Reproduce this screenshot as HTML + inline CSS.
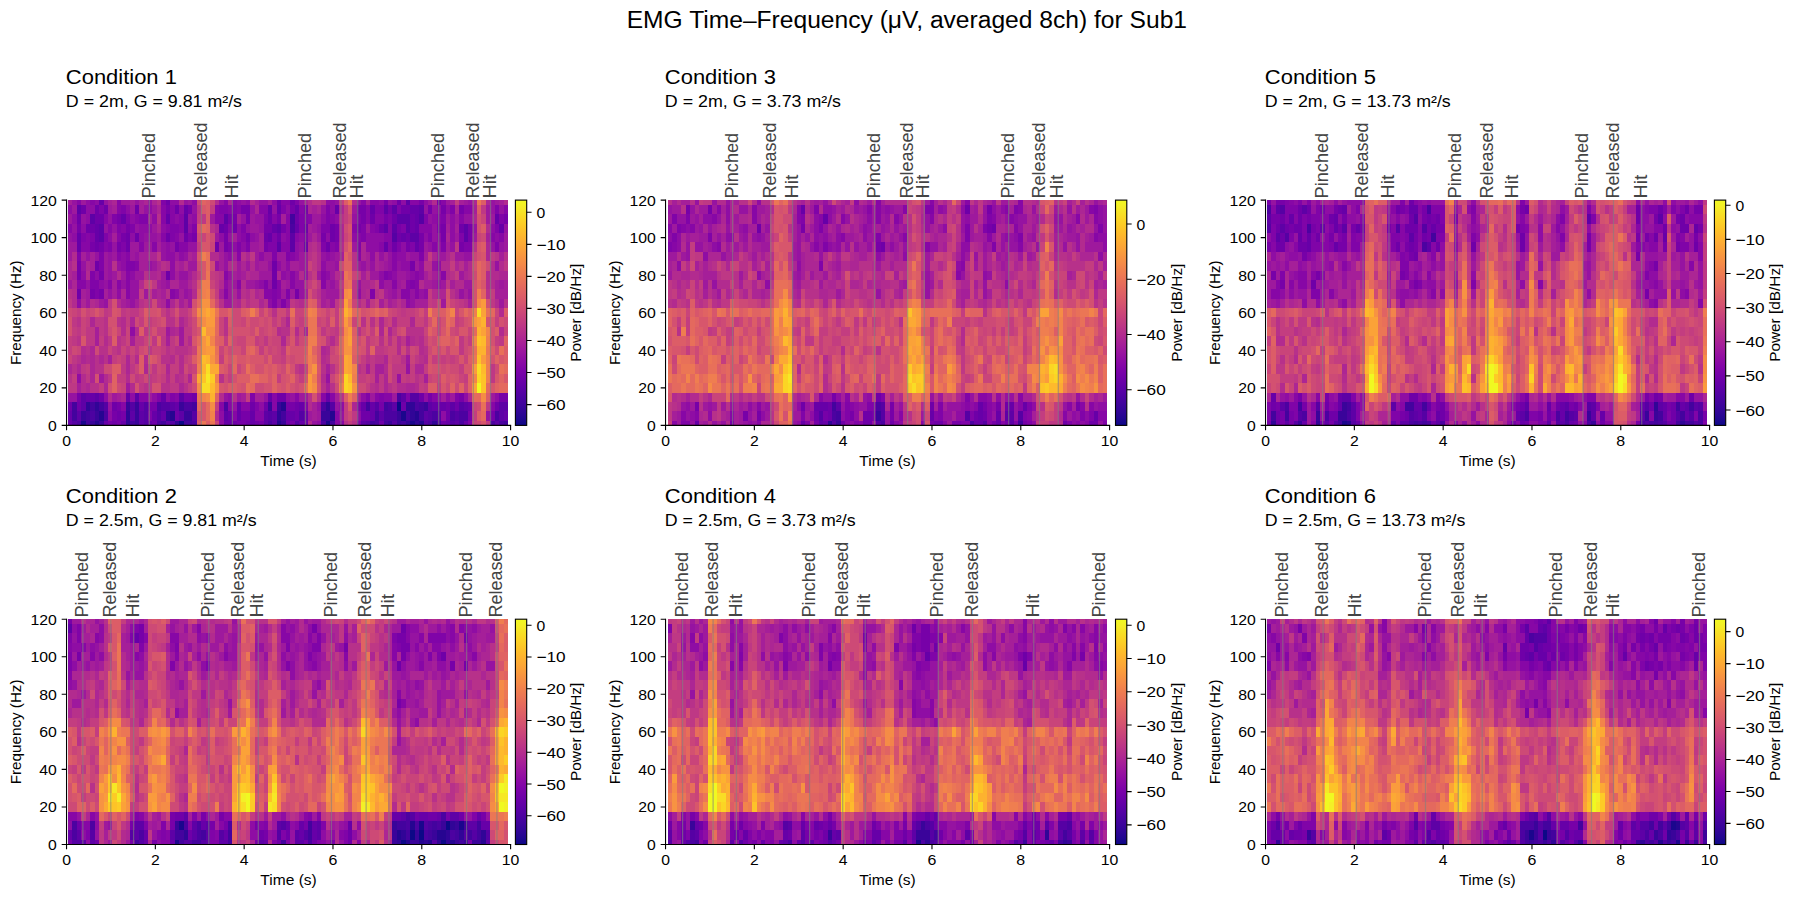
<!DOCTYPE html>
<html><head><meta charset="utf-8"><style>html,body{margin:0;padding:0;background:#fff;width:1793px;height:897px;overflow:hidden}svg{display:block}text{font-family:"Liberation Sans",sans-serif}</style></head><body>
<svg width="1793" height="897" viewBox="0 0 1793 897" font-family="Liberation Sans, sans-serif">
<rect width="1793" height="897" fill="#fff"/>
<defs><linearGradient id="pl" x1="0" y1="0" x2="0" y2="1"><stop offset="0.000" stop-color="#f0f921"/><stop offset="0.031" stop-color="#f4ed27"/><stop offset="0.062" stop-color="#f8df25"/><stop offset="0.094" stop-color="#fcd225"/><stop offset="0.125" stop-color="#fdc527"/><stop offset="0.156" stop-color="#feb82c"/><stop offset="0.188" stop-color="#fdac33"/><stop offset="0.219" stop-color="#fba139"/><stop offset="0.250" stop-color="#f89540"/><stop offset="0.281" stop-color="#f58b47"/><stop offset="0.312" stop-color="#f0804e"/><stop offset="0.344" stop-color="#eb7655"/><stop offset="0.375" stop-color="#e66c5c"/><stop offset="0.406" stop-color="#e06363"/><stop offset="0.438" stop-color="#da5a6a"/><stop offset="0.469" stop-color="#d35171"/><stop offset="0.500" stop-color="#cc4778"/><stop offset="0.531" stop-color="#c43e7f"/><stop offset="0.562" stop-color="#bc3587"/><stop offset="0.594" stop-color="#b32c8e"/><stop offset="0.625" stop-color="#aa2395"/><stop offset="0.656" stop-color="#a01a9c"/><stop offset="0.688" stop-color="#9511a1"/><stop offset="0.719" stop-color="#8a09a5"/><stop offset="0.750" stop-color="#7e03a8"/><stop offset="0.781" stop-color="#7201a8"/><stop offset="0.812" stop-color="#6600a7"/><stop offset="0.844" stop-color="#5901a5"/><stop offset="0.875" stop-color="#4c02a1"/><stop offset="0.906" stop-color="#3f049c"/><stop offset="0.938" stop-color="#310597"/><stop offset="0.969" stop-color="#220690"/><stop offset="1.000" stop-color="#0d0887"/></linearGradient></defs>
<g transform="translate(67.940 200.100) scale(4.44505 4.69375)" shape-rendering="crispEdges">
<path fill="#0d0887" d="M25 47h1v1h-1zM74 43h1v2h-1z"/>
<path fill="#1b068d" d="M3 47h1v1h-1zM58 47h1v1h-1zM77 47h1v1h-1zM75 45h1v2h-1z"/>
<path fill="#260591" d="M6 47h1v1h-1zM47 47h1v1h-1zM79 47h1v1h-1zM7 45h1v2h-1zM23 45h1v2h-1zM59 45h1v2h-1zM78 45h1v2h-1zM48 43h1v2h-1z"/>
<path fill="#310597" d="M13 47h1v1h-1zM24 47h1v1h-1zM76 47h1v1h-1zM78 47h1v1h-1zM82 47h1v1h-1zM13 45h1v2h-1zM22 45h1v2h-1zM47 45h1v2h-1zM77 45h1v2h-1zM4 43h1v2h-1zM6 43h1v2h-1zM58 43h1v2h-1zM76 43h2v2h-2z"/>
<path fill="#3a049a" d="M5 47h1v1h-1zM7 47h1v1h-1zM15 47h1v1h-1zM48 47h1v1h-1zM72 47h1v1h-1zM74 47h1v1h-1zM3 45h1v2h-1zM6 45h1v2h-1zM15 45h1v2h-1zM26 45h2v2h-2zM57 45h2v2h-2zM74 45h1v2h-1zM13 43h1v2h-1zM15 43h1v2h-1zM25 43h1v2h-1zM45 43h1v2h-1zM47 43h1v2h-1zM80 43h1v2h-1z"/>
<path fill="#44039e" d="M4 47h1v1h-1zM14 47h1v1h-1zM21 47h1v1h-1zM26 47h2v1h-2zM59 47h1v1h-1zM68 47h1v1h-1zM71 47h1v1h-1zM75 47h1v1h-1zM98 47h1v1h-1zM1 45h1v2h-1zM4 45h1v2h-1zM48 45h1v2h-1zM69 45h1v2h-1zM76 45h1v2h-1zM79 45h1v2h-1zM1 43h1v2h-1zM5 43h1v2h-1zM7 43h1v2h-1zM28 43h1v2h-1zM67 43h1v2h-1zM71 43h1v2h-1zM79 43h1v2h-1zM50 3h1v2h-1z"/>
<path fill="#4c02a1" d="M2 47h1v1h-1zM20 47h1v1h-1zM28 47h1v1h-1zM45 47h1v1h-1zM57 47h1v1h-1zM69 47h1v1h-1zM81 47h1v1h-1zM83 47h1v1h-1zM88 47h1v1h-1zM95 47h1v1h-1zM97 47h1v1h-1zM5 45h1v2h-1zM8 45h1v2h-1zM71 45h3v2h-3zM82 45h1v2h-1zM86 45h1v2h-1zM88 45h2v2h-2zM96 45h1v2h-1zM20 43h1v2h-1zM26 43h2v2h-2zM35 43h1v2h-1zM57 43h1v2h-1zM72 43h1v2h-1zM78 43h1v2h-1zM74 41h1v2h-1zM50 5h1v2h-1z"/>
<path fill="#5601a4" d="M1 47h1v1h-1zM17 47h1v1h-1zM23 47h1v1h-1zM51 47h1v1h-1zM67 47h1v1h-1zM73 47h1v1h-1zM80 47h1v1h-1zM86 47h1v1h-1zM17 45h1v2h-1zM20 45h1v2h-1zM28 45h1v2h-1zM45 45h1v2h-1zM52 45h1v2h-1zM81 45h1v2h-1zM83 45h1v2h-1zM87 45h1v2h-1zM8 43h1v2h-1zM14 43h1v2h-1zM17 43h1v2h-1zM21 43h2v2h-2zM59 43h1v2h-1zM69 43h1v2h-1zM88 43h1v2h-1zM77 41h2v2h-2zM73 7h1v2h-1zM79 3h1v2h-1z"/>
<path fill="#5e01a6" d="M16 47h1v1h-1zM22 47h1v1h-1zM44 47h1v1h-1zM46 47h1v1h-1zM66 47h1v1h-1zM87 47h1v1h-1zM96 47h1v1h-1zM2 45h1v2h-1zM14 45h1v2h-1zM16 45h1v2h-1zM25 45h1v2h-1zM35 45h1v2h-1zM44 45h1v2h-1zM46 45h1v2h-1zM70 45h1v2h-1zM80 45h1v2h-1zM97 45h1v2h-1zM3 43h1v2h-1zM23 43h1v2h-1zM73 43h1v2h-1zM81 43h1v2h-1zM86 43h1v2h-1zM89 43h1v2h-1zM97 43h2v2h-2zM3 41h1v2h-1zM6 41h1v2h-1zM15 41h1v2h-1zM25 41h1v2h-1zM75 41h1v2h-1zM47 9h1v2h-1zM50 9h1v2h-1zM7 7h1v2h-1zM50 7h1v2h-1zM77 7h2v2h-2zM89 7h1v2h-1zM7 5h1v2h-1zM26 5h1v2h-1zM47 5h1v2h-1zM71 5h1v2h-1zM73 5h1v2h-1zM76 5h1v2h-1zM89 5h1v2h-1zM5 3h1v2h-1zM26 3h1v2h-1zM35 3h1v2h-1zM74 3h3v2h-3zM2 1h1v2h-1zM71 1h1v2h-1zM73 1h1v2h-1zM79 1h1v2h-1zM76 0h1v1h-1z"/>
<path fill="#6700a8" d="M0 47h1v1h-1zM8 47h1v1h-1zM12 47h1v1h-1zM18 47h1v1h-1zM35 47h2v1h-2zM41 47h1v1h-1zM52 47h2v1h-2zM85 47h1v1h-1zM89 47h1v1h-1zM0 45h1v2h-1zM19 45h1v2h-1zM21 45h1v2h-1zM36 45h1v2h-1zM38 45h1v2h-1zM41 45h1v2h-1zM49 45h2v2h-2zM53 45h1v2h-1zM68 45h1v2h-1zM98 45h1v2h-1zM16 43h1v2h-1zM24 43h1v2h-1zM38 43h1v2h-1zM52 43h1v2h-1zM66 43h1v2h-1zM68 43h1v2h-1zM82 43h3v2h-3zM90 43h1v2h-1zM4 41h2v2h-2zM13 41h1v2h-1zM21 41h1v2h-1zM45 41h1v2h-1zM58 41h1v2h-1zM2 9h1v2h-1zM71 9h1v2h-1zM78 9h1v2h-1zM2 7h1v2h-1zM6 7h1v2h-1zM45 7h1v2h-1zM75 7h1v2h-1zM6 5h1v2h-1zM34 5h1v2h-1zM46 5h1v2h-1zM51 5h1v2h-1zM78 5h1v2h-1zM97 5h1v2h-1zM12 3h1v2h-1zM22 3h1v2h-1zM78 3h1v2h-1zM96 3h1v2h-1zM26 1h1v2h-1zM45 1h1v2h-1zM47 1h1v2h-1zM51 1h1v2h-1zM60 1h1v2h-1zM68 1h1v2h-1zM77 1h2v2h-2zM7 0h1v1h-1z"/>
<path fill="#6f00a8" d="M10 47h1v1h-1zM19 47h1v1h-1zM37 47h1v1h-1zM40 47h1v1h-1zM42 47h1v1h-1zM49 47h1v1h-1zM70 47h1v1h-1zM84 47h1v1h-1zM11 45h1v2h-1zM24 45h1v2h-1zM51 45h1v2h-1zM66 45h2v2h-2zM85 45h1v2h-1zM0 43h1v2h-1zM2 43h1v2h-1zM10 43h1v2h-1zM41 43h1v2h-1zM44 43h1v2h-1zM51 43h1v2h-1zM75 43h1v2h-1zM85 43h1v2h-1zM87 43h1v2h-1zM96 43h1v2h-1zM7 41h1v2h-1zM28 41h1v2h-1zM47 41h2v2h-2zM79 41h1v2h-1zM2 19h1v2h-1zM46 17h1v2h-1zM22 15h1v2h-1zM46 15h1v2h-1zM6 13h1v2h-1zM46 13h1v2h-1zM6 9h1v2h-1zM13 9h1v2h-1zM33 9h1v2h-1zM53 9h1v2h-1zM58 9h1v2h-1zM73 9h1v2h-1zM13 7h1v2h-1zM15 7h1v2h-1zM22 7h1v2h-1zM26 7h1v2h-1zM44 7h1v2h-1zM47 7h1v2h-1zM59 7h1v2h-1zM74 7h1v2h-1zM76 7h1v2h-1zM4 5h2v2h-2zM35 5h1v2h-1zM37 5h1v2h-1zM53 5h1v2h-1zM59 5h1v2h-1zM70 5h1v2h-1zM77 5h1v2h-1zM88 5h1v2h-1zM2 3h1v2h-1zM6 3h2v2h-2zM45 3h1v2h-1zM51 3h1v2h-1zM68 3h1v2h-1zM73 3h1v2h-1zM77 3h1v2h-1zM3 1h1v2h-1zM6 1h1v2h-1zM8 1h1v2h-1zM15 1h1v2h-1zM24 1h1v2h-1zM75 1h2v2h-2zM22 0h1v1h-1zM47 0h1v1h-1zM50 0h1v1h-1zM74 0h1v1h-1z"/>
<path fill="#7701a8" d="M9 47h1v1h-1zM11 47h1v1h-1zM38 47h2v1h-2zM43 47h1v1h-1zM50 47h1v1h-1zM10 45h1v2h-1zM12 45h1v2h-1zM39 45h2v2h-2zM90 45h1v2h-1zM95 45h1v2h-1zM11 43h1v2h-1zM18 43h2v2h-2zM49 43h2v2h-2zM70 43h1v2h-1zM2 41h1v2h-1zM26 41h2v2h-2zM81 41h1v2h-1zM88 41h1v2h-1zM97 41h2v2h-2zM5 19h1v2h-1zM7 19h1v2h-1zM51 19h1v2h-1zM2 15h1v2h-1zM7 15h1v2h-1zM2 13h1v2h-1zM77 13h1v2h-1zM5 9h1v2h-1zM7 9h1v2h-1zM11 9h1v2h-1zM24 9h1v2h-1zM35 9h1v2h-1zM44 9h1v2h-1zM76 9h1v2h-1zM79 9h1v2h-1zM88 9h1v2h-1zM12 7h1v2h-1zM28 7h1v2h-1zM35 7h1v2h-1zM40 7h1v2h-1zM57 7h1v2h-1zM60 7h1v2h-1zM79 7h1v2h-1zM84 7h1v2h-1zM90 7h1v2h-1zM2 5h1v2h-1zM13 5h1v2h-1zM44 5h2v2h-2zM48 5h1v2h-1zM60 5h1v2h-1zM65 5h1v2h-1zM74 5h1v2h-1zM84 5h1v2h-1zM90 5h1v2h-1zM11 3h1v2h-1zM36 3h2v2h-2zM40 3h1v2h-1zM47 3h1v2h-1zM66 3h1v2h-1zM71 3h1v2h-1zM98 3h1v2h-1zM22 1h1v2h-1zM27 1h1v2h-1zM39 1h2v2h-2zM50 1h1v2h-1zM53 1h1v2h-1zM65 1h2v2h-2zM72 1h1v2h-1zM81 1h1v2h-1zM84 1h1v2h-1zM88 1h1v2h-1zM71 0h1v1h-1zM79 0h1v1h-1zM83 0h1v1h-1z"/>
<path fill="#8004a8" d="M65 47h1v1h-1zM90 47h1v1h-1zM18 45h1v2h-1zM42 43h1v2h-1zM53 43h1v2h-1zM65 43h1v2h-1zM20 41h1v2h-1zM23 41h1v2h-1zM41 41h1v2h-1zM67 41h1v2h-1zM70 41h1v2h-1zM76 41h1v2h-1zM87 41h1v2h-1zM46 21h1v2h-1zM48 21h1v2h-1zM6 19h1v2h-1zM46 19h1v2h-1zM49 19h1v2h-1zM68 19h1v2h-1zM5 17h2v2h-2zM44 17h1v2h-1zM77 17h1v2h-1zM5 15h1v2h-1zM71 15h1v2h-1zM7 13h1v2h-1zM13 13h2v2h-2zM2 11h1v2h-1zM7 11h1v2h-1zM46 11h1v2h-1zM49 11h1v2h-1zM79 11h1v2h-1zM9 9h1v2h-1zM12 9h1v2h-1zM36 9h1v2h-1zM38 9h1v2h-1zM40 9h1v2h-1zM45 9h2v2h-2zM57 9h1v2h-1zM60 9h1v2h-1zM65 9h1v2h-1zM74 9h1v2h-1zM77 9h1v2h-1zM84 9h1v2h-1zM89 9h2v2h-2zM96 9h1v2h-1zM3 7h1v2h-1zM5 7h1v2h-1zM8 7h1v2h-1zM23 7h1v2h-1zM27 7h1v2h-1zM46 7h1v2h-1zM53 7h1v2h-1zM66 7h1v2h-1zM81 7h1v2h-1zM88 7h1v2h-1zM11 5h1v2h-1zM14 5h1v2h-1zM23 5h2v2h-2zM28 5h1v2h-1zM39 5h1v2h-1zM52 5h1v2h-1zM57 5h2v2h-2zM66 5h1v2h-1zM69 5h1v2h-1zM75 5h1v2h-1zM83 5h1v2h-1zM96 5h1v2h-1zM10 3h1v2h-1zM13 3h1v2h-1zM16 3h2v2h-2zM44 3h1v2h-1zM52 3h2v2h-2zM58 3h1v2h-1zM65 3h1v2h-1zM72 3h1v2h-1zM80 3h1v2h-1zM84 3h1v2h-1zM97 3h1v2h-1zM7 1h1v2h-1zM12 1h1v2h-1zM34 1h2v2h-2zM37 1h1v2h-1zM48 1h1v2h-1zM58 1h1v2h-1zM69 1h2v2h-2zM74 1h1v2h-1zM86 1h1v2h-1zM96 1h1v2h-1zM21 0h1v1h-1zM51 0h1v1h-1z"/>
<path fill="#8707a6" d="M60 47h2v1h-2zM37 45h1v2h-1zM42 45h2v2h-2zM60 45h1v2h-1zM12 43h1v2h-1zM34 43h1v2h-1zM36 43h1v2h-1zM39 43h2v2h-2zM46 43h1v2h-1zM95 43h1v2h-1zM16 41h2v2h-2zM24 41h1v2h-1zM46 41h1v2h-1zM51 41h1v2h-1zM57 41h1v2h-1zM59 41h1v2h-1zM69 41h1v2h-1zM71 41h2v2h-2zM82 41h1v2h-1zM13 19h1v2h-1zM23 19h1v2h-1zM35 19h1v2h-1zM44 19h2v2h-2zM47 19h1v2h-1zM75 19h2v2h-2zM78 19h1v2h-1zM2 17h2v2h-2zM9 17h1v2h-1zM11 17h1v2h-1zM13 17h1v2h-1zM38 17h1v2h-1zM47 17h1v2h-1zM50 17h1v2h-1zM57 17h1v2h-1zM73 17h1v2h-1zM76 17h1v2h-1zM78 17h1v2h-1zM13 15h1v2h-1zM35 15h1v2h-1zM50 15h1v2h-1zM57 15h1v2h-1zM72 15h1v2h-1zM78 15h1v2h-1zM84 15h1v2h-1zM15 13h1v2h-1zM73 13h1v2h-1zM11 11h1v2h-1zM13 11h1v2h-1zM38 11h1v2h-1zM50 11h1v2h-1zM65 11h1v2h-1zM73 11h1v2h-1zM3 9h2v2h-2zM8 9h1v2h-1zM16 9h1v2h-1zM19 9h1v2h-1zM25 9h2v2h-2zM48 9h2v2h-2zM59 9h1v2h-1zM70 9h1v2h-1zM72 9h1v2h-1zM82 9h1v2h-1zM4 7h1v2h-1zM11 7h1v2h-1zM21 7h1v2h-1zM24 7h1v2h-1zM39 7h1v2h-1zM49 7h1v2h-1zM51 7h1v2h-1zM65 7h1v2h-1zM71 7h2v2h-2zM95 7h1v2h-1zM97 7h1v2h-1zM0 5h1v2h-1zM9 5h1v2h-1zM12 5h1v2h-1zM22 5h1v2h-1zM25 5h1v2h-1zM36 5h1v2h-1zM49 5h1v2h-1zM64 5h1v2h-1zM68 5h1v2h-1zM72 5h1v2h-1zM79 5h3v2h-3zM8 3h1v2h-1zM15 3h1v2h-1zM21 3h1v2h-1zM23 3h1v2h-1zM25 3h1v2h-1zM33 3h2v2h-2zM46 3h1v2h-1zM49 3h1v2h-1zM54 3h1v2h-1zM59 3h1v2h-1zM67 3h1v2h-1zM69 3h2v2h-2zM83 3h1v2h-1zM88 3h1v2h-1zM11 1h1v2h-1zM21 1h1v2h-1zM23 1h1v2h-1zM33 1h1v2h-1zM36 1h1v2h-1zM38 1h1v2h-1zM43 1h2v2h-2zM52 1h1v2h-1zM67 1h1v2h-1zM89 1h2v2h-2zM98 1h1v2h-1zM2 0h1v1h-1zM5 0h1v1h-1zM11 0h1v1h-1zM35 0h1v1h-1zM37 0h1v1h-1zM48 0h2v1h-2zM66 0h1v1h-1zM68 0h2v1h-2zM77 0h2v1h-2zM84 0h1v1h-1z"/>
<path fill="#8f0da4" d="M34 47h1v1h-1zM56 47h1v1h-1zM9 45h1v2h-1zM34 45h1v2h-1zM65 45h1v2h-1zM84 45h1v2h-1zM43 43h1v2h-1zM61 43h1v2h-1zM8 41h1v2h-1zM14 41h1v2h-1zM19 41h1v2h-1zM22 41h1v2h-1zM36 41h1v2h-1zM49 41h1v2h-1zM66 41h1v2h-1zM80 41h1v2h-1zM83 41h1v2h-1zM85 41h1v2h-1zM89 41h1v2h-1zM96 41h1v2h-1zM2 37h1v2h-1zM14 27h1v2h-1zM2 21h1v2h-1zM22 21h1v2h-1zM45 21h1v2h-1zM76 21h1v2h-1zM11 19h1v2h-1zM24 19h1v2h-1zM65 19h1v2h-1zM80 19h1v2h-1zM7 17h1v2h-1zM35 17h1v2h-1zM43 17h1v2h-1zM70 17h1v2h-1zM3 15h1v2h-1zM6 15h1v2h-1zM14 15h1v2h-1zM23 15h1v2h-1zM48 15h1v2h-1zM58 15h1v2h-1zM70 15h1v2h-1zM73 15h1v2h-1zM77 15h1v2h-1zM79 15h1v2h-1zM12 13h1v2h-1zM23 13h1v2h-1zM47 13h1v2h-1zM49 13h1v2h-1zM57 13h1v2h-1zM75 13h2v2h-2zM79 13h1v2h-1zM83 13h1v2h-1zM12 11h1v2h-1zM22 11h2v2h-2zM25 11h1v2h-1zM36 11h1v2h-1zM43 11h1v2h-1zM51 11h1v2h-1zM58 11h1v2h-1zM68 11h1v2h-1zM74 11h2v2h-2zM22 9h1v2h-1zM37 9h1v2h-1zM39 9h1v2h-1zM51 9h1v2h-1zM67 9h3v2h-3zM75 9h1v2h-1zM1 7h1v2h-1zM9 7h1v2h-1zM14 7h1v2h-1zM16 7h1v2h-1zM34 7h1v2h-1zM38 7h1v2h-1zM41 7h1v2h-1zM48 7h1v2h-1zM52 7h1v2h-1zM58 7h1v2h-1zM64 7h1v2h-1zM67 7h4v2h-4zM80 7h1v2h-1zM83 7h1v2h-1zM86 7h1v2h-1zM96 7h1v2h-1zM3 5h1v2h-1zM16 5h3v2h-3zM21 5h1v2h-1zM27 5h1v2h-1zM38 5h1v2h-1zM86 5h1v2h-1zM95 5h1v2h-1zM1 3h1v2h-1zM4 3h1v2h-1zM14 3h1v2h-1zM19 3h1v2h-1zM24 3h1v2h-1zM28 3h1v2h-1zM57 3h1v2h-1zM60 3h1v2h-1zM82 3h1v2h-1zM86 3h1v2h-1zM0 1h1v2h-1zM4 1h2v2h-2zM13 1h1v2h-1zM18 1h1v2h-1zM25 1h1v2h-1zM49 1h1v2h-1zM59 1h1v2h-1zM83 1h1v2h-1zM85 1h1v2h-1zM4 0h1v1h-1zM6 0h1v1h-1zM23 0h2v1h-2zM28 0h1v1h-1zM38 0h1v1h-1zM40 0h1v1h-1zM46 0h1v1h-1zM58 0h2v1h-2zM70 0h1v1h-1zM73 0h1v1h-1zM75 0h1v1h-1zM80 0h1v1h-1z"/>
<path fill="#9613a1" d="M55 47h1v1h-1zM61 45h1v2h-1zM94 45h1v2h-1zM9 43h1v2h-1zM37 43h1v2h-1zM56 43h1v2h-1zM60 43h1v2h-1zM0 41h2v2h-2zM35 41h1v2h-1zM44 41h1v2h-1zM50 41h1v2h-1zM58 37h1v2h-1zM74 37h1v2h-1zM76 35h1v2h-1zM8 21h1v2h-1zM14 21h1v2h-1zM47 21h1v2h-1zM49 21h1v2h-1zM77 21h1v2h-1zM9 19h1v2h-1zM14 19h2v2h-2zM26 19h1v2h-1zM38 19h1v2h-1zM52 19h1v2h-1zM73 19h1v2h-1zM77 19h1v2h-1zM79 19h1v2h-1zM88 19h1v2h-1zM90 19h1v2h-1zM4 17h1v2h-1zM8 17h1v2h-1zM12 17h1v2h-1zM14 17h2v2h-2zM22 17h1v2h-1zM42 17h1v2h-1zM45 17h1v2h-1zM51 17h2v2h-2zM59 17h1v2h-1zM65 17h1v2h-1zM83 17h1v2h-1zM9 15h1v2h-1zM25 15h2v2h-2zM36 15h1v2h-1zM49 15h1v2h-1zM51 15h1v2h-1zM53 15h1v2h-1zM76 15h1v2h-1zM3 13h1v2h-1zM9 13h1v2h-1zM11 13h1v2h-1zM18 13h1v2h-1zM33 13h1v2h-1zM35 13h1v2h-1zM45 13h1v2h-1zM60 13h1v2h-1zM66 13h1v2h-1zM68 13h1v2h-1zM72 13h1v2h-1zM74 13h1v2h-1zM82 13h1v2h-1zM96 13h1v2h-1zM4 11h1v2h-1zM6 11h1v2h-1zM9 11h1v2h-1zM15 11h1v2h-1zM21 11h1v2h-1zM26 11h1v2h-1zM35 11h1v2h-1zM57 11h1v2h-1zM59 11h1v2h-1zM70 11h1v2h-1zM72 11h1v2h-1zM77 11h2v2h-2zM89 11h2v2h-2zM10 9h1v2h-1zM21 9h1v2h-1zM23 9h1v2h-1zM27 9h2v2h-2zM52 9h1v2h-1zM81 9h1v2h-1zM83 9h1v2h-1zM86 9h1v2h-1zM95 9h1v2h-1zM97 9h1v2h-1zM0 7h1v2h-1zM17 7h3v2h-3zM25 7h1v2h-1zM36 7h1v2h-1zM42 7h1v2h-1zM82 7h1v2h-1zM1 5h1v2h-1zM8 5h1v2h-1zM10 5h1v2h-1zM15 5h1v2h-1zM40 5h1v2h-1zM43 5h1v2h-1zM56 5h1v2h-1zM82 5h1v2h-1zM91 5h1v2h-1zM98 5h1v2h-1zM3 3h1v2h-1zM9 3h1v2h-1zM27 3h1v2h-1zM39 3h1v2h-1zM42 3h2v2h-2zM64 3h1v2h-1zM81 3h1v2h-1zM89 3h2v2h-2zM17 1h1v2h-1zM28 1h1v2h-1zM41 1h1v2h-1zM46 1h1v2h-1zM57 1h1v2h-1zM80 1h1v2h-1zM82 1h1v2h-1zM95 1h1v2h-1zM97 1h1v2h-1zM1 0h1v1h-1zM8 0h1v1h-1zM15 0h1v1h-1zM18 0h1v1h-1zM26 0h1v1h-1zM34 0h1v1h-1zM39 0h1v1h-1zM43 0h2v1h-2zM52 0h1v1h-1zM60 0h1v1h-1zM65 0h1v1h-1zM72 0h1v1h-1zM90 0h1v1h-1zM95 0h1v1h-1z"/>
<path fill="#9e199d" d="M54 45h1v2h-1zM56 45h1v2h-1zM10 41h1v2h-1zM18 41h1v2h-1zM38 41h1v2h-1zM52 41h2v2h-2zM68 41h1v2h-1zM73 41h1v2h-1zM86 41h1v2h-1zM95 41h1v2h-1zM13 39h1v2h-1zM7 37h1v2h-1zM76 33h1v2h-1zM25 29h1v2h-1zM22 27h1v2h-1zM25 27h1v2h-1zM4 21h1v2h-1zM7 21h1v2h-1zM13 21h1v2h-1zM27 21h1v2h-1zM35 21h2v2h-2zM59 21h1v2h-1zM84 21h1v2h-1zM97 21h1v2h-1zM4 19h1v2h-1zM17 19h1v2h-1zM27 19h1v2h-1zM36 19h1v2h-1zM48 19h1v2h-1zM50 19h1v2h-1zM58 19h3v2h-3zM72 19h1v2h-1zM0 17h1v2h-1zM21 17h1v2h-1zM25 17h2v2h-2zM36 17h2v2h-2zM40 17h2v2h-2zM49 17h1v2h-1zM58 17h1v2h-1zM71 17h2v2h-2zM74 17h1v2h-1zM82 17h1v2h-1zM84 17h1v2h-1zM89 17h2v2h-2zM97 17h1v2h-1zM8 15h1v2h-1zM10 15h1v2h-1zM12 15h1v2h-1zM15 15h2v2h-2zM21 15h1v2h-1zM38 15h1v2h-1zM43 15h3v2h-3zM56 15h1v2h-1zM59 15h1v2h-1zM68 15h2v2h-2zM74 15h2v2h-2zM83 15h1v2h-1zM88 15h1v2h-1zM8 13h1v2h-1zM19 13h1v2h-1zM27 13h2v2h-2zM38 13h1v2h-1zM40 13h1v2h-1zM42 13h1v2h-1zM48 13h1v2h-1zM52 13h2v2h-2zM58 13h2v2h-2zM65 13h1v2h-1zM71 13h1v2h-1zM78 13h1v2h-1zM0 11h1v2h-1zM8 11h1v2h-1zM10 11h1v2h-1zM14 11h1v2h-1zM24 11h1v2h-1zM42 11h1v2h-1zM44 11h2v2h-2zM47 11h2v2h-2zM52 11h2v2h-2zM60 11h1v2h-1zM76 11h1v2h-1zM83 11h2v2h-2zM87 11h2v2h-2zM0 9h2v2h-2zM14 9h2v2h-2zM17 9h2v2h-2zM34 9h1v2h-1zM41 9h2v2h-2zM64 9h1v2h-1zM80 9h1v2h-1zM98 9h1v2h-1zM20 7h1v2h-1zM33 7h1v2h-1zM54 7h1v2h-1zM56 7h1v2h-1zM87 7h1v2h-1zM91 7h1v2h-1zM98 7h1v2h-1zM19 5h1v2h-1zM41 5h2v2h-2zM55 5h1v2h-1zM67 5h1v2h-1zM0 3h1v2h-1zM32 3h1v2h-1zM41 3h1v2h-1zM55 3h2v2h-2zM85 3h1v2h-1zM87 3h1v2h-1zM94 3h2v2h-2zM1 1h1v2h-1zM9 1h1v2h-1zM14 1h1v2h-1zM19 1h1v2h-1zM64 1h1v2h-1zM94 1h1v2h-1zM3 0h1v1h-1zM12 0h2v1h-2zM27 0h1v1h-1zM81 0h1v1h-1zM85 0h1v1h-1zM89 0h1v1h-1zM96 0h1v1h-1z"/>
<path fill="#a51f99" d="M55 45h1v2h-1zM55 43h1v2h-1zM11 41h1v2h-1zM39 41h1v2h-1zM42 41h2v2h-2zM60 41h1v2h-1zM65 41h1v2h-1zM84 41h1v2h-1zM2 39h1v2h-1zM58 39h1v2h-1zM69 37h1v2h-1zM80 37h1v2h-1zM58 35h1v2h-1zM67 35h1v2h-1zM69 35h2v2h-2zM9 33h1v2h-1zM6 29h1v2h-1zM14 29h1v2h-1zM22 29h1v2h-1zM76 29h1v2h-1zM6 27h1v2h-1zM12 21h1v2h-1zM15 21h1v2h-1zM25 21h1v2h-1zM57 21h1v2h-1zM67 21h1v2h-1zM70 21h1v2h-1zM72 21h1v2h-1zM78 21h3v2h-3zM90 21h1v2h-1zM3 19h1v2h-1zM8 19h1v2h-1zM10 19h1v2h-1zM19 19h1v2h-1zM21 19h1v2h-1zM25 19h1v2h-1zM34 19h1v2h-1zM53 19h1v2h-1zM57 19h1v2h-1zM71 19h1v2h-1zM74 19h1v2h-1zM89 19h1v2h-1zM96 19h3v2h-3zM10 17h1v2h-1zM20 17h1v2h-1zM48 17h1v2h-1zM60 17h1v2h-1zM75 17h1v2h-1zM80 17h2v2h-2zM86 17h1v2h-1zM96 17h1v2h-1zM98 17h1v2h-1zM1 15h1v2h-1zM24 15h1v2h-1zM27 15h1v2h-1zM37 15h1v2h-1zM39 15h1v2h-1zM66 15h1v2h-1zM80 15h1v2h-1zM82 15h1v2h-1zM5 13h1v2h-1zM16 13h2v2h-2zM25 13h1v2h-1zM34 13h1v2h-1zM43 13h2v2h-2zM50 13h2v2h-2zM67 13h1v2h-1zM70 13h1v2h-1zM89 13h1v2h-1zM3 11h1v2h-1zM5 11h1v2h-1zM16 11h2v2h-2zM28 11h1v2h-1zM34 11h1v2h-1zM37 11h1v2h-1zM61 11h1v2h-1zM67 11h1v2h-1zM71 11h1v2h-1zM80 11h1v2h-1zM97 11h1v2h-1zM20 9h1v2h-1zM43 9h1v2h-1zM85 9h1v2h-1zM10 7h1v2h-1zM37 7h1v2h-1zM43 7h1v2h-1zM94 7h1v2h-1zM54 5h1v2h-1zM85 5h1v2h-1zM87 5h1v2h-1zM18 3h1v2h-1zM38 3h1v2h-1zM48 3h1v2h-1zM10 1h1v2h-1zM16 1h1v2h-1zM55 1h1v2h-1zM91 1h1v2h-1zM0 0h1v1h-1zM9 0h1v1h-1zM14 0h1v1h-1zM16 0h1v1h-1zM42 0h1v1h-1zM45 0h1v1h-1zM53 0h1v1h-1zM67 0h1v1h-1zM86 0h1v1h-1zM88 0h1v1h-1zM97 0h1v1h-1z"/>
<path fill="#ac2694" d="M64 43h1v2h-1zM12 41h1v2h-1zM90 41h1v2h-1zM4 39h1v2h-1zM8 39h1v2h-1zM25 39h1v2h-1zM71 39h1v2h-1zM76 39h2v2h-2zM5 37h1v2h-1zM27 37h1v2h-1zM71 37h1v2h-1zM0 35h1v2h-1zM2 35h1v2h-1zM5 35h1v2h-1zM13 35h1v2h-1zM17 35h1v2h-1zM22 35h1v2h-1zM78 35h2v2h-2zM3 33h1v2h-1zM5 33h1v2h-1zM7 33h1v2h-1zM13 33h1v2h-1zM71 33h1v2h-1zM5 31h1v2h-1zM57 31h1v2h-1zM48 29h1v2h-1zM23 27h1v2h-1zM53 27h1v2h-1zM70 27h1v2h-1zM72 27h1v2h-1zM5 25h1v2h-1zM14 25h1v2h-1zM25 25h1v2h-1zM49 25h1v2h-1zM70 25h1v2h-1zM77 25h1v2h-1zM3 21h1v2h-1zM6 21h1v2h-1zM21 21h1v2h-1zM23 21h1v2h-1zM38 21h1v2h-1zM43 21h1v2h-1zM58 21h1v2h-1zM73 21h1v2h-1zM75 21h1v2h-1zM12 19h1v2h-1zM20 19h1v2h-1zM37 19h1v2h-1zM42 19h1v2h-1zM66 19h1v2h-1zM83 19h2v2h-2zM87 19h1v2h-1zM1 17h1v2h-1zM23 17h2v2h-2zM27 17h1v2h-1zM66 17h2v2h-2zM0 15h1v2h-1zM18 15h2v2h-2zM41 15h2v2h-2zM47 15h1v2h-1zM89 15h1v2h-1zM97 15h2v2h-2zM0 13h1v2h-1zM4 13h1v2h-1zM20 13h1v2h-1zM24 13h1v2h-1zM39 13h1v2h-1zM69 13h1v2h-1zM87 13h1v2h-1zM18 11h2v2h-2zM27 11h1v2h-1zM40 11h1v2h-1zM66 11h1v2h-1zM69 11h1v2h-1zM82 11h1v2h-1zM85 11h1v2h-1zM94 11h1v2h-1zM56 9h1v2h-1zM66 9h1v2h-1zM94 9h1v2h-1zM55 7h1v2h-1zM61 7h1v2h-1zM85 7h1v2h-1zM20 5h1v2h-1zM33 5h1v2h-1zM61 5h1v2h-1zM91 3h1v2h-1zM20 1h1v2h-1zM42 1h1v2h-1zM54 1h1v2h-1zM56 1h1v2h-1zM61 1h1v2h-1zM87 1h1v2h-1zM10 0h1v1h-1zM17 0h1v1h-1zM19 0h1v1h-1zM36 0h1v1h-1zM91 0h1v1h-1zM94 0h1v1h-1z"/>
<path fill="#b22b8f" d="M54 47h1v1h-1zM33 45h1v2h-1zM54 43h1v2h-1zM9 41h1v2h-1zM34 41h1v2h-1zM3 39h1v2h-1zM14 39h1v2h-1zM69 39h1v2h-1zM74 39h2v2h-2zM78 39h1v2h-1zM3 37h1v2h-1zM8 37h1v2h-1zM13 37h1v2h-1zM22 37h1v2h-1zM24 37h1v2h-1zM57 37h1v2h-1zM25 35h1v2h-1zM71 35h1v2h-1zM4 33h1v2h-1zM15 33h1v2h-1zM17 33h1v2h-1zM23 33h1v2h-1zM25 33h1v2h-1zM57 33h1v2h-1zM80 33h1v2h-1zM3 31h1v2h-1zM58 31h1v2h-1zM74 31h1v2h-1zM79 31h1v2h-1zM8 29h1v2h-1zM27 29h1v2h-1zM59 29h1v2h-1zM74 29h1v2h-1zM77 29h1v2h-1zM79 29h1v2h-1zM12 27h1v2h-1zM15 27h1v2h-1zM24 27h1v2h-1zM47 27h1v2h-1zM51 27h1v2h-1zM97 27h1v2h-1zM12 25h1v2h-1zM73 25h1v2h-1zM97 23h1v2h-1zM1 21h1v2h-1zM5 21h1v2h-1zM11 21h1v2h-1zM20 21h1v2h-1zM26 21h1v2h-1zM37 21h1v2h-1zM52 21h1v2h-1zM65 21h1v2h-1zM96 21h1v2h-1zM1 19h1v2h-1zM28 19h1v2h-1zM40 19h1v2h-1zM43 19h1v2h-1zM67 19h1v2h-1zM82 19h1v2h-1zM16 17h1v2h-1zM34 17h1v2h-1zM39 17h1v2h-1zM53 17h1v2h-1zM68 17h1v2h-1zM79 17h1v2h-1zM87 17h2v2h-2zM94 17h2v2h-2zM4 15h1v2h-1zM11 15h1v2h-1zM20 15h1v2h-1zM28 15h1v2h-1zM40 15h1v2h-1zM52 15h1v2h-1zM60 15h2v2h-2zM81 15h1v2h-1zM85 15h1v2h-1zM90 15h1v2h-1zM94 15h3v2h-3zM22 13h1v2h-1zM26 13h1v2h-1zM36 13h2v2h-2zM41 13h1v2h-1zM56 13h1v2h-1zM84 13h2v2h-2zM90 13h1v2h-1zM95 13h1v2h-1zM97 13h1v2h-1zM1 11h1v2h-1zM32 11h2v2h-2zM56 11h1v2h-1zM54 9h1v2h-1zM61 9h1v2h-1zM94 5h1v2h-1zM25 0h1v1h-1zM33 0h1v1h-1zM41 0h1v1h-1zM54 0h1v1h-1zM64 0h1v1h-1zM82 0h1v1h-1zM98 0h1v1h-1z"/>
<path fill="#b7318a" d="M62 47h1v1h-1zM64 47h1v1h-1zM37 41h1v2h-1zM54 41h1v2h-1zM56 41h1v2h-1zM61 41h1v2h-1zM5 39h2v2h-2zM17 39h1v2h-1zM21 39h2v2h-2zM26 39h1v2h-1zM57 39h1v2h-1zM59 39h1v2h-1zM68 39h1v2h-1zM72 39h1v2h-1zM0 37h1v2h-1zM25 37h1v2h-1zM34 37h1v2h-1zM78 37h1v2h-1zM1 35h1v2h-1zM6 35h2v2h-2zM52 35h1v2h-1zM57 35h1v2h-1zM59 35h1v2h-1zM65 35h1v2h-1zM2 33h1v2h-1zM6 33h1v2h-1zM8 33h1v2h-1zM21 33h2v2h-2zM58 33h1v2h-1zM67 33h1v2h-1zM69 33h2v2h-2zM75 33h1v2h-1zM79 33h1v2h-1zM4 31h1v2h-1zM7 31h2v2h-2zM11 31h1v2h-1zM22 31h1v2h-1zM24 31h3v2h-3zM76 31h1v2h-1zM80 31h1v2h-1zM2 29h1v2h-1zM11 29h1v2h-1zM70 29h1v2h-1zM72 29h1v2h-1zM78 29h1v2h-1zM8 27h1v2h-1zM35 27h1v2h-1zM48 27h2v2h-2zM65 27h1v2h-1zM76 27h4v2h-4zM2 25h1v2h-1zM8 25h1v2h-1zM11 25h1v2h-1zM22 25h2v2h-2zM26 25h1v2h-1zM35 25h1v2h-1zM66 25h1v2h-1zM68 25h1v2h-1zM22 23h1v2h-1zM46 23h1v2h-1zM16 21h1v2h-1zM18 21h1v2h-1zM34 21h1v2h-1zM40 21h1v2h-1zM44 21h1v2h-1zM51 21h1v2h-1zM71 21h1v2h-1zM74 21h1v2h-1zM89 21h1v2h-1zM98 21h1v2h-1zM0 19h1v2h-1zM22 19h1v2h-1zM39 19h1v2h-1zM56 19h1v2h-1zM61 19h1v2h-1zM69 19h1v2h-1zM86 19h1v2h-1zM94 19h1v2h-1zM28 17h1v2h-1zM17 15h1v2h-1zM34 15h1v2h-1zM54 15h1v2h-1zM67 15h1v2h-1zM86 15h1v2h-1zM1 13h1v2h-1zM10 13h1v2h-1zM21 13h1v2h-1zM64 13h1v2h-1zM80 13h2v2h-2zM88 13h1v2h-1zM39 11h1v2h-1zM54 11h1v2h-1zM64 11h1v2h-1zM86 11h1v2h-1zM96 11h1v2h-1zM98 11h1v2h-1zM55 9h1v2h-1zM91 9h1v2h-1zM32 5h1v2h-1zM20 3h1v2h-1zM61 3h1v2h-1zM20 0h1v1h-1zM57 0h1v1h-1z"/>
<path fill="#be3885" d="M64 45h1v2h-1zM94 43h1v2h-1zM0 39h2v2h-2zM16 39h1v2h-1zM18 39h1v2h-1zM23 39h2v2h-2zM70 39h1v2h-1zM73 39h1v2h-1zM80 39h1v2h-1zM4 37h1v2h-1zM9 37h1v2h-1zM15 37h1v2h-1zM18 37h1v2h-1zM70 37h1v2h-1zM73 37h1v2h-1zM76 37h1v2h-1zM79 37h1v2h-1zM95 37h1v2h-1zM3 35h1v2h-1zM12 35h1v2h-1zM14 35h1v2h-1zM19 35h1v2h-1zM51 35h1v2h-1zM66 35h1v2h-1zM68 35h1v2h-1zM73 35h3v2h-3zM95 35h1v2h-1zM1 33h1v2h-1zM68 33h1v2h-1zM78 33h1v2h-1zM10 31h1v2h-1zM13 31h1v2h-1zM15 31h1v2h-1zM18 31h1v2h-1zM23 31h1v2h-1zM27 31h1v2h-1zM48 31h1v2h-1zM67 31h1v2h-1zM69 31h2v2h-2zM88 31h1v2h-1zM1 29h1v2h-1zM4 29h2v2h-2zM9 29h1v2h-1zM12 29h1v2h-1zM15 29h2v2h-2zM19 29h1v2h-1zM21 29h1v2h-1zM23 29h1v2h-1zM26 29h1v2h-1zM44 29h1v2h-1zM51 29h1v2h-1zM58 29h1v2h-1zM67 29h1v2h-1zM75 29h1v2h-1zM88 29h1v2h-1zM97 29h1v2h-1zM2 27h1v2h-1zM4 27h2v2h-2zM7 27h1v2h-1zM17 27h1v2h-1zM26 27h2v2h-2zM57 27h1v2h-1zM60 27h1v2h-1zM73 27h1v2h-1zM1 25h1v2h-1zM6 25h2v2h-2zM48 25h1v2h-1zM80 25h1v2h-1zM8 23h1v2h-1zM12 23h1v2h-1zM14 23h2v2h-2zM25 23h2v2h-2zM49 23h1v2h-1zM75 23h1v2h-1zM0 21h1v2h-1zM9 21h1v2h-1zM17 21h1v2h-1zM24 21h1v2h-1zM41 21h2v2h-2zM50 21h1v2h-1zM56 21h1v2h-1zM60 21h1v2h-1zM66 21h1v2h-1zM68 21h1v2h-1zM82 21h1v2h-1zM88 21h1v2h-1zM95 21h1v2h-1zM18 19h1v2h-1zM41 19h1v2h-1zM64 19h1v2h-1zM70 19h1v2h-1zM19 17h1v2h-1zM33 17h1v2h-1zM56 17h1v2h-1zM61 17h1v2h-1zM64 17h1v2h-1zM69 17h1v2h-1zM85 17h1v2h-1zM33 15h1v2h-1zM65 15h1v2h-1zM55 13h1v2h-1zM98 13h1v2h-1zM20 11h1v2h-1zM41 11h1v2h-1zM55 11h1v2h-1zM95 11h1v2h-1zM87 9h1v2h-1zM30 3h1v2h-1zM29 1h1v2h-1zM93 1h1v2h-1zM55 0h2v1h-2z"/>
<path fill="#c33d80" d="M63 47h1v1h-1zM94 47h1v1h-1zM62 45h1v2h-1zM91 45h1v2h-1zM33 43h1v2h-1zM62 43h1v2h-1zM40 41h1v2h-1zM7 39h1v2h-1zM27 39h1v2h-1zM67 39h1v2h-1zM79 39h1v2h-1zM83 39h1v2h-1zM1 37h1v2h-1zM11 37h2v2h-2zM16 37h1v2h-1zM19 37h1v2h-1zM21 37h1v2h-1zM23 37h1v2h-1zM26 37h1v2h-1zM36 37h1v2h-1zM47 37h1v2h-1zM52 37h1v2h-1zM65 37h2v2h-2zM68 37h1v2h-1zM75 37h1v2h-1zM77 37h1v2h-1zM89 37h1v2h-1zM4 35h1v2h-1zM23 35h2v2h-2zM27 35h1v2h-1zM77 35h1v2h-1zM80 35h1v2h-1zM88 35h1v2h-1zM10 33h1v2h-1zM12 33h1v2h-1zM14 33h1v2h-1zM24 33h1v2h-1zM26 33h1v2h-1zM34 33h1v2h-1zM48 33h1v2h-1zM66 33h1v2h-1zM73 33h2v2h-2zM82 33h1v2h-1zM84 33h1v2h-1zM86 33h1v2h-1zM0 31h1v2h-1zM21 31h1v2h-1zM43 31h1v2h-1zM71 31h1v2h-1zM0 29h1v2h-1zM7 29h1v2h-1zM35 29h1v2h-1zM42 29h1v2h-1zM60 29h1v2h-1zM80 29h1v2h-1zM90 29h1v2h-1zM96 29h1v2h-1zM1 27h1v2h-1zM20 27h2v2h-2zM59 27h1v2h-1zM68 27h1v2h-1zM4 25h1v2h-1zM13 25h1v2h-1zM16 25h1v2h-1zM18 25h1v2h-1zM27 25h1v2h-1zM46 25h1v2h-1zM52 25h1v2h-1zM58 25h1v2h-1zM60 25h1v2h-1zM71 25h1v2h-1zM74 25h3v2h-3zM87 25h1v2h-1zM96 25h1v2h-1zM2 23h1v2h-1zM9 23h1v2h-1zM13 23h1v2h-1zM21 23h1v2h-1zM23 23h1v2h-1zM60 23h1v2h-1zM74 23h1v2h-1zM76 23h2v2h-2zM80 23h1v2h-1zM39 21h1v2h-1zM53 21h1v2h-1zM81 21h1v2h-1zM87 21h1v2h-1zM16 19h1v2h-1zM33 19h1v2h-1zM55 19h1v2h-1zM81 19h1v2h-1zM95 19h1v2h-1zM54 17h1v2h-1zM29 15h1v2h-1zM32 15h1v2h-1zM55 15h1v2h-1zM87 15h1v2h-1zM86 13h1v2h-1zM81 11h1v2h-1zM29 9h1v2h-1zM29 3h1v2h-1zM62 3h1v2h-1zM32 1h1v2h-1zM62 1h1v2h-1zM61 0h1v1h-1zM87 0h1v1h-1z"/>
<path fill="#c9447a" d="M33 47h1v1h-1zM91 47h1v1h-1zM91 43h1v2h-1zM12 39h1v2h-1zM89 39h1v2h-1zM20 37h1v2h-1zM59 37h1v2h-1zM67 37h1v2h-1zM81 37h1v2h-1zM83 37h1v2h-1zM88 37h1v2h-1zM15 35h1v2h-1zM21 35h1v2h-1zM28 35h1v2h-1zM36 35h1v2h-1zM38 35h1v2h-1zM53 35h1v2h-1zM60 35h1v2h-1zM0 33h1v2h-1zM11 33h1v2h-1zM27 33h1v2h-1zM46 33h2v2h-2zM72 33h1v2h-1zM77 33h1v2h-1zM83 33h1v2h-1zM85 33h1v2h-1zM87 33h1v2h-1zM89 33h1v2h-1zM2 31h1v2h-1zM9 31h1v2h-1zM12 31h1v2h-1zM14 31h1v2h-1zM19 31h2v2h-2zM28 31h1v2h-1zM34 31h1v2h-1zM39 31h1v2h-1zM45 31h1v2h-1zM47 31h1v2h-1zM59 31h1v2h-1zM72 31h2v2h-2zM78 31h1v2h-1zM85 31h1v2h-1zM13 29h1v2h-1zM17 29h1v2h-1zM24 29h1v2h-1zM38 29h2v2h-2zM43 29h1v2h-1zM46 29h2v2h-2zM49 29h1v2h-1zM68 29h1v2h-1zM73 29h1v2h-1zM3 27h1v2h-1zM11 27h1v2h-1zM13 27h1v2h-1zM18 27h1v2h-1zM34 27h1v2h-1zM43 27h1v2h-1zM52 27h1v2h-1zM58 27h1v2h-1zM66 27h1v2h-1zM80 27h1v2h-1zM83 27h1v2h-1zM87 27h1v2h-1zM90 27h1v2h-1zM98 27h1v2h-1zM3 25h1v2h-1zM19 25h1v2h-1zM24 25h1v2h-1zM34 25h1v2h-1zM39 25h1v2h-1zM51 25h1v2h-1zM56 25h1v2h-1zM64 25h1v2h-1zM72 25h1v2h-1zM78 25h2v2h-2zM83 25h1v2h-1zM88 25h1v2h-1zM1 23h1v2h-1zM4 23h1v2h-1zM16 23h1v2h-1zM27 23h1v2h-1zM43 23h1v2h-1zM45 23h1v2h-1zM51 23h2v2h-2zM58 23h1v2h-1zM73 23h1v2h-1zM78 23h1v2h-1zM87 23h1v2h-1zM96 23h1v2h-1zM64 21h1v2h-1zM69 21h1v2h-1zM86 21h1v2h-1zM17 17h1v2h-1zM32 17h1v2h-1zM64 15h1v2h-1zM54 13h1v2h-1zM91 11h1v2h-1zM32 9h1v2h-1zM30 7h1v2h-1zM62 7h1v2h-1zM92 7h1v2h-1zM93 3h1v2h-1z"/>
<path fill="#cd4a76" d="M92 47h1v1h-1zM63 45h1v2h-1zM92 43h1v2h-1zM11 39h1v2h-1zM28 39h1v2h-1zM42 39h2v2h-2zM51 39h1v2h-1zM60 39h1v2h-1zM65 39h2v2h-2zM85 39h1v2h-1zM87 39h1v2h-1zM14 37h1v2h-1zM17 37h1v2h-1zM35 37h1v2h-1zM51 37h1v2h-1zM72 37h1v2h-1zM82 37h1v2h-1zM8 35h2v2h-2zM18 35h1v2h-1zM20 35h1v2h-1zM26 35h1v2h-1zM48 35h1v2h-1zM72 35h1v2h-1zM84 35h1v2h-1zM86 35h2v2h-2zM96 35h1v2h-1zM20 33h1v2h-1zM44 33h1v2h-1zM50 33h1v2h-1zM59 33h2v2h-2zM65 33h1v2h-1zM1 31h1v2h-1zM6 31h1v2h-1zM16 31h1v2h-1zM36 31h1v2h-1zM46 31h1v2h-1zM75 31h1v2h-1zM77 31h1v2h-1zM81 31h1v2h-1zM83 31h1v2h-1zM89 31h1v2h-1zM96 31h1v2h-1zM37 29h1v2h-1zM45 29h1v2h-1zM52 29h1v2h-1zM65 29h1v2h-1zM69 29h1v2h-1zM71 29h1v2h-1zM82 29h1v2h-1zM89 29h1v2h-1zM9 27h1v2h-1zM28 27h1v2h-1zM41 27h1v2h-1zM44 27h1v2h-1zM46 27h1v2h-1zM74 27h1v2h-1zM86 27h1v2h-1zM15 25h1v2h-1zM20 25h1v2h-1zM28 25h1v2h-1zM37 25h2v2h-2zM41 25h2v2h-2zM44 25h1v2h-1zM47 25h1v2h-1zM57 25h1v2h-1zM69 25h1v2h-1zM98 25h1v2h-1zM0 23h1v2h-1zM5 23h1v2h-1zM7 23h1v2h-1zM37 23h2v2h-2zM47 23h2v2h-2zM72 23h1v2h-1zM19 21h1v2h-1zM33 21h1v2h-1zM61 21h1v2h-1zM83 21h1v2h-1zM18 17h1v2h-1zM55 17h1v2h-1zM91 15h1v2h-1zM29 13h1v2h-1zM32 13h1v2h-1zM61 13h1v2h-1zM94 13h1v2h-1zM29 7h1v2h-1zM32 7h1v2h-1zM93 7h1v2h-1zM62 5h1v2h-1zM63 3h1v2h-1zM29 0h1v1h-1zM32 0h1v1h-1z"/>
<path fill="#d35171" d="M55 41h1v2h-1zM9 39h1v2h-1zM15 39h1v2h-1zM19 39h2v2h-2zM35 39h1v2h-1zM39 39h1v2h-1zM44 39h2v2h-2zM48 39h1v2h-1zM50 39h1v2h-1zM52 39h1v2h-1zM6 37h1v2h-1zM37 37h1v2h-1zM48 37h1v2h-1zM56 37h1v2h-1zM85 37h1v2h-1zM87 37h1v2h-1zM39 35h1v2h-1zM42 35h2v2h-2zM47 35h1v2h-1zM50 35h1v2h-1zM82 35h2v2h-2zM85 35h1v2h-1zM36 33h1v2h-1zM49 33h1v2h-1zM51 33h2v2h-2zM56 33h1v2h-1zM81 33h1v2h-1zM95 33h1v2h-1zM17 31h1v2h-1zM37 31h2v2h-2zM44 31h1v2h-1zM50 31h3v2h-3zM56 31h1v2h-1zM60 31h1v2h-1zM66 31h1v2h-1zM90 31h1v2h-1zM18 29h1v2h-1zM53 29h1v2h-1zM57 29h1v2h-1zM81 29h1v2h-1zM95 29h1v2h-1zM0 27h1v2h-1zM19 27h1v2h-1zM37 27h4v2h-4zM45 27h1v2h-1zM50 27h1v2h-1zM56 27h1v2h-1zM67 27h1v2h-1zM71 27h1v2h-1zM75 27h1v2h-1zM95 27h1v2h-1zM0 25h1v2h-1zM9 25h2v2h-2zM21 25h1v2h-1zM43 25h1v2h-1zM45 25h1v2h-1zM53 25h1v2h-1zM67 25h1v2h-1zM81 25h1v2h-1zM84 25h1v2h-1zM89 25h1v2h-1zM94 25h1v2h-1zM97 25h1v2h-1zM3 23h1v2h-1zM11 23h1v2h-1zM18 23h2v2h-2zM24 23h1v2h-1zM57 23h1v2h-1zM59 23h1v2h-1zM66 23h1v2h-1zM79 23h1v2h-1zM10 21h1v2h-1zM28 21h1v2h-1zM91 21h1v2h-1zM94 21h1v2h-1zM54 19h1v2h-1zM85 19h1v2h-1zM91 19h1v2h-1zM29 17h1v2h-1zM91 17h1v2h-1zM91 13h1v2h-1zM92 11h1v2h-1zM62 9h1v2h-1zM63 7h1v2h-1zM92 5h1v2h-1zM92 3h1v2h-1z"/>
<path fill="#d7566c" d="M93 47h1v1h-1zM29 45h2v2h-2zM30 43h1v2h-1zM34 39h1v2h-1zM38 39h1v2h-1zM47 39h1v2h-1zM56 39h1v2h-1zM84 39h1v2h-1zM95 39h1v2h-1zM28 37h1v2h-1zM45 37h1v2h-1zM49 37h1v2h-1zM53 37h1v2h-1zM60 37h1v2h-1zM86 37h1v2h-1zM96 37h1v2h-1zM98 37h1v2h-1zM35 35h1v2h-1zM45 35h1v2h-1zM56 35h1v2h-1zM81 35h1v2h-1zM89 35h2v2h-2zM19 33h1v2h-1zM38 33h2v2h-2zM41 33h3v2h-3zM88 33h1v2h-1zM97 33h1v2h-1zM35 31h1v2h-1zM42 31h1v2h-1zM65 31h1v2h-1zM82 31h1v2h-1zM84 31h1v2h-1zM86 31h2v2h-2zM3 29h1v2h-1zM28 29h1v2h-1zM40 29h2v2h-2zM50 29h1v2h-1zM56 29h1v2h-1zM66 29h1v2h-1zM86 29h1v2h-1zM10 27h1v2h-1zM29 27h1v2h-1zM36 27h1v2h-1zM61 27h1v2h-1zM82 27h1v2h-1zM84 27h1v2h-1zM88 27h2v2h-2zM17 25h1v2h-1zM40 25h1v2h-1zM90 25h1v2h-1zM95 25h1v2h-1zM6 23h1v2h-1zM10 23h1v2h-1zM20 23h1v2h-1zM34 23h2v2h-2zM44 23h1v2h-1zM56 23h1v2h-1zM67 23h1v2h-1zM88 23h1v2h-1zM85 21h1v2h-1zM32 19h1v2h-1zM93 17h1v2h-1zM30 15h1v2h-1zM30 13h1v2h-1zM29 11h1v2h-1zM63 11h1v2h-1zM93 11h1v2h-1zM30 9h2v2h-2zM92 9h1v2h-1zM31 7h1v2h-1zM29 5h1v2h-1zM63 5h1v2h-1zM30 1h1v2h-1zM63 1h1v2h-1z"/>
<path fill="#dc5d67" d="M29 47h1v1h-1zM31 47h1v1h-1zM92 45h1v2h-1zM63 43h1v2h-1zM62 41h1v2h-1zM94 41h1v2h-1zM36 39h2v2h-2zM49 39h1v2h-1zM81 39h2v2h-2zM38 37h3v2h-3zM84 37h1v2h-1zM10 35h2v2h-2zM16 35h1v2h-1zM34 35h1v2h-1zM41 35h1v2h-1zM44 35h1v2h-1zM46 35h1v2h-1zM61 35h1v2h-1zM16 33h1v2h-1zM18 33h1v2h-1zM28 33h1v2h-1zM35 33h1v2h-1zM40 33h1v2h-1zM45 33h1v2h-1zM61 33h1v2h-1zM64 33h1v2h-1zM90 33h1v2h-1zM98 33h1v2h-1zM49 31h1v2h-1zM53 31h1v2h-1zM95 31h1v2h-1zM98 31h1v2h-1zM10 29h1v2h-1zM20 29h1v2h-1zM34 29h1v2h-1zM83 29h1v2h-1zM16 27h1v2h-1zM42 27h1v2h-1zM64 27h1v2h-1zM69 27h1v2h-1zM96 27h1v2h-1zM36 25h1v2h-1zM50 25h1v2h-1zM59 25h1v2h-1zM65 25h1v2h-1zM17 23h1v2h-1zM28 23h1v2h-1zM39 23h1v2h-1zM53 23h1v2h-1zM68 23h1v2h-1zM70 23h1v2h-1zM82 23h3v2h-3zM90 23h1v2h-1zM98 23h1v2h-1zM55 21h1v2h-1zM29 19h1v2h-1zM93 15h1v2h-1zM93 13h1v2h-1zM93 9h1v2h-1zM93 5h1v2h-1zM31 3h1v2h-1zM31 1h1v2h-1zM92 1h1v2h-1zM31 0h1v1h-1zM62 0h1v1h-1zM93 0h1v1h-1z"/>
<path fill="#e06363" d="M33 41h1v2h-1zM64 41h1v2h-1zM10 39h1v2h-1zM46 39h1v2h-1zM86 39h1v2h-1zM88 39h1v2h-1zM90 39h1v2h-1zM96 39h1v2h-1zM10 37h1v2h-1zM43 37h2v2h-2zM46 37h1v2h-1zM50 37h1v2h-1zM90 37h1v2h-1zM97 37h1v2h-1zM49 35h1v2h-1zM37 33h1v2h-1zM53 33h1v2h-1zM96 33h1v2h-1zM40 31h1v2h-1zM55 31h1v2h-1zM64 31h1v2h-1zM68 31h1v2h-1zM33 29h1v2h-1zM36 29h1v2h-1zM64 29h1v2h-1zM84 29h2v2h-2zM87 29h1v2h-1zM98 29h1v2h-1zM81 27h1v2h-1zM61 25h1v2h-1zM86 25h1v2h-1zM36 23h1v2h-1zM40 23h1v2h-1zM42 23h1v2h-1zM61 23h1v2h-1zM65 23h1v2h-1zM71 23h1v2h-1zM54 21h1v2h-1zM93 19h1v2h-1zM92 17h1v2h-1zM62 13h2v2h-2zM62 11h1v2h-1zM63 9h1v2h-1zM31 5h1v2h-1zM30 0h1v1h-1z"/>
<path fill="#e4695e" d="M31 45h1v2h-1zM93 45h1v2h-1zM29 43h1v2h-1zM31 43h1v2h-1zM91 41h2v2h-2zM41 39h1v2h-1zM94 39h1v2h-1zM97 39h2v2h-2zM37 35h1v2h-1zM98 35h1v2h-1zM41 31h1v2h-1zM61 31h1v2h-1zM29 29h1v2h-1zM61 29h1v2h-1zM33 27h1v2h-1zM85 27h1v2h-1zM91 27h1v2h-1zM33 25h1v2h-1zM82 25h1v2h-1zM64 23h1v2h-1zM69 23h1v2h-1zM89 23h1v2h-1zM95 23h1v2h-1zM29 21h1v2h-1zM32 21h1v2h-1zM63 15h1v2h-1zM92 15h1v2h-1zM92 13h1v2h-1zM30 5h1v2h-1z"/>
<path fill="#e87059" d="M93 43h1v2h-1zM40 39h1v2h-1zM53 39h1v2h-1zM41 37h2v2h-2zM61 37h1v2h-1zM40 35h1v2h-1zM97 35h1v2h-1zM55 33h1v2h-1zM33 31h1v2h-1zM91 31h1v2h-1zM97 31h1v2h-1zM29 25h1v2h-1zM85 25h1v2h-1zM50 23h1v2h-1zM85 23h1v2h-1zM94 23h1v2h-1zM62 17h1v2h-1zM31 13h1v2h-1zM31 11h1v2h-1z"/>
<path fill="#eb7655" d="M30 47h1v1h-1zM32 47h1v1h-1zM29 41h1v2h-1zM29 33h1v2h-1zM33 33h1v2h-1zM91 33h1v2h-1zM29 31h1v2h-1zM94 31h1v2h-1zM54 27h2v2h-2zM54 25h2v2h-2zM33 23h1v2h-1zM63 17h1v2h-1zM31 15h1v2h-1zM62 15h1v2h-1zM63 0h1v1h-1zM92 0h1v1h-1z"/>
<path fill="#ef7e50" d="M63 41h1v2h-1zM61 39h1v2h-1zM33 37h1v2h-1zM55 37h1v2h-1zM64 37h1v2h-1zM94 37h1v2h-1zM29 35h1v2h-1zM54 35h1v2h-1zM94 35h1v2h-1zM54 33h1v2h-1zM94 33h1v2h-1zM54 29h2v2h-2zM94 29h1v2h-1zM63 25h1v2h-1zM41 23h1v2h-1zM55 23h1v2h-1zM81 23h1v2h-1zM91 23h1v2h-1zM63 21h1v2h-1zM30 19h1v2h-1zM92 19h1v2h-1zM30 17h2v2h-2zM30 11h1v2h-1z"/>
<path fill="#f2844b" d="M32 45h1v2h-1zM30 41h1v2h-1zM91 37h1v2h-1zM64 35h1v2h-1zM54 31h1v2h-1zM32 29h1v2h-1zM91 29h1v2h-1zM94 27h1v2h-1zM54 23h1v2h-1zM86 23h1v2h-1zM31 19h1v2h-1z"/>
<path fill="#f58c46" d="M32 43h1v2h-1zM31 41h1v2h-1zM93 41h1v2h-1zM29 39h1v2h-1zM55 39h1v2h-1zM62 27h1v2h-1zM30 25h1v2h-1zM29 23h1v2h-1zM92 21h1v2h-1zM62 19h1v2h-1z"/>
<path fill="#f79342" d="M33 39h1v2h-1zM64 39h1v2h-1zM55 35h1v2h-1zM32 33h1v2h-1zM30 31h1v2h-1zM62 31h2v2h-2zM30 29h1v2h-1zM62 29h1v2h-1zM31 27h2v2h-2zM91 25h1v2h-1zM30 21h2v2h-2zM63 19h1v2h-1z"/>
<path fill="#fa9b3d" d="M54 39h1v2h-1zM54 37h1v2h-1zM91 35h1v2h-1zM93 33h1v2h-1zM31 31h2v2h-2zM63 27h1v2h-1zM31 25h2v2h-2zM62 25h1v2h-1zM30 23h1v2h-1zM32 23h1v2h-1zM63 23h1v2h-1zM93 21h1v2h-1z"/>
<path fill="#fba238" d="M91 39h1v2h-1zM63 35h1v2h-1zM63 33h1v2h-1zM63 29h1v2h-1zM93 27h1v2h-1zM92 25h1v2h-1zM93 23h1v2h-1zM62 21h1v2h-1z"/>
<path fill="#fca934" d="M29 37h1v2h-1zM32 35h2v2h-2zM62 35h1v2h-1zM62 33h1v2h-1zM31 29h1v2h-1zM31 23h1v2h-1z"/>
<path fill="#fdb22f" d="M32 41h1v2h-1zM30 35h1v2h-1zM31 33h1v2h-1zM92 31h2v2h-2zM92 27h1v2h-1zM93 25h1v2h-1zM62 23h1v2h-1z"/>
<path fill="#feba2c" d="M32 39h1v2h-1zM63 37h1v2h-1zM93 35h1v2h-1zM30 33h1v2h-1zM93 29h1v2h-1zM30 27h1v2h-1z"/>
<path fill="#fdc328" d="M93 39h1v2h-1zM30 37h1v2h-1zM93 37h1v2h-1zM92 33h1v2h-1zM92 29h1v2h-1z"/>
<path fill="#fdcb26" d="M63 39h1v2h-1zM32 37h1v2h-1z"/>
<path fill="#fbd524" d="M62 39h1v2h-1zM62 37h1v2h-1zM92 37h1v2h-1z"/>
<path fill="#f9dd25" d="M30 39h2v2h-2zM31 35h1v2h-1zM92 35h1v2h-1zM92 23h1v2h-1z"/>
<path fill="#f6e826" d="M31 37h1v2h-1z"/>
<path fill="#f0f921" d="M92 39h1v2h-1z"/>
</g>
<line x1="149.31" y1="200.10" x2="149.31" y2="425.40" stroke="#808080" stroke-opacity="0.6" stroke-width="1.25"/>
<text x="0.00" y="0.00" font-size="17.50" textLength="65.57" lengthAdjust="spacingAndGlyphs" fill="#444" transform="translate(154.51 198.40) rotate(-90)">Pinched</text>
<line x1="201.40" y1="200.10" x2="201.40" y2="425.40" stroke="#808080" stroke-opacity="0.6" stroke-width="1.25"/>
<text x="0.00" y="0.00" font-size="17.50" textLength="75.85" lengthAdjust="spacingAndGlyphs" fill="#444" transform="translate(206.60 198.40) rotate(-90)">Released</text>
<line x1="232.40" y1="200.10" x2="232.40" y2="425.40" stroke="#808080" stroke-opacity="0.6" stroke-width="1.25"/>
<text x="0.00" y="0.00" font-size="17.50" textLength="23.75" lengthAdjust="spacingAndGlyphs" fill="#444" transform="translate(237.60 198.40) rotate(-90)">Hit</text>
<line x1="305.49" y1="200.10" x2="305.49" y2="425.40" stroke="#808080" stroke-opacity="0.6" stroke-width="1.25"/>
<text x="0.00" y="0.00" font-size="17.50" textLength="65.57" lengthAdjust="spacingAndGlyphs" fill="#444" transform="translate(310.69 198.40) rotate(-90)">Pinched</text>
<line x1="340.92" y1="200.10" x2="340.92" y2="425.40" stroke="#808080" stroke-opacity="0.6" stroke-width="1.25"/>
<text x="0.00" y="0.00" font-size="17.50" textLength="75.85" lengthAdjust="spacingAndGlyphs" fill="#444" transform="translate(346.12 198.40) rotate(-90)">Released</text>
<line x1="357.71" y1="200.10" x2="357.71" y2="425.40" stroke="#808080" stroke-opacity="0.6" stroke-width="1.25"/>
<text x="0.00" y="0.00" font-size="17.50" textLength="23.75" lengthAdjust="spacingAndGlyphs" fill="#444" transform="translate(362.91 198.40) rotate(-90)">Hit</text>
<line x1="438.71" y1="200.10" x2="438.71" y2="425.40" stroke="#808080" stroke-opacity="0.6" stroke-width="1.25"/>
<text x="0.00" y="0.00" font-size="17.50" textLength="65.57" lengthAdjust="spacingAndGlyphs" fill="#444" transform="translate(443.91 198.40) rotate(-90)">Pinched</text>
<line x1="473.30" y1="200.10" x2="473.30" y2="425.40" stroke="#808080" stroke-opacity="0.6" stroke-width="1.25"/>
<text x="0.00" y="0.00" font-size="17.50" textLength="75.85" lengthAdjust="spacingAndGlyphs" fill="#444" transform="translate(478.50 198.40) rotate(-90)">Released</text>
<line x1="490.53" y1="200.10" x2="490.53" y2="425.40" stroke="#808080" stroke-opacity="0.6" stroke-width="1.25"/>
<text x="0.00" y="0.00" font-size="17.50" textLength="23.75" lengthAdjust="spacingAndGlyphs" fill="#444" transform="translate(495.73 198.40) rotate(-90)">Hit</text>
<path d="M66.54 200.10V425.40H510.60" fill="none" stroke="#000" stroke-width="1.11" stroke-linecap="square"/>
<rect x="515.40" y="200.10" width="11.30" height="225.30" fill="url(#pl)"/>
<rect x="515.40" y="200.10" width="11.30" height="225.30" fill="none" stroke="#000" stroke-width="1.11"/>
<path d="M61.68 425.40h4.86M61.68 387.85h4.86M61.68 350.30h4.86M61.68 312.75h4.86M61.68 275.20h4.86M61.68 237.65h4.86M61.68 200.10h4.86M66.54 425.40v4.86M155.35 425.40v4.86M244.16 425.40v4.86M332.98 425.40v4.86M421.79 425.40v4.86M510.60 425.40v4.86M526.70 404.57h4.86M526.70 372.52h4.86M526.70 340.47h4.86M526.70 308.42h4.86M526.70 276.38h4.86M526.70 244.33h4.86M526.70 212.28h4.86" stroke="#000" stroke-width="1.11"/>
<text x="65.84" y="83.80" font-size="20.42" textLength="111.08" lengthAdjust="spacingAndGlyphs" fill="#000">Condition 1</text>
<text x="65.84" y="106.80" font-size="16.04" textLength="176.20" lengthAdjust="spacingAndGlyphs" fill="#000">D = 2m, G = 9.81 m²/s</text>
<g transform="translate(667.890 200.100) scale(4.43545 4.69375)" shape-rendering="crispEdges">
<path fill="#310597" d="M36 47h1v1h-1z"/>
<path fill="#3a049a" d="M38 47h1v1h-1zM47 45h1v2h-1z"/>
<path fill="#44039e" d="M79 47h1v1h-1zM38 45h1v2h-1zM37 43h1v2h-1z"/>
<path fill="#4c02a1" d="M48 47h1v1h-1zM68 47h1v1h-1zM37 45h1v2h-1zM47 43h1v2h-1z"/>
<path fill="#5601a4" d="M37 47h1v1h-1zM47 47h1v1h-1zM71 47h1v1h-1zM34 45h1v2h-1zM48 45h1v2h-1zM67 45h1v2h-1zM79 45h1v2h-1zM48 43h1v2h-1z"/>
<path fill="#5e01a6" d="M34 47h1v1h-1zM77 47h1v1h-1zM76 45h2v2h-2zM38 43h1v2h-1z"/>
<path fill="#6700a8" d="M6 47h1v1h-1zM30 47h1v1h-1zM35 47h1v1h-1zM69 47h2v1h-2zM74 47h1v1h-1zM59 45h1v2h-1zM70 45h1v2h-1zM74 45h1v2h-1zM96 45h1v2h-1zM33 43h3v2h-3zM70 43h1v2h-1zM77 43h1v2h-1zM80 43h1v2h-1zM35 3h1v2h-1zM30 1h1v2h-1z"/>
<path fill="#6f00a8" d="M39 47h1v1h-1zM44 47h2v1h-2zM50 47h1v1h-1zM60 47h2v1h-2zM89 47h1v1h-1zM95 47h2v1h-2zM33 45h1v2h-1zM36 45h1v2h-1zM44 45h2v2h-2zM69 45h1v2h-1zM71 45h1v2h-1zM30 43h1v2h-1zM36 43h1v2h-1zM59 43h1v2h-1zM76 43h1v2h-1zM47 41h1v2h-1zM48 9h1v2h-1zM20 5h1v2h-1zM73 5h1v2h-1zM67 1h1v2h-1z"/>
<path fill="#7701a8" d="M14 47h1v1h-1zM33 47h1v1h-1zM59 47h1v1h-1zM64 47h2v1h-2zM73 47h1v1h-1zM76 47h1v1h-1zM80 47h1v1h-1zM17 45h1v2h-1zM20 45h1v2h-1zM35 45h1v2h-1zM41 45h1v2h-1zM46 45h1v2h-1zM50 45h1v2h-1zM6 43h1v2h-1zM50 43h1v2h-1zM71 43h1v2h-1zM74 43h1v2h-1zM92 43h1v2h-1zM37 41h1v2h-1zM47 9h1v2h-1zM30 5h1v2h-1zM72 5h1v2h-1zM4 1h1v2h-1zM9 1h1v2h-1zM72 1h1v2h-1z"/>
<path fill="#8004a8" d="M3 47h2v1h-2zM31 47h1v1h-1zM42 47h1v1h-1zM66 47h2v1h-2zM78 47h1v1h-1zM81 47h1v1h-1zM90 47h1v1h-1zM98 47h1v1h-1zM30 45h1v2h-1zM40 45h1v2h-1zM61 45h1v2h-1zM68 45h1v2h-1zM80 45h1v2h-1zM93 45h1v2h-1zM95 45h1v2h-1zM40 43h1v2h-1zM45 43h2v2h-2zM61 43h1v2h-1zM81 43h1v2h-1zM48 41h1v2h-1zM67 41h1v2h-1zM34 13h1v2h-1zM0 9h1v2h-1zM35 9h1v2h-1zM73 9h1v2h-1zM1 7h1v2h-1zM9 7h1v2h-1zM47 7h1v2h-1zM67 7h1v2h-1zM79 7h1v2h-1zM2 5h1v2h-1zM34 5h1v2h-1zM67 5h1v2h-1zM71 5h1v2h-1zM97 5h1v2h-1zM1 3h1v2h-1zM4 3h1v2h-1zM30 3h1v2h-1zM72 3h1v2h-1zM33 1h1v2h-1zM58 1h2v2h-2zM78 1h1v2h-1zM96 1h1v2h-1z"/>
<path fill="#8707a6" d="M1 47h1v1h-1zM20 47h1v1h-1zM40 47h1v1h-1zM43 47h1v1h-1zM51 47h1v1h-1zM57 47h1v1h-1zM62 47h1v1h-1zM72 47h1v1h-1zM75 47h1v1h-1zM92 47h1v1h-1zM94 47h1v1h-1zM3 45h1v2h-1zM6 45h1v2h-1zM14 45h1v2h-1zM52 45h1v2h-1zM60 45h1v2h-1zM72 45h1v2h-1zM81 45h1v2h-1zM89 45h1v2h-1zM97 45h2v2h-2zM20 43h1v2h-1zM41 43h1v2h-1zM67 43h1v2h-1zM69 43h1v2h-1zM72 43h1v2h-1zM79 43h1v2h-1zM90 43h1v2h-1zM93 43h1v2h-1zM95 43h1v2h-1zM34 41h1v2h-1zM40 41h1v2h-1zM70 41h2v2h-2zM79 41h1v2h-1zM65 15h1v2h-1zM66 13h1v2h-1zM1 9h1v2h-1zM11 9h1v2h-1zM33 9h1v2h-1zM58 9h1v2h-1zM79 9h1v2h-1zM39 7h1v2h-1zM53 7h1v2h-1zM72 7h1v2h-1zM96 7h1v2h-1zM0 5h1v2h-1zM3 5h1v2h-1zM5 5h1v2h-1zM78 5h1v2h-1zM10 3h1v2h-1zM19 3h1v2h-1zM29 3h1v2h-1zM34 3h1v2h-1zM39 3h1v2h-1zM47 3h1v2h-1zM51 3h1v2h-1zM59 3h1v2h-1zM73 3h1v2h-1zM77 3h1v2h-1zM92 3h1v2h-1zM96 3h1v2h-1zM11 1h1v2h-1zM19 1h1v2h-1zM29 1h1v2h-1zM45 1h1v2h-1zM47 1h1v2h-1zM53 1h1v2h-1zM76 1h1v2h-1zM79 1h1v2h-1zM95 1h1v2h-1zM47 0h1v1h-1zM59 0h1v1h-1zM67 0h1v1h-1zM79 0h1v1h-1z"/>
<path fill="#8f0da4" d="M18 47h1v1h-1zM29 47h1v1h-1zM41 47h1v1h-1zM52 47h1v1h-1zM82 47h1v1h-1zM91 47h1v1h-1zM93 47h1v1h-1zM5 45h1v2h-1zM9 45h1v2h-1zM21 45h1v2h-1zM32 45h1v2h-1zM39 45h1v2h-1zM42 45h1v2h-1zM65 45h2v2h-2zM91 45h1v2h-1zM94 45h1v2h-1zM4 43h1v2h-1zM18 43h1v2h-1zM29 43h1v2h-1zM42 43h1v2h-1zM66 43h1v2h-1zM68 43h1v2h-1zM73 43h1v2h-1zM82 43h1v2h-1zM97 43h2v2h-2zM38 41h1v2h-1zM45 41h1v2h-1zM72 41h1v2h-1zM74 41h1v2h-1zM22 17h1v2h-1zM76 17h1v2h-1zM20 15h1v2h-1zM71 15h1v2h-1zM2 13h1v2h-1zM29 13h1v2h-1zM65 13h1v2h-1zM8 11h1v2h-1zM47 11h1v2h-1zM53 11h1v2h-1zM66 11h1v2h-1zM97 11h1v2h-1zM2 9h1v2h-1zM10 9h1v2h-1zM36 9h1v2h-1zM38 9h1v2h-1zM50 9h1v2h-1zM66 9h2v2h-2zM98 9h1v2h-1zM0 7h1v2h-1zM2 7h1v2h-1zM13 7h2v2h-2zM20 7h1v2h-1zM33 7h1v2h-1zM35 7h1v2h-1zM38 7h1v2h-1zM44 7h1v2h-1zM76 7h1v2h-1zM78 7h1v2h-1zM97 7h2v2h-2zM4 5h1v2h-1zM17 5h1v2h-1zM33 5h1v2h-1zM44 5h1v2h-1zM62 5h1v2h-1zM8 3h2v2h-2zM13 3h1v2h-1zM33 3h1v2h-1zM36 3h1v2h-1zM45 3h1v2h-1zM67 3h1v2h-1zM78 3h1v2h-1zM97 3h1v2h-1zM13 1h1v2h-1zM35 1h2v2h-2zM49 1h1v2h-1zM61 1h1v2h-1zM66 1h1v2h-1zM73 1h1v2h-1zM75 1h1v2h-1zM97 1h1v2h-1zM20 0h1v1h-1zM42 0h1v1h-1z"/>
<path fill="#9613a1" d="M5 47h1v1h-1zM10 47h1v1h-1zM12 47h1v1h-1zM17 47h1v1h-1zM19 47h1v1h-1zM28 47h1v1h-1zM46 47h1v1h-1zM49 47h1v1h-1zM97 47h1v1h-1zM4 45h1v2h-1zM18 45h1v2h-1zM49 45h1v2h-1zM62 45h2v2h-2zM73 45h1v2h-1zM78 45h1v2h-1zM92 45h1v2h-1zM3 43h1v2h-1zM9 43h1v2h-1zM14 43h1v2h-1zM22 43h1v2h-1zM31 43h1v2h-1zM39 43h1v2h-1zM43 43h2v2h-2zM52 43h1v2h-1zM63 43h3v2h-3zM78 43h1v2h-1zM89 43h1v2h-1zM96 43h1v2h-1zM35 41h2v2h-2zM44 41h1v2h-1zM59 41h1v2h-1zM68 41h1v2h-1zM76 41h2v2h-2zM92 41h1v2h-1zM47 19h1v2h-1zM58 19h1v2h-1zM71 19h1v2h-1zM10 17h1v2h-1zM58 17h1v2h-1zM71 17h1v2h-1zM29 15h1v2h-1zM58 15h1v2h-1zM66 15h1v2h-1zM72 15h1v2h-1zM4 11h1v2h-1zM12 11h1v2h-1zM29 11h1v2h-1zM34 11h1v2h-1zM69 11h1v2h-1zM4 9h1v2h-1zM6 9h2v2h-2zM29 9h1v2h-1zM32 9h1v2h-1zM34 9h1v2h-1zM37 9h1v2h-1zM40 9h1v2h-1zM42 9h1v2h-1zM45 9h1v2h-1zM53 9h1v2h-1zM59 9h2v2h-2zM71 9h1v2h-1zM75 9h1v2h-1zM77 9h2v2h-2zM83 9h1v2h-1zM89 9h1v2h-1zM92 9h1v2h-1zM11 7h1v2h-1zM17 7h1v2h-1zM19 7h1v2h-1zM21 7h1v2h-1zM29 7h1v2h-1zM31 7h1v2h-1zM34 7h1v2h-1zM52 7h1v2h-1zM75 7h1v2h-1zM77 7h1v2h-1zM82 7h1v2h-1zM92 7h1v2h-1zM7 5h1v2h-1zM9 5h1v2h-1zM13 5h1v2h-1zM16 5h1v2h-1zM22 5h1v2h-1zM29 5h1v2h-1zM35 5h1v2h-1zM38 5h1v2h-1zM45 5h1v2h-1zM48 5h1v2h-1zM51 5h1v2h-1zM58 5h1v2h-1zM66 5h1v2h-1zM79 5h1v2h-1zM90 5h1v2h-1zM96 5h1v2h-1zM98 5h1v2h-1zM2 3h2v2h-2zM6 3h1v2h-1zM11 3h1v2h-1zM40 3h1v2h-1zM49 3h1v2h-1zM52 3h1v2h-1zM58 3h1v2h-1zM66 3h1v2h-1zM71 3h1v2h-1zM76 3h1v2h-1zM79 3h2v2h-2zM87 3h2v2h-2zM98 3h1v2h-1zM0 1h1v2h-1zM5 1h1v2h-1zM16 1h2v2h-2zM37 1h1v2h-1zM42 1h1v2h-1zM44 1h1v2h-1zM48 1h1v2h-1zM50 1h1v2h-1zM62 1h1v2h-1zM71 1h1v2h-1zM82 1h1v2h-1zM90 1h1v2h-1zM98 1h1v2h-1zM6 0h1v1h-1zM10 0h1v1h-1zM13 0h1v1h-1zM35 0h1v1h-1zM73 0h1v1h-1zM96 0h1v1h-1z"/>
<path fill="#9e199d" d="M2 47h1v1h-1zM8 47h1v1h-1zM16 47h1v1h-1zM63 47h1v1h-1zM2 45h1v2h-1zM16 45h1v2h-1zM22 45h1v2h-1zM28 45h2v2h-2zM31 45h1v2h-1zM51 45h1v2h-1zM57 45h1v2h-1zM90 45h1v2h-1zM5 43h1v2h-1zM8 43h1v2h-1zM10 43h1v2h-1zM12 43h1v2h-1zM16 43h1v2h-1zM19 43h1v2h-1zM21 43h1v2h-1zM32 43h1v2h-1zM61 41h1v2h-1zM66 41h1v2h-1zM98 41h1v2h-1zM11 19h1v2h-1zM38 19h1v2h-1zM8 17h1v2h-1zM29 17h1v2h-1zM34 17h1v2h-1zM53 17h1v2h-1zM59 17h1v2h-1zM0 15h1v2h-1zM16 15h1v2h-1zM28 15h1v2h-1zM32 15h1v2h-1zM35 15h1v2h-1zM38 13h1v2h-1zM47 13h1v2h-1zM58 13h1v2h-1zM69 13h1v2h-1zM71 13h1v2h-1zM75 13h1v2h-1zM0 11h2v2h-2zM3 11h1v2h-1zM19 11h1v2h-1zM28 11h1v2h-1zM48 11h1v2h-1zM58 11h1v2h-1zM67 11h1v2h-1zM71 11h1v2h-1zM74 11h1v2h-1zM76 11h1v2h-1zM79 11h1v2h-1zM81 11h1v2h-1zM9 9h1v2h-1zM13 9h1v2h-1zM15 9h1v2h-1zM17 9h1v2h-1zM21 9h2v2h-2zM28 9h1v2h-1zM49 9h1v2h-1zM51 9h1v2h-1zM72 9h1v2h-1zM94 9h4v2h-4zM4 7h1v2h-1zM7 7h2v2h-2zM16 7h1v2h-1zM36 7h1v2h-1zM40 7h2v2h-2zM45 7h2v2h-2zM48 7h1v2h-1zM50 7h1v2h-1zM66 7h1v2h-1zM68 7h1v2h-1zM71 7h1v2h-1zM73 7h1v2h-1zM81 7h1v2h-1zM90 7h2v2h-2zM95 7h1v2h-1zM1 5h1v2h-1zM6 5h1v2h-1zM32 5h1v2h-1zM43 5h1v2h-1zM49 5h1v2h-1zM53 5h1v2h-1zM61 5h1v2h-1zM68 5h1v2h-1zM82 5h1v2h-1zM87 5h2v2h-2zM91 5h1v2h-1zM0 3h1v2h-1zM5 3h1v2h-1zM15 3h1v2h-1zM20 3h1v2h-1zM37 3h1v2h-1zM44 3h1v2h-1zM46 3h1v2h-1zM48 3h1v2h-1zM68 3h2v2h-2zM74 3h1v2h-1zM83 3h1v2h-1zM91 3h1v2h-1zM94 3h1v2h-1zM1 1h2v2h-2zM7 1h2v2h-2zM10 1h1v2h-1zM20 1h2v2h-2zM32 1h1v2h-1zM39 1h1v2h-1zM43 1h1v2h-1zM46 1h1v2h-1zM51 1h2v2h-2zM69 1h1v2h-1zM74 1h1v2h-1zM87 1h1v2h-1zM92 1h1v2h-1zM94 1h1v2h-1zM33 0h1v1h-1zM45 0h1v1h-1zM58 0h1v1h-1zM66 0h1v1h-1zM75 0h2v1h-2z"/>
<path fill="#a51f99" d="M7 47h1v1h-1zM11 47h1v1h-1zM15 47h1v1h-1zM32 47h1v1h-1zM1 45h1v2h-1zM13 45h1v2h-1zM15 45h1v2h-1zM19 45h1v2h-1zM64 45h1v2h-1zM82 45h1v2h-1zM17 43h1v2h-1zM28 43h1v2h-1zM51 43h1v2h-1zM60 43h1v2h-1zM62 43h1v2h-1zM91 43h1v2h-1zM4 41h1v2h-1zM29 41h1v2h-1zM39 41h1v2h-1zM50 41h1v2h-1zM80 41h2v2h-2zM96 41h1v2h-1zM66 21h1v2h-1zM8 19h1v2h-1zM21 19h1v2h-1zM29 19h1v2h-1zM52 19h1v2h-1zM66 19h2v2h-2zM72 19h1v2h-1zM16 17h1v2h-1zM28 17h1v2h-1zM52 17h1v2h-1zM69 17h1v2h-1zM96 17h1v2h-1zM98 17h1v2h-1zM8 15h3v2h-3zM21 15h1v2h-1zM30 15h1v2h-1zM38 15h1v2h-1zM51 15h1v2h-1zM59 15h1v2h-1zM76 15h1v2h-1zM90 15h1v2h-1zM97 15h1v2h-1zM0 13h1v2h-1zM6 13h1v2h-1zM8 13h1v2h-1zM19 13h1v2h-1zM22 13h1v2h-1zM30 13h1v2h-1zM37 13h1v2h-1zM50 13h1v2h-1zM76 13h1v2h-1zM98 13h1v2h-1zM13 11h2v2h-2zM21 11h1v2h-1zM30 11h1v2h-1zM38 11h1v2h-1zM43 11h2v2h-2zM51 11h1v2h-1zM65 11h1v2h-1zM75 11h1v2h-1zM82 11h1v2h-1zM8 9h1v2h-1zM19 9h2v2h-2zM43 9h2v2h-2zM62 9h1v2h-1zM76 9h1v2h-1zM80 9h1v2h-1zM87 9h1v2h-1zM5 7h2v2h-2zM10 7h1v2h-1zM12 7h1v2h-1zM22 7h1v2h-1zM28 7h1v2h-1zM30 7h1v2h-1zM37 7h1v2h-1zM42 7h1v2h-1zM51 7h1v2h-1zM60 7h1v2h-1zM69 7h2v2h-2zM87 7h1v2h-1zM89 7h1v2h-1zM94 7h1v2h-1zM10 5h1v2h-1zM15 5h1v2h-1zM18 5h2v2h-2zM21 5h1v2h-1zM28 5h1v2h-1zM37 5h1v2h-1zM41 5h1v2h-1zM46 5h2v2h-2zM52 5h1v2h-1zM59 5h1v2h-1zM70 5h1v2h-1zM76 5h1v2h-1zM93 5h1v2h-1zM7 3h1v2h-1zM22 3h1v2h-1zM28 3h1v2h-1zM43 3h1v2h-1zM75 3h1v2h-1zM82 3h1v2h-1zM90 3h1v2h-1zM12 1h1v2h-1zM22 1h1v2h-1zM38 1h1v2h-1zM60 1h1v2h-1zM68 1h1v2h-1zM77 1h1v2h-1zM1 0h1v1h-1zM3 0h2v1h-2zM15 0h1v1h-1zM30 0h1v1h-1zM32 0h1v1h-1zM34 0h1v1h-1zM40 0h1v1h-1zM48 0h1v1h-1zM60 0h1v1h-1zM72 0h1v1h-1zM90 0h1v1h-1zM93 0h1v1h-1zM97 0h1v1h-1z"/>
<path fill="#ac2694" d="M21 47h2v1h-2zM7 45h1v2h-1zM12 45h1v2h-1zM75 45h1v2h-1zM15 43h1v2h-1zM49 43h1v2h-1zM9 41h1v2h-1zM30 41h1v2h-1zM33 41h1v2h-1zM42 41h1v2h-1zM65 41h1v2h-1zM97 41h1v2h-1zM35 21h1v2h-1zM71 21h1v2h-1zM10 19h1v2h-1zM13 19h1v2h-1zM17 19h1v2h-1zM19 19h2v2h-2zM22 19h1v2h-1zM28 19h1v2h-1zM34 19h2v2h-2zM39 19h1v2h-1zM51 19h1v2h-1zM65 19h1v2h-1zM69 19h1v2h-1zM76 19h1v2h-1zM79 19h1v2h-1zM96 19h1v2h-1zM2 17h1v2h-1zM19 17h1v2h-1zM36 17h2v2h-2zM41 17h2v2h-2zM45 17h1v2h-1zM47 17h1v2h-1zM66 17h2v2h-2zM82 17h1v2h-1zM97 17h1v2h-1zM3 15h2v2h-2zM7 15h1v2h-1zM22 15h1v2h-1zM33 15h2v2h-2zM37 15h1v2h-1zM48 15h1v2h-1zM75 15h1v2h-1zM91 15h1v2h-1zM1 13h1v2h-1zM13 13h1v2h-1zM28 13h1v2h-1zM31 13h3v2h-3zM36 13h1v2h-1zM41 13h2v2h-2zM72 13h1v2h-1zM74 13h1v2h-1zM78 13h1v2h-1zM96 13h1v2h-1zM9 11h3v2h-3zM15 11h1v2h-1zM18 11h1v2h-1zM31 11h2v2h-2zM42 11h1v2h-1zM50 11h1v2h-1zM52 11h1v2h-1zM59 11h1v2h-1zM72 11h1v2h-1zM87 11h1v2h-1zM93 11h3v2h-3zM98 11h1v2h-1zM14 9h1v2h-1zM16 9h1v2h-1zM31 9h1v2h-1zM39 9h1v2h-1zM46 9h1v2h-1zM52 9h1v2h-1zM61 9h1v2h-1zM65 9h1v2h-1zM70 9h1v2h-1zM74 9h1v2h-1zM81 9h1v2h-1zM91 9h1v2h-1zM3 7h1v2h-1zM32 7h1v2h-1zM43 7h1v2h-1zM49 7h1v2h-1zM59 7h1v2h-1zM61 7h2v2h-2zM80 7h1v2h-1zM88 7h1v2h-1zM8 5h1v2h-1zM11 5h1v2h-1zM14 5h1v2h-1zM31 5h1v2h-1zM36 5h1v2h-1zM39 5h1v2h-1zM42 5h1v2h-1zM50 5h1v2h-1zM60 5h1v2h-1zM74 5h2v2h-2zM77 5h1v2h-1zM80 5h2v2h-2zM83 5h1v2h-1zM89 5h1v2h-1zM92 5h1v2h-1zM12 3h1v2h-1zM14 3h1v2h-1zM16 3h2v2h-2zM21 3h1v2h-1zM32 3h1v2h-1zM42 3h1v2h-1zM57 3h1v2h-1zM60 3h1v2h-1zM62 3h1v2h-1zM81 3h1v2h-1zM95 3h1v2h-1zM6 1h1v2h-1zM14 1h1v2h-1zM18 1h1v2h-1zM28 1h1v2h-1zM31 1h1v2h-1zM41 1h1v2h-1zM80 1h1v2h-1zM88 1h1v2h-1zM93 1h1v2h-1zM14 0h1v1h-1zM29 0h1v1h-1zM36 0h1v1h-1zM39 0h1v1h-1zM44 0h1v1h-1zM62 0h1v1h-1zM69 0h1v1h-1zM71 0h1v1h-1zM78 0h1v1h-1zM83 0h1v1h-1zM95 0h1v1h-1zM98 0h1v1h-1z"/>
<path fill="#b22b8f" d="M9 47h1v1h-1zM13 47h1v1h-1zM23 47h1v1h-1zM8 45h1v2h-1zM88 45h1v2h-1zM2 43h1v2h-1zM57 43h1v2h-1zM75 43h1v2h-1zM1 41h1v2h-1zM3 41h1v2h-1zM5 41h2v2h-2zM14 41h1v2h-1zM16 41h1v2h-1zM28 41h1v2h-1zM31 41h1v2h-1zM52 41h1v2h-1zM69 41h1v2h-1zM75 41h1v2h-1zM82 41h1v2h-1zM93 41h1v2h-1zM95 41h1v2h-1zM35 39h1v2h-1zM35 37h1v2h-1zM29 35h1v2h-1zM35 33h1v2h-1zM39 31h1v2h-1zM66 29h1v2h-1zM66 27h1v2h-1zM1 21h1v2h-1zM11 21h1v2h-1zM29 21h1v2h-1zM38 21h1v2h-1zM48 21h1v2h-1zM65 21h1v2h-1zM70 21h1v2h-1zM2 19h1v2h-1zM36 19h2v2h-2zM48 19h1v2h-1zM59 19h1v2h-1zM87 19h1v2h-1zM4 17h1v2h-1zM6 17h1v2h-1zM11 17h3v2h-3zM30 17h2v2h-2zM35 17h1v2h-1zM39 17h1v2h-1zM43 17h1v2h-1zM46 17h1v2h-1zM48 17h2v2h-2zM61 17h1v2h-1zM75 17h1v2h-1zM79 17h1v2h-1zM1 15h2v2h-2zM5 15h2v2h-2zM17 15h1v2h-1zM23 15h1v2h-1zM43 15h1v2h-1zM47 15h1v2h-1zM57 15h1v2h-1zM67 15h1v2h-1zM74 15h1v2h-1zM77 15h1v2h-1zM4 13h1v2h-1zM7 13h1v2h-1zM9 13h1v2h-1zM20 13h1v2h-1zM39 13h2v2h-2zM46 13h1v2h-1zM48 13h2v2h-2zM51 13h3v2h-3zM61 13h1v2h-1zM79 13h1v2h-1zM81 13h1v2h-1zM2 11h1v2h-1zM20 11h1v2h-1zM22 11h1v2h-1zM33 11h1v2h-1zM35 11h1v2h-1zM37 11h1v2h-1zM41 11h1v2h-1zM45 11h1v2h-1zM49 11h1v2h-1zM78 11h1v2h-1zM90 11h1v2h-1zM3 9h1v2h-1zM12 9h1v2h-1zM18 9h1v2h-1zM30 9h1v2h-1zM57 9h1v2h-1zM69 9h1v2h-1zM88 9h1v2h-1zM93 9h1v2h-1zM18 7h1v2h-1zM74 7h1v2h-1zM93 7h1v2h-1zM12 5h1v2h-1zM40 5h1v2h-1zM57 5h1v2h-1zM94 5h2v2h-2zM18 3h1v2h-1zM38 3h1v2h-1zM50 3h1v2h-1zM70 3h1v2h-1zM84 3h1v2h-1zM89 3h1v2h-1zM93 3h1v2h-1zM15 1h1v2h-1zM23 1h1v2h-1zM34 1h1v2h-1zM40 1h1v2h-1zM57 1h1v2h-1zM65 1h1v2h-1zM81 1h1v2h-1zM83 1h1v2h-1zM2 0h1v1h-1zM11 0h2v1h-2zM19 0h1v1h-1zM43 0h1v1h-1zM49 0h5v1h-5zM77 0h1v1h-1zM82 0h1v1h-1zM91 0h1v1h-1z"/>
<path fill="#b7318a" d="M88 47h1v1h-1zM10 45h1v2h-1zM23 45h1v2h-1zM43 45h1v2h-1zM53 45h2v2h-2zM83 45h1v2h-1zM1 43h1v2h-1zM7 43h1v2h-1zM13 43h1v2h-1zM84 43h1v2h-1zM94 43h1v2h-1zM2 41h1v2h-1zM8 41h1v2h-1zM18 41h1v2h-1zM20 41h2v2h-2zM41 41h1v2h-1zM60 41h1v2h-1zM73 41h1v2h-1zM78 41h1v2h-1zM90 41h1v2h-1zM39 39h1v2h-1zM39 35h1v2h-1zM47 31h1v2h-1zM2 27h1v2h-1zM52 25h1v2h-1zM71 23h1v2h-1zM0 21h1v2h-1zM4 21h1v2h-1zM7 21h1v2h-1zM10 21h1v2h-1zM21 21h1v2h-1zM28 21h1v2h-1zM45 21h1v2h-1zM50 21h1v2h-1zM72 21h1v2h-1zM74 21h1v2h-1zM76 21h1v2h-1zM81 21h1v2h-1zM96 21h1v2h-1zM98 21h1v2h-1zM3 19h1v2h-1zM6 19h1v2h-1zM9 19h1v2h-1zM14 19h1v2h-1zM16 19h1v2h-1zM31 19h3v2h-3zM43 19h2v2h-2zM75 19h1v2h-1zM77 19h1v2h-1zM1 17h1v2h-1zM3 17h1v2h-1zM9 17h1v2h-1zM15 17h1v2h-1zM21 17h1v2h-1zM32 17h1v2h-1zM38 17h1v2h-1zM50 17h2v2h-2zM65 17h1v2h-1zM70 17h1v2h-1zM73 17h2v2h-2zM81 17h1v2h-1zM87 17h1v2h-1zM90 17h2v2h-2zM94 17h1v2h-1zM11 15h1v2h-1zM15 15h1v2h-1zM31 15h1v2h-1zM36 15h1v2h-1zM39 15h1v2h-1zM41 15h1v2h-1zM46 15h1v2h-1zM53 15h1v2h-1zM78 15h1v2h-1zM82 15h1v2h-1zM94 15h1v2h-1zM96 15h1v2h-1zM10 13h1v2h-1zM16 13h2v2h-2zM35 13h1v2h-1zM43 13h3v2h-3zM67 13h1v2h-1zM70 13h1v2h-1zM73 13h1v2h-1zM82 13h2v2h-2zM87 13h1v2h-1zM90 13h4v2h-4zM17 11h1v2h-1zM23 11h1v2h-1zM46 11h1v2h-1zM64 11h1v2h-1zM70 11h1v2h-1zM77 11h1v2h-1zM88 11h2v2h-2zM92 11h1v2h-1zM96 11h1v2h-1zM41 9h1v2h-1zM68 9h1v2h-1zM82 9h1v2h-1zM90 9h1v2h-1zM15 7h1v2h-1zM57 7h2v2h-2zM63 7h1v2h-1zM65 7h1v2h-1zM83 7h1v2h-1zM27 5h1v2h-1zM54 5h1v2h-1zM65 5h1v2h-1zM69 5h1v2h-1zM31 3h1v2h-1zM41 3h1v2h-1zM53 3h2v2h-2zM61 3h1v2h-1zM64 3h1v2h-1zM3 1h1v2h-1zM89 1h1v2h-1zM91 1h1v2h-1zM0 0h1v1h-1zM5 0h1v1h-1zM16 0h2v1h-2zM21 0h2v1h-2zM28 0h1v1h-1zM31 0h1v1h-1zM38 0h1v1h-1zM46 0h1v1h-1zM61 0h1v1h-1zM80 0h2v1h-2zM87 0h1v1h-1zM94 0h1v1h-1z"/>
<path fill="#be3885" d="M53 47h1v1h-1zM86 47h2v1h-2zM0 45h1v2h-1zM11 45h1v2h-1zM0 43h1v2h-1zM11 43h1v2h-1zM23 43h1v2h-1zM53 43h1v2h-1zM88 43h1v2h-1zM15 41h1v2h-1zM17 41h1v2h-1zM49 41h1v2h-1zM51 41h1v2h-1zM63 41h1v2h-1zM89 41h1v2h-1zM91 41h1v2h-1zM36 39h1v2h-1zM47 39h1v2h-1zM80 39h1v2h-1zM39 37h1v2h-1zM47 37h1v2h-1zM35 35h1v2h-1zM66 35h1v2h-1zM66 33h1v2h-1zM66 31h1v2h-1zM31 29h2v2h-2zM9 27h1v2h-1zM29 27h1v2h-1zM38 25h1v2h-1zM42 25h1v2h-1zM44 25h1v2h-1zM59 25h1v2h-1zM80 23h1v2h-1zM3 21h1v2h-1zM6 21h1v2h-1zM8 21h1v2h-1zM12 21h2v2h-2zM32 21h1v2h-1zM39 21h1v2h-1zM41 21h1v2h-1zM44 21h1v2h-1zM46 21h2v2h-2zM67 21h1v2h-1zM69 21h1v2h-1zM75 21h1v2h-1zM78 21h1v2h-1zM80 21h1v2h-1zM0 19h1v2h-1zM7 19h1v2h-1zM41 19h2v2h-2zM45 19h2v2h-2zM49 19h1v2h-1zM57 19h1v2h-1zM78 19h1v2h-1zM82 19h1v2h-1zM90 19h1v2h-1zM93 19h1v2h-1zM97 19h2v2h-2zM0 17h1v2h-1zM17 17h2v2h-2zM20 17h1v2h-1zM23 17h1v2h-1zM33 17h1v2h-1zM72 17h1v2h-1zM77 17h1v2h-1zM12 15h3v2h-3zM42 15h1v2h-1zM44 15h1v2h-1zM69 15h2v2h-2zM81 15h1v2h-1zM95 15h1v2h-1zM12 13h1v2h-1zM23 13h1v2h-1zM59 13h2v2h-2zM62 13h1v2h-1zM77 13h1v2h-1zM89 13h1v2h-1zM97 13h1v2h-1zM6 11h2v2h-2zM27 11h1v2h-1zM39 11h2v2h-2zM54 9h1v2h-1zM23 7h1v2h-1zM54 7h1v2h-1zM84 7h1v2h-1zM27 1h1v2h-1zM56 1h1v2h-1zM63 1h1v2h-1zM70 1h1v2h-1zM8 0h2v1h-2zM57 0h1v1h-1zM63 0h1v1h-1zM68 0h1v1h-1zM70 0h1v1h-1zM74 0h1v1h-1zM88 0h1v1h-1z"/>
<path fill="#c33d80" d="M54 47h1v1h-1zM83 47h1v1h-1zM84 45h1v2h-1zM87 45h1v2h-1zM87 43h1v2h-1zM7 41h1v2h-1zM19 41h1v2h-1zM46 41h1v2h-1zM62 41h1v2h-1zM66 39h1v2h-1zM29 37h1v2h-1zM67 37h1v2h-1zM36 35h1v2h-1zM59 35h1v2h-1zM71 35h1v2h-1zM12 33h1v2h-1zM33 33h1v2h-1zM36 33h1v2h-1zM39 33h1v2h-1zM4 31h1v2h-1zM34 31h1v2h-1zM44 31h1v2h-1zM59 31h1v2h-1zM65 31h1v2h-1zM80 31h1v2h-1zM13 29h1v2h-1zM34 29h1v2h-1zM37 29h2v2h-2zM65 29h1v2h-1zM80 29h1v2h-1zM4 27h1v2h-1zM10 27h1v2h-1zM13 27h2v2h-2zM20 27h1v2h-1zM28 27h1v2h-1zM34 27h2v2h-2zM39 27h2v2h-2zM42 27h1v2h-1zM73 27h1v2h-1zM75 27h1v2h-1zM77 27h1v2h-1zM2 25h1v2h-1zM4 25h1v2h-1zM15 25h1v2h-1zM31 25h1v2h-1zM46 25h1v2h-1zM67 25h1v2h-1zM70 25h1v2h-1zM77 25h1v2h-1zM66 23h1v2h-1zM2 21h1v2h-1zM20 21h1v2h-1zM22 21h1v2h-1zM31 21h1v2h-1zM34 21h1v2h-1zM36 21h1v2h-1zM40 21h1v2h-1zM43 21h1v2h-1zM49 21h1v2h-1zM52 21h1v2h-1zM58 21h2v2h-2zM68 21h1v2h-1zM97 21h1v2h-1zM1 19h1v2h-1zM12 19h1v2h-1zM18 19h1v2h-1zM50 19h1v2h-1zM53 19h1v2h-1zM70 19h1v2h-1zM73 19h2v2h-2zM80 19h2v2h-2zM83 19h1v2h-1zM88 19h1v2h-1zM94 19h1v2h-1zM7 17h1v2h-1zM44 17h1v2h-1zM57 17h1v2h-1zM60 17h1v2h-1zM80 17h1v2h-1zM89 17h1v2h-1zM19 15h1v2h-1zM45 15h1v2h-1zM52 15h1v2h-1zM60 15h1v2h-1zM64 15h1v2h-1zM68 15h1v2h-1zM73 15h1v2h-1zM79 15h2v2h-2zM83 15h1v2h-1zM87 15h1v2h-1zM98 15h1v2h-1zM3 13h1v2h-1zM18 13h1v2h-1zM21 13h1v2h-1zM27 13h1v2h-1zM57 13h1v2h-1zM88 13h1v2h-1zM94 13h2v2h-2zM5 11h1v2h-1zM16 11h1v2h-1zM36 11h1v2h-1zM57 11h1v2h-1zM62 11h1v2h-1zM73 11h1v2h-1zM80 11h1v2h-1zM83 11h1v2h-1zM91 11h1v2h-1zM5 9h1v2h-1zM55 9h1v2h-1zM63 9h1v2h-1zM27 7h1v2h-1zM86 7h1v2h-1zM56 5h1v2h-1zM23 3h1v2h-1zM56 3h1v2h-1zM63 3h1v2h-1zM65 3h1v2h-1zM86 3h1v2h-1zM55 1h1v2h-1zM64 1h1v2h-1zM7 0h1v1h-1zM41 0h1v1h-1z"/>
<path fill="#c9447a" d="M0 47h1v1h-1zM55 47h1v1h-1zM84 47h2v1h-2zM83 43h1v2h-1zM10 41h3v2h-3zM64 41h1v2h-1zM94 41h1v2h-1zM20 39h1v2h-1zM44 39h1v2h-1zM36 37h1v2h-1zM43 37h1v2h-1zM66 37h1v2h-1zM68 37h1v2h-1zM71 37h2v2h-2zM33 35h1v2h-1zM1 33h1v2h-1zM16 33h1v2h-1zM23 33h1v2h-1zM30 33h1v2h-1zM43 33h1v2h-1zM59 33h1v2h-1zM72 33h1v2h-1zM76 33h1v2h-1zM80 33h1v2h-1zM20 31h1v2h-1zM36 31h2v2h-2zM41 31h1v2h-1zM45 31h1v2h-1zM71 31h1v2h-1zM14 29h1v2h-1zM29 29h1v2h-1zM48 29h1v2h-1zM52 29h1v2h-1zM59 29h1v2h-1zM70 29h1v2h-1zM97 29h1v2h-1zM31 27h1v2h-1zM37 27h1v2h-1zM52 27h1v2h-1zM59 27h1v2h-1zM71 27h1v2h-1zM78 27h1v2h-1zM80 27h1v2h-1zM11 25h1v2h-1zM16 25h1v2h-1zM29 25h1v2h-1zM35 25h1v2h-1zM37 25h1v2h-1zM47 25h1v2h-1zM64 25h3v2h-3zM69 25h1v2h-1zM80 25h2v2h-2zM97 25h1v2h-1zM4 23h1v2h-1zM35 23h1v2h-1zM97 23h1v2h-1zM18 21h2v2h-2zM51 21h1v2h-1zM57 21h1v2h-1zM73 21h1v2h-1zM79 21h1v2h-1zM82 21h1v2h-1zM5 19h1v2h-1zM15 19h1v2h-1zM23 19h1v2h-1zM30 19h1v2h-1zM40 19h1v2h-1zM61 19h1v2h-1zM68 19h1v2h-1zM92 19h1v2h-1zM5 17h1v2h-1zM14 17h1v2h-1zM40 17h1v2h-1zM68 17h1v2h-1zM83 17h1v2h-1zM88 17h1v2h-1zM92 17h1v2h-1zM95 17h1v2h-1zM49 15h2v2h-2zM61 15h1v2h-1zM88 15h2v2h-2zM11 13h1v2h-1zM14 13h2v2h-2zM68 13h1v2h-1zM80 13h1v2h-1zM60 11h2v2h-2zM63 11h1v2h-1zM68 11h1v2h-1zM86 11h1v2h-1zM23 9h1v2h-1zM56 9h1v2h-1zM64 9h1v2h-1zM84 9h1v2h-1zM24 7h1v2h-1zM56 7h1v2h-1zM64 7h1v2h-1zM23 5h1v2h-1zM55 5h1v2h-1zM63 5h1v2h-1zM85 3h1v2h-1zM54 1h1v2h-1zM84 1h1v2h-1zM54 0h1v1h-1zM65 0h1v1h-1zM89 0h1v1h-1zM92 0h1v1h-1z"/>
<path fill="#cd4a76" d="M24 47h1v1h-1zM55 45h1v2h-1zM58 45h1v2h-1zM86 45h1v2h-1zM24 43h1v2h-1zM22 41h1v2h-1zM43 41h1v2h-1zM33 39h1v2h-1zM38 39h1v2h-1zM42 39h1v2h-1zM33 37h1v2h-1zM40 37h1v2h-1zM80 37h1v2h-1zM1 35h1v2h-1zM47 35h3v2h-3zM6 33h1v2h-1zM47 33h1v2h-1zM49 33h1v2h-1zM51 33h1v2h-1zM67 33h1v2h-1zM71 33h1v2h-1zM6 31h1v2h-1zM29 31h1v2h-1zM35 31h1v2h-1zM38 31h1v2h-1zM50 31h2v2h-2zM74 31h2v2h-2zM81 31h1v2h-1zM98 31h1v2h-1zM11 29h1v2h-1zM16 29h1v2h-1zM20 29h2v2h-2zM35 29h2v2h-2zM39 29h2v2h-2zM42 29h1v2h-1zM44 29h1v2h-1zM50 29h1v2h-1zM71 29h1v2h-1zM73 29h1v2h-1zM75 29h1v2h-1zM96 29h1v2h-1zM12 27h1v2h-1zM17 27h1v2h-1zM36 27h1v2h-1zM38 27h1v2h-1zM44 27h1v2h-1zM46 27h1v2h-1zM49 27h2v2h-2zM65 27h1v2h-1zM70 27h1v2h-1zM72 27h1v2h-1zM97 27h1v2h-1zM12 25h1v2h-1zM18 25h1v2h-1zM20 25h1v2h-1zM22 25h1v2h-1zM30 25h1v2h-1zM39 25h1v2h-1zM49 25h1v2h-1zM51 25h1v2h-1zM68 25h1v2h-1zM71 25h3v2h-3zM76 25h1v2h-1zM34 23h1v2h-1zM38 23h1v2h-1zM45 23h1v2h-1zM49 23h1v2h-1zM72 23h1v2h-1zM9 21h1v2h-1zM16 21h2v2h-2zM33 21h1v2h-1zM42 21h1v2h-1zM53 21h1v2h-1zM64 21h1v2h-1zM77 21h1v2h-1zM83 21h1v2h-1zM90 21h2v2h-2zM4 19h1v2h-1zM60 19h1v2h-1zM89 19h1v2h-1zM64 17h1v2h-1zM78 17h1v2h-1zM93 17h1v2h-1zM18 15h1v2h-1zM92 15h2v2h-2zM5 13h1v2h-1zM64 13h1v2h-1zM54 11h1v2h-1zM64 5h1v2h-1zM86 5h1v2h-1zM26 3h2v2h-2zM86 1h1v2h-1zM18 0h1v1h-1zM27 0h1v1h-1zM37 0h1v1h-1z"/>
<path fill="#d35171" d="M56 47h1v1h-1zM26 45h1v2h-1zM56 45h1v2h-1zM85 45h1v2h-1zM55 43h1v2h-1zM23 41h1v2h-1zM83 41h1v2h-1zM88 41h1v2h-1zM16 39h1v2h-1zM29 39h1v2h-1zM43 39h1v2h-1zM49 39h3v2h-3zM65 39h1v2h-1zM14 37h1v2h-1zM49 37h1v2h-1zM79 37h1v2h-1zM31 35h1v2h-1zM42 35h1v2h-1zM44 35h1v2h-1zM67 35h1v2h-1zM70 35h1v2h-1zM72 35h1v2h-1zM80 35h1v2h-1zM17 33h1v2h-1zM21 33h1v2h-1zM38 33h1v2h-1zM41 33h2v2h-2zM44 33h1v2h-1zM48 33h1v2h-1zM68 33h1v2h-1zM3 31h1v2h-1zM13 31h1v2h-1zM21 31h2v2h-2zM33 31h1v2h-1zM40 31h1v2h-1zM43 31h1v2h-1zM46 31h1v2h-1zM48 31h2v2h-2zM61 31h1v2h-1zM67 31h1v2h-1zM69 31h1v2h-1zM76 31h1v2h-1zM0 29h1v2h-1zM18 29h1v2h-1zM28 29h1v2h-1zM41 29h1v2h-1zM78 29h1v2h-1zM81 29h1v2h-1zM91 29h1v2h-1zM21 27h1v2h-1zM41 27h1v2h-1zM45 27h1v2h-1zM51 27h1v2h-1zM57 27h2v2h-2zM63 27h1v2h-1zM67 27h1v2h-1zM74 27h1v2h-1zM76 27h1v2h-1zM98 27h1v2h-1zM1 25h1v2h-1zM10 25h1v2h-1zM28 25h1v2h-1zM36 25h1v2h-1zM43 25h1v2h-1zM60 25h1v2h-1zM74 25h2v2h-2zM78 25h1v2h-1zM40 23h1v2h-1zM44 23h1v2h-1zM47 23h2v2h-2zM50 23h1v2h-1zM77 23h1v2h-1zM79 23h1v2h-1zM15 21h1v2h-1zM30 21h1v2h-1zM61 21h1v2h-1zM89 21h1v2h-1zM93 21h1v2h-1zM95 21h1v2h-1zM54 19h1v2h-1zM62 19h1v2h-1zM91 19h1v2h-1zM95 19h1v2h-1zM62 17h2v2h-2zM27 15h1v2h-1zM40 15h1v2h-1zM62 15h1v2h-1zM86 15h1v2h-1zM25 13h1v2h-1zM55 11h1v2h-1zM55 7h1v2h-1zM25 5h1v2h-1zM84 5h1v2h-1zM55 3h1v2h-1zM25 1h1v2h-1zM23 0h1v1h-1zM55 0h1v1h-1z"/>
<path fill="#d7566c" d="M58 47h1v1h-1zM24 45h1v2h-1zM86 43h1v2h-1zM0 41h1v2h-1zM32 41h1v2h-1zM31 39h2v2h-2zM37 39h1v2h-1zM40 39h1v2h-1zM46 39h1v2h-1zM59 39h1v2h-1zM73 39h1v2h-1zM12 37h1v2h-1zM16 37h1v2h-1zM20 37h1v2h-1zM37 37h1v2h-1zM51 37h2v2h-2zM59 37h1v2h-1zM14 35h3v2h-3zM32 35h1v2h-1zM41 35h1v2h-1zM43 35h1v2h-1zM51 35h2v2h-2zM68 35h1v2h-1zM79 35h1v2h-1zM14 33h1v2h-1zM20 33h1v2h-1zM28 33h2v2h-2zM31 33h2v2h-2zM37 33h1v2h-1zM52 33h1v2h-1zM65 33h1v2h-1zM77 33h1v2h-1zM81 33h1v2h-1zM97 33h1v2h-1zM1 31h2v2h-2zM5 31h1v2h-1zM10 31h1v2h-1zM16 31h1v2h-1zM31 31h1v2h-1zM52 31h1v2h-1zM62 31h1v2h-1zM70 31h1v2h-1zM72 31h2v2h-2zM91 31h1v2h-1zM96 31h1v2h-1zM4 29h1v2h-1zM7 29h1v2h-1zM33 29h1v2h-1zM43 29h1v2h-1zM45 29h1v2h-1zM68 29h1v2h-1zM77 29h1v2h-1zM98 29h1v2h-1zM0 27h1v2h-1zM8 27h1v2h-1zM18 27h2v2h-2zM22 27h1v2h-1zM32 27h1v2h-1zM47 27h1v2h-1zM62 27h1v2h-1zM68 27h1v2h-1zM81 27h1v2h-1zM83 27h1v2h-1zM91 27h1v2h-1zM7 25h2v2h-2zM13 25h1v2h-1zM17 25h1v2h-1zM34 25h1v2h-1zM41 25h1v2h-1zM45 25h1v2h-1zM48 25h1v2h-1zM50 25h1v2h-1zM79 25h1v2h-1zM94 25h1v2h-1zM96 25h1v2h-1zM2 23h1v2h-1zM6 23h1v2h-1zM10 23h1v2h-1zM13 23h1v2h-1zM31 23h1v2h-1zM36 23h1v2h-1zM41 23h2v2h-2zM75 23h2v2h-2zM82 23h1v2h-1zM23 21h1v2h-1zM37 21h1v2h-1zM60 21h1v2h-1zM62 21h1v2h-1zM87 21h1v2h-1zM56 19h1v2h-1zM63 19h1v2h-1zM84 19h1v2h-1zM56 17h1v2h-1zM54 15h1v2h-1zM63 15h1v2h-1zM84 15h1v2h-1zM54 13h1v2h-1zM56 13h1v2h-1zM63 13h1v2h-1zM85 13h1v2h-1zM24 11h1v2h-1zM26 11h1v2h-1zM25 9h3v2h-3zM86 9h1v2h-1zM26 7h1v2h-1zM85 7h1v2h-1zM24 5h1v2h-1zM26 5h1v2h-1zM24 3h2v2h-2zM24 1h1v2h-1zM26 1h1v2h-1zM56 0h1v1h-1zM84 0h1v1h-1z"/>
<path fill="#dc5d67" d="M56 43h1v2h-1zM58 43h1v2h-1zM85 43h1v2h-1zM53 41h2v2h-2zM0 39h1v2h-1zM14 39h1v2h-1zM41 39h1v2h-1zM45 39h1v2h-1zM48 39h1v2h-1zM52 39h1v2h-1zM67 39h1v2h-1zM71 39h1v2h-1zM76 39h1v2h-1zM78 39h1v2h-1zM83 39h1v2h-1zM23 37h1v2h-1zM30 37h1v2h-1zM32 37h1v2h-1zM34 37h1v2h-1zM38 37h1v2h-1zM44 37h2v2h-2zM69 37h1v2h-1zM73 37h2v2h-2zM91 37h1v2h-1zM97 37h1v2h-1zM7 35h2v2h-2zM11 35h1v2h-1zM30 35h1v2h-1zM37 35h1v2h-1zM76 35h2v2h-2zM97 35h1v2h-1zM8 33h1v2h-1zM13 33h1v2h-1zM34 33h1v2h-1zM40 33h1v2h-1zM45 33h2v2h-2zM50 33h1v2h-1zM74 33h1v2h-1zM78 33h1v2h-1zM83 33h1v2h-1zM90 33h1v2h-1zM98 33h1v2h-1zM0 31h1v2h-1zM7 31h1v2h-1zM11 31h2v2h-2zM14 31h1v2h-1zM18 31h1v2h-1zM68 31h1v2h-1zM78 31h2v2h-2zM83 31h1v2h-1zM94 31h2v2h-2zM1 29h3v2h-3zM9 29h2v2h-2zM15 29h1v2h-1zM17 29h1v2h-1zM22 29h1v2h-1zM30 29h1v2h-1zM46 29h2v2h-2zM58 29h1v2h-1zM64 29h1v2h-1zM67 29h1v2h-1zM69 29h1v2h-1zM72 29h1v2h-1zM74 29h1v2h-1zM76 29h1v2h-1zM83 29h1v2h-1zM1 27h1v2h-1zM6 27h2v2h-2zM11 27h1v2h-1zM16 27h1v2h-1zM43 27h1v2h-1zM64 27h1v2h-1zM79 27h1v2h-1zM87 27h1v2h-1zM90 27h1v2h-1zM96 27h1v2h-1zM3 25h1v2h-1zM14 25h1v2h-1zM19 25h1v2h-1zM21 25h1v2h-1zM32 25h1v2h-1zM40 25h1v2h-1zM62 25h1v2h-1zM82 25h1v2h-1zM91 25h1v2h-1zM95 25h1v2h-1zM98 25h1v2h-1zM1 23h1v2h-1zM3 23h1v2h-1zM7 23h1v2h-1zM16 23h1v2h-1zM28 23h1v2h-1zM46 23h1v2h-1zM52 23h2v2h-2zM65 23h1v2h-1zM73 23h1v2h-1zM5 21h1v2h-1zM14 21h1v2h-1zM92 21h1v2h-1zM94 21h1v2h-1zM64 19h1v2h-1zM86 19h1v2h-1zM56 15h1v2h-1zM25 11h1v2h-1zM84 11h1v2h-1zM24 9h1v2h-1zM85 0h1v1h-1z"/>
<path fill="#e06363" d="M25 47h2v1h-2zM26 43h1v2h-1zM54 43h1v2h-1zM26 41h1v2h-1zM57 41h1v2h-1zM84 41h1v2h-1zM86 41h1v2h-1zM8 39h1v2h-1zM12 39h1v2h-1zM23 39h1v2h-1zM30 39h1v2h-1zM34 39h1v2h-1zM68 39h1v2h-1zM72 39h1v2h-1zM75 39h1v2h-1zM79 39h1v2h-1zM91 39h1v2h-1zM19 37h1v2h-1zM28 37h1v2h-1zM41 37h1v2h-1zM50 37h1v2h-1zM76 37h1v2h-1zM81 37h1v2h-1zM6 35h1v2h-1zM12 35h1v2h-1zM18 35h1v2h-1zM28 35h1v2h-1zM34 35h1v2h-1zM38 35h1v2h-1zM40 35h1v2h-1zM45 35h2v2h-2zM50 35h1v2h-1zM53 35h1v2h-1zM61 35h2v2h-2zM65 35h1v2h-1zM69 35h1v2h-1zM90 35h2v2h-2zM95 35h1v2h-1zM0 33h1v2h-1zM7 33h1v2h-1zM15 33h1v2h-1zM19 33h1v2h-1zM61 33h1v2h-1zM69 33h1v2h-1zM89 33h1v2h-1zM8 31h1v2h-1zM15 31h1v2h-1zM19 31h1v2h-1zM23 31h1v2h-1zM30 31h1v2h-1zM42 31h1v2h-1zM77 31h1v2h-1zM89 31h2v2h-2zM97 31h1v2h-1zM6 29h1v2h-1zM12 29h1v2h-1zM51 29h1v2h-1zM60 29h1v2h-1zM62 29h1v2h-1zM79 29h1v2h-1zM82 29h1v2h-1zM89 29h2v2h-2zM15 27h1v2h-1zM30 27h1v2h-1zM48 27h1v2h-1zM60 27h1v2h-1zM69 27h1v2h-1zM82 27h1v2h-1zM93 27h1v2h-1zM0 25h1v2h-1zM6 25h1v2h-1zM9 25h1v2h-1zM58 25h1v2h-1zM90 25h1v2h-1zM92 25h1v2h-1zM0 23h1v2h-1zM5 23h1v2h-1zM8 23h1v2h-1zM17 23h1v2h-1zM19 23h2v2h-2zM29 23h1v2h-1zM33 23h1v2h-1zM37 23h1v2h-1zM39 23h1v2h-1zM51 23h1v2h-1zM64 23h1v2h-1zM68 23h3v2h-3zM74 23h1v2h-1zM78 23h1v2h-1zM81 23h1v2h-1zM88 21h1v2h-1zM27 19h1v2h-1zM86 17h1v2h-1zM24 15h2v2h-2zM55 15h1v2h-1zM84 13h1v2h-1zM56 11h1v2h-1zM85 11h1v2h-1zM25 7h1v2h-1zM85 5h1v2h-1zM25 0h1v1h-1zM86 0h1v1h-1z"/>
<path fill="#e4695e" d="M27 43h1v2h-1zM13 41h1v2h-1zM1 39h2v2h-2zM4 39h2v2h-2zM28 39h1v2h-1zM53 39h1v2h-1zM62 39h1v2h-1zM69 39h2v2h-2zM74 39h1v2h-1zM77 39h1v2h-1zM81 39h1v2h-1zM90 39h1v2h-1zM97 39h1v2h-1zM1 37h1v2h-1zM3 37h1v2h-1zM5 37h1v2h-1zM7 37h1v2h-1zM11 37h1v2h-1zM13 37h1v2h-1zM15 37h1v2h-1zM17 37h1v2h-1zM21 37h1v2h-1zM31 37h1v2h-1zM42 37h1v2h-1zM48 37h1v2h-1zM53 37h1v2h-1zM61 37h1v2h-1zM65 37h1v2h-1zM2 35h1v2h-1zM13 35h1v2h-1zM20 35h3v2h-3zM73 35h1v2h-1zM75 35h1v2h-1zM5 33h1v2h-1zM11 33h1v2h-1zM58 33h1v2h-1zM60 33h1v2h-1zM73 33h1v2h-1zM75 33h1v2h-1zM79 33h1v2h-1zM82 33h1v2h-1zM93 33h1v2h-1zM9 31h1v2h-1zM17 31h1v2h-1zM32 31h1v2h-1zM64 31h1v2h-1zM8 29h1v2h-1zM19 29h1v2h-1zM49 29h1v2h-1zM53 29h1v2h-1zM63 29h1v2h-1zM94 29h1v2h-1zM5 27h1v2h-1zM23 27h1v2h-1zM33 27h1v2h-1zM53 27h1v2h-1zM89 27h1v2h-1zM5 25h1v2h-1zM23 25h1v2h-1zM57 25h1v2h-1zM61 25h1v2h-1zM89 25h1v2h-1zM9 23h1v2h-1zM21 23h2v2h-2zM30 23h1v2h-1zM32 23h1v2h-1zM58 23h1v2h-1zM67 23h1v2h-1zM83 23h1v2h-1zM89 23h1v2h-1zM91 23h1v2h-1zM98 23h1v2h-1zM63 21h1v2h-1zM55 19h1v2h-1zM27 17h1v2h-1zM54 17h1v2h-1zM84 17h1v2h-1zM26 15h1v2h-1zM24 13h1v2h-1zM26 13h1v2h-1zM86 13h1v2h-1zM85 1h1v2h-1zM64 0h1v1h-1z"/>
<path fill="#e87059" d="M25 43h1v2h-1zM24 41h1v2h-1zM58 41h1v2h-1zM87 41h1v2h-1zM7 39h1v2h-1zM15 39h1v2h-1zM21 39h1v2h-1zM98 39h1v2h-1zM2 37h1v2h-1zM8 37h1v2h-1zM22 37h1v2h-1zM46 37h1v2h-1zM77 37h2v2h-2zM90 37h1v2h-1zM98 37h1v2h-1zM0 35h1v2h-1zM9 35h2v2h-2zM17 35h1v2h-1zM74 35h1v2h-1zM78 35h1v2h-1zM94 35h1v2h-1zM98 35h1v2h-1zM3 33h2v2h-2zM10 33h1v2h-1zM53 33h1v2h-1zM91 33h1v2h-1zM94 33h2v2h-2zM28 31h1v2h-1zM53 31h1v2h-1zM60 31h1v2h-1zM63 31h1v2h-1zM82 31h1v2h-1zM93 31h1v2h-1zM5 29h1v2h-1zM23 29h1v2h-1zM61 29h1v2h-1zM92 29h1v2h-1zM95 29h1v2h-1zM61 27h1v2h-1zM92 27h1v2h-1zM94 27h2v2h-2zM33 25h1v2h-1zM53 25h1v2h-1zM93 25h1v2h-1zM12 23h1v2h-1zM15 23h1v2h-1zM18 23h1v2h-1zM23 23h1v2h-1zM43 23h1v2h-1zM59 23h5v2h-5zM92 23h1v2h-1zM24 21h1v2h-1zM84 21h1v2h-1zM86 21h1v2h-1zM24 19h2v2h-2zM24 17h3v2h-3zM26 0h1v1h-1z"/>
<path fill="#eb7655" d="M27 47h1v1h-1zM25 45h1v2h-1zM25 41h1v2h-1zM3 39h1v2h-1zM6 39h1v2h-1zM10 39h2v2h-2zM13 39h1v2h-1zM22 39h1v2h-1zM61 39h1v2h-1zM92 39h1v2h-1zM0 37h1v2h-1zM58 37h1v2h-1zM62 37h1v2h-1zM64 37h1v2h-1zM70 37h1v2h-1zM95 37h1v2h-1zM3 35h3v2h-3zM19 35h1v2h-1zM60 35h1v2h-1zM89 35h1v2h-1zM2 33h1v2h-1zM9 33h1v2h-1zM18 33h1v2h-1zM22 33h1v2h-1zM62 33h1v2h-1zM64 33h1v2h-1zM70 33h1v2h-1zM96 33h1v2h-1zM24 31h1v2h-1zM58 31h1v2h-1zM85 31h1v2h-1zM92 31h1v2h-1zM87 29h1v2h-1zM93 29h1v2h-1zM86 27h1v2h-1zM85 25h1v2h-1zM87 25h1v2h-1zM11 23h1v2h-1zM14 23h1v2h-1zM57 23h1v2h-1zM87 23h1v2h-1zM90 23h1v2h-1zM93 23h2v2h-2zM96 23h1v2h-1zM54 21h1v2h-1zM85 21h1v2h-1zM85 19h1v2h-1zM55 17h1v2h-1zM85 17h1v2h-1zM55 13h1v2h-1zM24 0h1v1h-1z"/>
<path fill="#ef7e50" d="M55 41h2v2h-2zM85 41h1v2h-1zM17 39h2v2h-2zM82 39h1v2h-1zM89 39h1v2h-1zM95 39h1v2h-1zM6 37h1v2h-1zM9 37h2v2h-2zM75 37h1v2h-1zM93 37h1v2h-1zM58 35h1v2h-1zM92 35h1v2h-1zM96 35h1v2h-1zM63 33h1v2h-1zM92 33h1v2h-1zM24 29h1v2h-1zM57 29h1v2h-1zM86 29h1v2h-1zM3 27h1v2h-1zM84 27h2v2h-2zM25 25h1v2h-1zM63 25h1v2h-1zM83 25h2v2h-2zM86 25h1v2h-1zM86 23h1v2h-1zM56 21h1v2h-1zM85 15h1v2h-1z"/>
<path fill="#f2844b" d="M27 45h1v2h-1zM19 39h1v2h-1zM58 39h1v2h-1zM60 39h1v2h-1zM64 39h1v2h-1zM94 39h1v2h-1zM4 37h1v2h-1zM60 37h1v2h-1zM63 37h1v2h-1zM83 37h1v2h-1zM96 37h1v2h-1zM23 35h1v2h-1zM64 35h1v2h-1zM81 35h3v2h-3zM93 35h1v2h-1zM24 33h1v2h-1zM84 33h1v2h-1zM25 31h1v2h-1zM57 31h1v2h-1zM84 29h1v2h-1zM25 27h1v2h-1zM56 27h1v2h-1zM88 27h1v2h-1zM88 25h1v2h-1zM95 23h1v2h-1zM27 21h1v2h-1zM55 21h1v2h-1zM85 9h1v2h-1z"/>
<path fill="#f58c46" d="M9 39h1v2h-1zM63 39h1v2h-1zM93 39h1v2h-1zM82 37h1v2h-1zM89 37h1v2h-1zM92 37h1v2h-1zM94 37h1v2h-1zM25 35h1v2h-1zM26 31h1v2h-1zM87 31h2v2h-2zM25 29h1v2h-1zM26 27h1v2h-1zM27 23h1v2h-1zM88 23h1v2h-1zM25 21h1v2h-1zM26 19h1v2h-1z"/>
<path fill="#f79342" d="M96 39h1v2h-1zM18 37h1v2h-1zM88 35h1v2h-1zM56 33h1v2h-1zM88 33h1v2h-1zM84 31h1v2h-1zM86 31h1v2h-1zM85 29h1v2h-1zM24 27h1v2h-1zM54 27h1v2h-1zM25 23h1v2h-1z"/>
<path fill="#fa9b3d" d="M24 37h1v2h-1zM85 37h1v2h-1zM63 35h1v2h-1zM54 33h1v2h-1zM85 33h1v2h-1zM55 31h1v2h-1zM27 27h1v2h-1zM55 27h1v2h-1zM24 25h1v2h-1zM56 25h1v2h-1zM24 23h1v2h-1zM56 23h1v2h-1zM26 21h1v2h-1z"/>
<path fill="#fba238" d="M27 41h1v2h-1zM25 37h1v2h-1zM57 33h1v2h-1zM56 31h1v2h-1zM54 29h2v2h-2zM88 29h1v2h-1zM27 25h1v2h-1zM55 23h1v2h-1zM84 23h2v2h-2z"/>
<path fill="#fca934" d="M24 39h2v2h-2zM88 39h1v2h-1zM84 37h1v2h-1zM24 35h1v2h-1zM55 35h1v2h-1zM85 35h1v2h-1zM25 33h2v2h-2zM55 33h1v2h-1zM54 31h1v2h-1zM27 29h1v2h-1zM56 29h1v2h-1zM26 25h1v2h-1zM54 25h2v2h-2z"/>
<path fill="#fdb22f" d="M88 37h1v2h-1zM56 35h1v2h-1zM84 35h1v2h-1zM87 33h1v2h-1zM27 31h1v2h-1zM26 23h1v2h-1z"/>
<path fill="#feba2c" d="M86 39h2v2h-2zM57 35h1v2h-1zM86 33h1v2h-1zM26 29h1v2h-1z"/>
<path fill="#fdc328" d="M56 39h1v2h-1zM84 39h1v2h-1zM55 37h1v2h-1zM26 35h1v2h-1zM27 33h1v2h-1zM54 23h1v2h-1z"/>
<path fill="#fdcb26" d="M54 39h1v2h-1zM57 39h1v2h-1zM85 39h1v2h-1zM56 37h2v2h-2zM86 37h1v2h-1zM54 35h1v2h-1z"/>
<path fill="#fbd524" d="M26 39h1v2h-1zM26 37h1v2h-1zM87 37h1v2h-1zM27 35h1v2h-1zM86 35h1v2h-1z"/>
<path fill="#f9dd25" d="M27 39h1v2h-1zM55 39h1v2h-1zM54 37h1v2h-1zM87 35h1v2h-1z"/>
<path fill="#f6e826" d="M27 37h1v2h-1z"/>
</g>
<line x1="732.59" y1="200.10" x2="732.59" y2="425.40" stroke="#808080" stroke-opacity="0.6" stroke-width="1.25"/>
<text x="0.00" y="0.00" font-size="17.50" textLength="65.57" lengthAdjust="spacingAndGlyphs" fill="#444" transform="translate(737.79 198.40) rotate(-90)">Pinched</text>
<line x1="770.83" y1="200.10" x2="770.83" y2="425.40" stroke="#808080" stroke-opacity="0.6" stroke-width="1.25"/>
<text x="0.00" y="0.00" font-size="17.50" textLength="75.85" lengthAdjust="spacingAndGlyphs" fill="#444" transform="translate(776.03 198.40) rotate(-90)">Released</text>
<line x1="792.59" y1="200.10" x2="792.59" y2="425.40" stroke="#808080" stroke-opacity="0.6" stroke-width="1.25"/>
<text x="0.00" y="0.00" font-size="17.50" textLength="23.75" lengthAdjust="spacingAndGlyphs" fill="#444" transform="translate(797.79 198.40) rotate(-90)">Hit</text>
<line x1="874.51" y1="200.10" x2="874.51" y2="425.40" stroke="#808080" stroke-opacity="0.6" stroke-width="1.25"/>
<text x="0.00" y="0.00" font-size="17.50" textLength="65.57" lengthAdjust="spacingAndGlyphs" fill="#444" transform="translate(879.71 198.40) rotate(-90)">Pinched</text>
<line x1="907.64" y1="200.10" x2="907.64" y2="425.40" stroke="#808080" stroke-opacity="0.6" stroke-width="1.25"/>
<text x="0.00" y="0.00" font-size="17.50" textLength="75.85" lengthAdjust="spacingAndGlyphs" fill="#444" transform="translate(912.84 198.40) rotate(-90)">Released</text>
<line x1="924.25" y1="200.10" x2="924.25" y2="425.40" stroke="#808080" stroke-opacity="0.6" stroke-width="1.25"/>
<text x="0.00" y="0.00" font-size="17.50" textLength="23.75" lengthAdjust="spacingAndGlyphs" fill="#444" transform="translate(929.45 198.40) rotate(-90)">Hit</text>
<line x1="1008.67" y1="200.10" x2="1008.67" y2="425.40" stroke="#808080" stroke-opacity="0.6" stroke-width="1.25"/>
<text x="0.00" y="0.00" font-size="17.50" textLength="65.57" lengthAdjust="spacingAndGlyphs" fill="#444" transform="translate(1013.87 198.40) rotate(-90)">Pinched</text>
<line x1="1039.48" y1="200.10" x2="1039.48" y2="425.40" stroke="#808080" stroke-opacity="0.6" stroke-width="1.25"/>
<text x="0.00" y="0.00" font-size="17.50" textLength="75.85" lengthAdjust="spacingAndGlyphs" fill="#444" transform="translate(1044.68 198.40) rotate(-90)">Released</text>
<line x1="1058.27" y1="200.10" x2="1058.27" y2="425.40" stroke="#808080" stroke-opacity="0.6" stroke-width="1.25"/>
<text x="0.00" y="0.00" font-size="17.50" textLength="23.75" lengthAdjust="spacingAndGlyphs" fill="#444" transform="translate(1063.47 198.40) rotate(-90)">Hit</text>
<path d="M665.54 200.10V425.40H1109.60" fill="none" stroke="#000" stroke-width="1.11" stroke-linecap="square"/>
<rect x="1115.50" y="200.10" width="11.30" height="225.30" fill="url(#pl)"/>
<rect x="1115.50" y="200.10" width="11.30" height="225.30" fill="none" stroke="#000" stroke-width="1.11"/>
<path d="M660.68 425.40h4.86M660.68 387.85h4.86M660.68 350.30h4.86M660.68 312.75h4.86M660.68 275.20h4.86M660.68 237.65h4.86M660.68 200.10h4.86M665.54 425.40v4.86M754.35 425.40v4.86M843.16 425.40v4.86M931.98 425.40v4.86M1020.79 425.40v4.86M1109.60 425.40v4.86M1126.80 389.76h4.86M1126.80 334.51h4.86M1126.80 279.25h4.86M1126.80 224.00h4.86" stroke="#000" stroke-width="1.11"/>
<text x="664.84" y="83.80" font-size="20.42" textLength="111.08" lengthAdjust="spacingAndGlyphs" fill="#000">Condition 3</text>
<text x="664.84" y="106.80" font-size="16.04" textLength="176.20" lengthAdjust="spacingAndGlyphs" fill="#000">D = 2m, G = 3.73 m²/s</text>
<g transform="translate(1266.890 200.100) scale(4.44556 4.69375)" shape-rendering="crispEdges">
<path fill="#1b068d" d="M17 47h1v1h-1z"/>
<path fill="#260591" d="M18 47h1v1h-1z"/>
<path fill="#310597" d="M1 47h1v1h-1zM11 47h1v1h-1zM93 47h1v1h-1zM87 43h1v2h-1z"/>
<path fill="#3a049a" d="M7 47h1v1h-1zM73 47h1v1h-1zM11 45h1v2h-1zM16 45h2v2h-2zM72 45h1v2h-1zM85 45h1v2h-1zM87 45h1v2h-1zM17 43h1v2h-1z"/>
<path fill="#44039e" d="M16 47h1v1h-1zM33 47h1v1h-1zM35 47h1v1h-1zM87 47h1v1h-1zM92 47h1v1h-1zM94 47h2v1h-2zM1 45h1v2h-1zM4 45h1v2h-1zM67 45h1v2h-1zM88 45h1v2h-1zM93 45h1v2h-1zM7 43h1v2h-1zM18 43h1v2h-1zM31 43h2v2h-2zM35 43h1v2h-1zM92 43h1v2h-1zM95 43h1v2h-1zM37 7h1v2h-1z"/>
<path fill="#4c02a1" d="M32 47h1v1h-1zM34 47h1v1h-1zM36 47h1v1h-1zM39 47h1v1h-1zM67 47h1v1h-1zM72 47h1v1h-1zM84 47h1v1h-1zM86 47h1v1h-1zM88 47h1v1h-1zM97 47h1v1h-1zM8 45h1v2h-1zM13 45h1v2h-1zM18 45h1v2h-1zM58 45h1v2h-1zM65 45h1v2h-1zM97 45h1v2h-1zM4 43h1v2h-1zM35 9h1v2h-1zM9 5h1v2h-1zM0 1h1v2h-1zM36 1h1v2h-1z"/>
<path fill="#5601a4" d="M6 47h1v1h-1zM15 47h1v1h-1zM19 47h1v1h-1zM65 47h1v1h-1zM85 47h1v1h-1zM89 47h1v1h-1zM96 47h1v1h-1zM7 45h1v2h-1zM32 45h1v2h-1zM35 45h1v2h-1zM68 45h1v2h-1zM92 45h1v2h-1zM95 45h1v2h-1zM11 43h1v2h-1zM72 43h1v2h-1zM85 43h1v2h-1zM97 43h1v2h-1zM4 7h1v2h-1zM0 5h1v2h-1zM29 5h1v2h-1zM35 5h1v2h-1zM33 3h1v2h-1zM3 1h1v2h-1z"/>
<path fill="#5e01a6" d="M4 47h1v1h-1zM13 47h1v1h-1zM30 47h2v1h-2zM38 47h1v1h-1zM63 47h1v1h-1zM66 47h1v1h-1zM19 45h1v2h-1zM33 45h1v2h-1zM57 45h1v2h-1zM69 45h1v2h-1zM73 45h1v2h-1zM84 45h1v2h-1zM3 43h1v2h-1zM19 43h1v2h-1zM28 43h1v2h-1zM58 43h1v2h-1zM67 43h1v2h-1zM73 43h1v2h-1zM88 43h1v2h-1zM94 43h1v2h-1zM96 43h1v2h-1zM17 41h2v2h-2zM36 9h1v2h-1zM2 7h1v2h-1zM32 7h1v2h-1zM3 5h1v2h-1zM17 5h1v2h-1zM0 3h1v2h-1zM72 3h1v2h-1zM88 3h1v2h-1zM2 1h1v2h-1zM8 1h1v2h-1z"/>
<path fill="#6700a8" d="M8 47h1v1h-1zM20 47h1v1h-1zM28 47h1v1h-1zM57 47h1v1h-1zM68 47h1v1h-1zM34 45h1v2h-1zM38 45h1v2h-1zM56 45h1v2h-1zM66 45h1v2h-1zM75 45h1v2h-1zM89 45h1v2h-1zM94 45h1v2h-1zM16 43h1v2h-1zM33 43h2v2h-2zM36 43h1v2h-1zM63 43h1v2h-1zM66 43h1v2h-1zM84 43h1v2h-1zM89 43h1v2h-1zM93 43h1v2h-1zM1 41h1v2h-1zM16 41h1v2h-1zM9 9h1v2h-1zM15 9h1v2h-1zM7 7h1v2h-1zM9 7h1v2h-1zM89 7h1v2h-1zM12 5h1v2h-1zM15 5h1v2h-1zM20 5h1v2h-1zM37 5h1v2h-1zM96 5h1v2h-1zM5 3h1v2h-1zM15 3h1v2h-1zM17 1h1v2h-1zM32 1h2v2h-2z"/>
<path fill="#6f00a8" d="M2 47h1v1h-1zM37 47h1v1h-1zM58 47h1v1h-1zM69 47h1v1h-1zM75 47h1v1h-1zM90 47h2v1h-2zM2 45h1v2h-1zM14 45h2v2h-2zM31 45h1v2h-1zM39 45h1v2h-1zM63 45h1v2h-1zM91 45h1v2h-1zM1 43h1v2h-1zM13 43h1v2h-1zM39 43h1v2h-1zM57 43h1v2h-1zM65 43h1v2h-1zM69 43h1v2h-1zM86 43h1v2h-1zM91 43h1v2h-1zM32 41h2v2h-2zM87 41h1v2h-1zM95 41h1v2h-1zM10 17h1v2h-1zM33 11h1v2h-1zM2 9h2v2h-2zM7 9h2v2h-2zM29 9h1v2h-1zM32 9h1v2h-1zM38 9h1v2h-1zM46 9h1v2h-1zM57 9h1v2h-1zM96 9h1v2h-1zM3 7h1v2h-1zM11 7h1v2h-1zM35 7h1v2h-1zM57 7h1v2h-1zM87 7h1v2h-1zM2 5h1v2h-1zM4 5h1v2h-1zM6 5h2v2h-2zM31 5h3v2h-3zM89 5h1v2h-1zM93 5h2v2h-2zM3 3h1v2h-1zM7 3h1v2h-1zM14 3h1v2h-1zM32 3h1v2h-1zM36 3h1v2h-1zM38 3h1v2h-1zM83 3h1v2h-1zM93 3h1v2h-1zM7 1h1v2h-1zM9 1h1v2h-1zM16 1h1v2h-1zM29 1h1v2h-1zM58 1h1v2h-1zM83 1h1v2h-1zM88 1h1v2h-1zM94 1h1v2h-1zM32 0h1v1h-1z"/>
<path fill="#7701a8" d="M0 47h1v1h-1zM3 47h1v1h-1zM5 47h1v1h-1zM12 47h1v1h-1zM14 47h1v1h-1zM55 47h1v1h-1zM83 47h1v1h-1zM3 45h1v2h-1zM5 45h1v2h-1zM30 45h1v2h-1zM61 45h1v2h-1zM98 45h1v2h-1zM2 43h1v2h-1zM8 43h1v2h-1zM38 43h1v2h-1zM56 43h1v2h-1zM68 43h1v2h-1zM90 43h1v2h-1zM7 41h1v2h-1zM13 41h1v2h-1zM58 41h1v2h-1zM85 41h1v2h-1zM88 41h1v2h-1zM85 19h1v2h-1zM3 17h1v2h-1zM33 17h1v2h-1zM1 15h1v2h-1zM11 15h1v2h-1zM30 15h1v2h-1zM87 13h1v2h-1zM8 11h1v2h-1zM32 11h1v2h-1zM83 11h1v2h-1zM0 9h1v2h-1zM16 9h2v2h-2zM31 9h1v2h-1zM33 9h1v2h-1zM72 9h1v2h-1zM89 9h1v2h-1zM92 9h1v2h-1zM14 7h1v2h-1zM17 7h1v2h-1zM33 7h1v2h-1zM36 7h1v2h-1zM72 7h1v2h-1zM83 7h1v2h-1zM85 7h1v2h-1zM96 7h1v2h-1zM5 5h1v2h-1zM10 5h1v2h-1zM16 5h1v2h-1zM19 5h1v2h-1zM21 5h1v2h-1zM27 5h1v2h-1zM36 5h1v2h-1zM38 5h2v2h-2zM56 5h1v2h-1zM97 5h1v2h-1zM1 3h2v2h-2zM9 3h1v2h-1zM17 3h1v2h-1zM35 3h1v2h-1zM37 3h1v2h-1zM87 3h1v2h-1zM92 3h1v2h-1zM12 1h1v2h-1zM15 1h1v2h-1zM30 1h1v2h-1zM35 1h1v2h-1zM57 1h1v2h-1zM96 1h2v2h-2zM0 0h1v1h-1zM2 0h2v1h-2z"/>
<path fill="#8004a8" d="M29 47h1v1h-1zM61 47h2v1h-2zM98 47h1v1h-1zM0 45h1v2h-1zM6 45h1v2h-1zM20 45h1v2h-1zM28 45h2v2h-2zM36 45h1v2h-1zM40 45h1v2h-1zM59 45h2v2h-2zM64 45h1v2h-1zM90 45h1v2h-1zM96 45h1v2h-1zM0 43h1v2h-1zM5 43h2v2h-2zM15 43h1v2h-1zM20 43h1v2h-1zM74 43h1v2h-1zM19 41h1v2h-1zM35 41h1v2h-1zM38 41h1v2h-1zM72 41h2v2h-2zM10 19h2v2h-2zM34 17h1v2h-1zM46 17h1v2h-1zM3 15h1v2h-1zM31 15h1v2h-1zM85 15h1v2h-1zM30 13h2v2h-2zM30 11h1v2h-1zM10 9h2v2h-2zM14 9h1v2h-1zM19 9h2v2h-2zM28 9h1v2h-1zM93 9h2v2h-2zM1 7h1v2h-1zM5 7h1v2h-1zM8 7h1v2h-1zM10 7h1v2h-1zM16 7h1v2h-1zM19 7h1v2h-1zM28 7h2v2h-2zM31 7h1v2h-1zM38 7h2v2h-2zM46 7h1v2h-1zM66 7h1v2h-1zM92 7h1v2h-1zM1 5h1v2h-1zM8 5h1v2h-1zM11 5h1v2h-1zM14 5h1v2h-1zM57 5h1v2h-1zM4 3h1v2h-1zM8 3h1v2h-1zM10 3h2v2h-2zM39 3h1v2h-1zM42 3h1v2h-1zM66 3h1v2h-1zM73 3h1v2h-1zM4 1h3v2h-3zM11 1h1v2h-1zM20 1h1v2h-1zM31 1h1v2h-1zM37 1h3v2h-3zM46 1h1v2h-1zM72 1h1v2h-1zM86 1h2v2h-2zM89 1h1v2h-1zM91 1h1v2h-1zM93 1h1v2h-1zM4 0h1v1h-1zM7 0h1v1h-1zM9 0h1v1h-1zM30 0h1v1h-1zM57 0h1v1h-1z"/>
<path fill="#8707a6" d="M10 47h1v1h-1zM56 47h1v1h-1zM71 47h1v1h-1zM76 47h2v1h-2zM86 45h1v2h-1zM10 43h1v2h-1zM14 43h1v2h-1zM30 43h1v2h-1zM37 43h1v2h-1zM55 43h1v2h-1zM70 43h1v2h-1zM6 41h1v2h-1zM11 41h1v2h-1zM34 41h1v2h-1zM57 41h1v2h-1zM65 41h3v2h-3zM86 41h1v2h-1zM92 41h2v2h-2zM87 21h1v2h-1zM97 21h1v2h-1zM1 19h2v2h-2zM14 19h1v2h-1zM37 19h1v2h-1zM94 19h1v2h-1zM2 17h1v2h-1zM5 17h1v2h-1zM7 17h2v2h-2zM32 17h1v2h-1zM61 17h1v2h-1zM87 17h1v2h-1zM7 15h2v2h-2zM10 15h1v2h-1zM12 15h1v2h-1zM33 15h1v2h-1zM36 15h1v2h-1zM17 13h1v2h-1zM86 13h1v2h-1zM95 13h1v2h-1zM9 11h1v2h-1zM31 11h1v2h-1zM37 11h1v2h-1zM97 11h1v2h-1zM1 9h1v2h-1zM6 9h1v2h-1zM12 9h2v2h-2zM37 9h1v2h-1zM83 9h2v2h-2zM86 9h2v2h-2zM97 9h1v2h-1zM13 7h1v2h-1zM20 7h2v2h-2zM30 7h1v2h-1zM34 7h1v2h-1zM86 7h1v2h-1zM93 7h1v2h-1zM28 5h1v2h-1zM30 5h1v2h-1zM34 5h1v2h-1zM58 5h1v2h-1zM65 5h1v2h-1zM83 5h1v2h-1zM87 5h2v2h-2zM6 3h1v2h-1zM12 3h2v2h-2zM21 3h1v2h-1zM29 3h1v2h-1zM46 3h1v2h-1zM57 3h1v2h-1zM95 3h3v2h-3zM1 1h1v2h-1zM28 1h1v2h-1zM34 1h1v2h-1zM85 1h1v2h-1zM5 0h1v1h-1zM33 0h1v1h-1z"/>
<path fill="#8f0da4" d="M21 47h1v1h-1zM42 47h1v1h-1zM47 47h1v1h-1zM54 47h1v1h-1zM59 47h2v1h-2zM74 47h1v1h-1zM10 45h1v2h-1zM37 45h1v2h-1zM21 43h1v2h-1zM29 43h1v2h-1zM40 43h1v2h-1zM61 43h1v2h-1zM64 43h1v2h-1zM4 41h1v2h-1zM14 41h1v2h-1zM21 41h1v2h-1zM30 41h2v2h-2zM36 41h1v2h-1zM39 41h1v2h-1zM68 41h1v2h-1zM71 41h1v2h-1zM8 21h1v2h-1zM11 21h1v2h-1zM17 21h1v2h-1zM30 21h1v2h-1zM86 21h1v2h-1zM3 19h1v2h-1zM5 19h1v2h-1zM30 19h2v2h-2zM33 19h1v2h-1zM39 19h1v2h-1zM72 19h1v2h-1zM93 19h1v2h-1zM36 17h2v2h-2zM57 17h1v2h-1zM86 17h1v2h-1zM6 15h1v2h-1zM46 15h1v2h-1zM86 15h2v2h-2zM4 13h1v2h-1zM7 13h1v2h-1zM14 13h1v2h-1zM34 13h1v2h-1zM37 13h1v2h-1zM85 13h1v2h-1zM1 11h1v2h-1zM5 11h2v2h-2zM10 11h1v2h-1zM4 9h1v2h-1zM30 9h1v2h-1zM34 9h1v2h-1zM39 9h1v2h-1zM42 9h1v2h-1zM66 9h1v2h-1zM85 9h1v2h-1zM0 7h1v2h-1zM47 7h1v2h-1zM61 7h1v2h-1zM97 7h1v2h-1zM13 5h1v2h-1zM46 5h1v2h-1zM61 5h1v2h-1zM72 5h1v2h-1zM84 5h1v2h-1zM91 5h1v2h-1zM16 3h1v2h-1zM18 3h2v2h-2zM27 3h1v2h-1zM31 3h1v2h-1zM34 3h1v2h-1zM65 3h1v2h-1zM84 3h2v2h-2zM89 3h1v2h-1zM94 3h1v2h-1zM13 1h2v2h-2zM19 1h1v2h-1zM45 1h1v2h-1zM56 1h1v2h-1zM66 1h1v2h-1zM84 1h1v2h-1zM92 1h1v2h-1zM95 1h1v2h-1zM6 0h1v1h-1zM11 0h1v1h-1zM15 0h1v1h-1zM18 0h4v1h-4zM34 0h1v1h-1zM36 0h1v1h-1zM46 0h1v1h-1zM83 0h1v1h-1zM89 0h1v1h-1zM91 0h1v1h-1zM97 0h1v1h-1z"/>
<path fill="#9613a1" d="M40 47h1v1h-1zM44 47h1v1h-1zM64 47h1v1h-1zM70 47h1v1h-1zM12 45h1v2h-1zM46 45h1v2h-1zM54 45h1v2h-1zM62 45h1v2h-1zM71 45h1v2h-1zM76 45h2v2h-2zM98 43h1v2h-1zM3 41h1v2h-1zM8 41h1v2h-1zM15 41h1v2h-1zM56 41h1v2h-1zM63 41h1v2h-1zM96 41h2v2h-2zM2 21h1v2h-1zM7 19h2v2h-2zM29 19h1v2h-1zM32 19h1v2h-1zM36 19h1v2h-1zM87 19h3v2h-3zM91 19h1v2h-1zM12 17h1v2h-1zM17 17h1v2h-1zM35 17h1v2h-1zM42 17h1v2h-1zM84 17h2v2h-2zM88 17h1v2h-1zM93 17h1v2h-1zM97 17h1v2h-1zM5 15h1v2h-1zM17 15h1v2h-1zM32 15h1v2h-1zM34 15h1v2h-1zM56 15h1v2h-1zM72 15h1v2h-1zM97 15h1v2h-1zM0 13h1v2h-1zM2 13h1v2h-1zM8 13h1v2h-1zM10 13h1v2h-1zM13 13h1v2h-1zM18 13h1v2h-1zM33 13h1v2h-1zM39 13h1v2h-1zM56 13h1v2h-1zM61 13h1v2h-1zM72 13h1v2h-1zM93 13h1v2h-1zM97 13h1v2h-1zM4 11h1v2h-1zM7 11h1v2h-1zM13 11h1v2h-1zM16 11h2v2h-2zM20 11h1v2h-1zM29 11h1v2h-1zM36 11h1v2h-1zM39 11h1v2h-1zM46 11h1v2h-1zM85 11h3v2h-3zM93 11h1v2h-1zM5 9h1v2h-1zM58 9h1v2h-1zM95 9h1v2h-1zM6 7h1v2h-1zM12 7h1v2h-1zM15 7h1v2h-1zM27 7h1v2h-1zM42 7h1v2h-1zM56 7h1v2h-1zM58 7h1v2h-1zM65 7h1v2h-1zM95 7h1v2h-1zM47 5h1v2h-1zM66 5h1v2h-1zM85 5h2v2h-2zM92 5h1v2h-1zM20 3h1v2h-1zM28 3h1v2h-1zM30 3h1v2h-1zM56 3h1v2h-1zM10 1h1v2h-1zM27 1h1v2h-1zM42 1h1v2h-1zM1 0h1v1h-1zM8 0h1v1h-1zM17 0h1v1h-1zM35 0h1v1h-1zM37 0h3v1h-3zM85 0h1v1h-1zM94 0h1v1h-1z"/>
<path fill="#9e199d" d="M9 47h1v1h-1zM9 45h1v2h-1zM55 45h1v2h-1zM74 45h1v2h-1zM9 43h1v2h-1zM47 43h1v2h-1zM54 43h1v2h-1zM59 43h2v2h-2zM62 43h1v2h-1zM71 43h1v2h-1zM77 43h1v2h-1zM83 43h1v2h-1zM5 41h1v2h-1zM61 41h1v2h-1zM69 41h1v2h-1zM84 41h1v2h-1zM90 41h2v2h-2zM94 41h1v2h-1zM1 21h1v2h-1zM16 21h1v2h-1zM0 19h1v2h-1zM6 19h1v2h-1zM12 19h1v2h-1zM15 19h1v2h-1zM19 19h1v2h-1zM34 19h1v2h-1zM46 19h1v2h-1zM97 19h1v2h-1zM0 17h2v2h-2zM6 17h1v2h-1zM9 17h1v2h-1zM11 17h1v2h-1zM13 17h1v2h-1zM29 17h2v2h-2zM39 17h1v2h-1zM71 17h1v2h-1zM83 17h1v2h-1zM91 17h2v2h-2zM94 17h1v2h-1zM96 17h1v2h-1zM2 15h1v2h-1zM14 15h1v2h-1zM27 15h1v2h-1zM37 15h1v2h-1zM42 15h1v2h-1zM84 15h1v2h-1zM93 15h2v2h-2zM1 13h1v2h-1zM3 13h1v2h-1zM11 13h2v2h-2zM16 13h1v2h-1zM32 13h1v2h-1zM36 13h1v2h-1zM38 13h1v2h-1zM46 13h1v2h-1zM57 13h1v2h-1zM71 13h1v2h-1zM2 11h1v2h-1zM11 11h1v2h-1zM15 11h1v2h-1zM19 11h1v2h-1zM57 11h1v2h-1zM64 11h2v2h-2zM72 11h1v2h-1zM88 11h2v2h-2zM91 11h1v2h-1zM18 9h1v2h-1zM21 9h1v2h-1zM27 9h1v2h-1zM56 9h1v2h-1zM61 9h1v2h-1zM65 9h1v2h-1zM73 9h1v2h-1zM82 9h1v2h-1zM73 7h1v2h-1zM84 7h1v2h-1zM88 7h1v2h-1zM91 7h1v2h-1zM18 5h1v2h-1zM42 5h1v2h-1zM45 5h1v2h-1zM64 5h1v2h-1zM47 3h1v2h-1zM58 3h1v2h-1zM61 3h1v2h-1zM86 3h1v2h-1zM91 3h1v2h-1zM67 1h1v2h-1zM73 1h1v2h-1zM10 0h1v1h-1zM28 0h2v1h-2zM58 0h1v1h-1zM72 0h1v1h-1zM92 0h2v1h-2zM96 0h1v1h-1z"/>
<path fill="#a51f99" d="M26 47h1v1h-1zM46 47h1v1h-1zM21 45h1v2h-1zM41 45h1v2h-1zM52 45h1v2h-1zM83 45h1v2h-1zM12 43h1v2h-1zM75 43h1v2h-1zM82 43h1v2h-1zM20 41h1v2h-1zM28 41h1v2h-1zM70 41h1v2h-1zM89 41h1v2h-1zM0 21h1v2h-1zM3 21h1v2h-1zM12 21h1v2h-1zM19 21h1v2h-1zM85 21h1v2h-1zM4 19h1v2h-1zM42 19h1v2h-1zM56 19h1v2h-1zM64 19h1v2h-1zM83 19h2v2h-2zM86 19h1v2h-1zM14 17h2v2h-2zM19 17h1v2h-1zM27 17h1v2h-1zM9 15h1v2h-1zM15 15h2v2h-2zM18 15h4v2h-4zM71 15h1v2h-1zM83 15h1v2h-1zM5 13h2v2h-2zM9 13h1v2h-1zM19 13h1v2h-1zM35 13h1v2h-1zM88 13h1v2h-1zM91 13h2v2h-2zM3 11h1v2h-1zM12 11h1v2h-1zM14 11h1v2h-1zM21 11h1v2h-1zM27 11h2v2h-2zM34 11h1v2h-1zM42 11h1v2h-1zM92 11h1v2h-1zM95 11h2v2h-2zM47 9h1v2h-1zM64 9h1v2h-1zM71 9h1v2h-1zM88 9h1v2h-1zM18 7h1v2h-1zM45 7h1v2h-1zM64 7h1v2h-1zM94 7h1v2h-1zM67 3h1v2h-1zM18 1h1v2h-1zM47 1h1v2h-1zM81 1h2v2h-2zM90 1h1v2h-1zM12 0h1v1h-1zM14 0h1v1h-1zM16 0h1v1h-1zM31 0h1v1h-1zM66 0h1v1h-1zM87 0h1v1h-1z"/>
<path fill="#ac2694" d="M43 47h1v1h-1zM53 47h1v1h-1zM82 47h1v1h-1zM25 45h2v2h-2zM49 45h1v2h-1zM41 43h1v2h-1zM52 43h1v2h-1zM76 43h1v2h-1zM0 41h1v2h-1zM2 41h1v2h-1zM10 41h1v2h-1zM55 41h1v2h-1zM59 41h1v2h-1zM98 41h1v2h-1zM6 39h1v2h-1zM37 39h1v2h-1zM8 37h1v2h-1zM17 35h1v2h-1zM37 35h1v2h-1zM91 29h1v2h-1zM17 27h1v2h-1zM5 21h1v2h-1zM27 21h1v2h-1zM29 21h1v2h-1zM31 21h2v2h-2zM34 21h1v2h-1zM36 21h2v2h-2zM71 21h1v2h-1zM84 21h1v2h-1zM91 21h2v2h-2zM9 19h1v2h-1zM13 19h1v2h-1zM16 19h3v2h-3zM35 19h1v2h-1zM71 19h1v2h-1zM4 17h1v2h-1zM16 17h1v2h-1zM18 17h1v2h-1zM21 17h1v2h-1zM31 17h1v2h-1zM38 17h1v2h-1zM56 17h1v2h-1zM89 17h1v2h-1zM0 15h1v2h-1zM4 15h1v2h-1zM13 15h1v2h-1zM35 15h1v2h-1zM39 15h1v2h-1zM88 15h1v2h-1zM91 15h1v2h-1zM95 15h2v2h-2zM21 13h1v2h-1zM27 13h1v2h-1zM73 13h1v2h-1zM82 13h3v2h-3zM94 13h1v2h-1zM0 11h1v2h-1zM35 11h1v2h-1zM58 11h1v2h-1zM61 11h1v2h-1zM71 11h1v2h-1zM73 11h1v2h-1zM91 9h1v2h-1zM67 7h1v2h-1zM48 5h1v2h-1zM82 5h1v2h-1zM95 5h1v2h-1zM45 3h1v2h-1zM64 3h1v2h-1zM21 1h1v2h-1zM43 1h1v2h-1zM48 1h1v2h-1zM61 1h1v2h-1zM65 1h1v2h-1zM13 0h1v1h-1zM42 0h1v1h-1zM45 0h1v1h-1zM65 0h1v1h-1zM84 0h1v1h-1zM86 0h1v1h-1zM88 0h1v1h-1zM95 0h1v1h-1z"/>
<path fill="#b22b8f" d="M27 47h1v1h-1zM41 47h1v1h-1zM48 47h2v1h-2zM42 45h2v2h-2zM53 45h1v2h-1zM70 45h1v2h-1zM42 43h1v2h-1zM44 43h1v2h-1zM46 43h1v2h-1zM29 41h1v2h-1zM60 41h1v2h-1zM62 41h1v2h-1zM64 41h1v2h-1zM83 41h1v2h-1zM3 39h1v2h-1zM17 37h1v2h-1zM33 37h1v2h-1zM85 37h1v2h-1zM87 37h1v2h-1zM6 33h1v2h-1zM83 33h1v2h-1zM87 33h1v2h-1zM2 29h2v2h-2zM31 29h1v2h-1zM35 29h1v2h-1zM11 25h1v2h-1zM86 25h2v2h-2zM6 21h1v2h-1zM9 21h2v2h-2zM14 21h1v2h-1zM18 21h1v2h-1zM57 21h1v2h-1zM93 21h2v2h-2zM27 19h1v2h-1zM61 19h1v2h-1zM73 19h1v2h-1zM95 19h1v2h-1zM72 17h2v2h-2zM29 15h1v2h-1zM57 15h2v2h-2zM64 15h1v2h-1zM89 15h1v2h-1zM92 15h1v2h-1zM42 13h1v2h-1zM64 13h1v2h-1zM96 13h1v2h-1zM18 11h1v2h-1zM38 11h1v2h-1zM47 11h1v2h-1zM82 11h1v2h-1zM84 11h1v2h-1zM43 9h1v2h-1zM63 7h1v2h-1zM49 5h1v2h-1zM53 5h1v2h-1zM67 5h1v2h-1zM73 5h1v2h-1zM44 3h1v2h-1zM60 3h1v2h-1zM62 3h1v2h-1zM74 3h1v2h-1zM62 1h1v2h-1zM64 1h1v2h-1zM27 0h1v1h-1zM61 0h1v1h-1zM73 0h1v1h-1z"/>
<path fill="#b7318a" d="M45 47h1v1h-1zM81 47h1v1h-1zM22 45h1v2h-1zM27 45h1v2h-1zM45 45h1v2h-1zM48 43h1v2h-1zM9 41h1v2h-1zM37 41h1v2h-1zM75 41h1v2h-1zM17 39h1v2h-1zM31 37h1v2h-1zM46 37h1v2h-1zM87 35h1v2h-1zM97 35h1v2h-1zM3 33h1v2h-1zM37 33h1v2h-1zM6 31h1v2h-1zM8 29h1v2h-1zM17 29h1v2h-1zM87 29h1v2h-1zM2 27h1v2h-1zM6 27h1v2h-1zM60 27h1v2h-1zM64 27h1v2h-1zM85 27h1v2h-1zM2 25h1v2h-1zM10 25h1v2h-1zM13 23h1v2h-1zM4 21h1v2h-1zM7 21h1v2h-1zM13 21h1v2h-1zM15 21h1v2h-1zM33 21h1v2h-1zM35 21h1v2h-1zM38 21h1v2h-1zM46 21h1v2h-1zM56 21h1v2h-1zM72 21h1v2h-1zM82 21h1v2h-1zM88 21h1v2h-1zM96 21h1v2h-1zM21 19h1v2h-1zM28 19h1v2h-1zM38 19h1v2h-1zM96 19h1v2h-1zM47 17h1v2h-1zM53 17h1v2h-1zM66 17h1v2h-1zM82 17h1v2h-1zM95 17h1v2h-1zM38 15h1v2h-1zM73 15h1v2h-1zM15 13h1v2h-1zM28 13h1v2h-1zM47 13h1v2h-1zM89 13h1v2h-1zM26 11h1v2h-1zM56 11h1v2h-1zM80 11h1v2h-1zM94 11h1v2h-1zM45 9h1v2h-1zM52 9h1v2h-1zM62 9h2v2h-2zM43 7h1v2h-1zM53 7h1v2h-1zM62 7h1v2h-1zM74 7h1v2h-1zM81 7h1v2h-1zM44 5h1v2h-1zM59 5h2v2h-2zM98 5h1v2h-1zM49 3h1v2h-1zM63 3h1v2h-1zM82 3h1v2h-1zM70 1h2v2h-2zM76 1h1v2h-1zM47 0h1v1h-1zM56 0h1v1h-1zM64 0h1v1h-1z"/>
<path fill="#be3885" d="M23 47h1v1h-1zM25 47h1v1h-1zM52 47h1v1h-1zM44 45h1v2h-1zM47 45h1v2h-1zM82 45h1v2h-1zM26 43h1v2h-1zM43 43h1v2h-1zM53 43h1v2h-1zM46 41h1v2h-1zM54 41h1v2h-1zM74 41h1v2h-1zM77 41h1v2h-1zM34 39h1v2h-1zM93 39h1v2h-1zM6 37h1v2h-1zM20 37h1v2h-1zM2 35h2v2h-2zM11 35h1v2h-1zM19 35h1v2h-1zM86 35h1v2h-1zM93 35h1v2h-1zM19 33h1v2h-1zM85 33h1v2h-1zM97 33h1v2h-1zM31 31h1v2h-1zM37 31h1v2h-1zM46 31h1v2h-1zM72 31h1v2h-1zM87 31h1v2h-1zM5 29h1v2h-1zM39 29h1v2h-1zM46 29h1v2h-1zM85 29h1v2h-1zM7 27h1v2h-1zM15 27h1v2h-1zM18 27h1v2h-1zM71 27h1v2h-1zM86 27h1v2h-1zM91 27h1v2h-1zM5 25h1v2h-1zM7 25h2v2h-2zM15 25h1v2h-1zM17 25h1v2h-1zM19 25h1v2h-1zM37 25h1v2h-1zM39 25h1v2h-1zM85 25h1v2h-1zM96 23h1v2h-1zM39 21h1v2h-1zM42 21h1v2h-1zM58 21h1v2h-1zM83 21h1v2h-1zM20 19h1v2h-1zM58 19h1v2h-1zM92 19h1v2h-1zM20 17h1v2h-1zM62 17h1v2h-1zM64 17h2v2h-2zM98 17h1v2h-1zM24 15h1v2h-1zM60 15h2v2h-2zM98 15h1v2h-1zM20 13h1v2h-1zM29 13h1v2h-1zM98 13h1v2h-1zM24 11h1v2h-1zM45 11h1v2h-1zM48 11h1v2h-1zM26 9h1v2h-1zM53 9h1v2h-1zM67 9h1v2h-1zM48 7h1v2h-1zM71 7h1v2h-1zM82 7h1v2h-1zM26 5h1v2h-1zM69 5h1v2h-1zM90 5h1v2h-1zM24 3h1v2h-1zM43 3h1v2h-1zM71 3h1v2h-1zM98 3h1v2h-1zM24 1h1v2h-1zM26 1h1v2h-1zM53 1h1v2h-1zM62 0h1v1h-1zM71 0h1v1h-1zM98 0h1v1h-1z"/>
<path fill="#c33d80" d="M22 47h1v1h-1zM51 47h1v1h-1zM24 45h1v2h-1zM48 45h1v2h-1zM81 45h1v2h-1zM45 43h1v2h-1zM49 43h1v2h-1zM40 41h1v2h-1zM76 41h1v2h-1zM33 39h1v2h-1zM83 39h1v2h-1zM85 39h1v2h-1zM87 39h1v2h-1zM3 37h3v2h-3zM27 37h1v2h-1zM32 37h1v2h-1zM83 37h1v2h-1zM7 35h1v2h-1zM10 35h1v2h-1zM27 35h1v2h-1zM39 35h1v2h-1zM71 35h1v2h-1zM83 35h1v2h-1zM5 33h1v2h-1zM8 33h1v2h-1zM15 33h3v2h-3zM20 33h1v2h-1zM31 33h2v2h-2zM12 31h1v2h-1zM16 31h1v2h-1zM19 31h1v2h-1zM32 31h1v2h-1zM36 31h1v2h-1zM85 31h1v2h-1zM0 29h1v2h-1zM7 29h1v2h-1zM15 29h1v2h-1zM18 29h1v2h-1zM34 29h1v2h-1zM37 29h1v2h-1zM56 29h1v2h-1zM96 29h1v2h-1zM3 27h3v2h-3zM8 27h2v2h-2zM11 27h1v2h-1zM19 27h1v2h-1zM30 27h1v2h-1zM39 27h1v2h-1zM87 27h1v2h-1zM93 27h1v2h-1zM95 27h1v2h-1zM3 25h1v2h-1zM12 25h3v2h-3zM16 25h1v2h-1zM29 25h1v2h-1zM17 23h1v2h-1zM31 23h1v2h-1zM36 23h2v2h-2zM20 21h2v2h-2zM61 21h1v2h-1zM73 21h1v2h-1zM89 21h1v2h-1zM95 21h1v2h-1zM57 19h1v2h-1zM82 19h1v2h-1zM98 19h1v2h-1zM28 17h1v2h-1zM58 17h1v2h-1zM90 17h1v2h-1zM45 15h1v2h-1zM65 15h1v2h-1zM82 15h1v2h-1zM41 13h1v2h-1zM45 13h1v2h-1zM53 13h1v2h-1zM58 13h1v2h-1zM65 13h1v2h-1zM67 11h1v2h-1zM74 11h1v2h-1zM98 11h1v2h-1zM98 9h1v2h-1zM26 7h1v2h-1zM40 7h1v2h-1zM52 7h1v2h-1zM55 7h1v2h-1zM60 7h1v2h-1zM75 7h1v2h-1zM24 5h1v2h-1zM51 5h1v2h-1zM71 5h1v2h-1zM74 5h1v2h-1zM80 5h1v2h-1zM48 3h1v2h-1zM59 3h1v2h-1zM68 3h1v2h-1zM77 3h1v2h-1zM81 3h1v2h-1zM25 1h1v2h-1zM51 1h1v2h-1zM69 1h1v2h-1zM77 1h1v2h-1zM80 1h1v2h-1zM82 0h1v1h-1z"/>
<path fill="#c9447a" d="M24 47h1v1h-1zM23 45h1v2h-1zM23 43h1v2h-1zM27 43h1v2h-1zM81 43h1v2h-1zM12 41h1v2h-1zM47 41h1v2h-1zM49 41h1v2h-1zM52 41h1v2h-1zM0 39h1v2h-1zM5 39h1v2h-1zM11 39h2v2h-2zM18 39h2v2h-2zM27 39h1v2h-1zM30 39h1v2h-1zM35 39h1v2h-1zM86 39h1v2h-1zM94 39h1v2h-1zM11 37h1v2h-1zM16 37h1v2h-1zM19 37h1v2h-1zM21 37h1v2h-1zM34 37h1v2h-1zM37 37h1v2h-1zM56 37h1v2h-1zM97 37h1v2h-1zM0 35h1v2h-1zM5 35h1v2h-1zM12 35h1v2h-1zM33 35h2v2h-2zM94 35h1v2h-1zM2 33h1v2h-1zM11 33h1v2h-1zM14 33h1v2h-1zM36 33h1v2h-1zM56 33h1v2h-1zM86 33h1v2h-1zM93 33h1v2h-1zM3 31h3v2h-3zM7 31h1v2h-1zM20 31h1v2h-1zM27 31h1v2h-1zM33 31h1v2h-1zM39 31h1v2h-1zM64 31h1v2h-1zM71 31h1v2h-1zM83 31h1v2h-1zM88 31h1v2h-1zM97 31h1v2h-1zM10 29h1v2h-1zM14 29h1v2h-1zM19 29h1v2h-1zM27 29h1v2h-1zM30 29h1v2h-1zM66 29h1v2h-1zM86 29h1v2h-1zM90 29h1v2h-1zM95 29h1v2h-1zM97 29h1v2h-1zM14 27h1v2h-1zM16 27h1v2h-1zM20 27h1v2h-1zM31 27h1v2h-1zM34 27h1v2h-1zM48 27h1v2h-1zM56 27h1v2h-1zM72 27h1v2h-1zM84 27h1v2h-1zM92 27h1v2h-1zM94 27h1v2h-1zM96 27h1v2h-1zM1 25h1v2h-1zM30 25h2v2h-2zM35 25h1v2h-1zM46 25h1v2h-1zM56 25h1v2h-1zM66 25h1v2h-1zM71 25h2v2h-2zM76 25h1v2h-1zM84 25h1v2h-1zM90 25h1v2h-1zM92 25h2v2h-2zM97 25h1v2h-1zM8 23h3v2h-3zM39 23h1v2h-1zM64 23h1v2h-1zM85 23h1v2h-1zM87 23h1v2h-1zM91 23h1v2h-1zM95 23h1v2h-1zM97 23h1v2h-1zM48 21h1v2h-1zM64 21h1v2h-1zM48 19h1v2h-1zM54 19h1v2h-1zM65 19h1v2h-1zM43 17h1v2h-1zM45 17h1v2h-1zM28 15h1v2h-1zM41 15h1v2h-1zM48 15h1v2h-1zM74 15h1v2h-1zM90 15h1v2h-1zM55 13h1v2h-1zM62 13h1v2h-1zM76 13h1v2h-1zM90 13h1v2h-1zM52 11h1v2h-1zM60 11h1v2h-1zM63 11h1v2h-1zM66 11h1v2h-1zM75 11h1v2h-1zM90 11h1v2h-1zM55 9h1v2h-1zM59 9h1v2h-1zM81 9h1v2h-1zM90 9h1v2h-1zM22 7h1v2h-1zM25 7h1v2h-1zM44 7h1v2h-1zM98 7h1v2h-1zM22 5h1v2h-1zM25 5h1v2h-1zM43 5h1v2h-1zM62 5h2v2h-2zM68 5h1v2h-1zM70 5h1v2h-1zM75 5h1v2h-1zM81 5h1v2h-1zM25 3h1v2h-1zM41 3h1v2h-1zM53 3h2v2h-2zM78 3h1v2h-1zM54 1h1v2h-1zM60 1h1v2h-1zM63 1h1v2h-1zM75 1h1v2h-1zM67 0h1v1h-1zM81 0h1v1h-1z"/>
<path fill="#cd4a76" d="M25 43h1v2h-1zM51 43h1v2h-1zM41 41h1v2h-1zM82 41h1v2h-1zM2 39h1v2h-1zM10 39h1v2h-1zM16 39h1v2h-1zM32 39h1v2h-1zM38 39h1v2h-1zM56 39h1v2h-1zM61 39h1v2h-1zM7 37h1v2h-1zM10 37h1v2h-1zM12 37h1v2h-1zM14 37h2v2h-2zM18 37h1v2h-1zM35 37h1v2h-1zM61 37h1v2h-1zM64 37h1v2h-1zM8 35h1v2h-1zM20 35h1v2h-1zM35 35h1v2h-1zM46 35h1v2h-1zM56 35h1v2h-1zM61 35h1v2h-1zM4 33h1v2h-1zM10 33h1v2h-1zM12 33h1v2h-1zM18 33h1v2h-1zM27 33h1v2h-1zM33 33h2v2h-2zM38 33h1v2h-1zM88 33h1v2h-1zM96 33h1v2h-1zM2 31h1v2h-1zM8 31h2v2h-2zM17 31h1v2h-1zM30 31h1v2h-1zM38 31h1v2h-1zM56 31h1v2h-1zM65 31h1v2h-1zM90 31h1v2h-1zM93 31h1v2h-1zM9 29h1v2h-1zM11 29h1v2h-1zM71 29h1v2h-1zM93 29h2v2h-2zM10 27h1v2h-1zM12 27h1v2h-1zM27 27h1v2h-1zM33 27h1v2h-1zM36 27h1v2h-1zM45 27h2v2h-2zM82 27h1v2h-1zM97 27h1v2h-1zM4 25h1v2h-1zM20 25h2v2h-2zM34 25h1v2h-1zM36 25h1v2h-1zM48 25h1v2h-1zM60 25h1v2h-1zM82 25h1v2h-1zM94 25h1v2h-1zM96 25h1v2h-1zM2 23h2v2h-2zM11 23h1v2h-1zM14 23h1v2h-1zM19 23h1v2h-1zM46 23h1v2h-1zM86 23h1v2h-1zM66 21h1v2h-1zM24 19h1v2h-1zM53 19h1v2h-1zM25 17h2v2h-2zM41 17h1v2h-1zM60 17h1v2h-1zM40 15h1v2h-1zM47 15h1v2h-1zM53 15h1v2h-1zM55 15h1v2h-1zM78 15h1v2h-1zM24 13h1v2h-1zM40 13h1v2h-1zM43 13h1v2h-1zM48 13h1v2h-1zM52 13h1v2h-1zM54 13h1v2h-1zM74 13h1v2h-1zM55 11h1v2h-1zM62 11h1v2h-1zM68 11h1v2h-1zM24 9h1v2h-1zM41 9h1v2h-1zM48 9h1v2h-1zM54 9h1v2h-1zM60 9h1v2h-1zM68 9h1v2h-1zM74 9h1v2h-1zM80 9h1v2h-1zM49 7h1v2h-1zM54 7h1v2h-1zM59 7h1v2h-1zM52 5h1v2h-1zM54 5h1v2h-1zM76 5h1v2h-1zM52 3h1v2h-1zM70 3h1v2h-1zM80 3h1v2h-1zM49 1h1v2h-1zM68 1h1v2h-1zM98 1h1v2h-1zM43 0h2v1h-2zM63 0h1v1h-1z"/>
<path fill="#d35171" d="M80 47h1v1h-1zM51 45h1v2h-1zM78 43h1v2h-1zM48 41h1v2h-1zM1 39h1v2h-1zM8 39h1v2h-1zM15 39h1v2h-1zM39 39h1v2h-1zM0 37h3v2h-3zM28 37h1v2h-1zM38 37h1v2h-1zM86 37h1v2h-1zM88 37h1v2h-1zM93 37h1v2h-1zM6 35h1v2h-1zM9 35h1v2h-1zM14 35h2v2h-2zM18 35h1v2h-1zM32 35h1v2h-1zM36 35h1v2h-1zM47 35h1v2h-1zM72 35h1v2h-1zM88 35h1v2h-1zM95 35h1v2h-1zM0 33h1v2h-1zM21 33h1v2h-1zM35 33h1v2h-1zM61 33h1v2h-1zM94 33h1v2h-1zM0 31h1v2h-1zM10 31h1v2h-1zM15 31h1v2h-1zM18 31h1v2h-1zM29 31h1v2h-1zM35 31h1v2h-1zM61 31h1v2h-1zM73 31h1v2h-1zM84 31h1v2h-1zM86 31h1v2h-1zM89 31h1v2h-1zM4 29h1v2h-1zM16 29h1v2h-1zM20 29h2v2h-2zM33 29h1v2h-1zM36 29h1v2h-1zM38 29h1v2h-1zM48 29h1v2h-1zM55 29h1v2h-1zM60 29h1v2h-1zM72 29h1v2h-1zM29 27h1v2h-1zM32 27h1v2h-1zM35 27h1v2h-1zM37 27h1v2h-1zM55 27h1v2h-1zM73 27h1v2h-1zM90 27h1v2h-1zM6 25h1v2h-1zM18 25h1v2h-1zM33 25h1v2h-1zM38 25h1v2h-1zM45 25h1v2h-1zM61 25h1v2h-1zM64 25h1v2h-1zM73 25h1v2h-1zM91 25h1v2h-1zM95 25h1v2h-1zM4 23h1v2h-1zM7 23h1v2h-1zM30 23h1v2h-1zM32 23h1v2h-1zM35 23h1v2h-1zM92 23h2v2h-2zM45 21h1v2h-1zM54 21h2v2h-2zM98 21h1v2h-1zM26 19h1v2h-1zM55 19h1v2h-1zM62 19h1v2h-1zM66 19h1v2h-1zM48 17h1v2h-1zM54 17h2v2h-2zM70 17h1v2h-1zM75 17h1v2h-1zM77 17h1v2h-1zM52 15h1v2h-1zM54 15h1v2h-1zM26 13h1v2h-1zM51 13h1v2h-1zM63 13h1v2h-1zM66 13h1v2h-1zM75 13h1v2h-1zM41 11h1v2h-1zM43 11h1v2h-1zM53 11h1v2h-1zM76 11h1v2h-1zM25 9h1v2h-1zM40 9h1v2h-1zM49 9h1v2h-1zM70 9h1v2h-1zM75 9h1v2h-1zM79 9h1v2h-1zM51 7h1v2h-1zM68 7h1v2h-1zM70 7h1v2h-1zM79 5h1v2h-1zM51 3h1v2h-1zM75 3h1v2h-1zM22 1h1v2h-1zM44 1h1v2h-1zM50 1h1v2h-1zM59 1h1v2h-1zM74 1h1v2h-1zM79 1h1v2h-1zM48 0h1v1h-1zM60 0h1v1h-1zM75 0h1v1h-1zM80 0h1v1h-1zM90 0h1v1h-1z"/>
<path fill="#d7566c" d="M50 47h1v1h-1zM78 47h2v1h-2zM78 45h1v2h-1zM24 43h1v2h-1zM50 43h1v2h-1zM22 41h1v2h-1zM42 41h3v2h-3zM53 41h1v2h-1zM4 39h1v2h-1zM20 39h2v2h-2zM31 39h1v2h-1zM36 39h1v2h-1zM88 39h1v2h-1zM9 37h1v2h-1zM36 37h1v2h-1zM39 37h1v2h-1zM72 37h1v2h-1zM92 37h1v2h-1zM4 35h1v2h-1zM16 35h1v2h-1zM29 35h1v2h-1zM55 35h1v2h-1zM57 35h1v2h-1zM65 35h1v2h-1zM85 35h1v2h-1zM7 33h1v2h-1zM39 33h1v2h-1zM57 33h1v2h-1zM71 33h2v2h-2zM82 33h1v2h-1zM84 33h1v2h-1zM21 31h1v2h-1zM34 31h1v2h-1zM43 31h1v2h-1zM58 31h1v2h-1zM66 31h1v2h-1zM75 31h1v2h-1zM91 31h2v2h-2zM95 31h2v2h-2zM6 29h1v2h-1zM12 29h2v2h-2zM26 29h1v2h-1zM82 29h2v2h-2zM92 29h1v2h-1zM1 27h1v2h-1zM54 27h1v2h-1zM58 27h1v2h-1zM63 27h1v2h-1zM66 27h1v2h-1zM0 25h1v2h-1zM9 25h1v2h-1zM58 25h1v2h-1zM83 25h1v2h-1zM5 23h1v2h-1zM15 23h1v2h-1zM20 23h1v2h-1zM29 23h1v2h-1zM34 23h1v2h-1zM56 23h1v2h-1zM71 23h1v2h-1zM82 23h3v2h-3zM94 23h1v2h-1zM28 21h1v2h-1zM65 21h1v2h-1zM47 19h1v2h-1zM52 19h1v2h-1zM63 19h1v2h-1zM80 19h1v2h-1zM24 17h1v2h-1zM40 17h1v2h-1zM52 17h1v2h-1zM74 17h1v2h-1zM80 17h2v2h-2zM26 15h1v2h-1zM43 15h1v2h-1zM62 15h1v2h-1zM66 15h1v2h-1zM77 15h1v2h-1zM81 15h1v2h-1zM25 11h1v2h-1zM40 11h1v2h-1zM50 11h1v2h-1zM54 11h1v2h-1zM79 11h1v2h-1zM81 11h1v2h-1zM44 9h1v2h-1zM23 7h2v2h-2zM69 7h1v2h-1zM90 7h1v2h-1zM77 5h1v2h-1zM22 3h2v2h-2zM26 3h1v2h-1zM40 3h1v2h-1zM50 3h1v2h-1zM76 3h1v2h-1zM40 1h1v2h-1zM49 0h1v1h-1zM53 0h1v1h-1zM69 0h1v1h-1zM74 0h1v1h-1zM76 0h1v1h-1z"/>
<path fill="#dc5d67" d="M50 45h1v2h-1zM79 45h2v2h-2zM25 41h2v2h-2zM45 41h1v2h-1zM7 39h1v2h-1zM9 39h1v2h-1zM29 39h1v2h-1zM46 39h1v2h-1zM55 39h1v2h-1zM57 39h1v2h-1zM72 39h1v2h-1zM97 39h1v2h-1zM29 37h2v2h-2zM57 37h1v2h-1zM71 37h1v2h-1zM84 37h1v2h-1zM90 37h1v2h-1zM95 37h1v2h-1zM1 35h1v2h-1zM31 35h1v2h-1zM38 35h1v2h-1zM43 35h1v2h-1zM84 35h1v2h-1zM91 35h2v2h-2zM96 35h1v2h-1zM1 33h1v2h-1zM30 33h1v2h-1zM43 33h1v2h-1zM46 33h1v2h-1zM64 33h1v2h-1zM66 33h1v2h-1zM1 31h1v2h-1zM14 31h1v2h-1zM47 31h1v2h-1zM54 31h1v2h-1zM57 31h1v2h-1zM82 31h1v2h-1zM94 31h1v2h-1zM28 29h2v2h-2zM32 29h1v2h-1zM45 29h1v2h-1zM57 29h1v2h-1zM61 29h1v2h-1zM64 29h1v2h-1zM73 29h1v2h-1zM76 29h1v2h-1zM84 29h1v2h-1zM13 27h1v2h-1zM47 27h1v2h-1zM61 27h1v2h-1zM65 27h1v2h-1zM75 27h1v2h-1zM88 27h1v2h-1zM32 25h1v2h-1zM55 25h1v2h-1zM75 25h1v2h-1zM88 25h1v2h-1zM0 23h1v2h-1zM6 23h1v2h-1zM12 23h1v2h-1zM16 23h1v2h-1zM18 23h1v2h-1zM33 23h1v2h-1zM38 23h1v2h-1zM45 23h1v2h-1zM58 23h1v2h-1zM72 23h1v2h-1zM47 21h1v2h-1zM60 21h1v2h-1zM62 21h1v2h-1zM90 21h1v2h-1zM41 19h1v2h-1zM43 19h1v2h-1zM45 19h1v2h-1zM67 19h1v2h-1zM76 19h1v2h-1zM81 19h1v2h-1zM90 19h1v2h-1zM63 17h1v2h-1zM76 17h1v2h-1zM79 17h1v2h-1zM25 15h1v2h-1zM67 15h1v2h-1zM76 15h1v2h-1zM80 15h1v2h-1zM60 13h1v2h-1zM67 13h1v2h-1zM77 13h1v2h-1zM44 11h1v2h-1zM49 11h1v2h-1zM70 11h1v2h-1zM22 9h1v2h-1zM50 9h2v2h-2zM76 9h1v2h-1zM78 9h1v2h-1zM50 7h1v2h-1zM76 7h3v2h-3zM80 7h1v2h-1zM41 5h1v2h-1zM55 5h1v2h-1zM78 5h1v2h-1zM55 3h1v2h-1zM69 3h1v2h-1zM79 3h1v2h-1zM90 3h1v2h-1zM23 1h1v2h-1zM52 1h1v2h-1zM55 1h1v2h-1zM78 1h1v2h-1zM22 0h1v1h-1zM25 0h2v1h-2zM59 0h1v1h-1zM68 0h1v1h-1zM70 0h1v1h-1zM77 0h1v1h-1z"/>
<path fill="#e06363" d="M22 43h1v2h-1zM79 43h2v2h-2zM51 41h1v2h-1zM78 41h1v2h-1zM14 39h1v2h-1zM28 39h1v2h-1zM64 39h1v2h-1zM66 39h1v2h-1zM96 39h1v2h-1zM65 37h1v2h-1zM73 37h1v2h-1zM94 37h1v2h-1zM96 37h1v2h-1zM13 35h1v2h-1zM30 35h1v2h-1zM58 35h1v2h-1zM90 35h1v2h-1zM28 33h1v2h-1zM47 33h1v2h-1zM90 33h2v2h-2zM13 31h1v2h-1zM55 31h1v2h-1zM62 31h1v2h-1zM74 31h1v2h-1zM1 29h1v2h-1zM43 29h1v2h-1zM58 29h1v2h-1zM88 29h2v2h-2zM0 27h1v2h-1zM21 27h1v2h-1zM38 27h1v2h-1zM43 27h1v2h-1zM76 27h1v2h-1zM81 27h1v2h-1zM27 25h1v2h-1zM42 25h1v2h-1zM47 25h1v2h-1zM57 25h1v2h-1zM59 25h1v2h-1zM62 25h1v2h-1zM65 25h1v2h-1zM74 25h1v2h-1zM81 25h1v2h-1zM26 23h1v2h-1zM48 23h1v2h-1zM55 23h1v2h-1zM60 23h1v2h-1zM66 23h1v2h-1zM73 23h1v2h-1zM89 23h2v2h-2zM43 21h1v2h-1zM76 21h1v2h-1zM40 19h1v2h-1zM60 19h1v2h-1zM68 19h1v2h-1zM74 19h2v2h-2zM77 19h1v2h-1zM79 19h1v2h-1zM49 17h1v2h-1zM67 17h1v2h-1zM69 17h1v2h-1zM78 17h1v2h-1zM22 15h1v2h-1zM49 15h1v2h-1zM63 15h1v2h-1zM70 15h1v2h-1zM79 15h1v2h-1zM25 13h1v2h-1zM78 13h1v2h-1zM80 13h2v2h-2zM22 11h1v2h-1zM51 11h1v2h-1zM77 11h1v2h-1zM69 9h1v2h-1zM23 5h1v2h-1zM40 5h1v2h-1zM41 1h1v2h-1zM23 0h1v1h-1zM78 0h1v1h-1z"/>
<path fill="#e4695e" d="M27 41h1v2h-1zM81 41h1v2h-1zM26 39h1v2h-1zM71 39h1v2h-1zM92 39h1v2h-1zM43 37h1v2h-1zM55 37h1v2h-1zM82 37h1v2h-1zM91 37h1v2h-1zM28 35h1v2h-1zM66 35h1v2h-1zM89 35h1v2h-1zM9 33h1v2h-1zM29 33h1v2h-1zM42 33h1v2h-1zM55 33h1v2h-1zM58 33h1v2h-1zM65 33h1v2h-1zM89 33h1v2h-1zM92 33h1v2h-1zM11 31h1v2h-1zM28 31h1v2h-1zM42 31h1v2h-1zM53 31h1v2h-1zM60 31h1v2h-1zM54 29h1v2h-1zM28 27h1v2h-1zM62 27h1v2h-1zM53 25h1v2h-1zM69 25h1v2h-1zM89 25h1v2h-1zM1 23h1v2h-1zM42 23h1v2h-1zM57 23h1v2h-1zM61 23h1v2h-1zM76 23h1v2h-1zM26 21h1v2h-1zM51 21h1v2h-1zM53 21h1v2h-1zM63 21h1v2h-1zM23 17h1v2h-1zM68 17h1v2h-1zM51 15h1v2h-1zM68 15h1v2h-1zM75 15h1v2h-1zM49 13h1v2h-1zM59 13h1v2h-1zM70 13h1v2h-1zM69 11h1v2h-1zM78 11h1v2h-1zM23 9h1v2h-1zM77 9h1v2h-1zM50 5h1v2h-1zM50 0h2v1h-2zM54 0h2v1h-2z"/>
<path fill="#e87059" d="M24 41h1v2h-1zM50 41h1v2h-1zM13 39h1v2h-1zM47 39h1v2h-1zM58 39h1v2h-1zM60 39h1v2h-1zM73 39h1v2h-1zM82 39h1v2h-1zM84 39h1v2h-1zM89 39h3v2h-3zM95 39h1v2h-1zM13 37h1v2h-1zM26 37h1v2h-1zM47 37h1v2h-1zM66 37h1v2h-1zM89 37h1v2h-1zM21 35h1v2h-1zM25 35h1v2h-1zM64 35h1v2h-1zM13 33h1v2h-1zM25 33h1v2h-1zM53 33h2v2h-2zM73 33h1v2h-1zM75 33h1v2h-1zM95 33h1v2h-1zM25 31h2v2h-2zM44 31h1v2h-1zM48 31h1v2h-1zM63 31h1v2h-1zM67 31h1v2h-1zM77 31h1v2h-1zM42 29h1v2h-1zM47 29h1v2h-1zM63 29h1v2h-1zM70 29h1v2h-1zM42 27h1v2h-1zM53 27h1v2h-1zM83 27h1v2h-1zM89 27h1v2h-1zM98 27h1v2h-1zM26 25h1v2h-1zM28 25h1v2h-1zM44 25h1v2h-1zM54 25h1v2h-1zM98 25h1v2h-1zM21 23h1v2h-1zM27 23h1v2h-1zM47 23h1v2h-1zM63 23h1v2h-1zM65 23h1v2h-1zM81 23h1v2h-1zM88 23h1v2h-1zM24 21h1v2h-1zM40 21h1v2h-1zM52 21h1v2h-1zM70 21h1v2h-1zM75 21h1v2h-1zM25 19h1v2h-1zM49 19h1v2h-1zM51 19h1v2h-1zM70 19h1v2h-1zM23 15h1v2h-1zM44 15h1v2h-1zM59 15h1v2h-1zM22 13h2v2h-2zM44 13h1v2h-1zM68 13h2v2h-2zM23 11h1v2h-1zM59 11h1v2h-1zM41 7h1v2h-1zM24 0h1v1h-1zM40 0h1v1h-1zM52 0h1v1h-1zM79 0h1v1h-1z"/>
<path fill="#eb7655" d="M42 39h2v2h-2zM65 39h1v2h-1zM58 37h1v2h-1zM60 37h1v2h-1zM69 37h1v2h-1zM73 35h1v2h-1zM82 35h1v2h-1zM26 33h1v2h-1zM48 33h1v2h-1zM63 33h1v2h-1zM74 33h1v2h-1zM45 31h1v2h-1zM81 31h1v2h-1zM25 29h1v2h-1zM59 29h1v2h-1zM62 29h1v2h-1zM65 29h1v2h-1zM69 29h1v2h-1zM75 29h1v2h-1zM81 29h1v2h-1zM98 29h1v2h-1zM25 27h2v2h-2zM57 27h1v2h-1zM25 25h1v2h-1zM43 25h1v2h-1zM70 25h1v2h-1zM25 23h1v2h-1zM43 23h1v2h-1zM62 23h1v2h-1zM75 23h1v2h-1zM25 21h1v2h-1zM68 21h1v2h-1zM79 21h3v2h-3zM78 19h1v2h-1zM22 17h1v2h-1zM69 15h1v2h-1zM50 13h1v2h-1zM79 13h1v2h-1zM79 7h1v2h-1z"/>
<path fill="#ef7e50" d="M23 41h1v2h-1zM80 41h1v2h-1zM53 39h1v2h-1zM75 39h1v2h-1zM26 35h1v2h-1zM48 35h1v2h-1zM53 35h1v2h-1zM60 35h1v2h-1zM75 35h1v2h-1zM41 33h1v2h-1zM62 33h1v2h-1zM49 31h1v2h-1zM76 31h1v2h-1zM98 31h1v2h-1zM44 29h1v2h-1zM77 29h1v2h-1zM52 27h1v2h-1zM59 27h1v2h-1zM69 27h2v2h-2zM74 27h1v2h-1zM49 25h1v2h-1zM63 25h1v2h-1zM53 23h1v2h-1zM69 23h1v2h-1zM98 23h1v2h-1zM49 21h1v2h-1zM59 21h1v2h-1zM22 19h1v2h-1zM59 19h1v2h-1zM50 17h1v2h-1zM50 15h1v2h-1z"/>
<path fill="#f2844b" d="M63 39h1v2h-1zM53 37h1v2h-1zM63 37h1v2h-1zM74 37h1v2h-1zM54 35h1v2h-1zM62 35h1v2h-1zM74 35h1v2h-1zM77 35h1v2h-1zM60 33h1v2h-1zM68 33h1v2h-1zM40 31h1v2h-1zM68 31h1v2h-1zM70 31h1v2h-1zM49 29h1v2h-1zM53 29h1v2h-1zM44 27h1v2h-1zM49 27h1v2h-1zM77 27h1v2h-1zM80 27h1v2h-1zM22 25h1v2h-1zM51 25h1v2h-1zM80 25h1v2h-1zM28 23h1v2h-1zM49 23h1v2h-1zM54 23h1v2h-1zM59 23h1v2h-1zM70 23h1v2h-1zM77 23h1v2h-1zM41 21h1v2h-1zM44 21h1v2h-1zM69 21h1v2h-1zM69 19h1v2h-1zM51 17h1v2h-1zM41 0h1v1h-1z"/>
<path fill="#f58c46" d="M79 41h1v2h-1zM25 37h1v2h-1zM42 37h1v2h-1zM62 37h1v2h-1zM67 37h1v2h-1zM75 37h1v2h-1zM77 37h1v2h-1zM81 37h1v2h-1zM40 35h1v2h-1zM69 35h1v2h-1zM98 35h1v2h-1zM76 33h2v2h-2zM98 33h1v2h-1zM41 31h1v2h-1zM59 31h1v2h-1zM67 29h1v2h-1zM74 29h1v2h-1zM40 27h1v2h-1zM67 27h1v2h-1zM41 25h1v2h-1zM67 25h1v2h-1zM74 23h1v2h-1zM74 21h1v2h-1zM59 17h1v2h-1z"/>
<path fill="#f79342" d="M74 39h1v2h-1zM76 39h1v2h-1zM40 37h1v2h-1zM48 37h1v2h-1zM98 37h1v2h-1zM42 35h1v2h-1zM63 35h1v2h-1zM70 35h1v2h-1zM76 35h1v2h-1zM40 33h1v2h-1zM59 33h1v2h-1zM69 33h1v2h-1zM81 33h1v2h-1zM22 29h2v2h-2zM80 29h1v2h-1zM22 27h1v2h-1zM41 27h1v2h-1zM51 27h1v2h-1zM77 25h1v2h-1zM24 23h1v2h-1zM41 23h1v2h-1zM44 23h1v2h-1zM51 23h2v2h-2zM67 23h1v2h-1zM67 21h1v2h-1zM77 21h1v2h-1zM23 19h1v2h-1zM44 19h1v2h-1zM44 17h1v2h-1z"/>
<path fill="#fa9b3d" d="M25 39h1v2h-1zM40 39h1v2h-1zM54 39h1v2h-1zM81 39h1v2h-1zM98 39h1v2h-1zM41 37h1v2h-1zM45 37h1v2h-1zM76 37h1v2h-1zM52 33h1v2h-1zM67 33h1v2h-1zM70 33h1v2h-1zM22 31h1v2h-1zM69 31h1v2h-1zM80 31h1v2h-1zM52 29h1v2h-1zM68 29h1v2h-1zM68 27h1v2h-1zM52 25h1v2h-1zM68 23h1v2h-1zM23 21h1v2h-1zM78 21h1v2h-1zM50 19h1v2h-1z"/>
<path fill="#fba238" d="M48 39h1v2h-1zM69 39h1v2h-1zM77 39h1v2h-1zM22 37h1v2h-1zM54 37h1v2h-1zM44 35h1v2h-1zM81 35h1v2h-1zM44 33h1v2h-1zM51 31h2v2h-2zM78 31h1v2h-1zM40 29h1v2h-1zM23 27h2v2h-2zM50 27h1v2h-1zM23 25h2v2h-2zM40 25h1v2h-1zM50 25h1v2h-1zM40 23h1v2h-1zM80 23h1v2h-1z"/>
<path fill="#fca934" d="M41 39h1v2h-1zM62 39h1v2h-1zM70 39h1v2h-1zM68 37h1v2h-1zM22 33h1v2h-1zM45 33h1v2h-1zM24 29h1v2h-1zM41 29h1v2h-1zM51 29h1v2h-1zM79 29h1v2h-1zM79 27h1v2h-1zM68 25h1v2h-1zM79 25h1v2h-1zM50 23h1v2h-1zM22 21h1v2h-1z"/>
<path fill="#fdb22f" d="M22 39h1v2h-1zM59 39h1v2h-1zM70 37h1v2h-1zM41 35h1v2h-1zM67 35h1v2h-1zM80 35h1v2h-1zM24 33h1v2h-1zM49 33h1v2h-1zM78 33h1v2h-1zM80 33h1v2h-1zM23 31h1v2h-1zM50 31h1v2h-1zM50 29h1v2h-1zM78 25h1v2h-1zM23 23h1v2h-1zM50 21h1v2h-1z"/>
<path fill="#feba2c" d="M45 39h1v2h-1zM49 39h1v2h-1zM67 39h2v2h-2zM44 37h1v2h-1zM52 37h1v2h-1zM22 35h1v2h-1zM52 35h1v2h-1zM68 35h1v2h-1zM51 33h1v2h-1zM24 31h1v2h-1zM78 29h1v2h-1zM22 23h1v2h-1zM79 23h1v2h-1z"/>
<path fill="#fdc328" d="M44 39h1v2h-1zM52 39h1v2h-1zM24 35h1v2h-1zM59 35h1v2h-1zM78 35h1v2h-1zM78 23h1v2h-1z"/>
<path fill="#fdcb26" d="M24 37h1v2h-1zM49 37h1v2h-1zM51 37h1v2h-1zM78 37h1v2h-1zM23 33h1v2h-1zM79 33h1v2h-1zM78 27h1v2h-1z"/>
<path fill="#fbd524" d="M59 37h1v2h-1zM50 33h1v2h-1z"/>
<path fill="#f9dd25" d="M24 39h1v2h-1zM78 39h1v2h-1zM80 39h1v2h-1zM23 35h1v2h-1zM45 35h1v2h-1zM49 35h1v2h-1zM79 31h1v2h-1z"/>
<path fill="#f6e826" d="M80 37h1v2h-1zM51 35h1v2h-1zM79 35h1v2h-1z"/>
<path fill="#f0f921" d="M23 39h1v2h-1zM50 39h2v2h-2zM79 39h1v2h-1zM23 37h1v2h-1zM50 37h1v2h-1zM79 37h1v2h-1zM50 35h1v2h-1z"/>
</g>
<line x1="1322.60" y1="200.10" x2="1322.60" y2="425.40" stroke="#808080" stroke-opacity="0.6" stroke-width="1.25"/>
<text x="0.00" y="0.00" font-size="17.50" textLength="65.57" lengthAdjust="spacingAndGlyphs" fill="#444" transform="translate(1327.80 198.40) rotate(-90)">Pinched</text>
<line x1="1363.10" y1="200.10" x2="1363.10" y2="425.40" stroke="#808080" stroke-opacity="0.6" stroke-width="1.25"/>
<text x="0.00" y="0.00" font-size="17.50" textLength="75.85" lengthAdjust="spacingAndGlyphs" fill="#444" transform="translate(1368.30 198.40) rotate(-90)">Released</text>
<line x1="1388.99" y1="200.10" x2="1388.99" y2="425.40" stroke="#808080" stroke-opacity="0.6" stroke-width="1.25"/>
<text x="0.00" y="0.00" font-size="17.50" textLength="23.75" lengthAdjust="spacingAndGlyphs" fill="#444" transform="translate(1394.19 198.40) rotate(-90)">Hit</text>
<line x1="1455.51" y1="200.10" x2="1455.51" y2="425.40" stroke="#808080" stroke-opacity="0.6" stroke-width="1.25"/>
<text x="0.00" y="0.00" font-size="17.50" textLength="65.57" lengthAdjust="spacingAndGlyphs" fill="#444" transform="translate(1460.71 198.40) rotate(-90)">Pinched</text>
<line x1="1487.61" y1="200.10" x2="1487.61" y2="425.40" stroke="#808080" stroke-opacity="0.6" stroke-width="1.25"/>
<text x="0.00" y="0.00" font-size="17.50" textLength="75.85" lengthAdjust="spacingAndGlyphs" fill="#444" transform="translate(1492.81 198.40) rotate(-90)">Released</text>
<line x1="1512.70" y1="200.10" x2="1512.70" y2="425.40" stroke="#808080" stroke-opacity="0.6" stroke-width="1.25"/>
<text x="0.00" y="0.00" font-size="17.50" textLength="23.75" lengthAdjust="spacingAndGlyphs" fill="#444" transform="translate(1517.90 198.40) rotate(-90)">Hit</text>
<line x1="1583.00" y1="200.10" x2="1583.00" y2="425.40" stroke="#808080" stroke-opacity="0.6" stroke-width="1.25"/>
<text x="0.00" y="0.00" font-size="17.50" textLength="65.57" lengthAdjust="spacingAndGlyphs" fill="#444" transform="translate(1588.20 198.40) rotate(-90)">Pinched</text>
<line x1="1613.51" y1="200.10" x2="1613.51" y2="425.40" stroke="#808080" stroke-opacity="0.6" stroke-width="1.25"/>
<text x="0.00" y="0.00" font-size="17.50" textLength="75.85" lengthAdjust="spacingAndGlyphs" fill="#444" transform="translate(1618.71 198.40) rotate(-90)">Released</text>
<line x1="1641.70" y1="200.10" x2="1641.70" y2="425.40" stroke="#808080" stroke-opacity="0.6" stroke-width="1.25"/>
<text x="0.00" y="0.00" font-size="17.50" textLength="23.75" lengthAdjust="spacingAndGlyphs" fill="#444" transform="translate(1646.90 198.40) rotate(-90)">Hit</text>
<path d="M1265.54 200.10V425.40H1709.60" fill="none" stroke="#000" stroke-width="1.11" stroke-linecap="square"/>
<rect x="1714.40" y="200.10" width="11.30" height="225.30" fill="url(#pl)"/>
<rect x="1714.40" y="200.10" width="11.30" height="225.30" fill="none" stroke="#000" stroke-width="1.11"/>
<path d="M1260.68 425.40h4.86M1260.68 387.85h4.86M1260.68 350.30h4.86M1260.68 312.75h4.86M1260.68 275.20h4.86M1260.68 237.65h4.86M1260.68 200.10h4.86M1265.54 425.40v4.86M1354.35 425.40v4.86M1443.16 425.40v4.86M1531.98 425.40v4.86M1620.79 425.40v4.86M1709.60 425.40v4.86M1725.70 410.04h4.86M1725.70 375.90h4.86M1725.70 341.77h4.86M1725.70 307.63h4.86M1725.70 273.49h4.86M1725.70 239.36h4.86M1725.70 205.22h4.86" stroke="#000" stroke-width="1.11"/>
<text x="1264.84" y="83.80" font-size="20.42" textLength="111.08" lengthAdjust="spacingAndGlyphs" fill="#000">Condition 5</text>
<text x="1264.84" y="106.80" font-size="16.04" textLength="185.93" lengthAdjust="spacingAndGlyphs" fill="#000">D = 2m, G = 13.73 m²/s</text>
<g transform="translate(67.940 619.200) scale(4.44505 4.69375)" shape-rendering="crispEdges">
<path fill="#0d0887" d="M75 47h1v1h-1zM84 47h1v1h-1zM77 45h1v2h-1zM79 45h1v2h-1zM85 43h1v2h-1z"/>
<path fill="#1b068d" d="M24 47h1v1h-1zM25 43h1v2h-1zM79 43h1v2h-1zM88 43h1v2h-1z"/>
<path fill="#260591" d="M76 47h1v1h-1zM79 47h1v1h-1zM81 47h1v1h-1zM86 47h1v1h-1zM93 47h1v1h-1zM74 45h1v2h-1zM83 45h2v2h-2zM77 43h1v2h-1z"/>
<path fill="#310597" d="M74 47h1v1h-1zM80 47h1v1h-1zM83 47h1v1h-1zM85 47h1v1h-1zM26 45h1v2h-1zM75 45h1v2h-1zM85 45h1v2h-1zM88 45h1v2h-1zM93 45h1v2h-1zM86 43h1v2h-1z"/>
<path fill="#3a049a" d="M73 47h1v1h-1zM77 47h2v1h-2zM87 47h1v1h-1zM89 47h1v1h-1zM91 47h2v1h-2zM73 45h1v2h-1zM78 45h1v2h-1zM82 45h1v2h-1zM24 43h1v2h-1zM73 43h1v2h-1zM84 43h1v2h-1zM87 43h1v2h-1z"/>
<path fill="#44039e" d="M15 47h1v1h-1zM25 47h1v1h-1zM28 47h2v1h-2zM36 47h1v1h-1zM48 47h1v1h-1zM88 47h1v1h-1zM24 45h2v2h-2zM30 45h1v2h-1zM36 45h1v2h-1zM54 45h1v2h-1zM76 45h1v2h-1zM81 45h1v2h-1zM87 45h1v2h-1zM90 45h1v2h-1zM92 45h1v2h-1zM54 43h1v2h-1zM74 43h2v2h-2zM82 43h1v2h-1zM89 43h1v2h-1zM92 43h1v2h-1z"/>
<path fill="#4c02a1" d="M54 47h1v1h-1zM1 45h1v2h-1zM16 45h1v2h-1zM29 45h1v2h-1zM80 45h1v2h-1zM86 45h1v2h-1zM1 43h1v2h-1zM5 43h1v2h-1zM26 43h1v2h-1zM29 43h1v2h-1zM36 43h1v2h-1zM76 43h1v2h-1zM78 43h1v2h-1zM81 43h1v2h-1zM83 43h1v2h-1zM76 41h1v2h-1zM84 41h1v2h-1z"/>
<path fill="#5601a4" d="M1 47h2v1h-2zM16 47h1v1h-1zM26 47h2v1h-2zM30 47h1v1h-1zM82 47h1v1h-1zM5 45h1v2h-1zM14 45h1v2h-1zM34 45h1v2h-1zM47 45h1v2h-1zM53 45h1v2h-1zM89 45h1v2h-1zM91 45h1v2h-1zM94 45h1v2h-1zM48 43h1v2h-1zM80 43h1v2h-1zM77 41h1v2h-1z"/>
<path fill="#5e01a6" d="M3 47h1v1h-1zM5 47h1v1h-1zM31 47h1v1h-1zM34 47h2v1h-2zM43 47h1v1h-1zM51 47h2v1h-2zM94 47h1v1h-1zM2 45h1v2h-1zM15 45h1v2h-1zM23 45h1v2h-1zM28 45h1v2h-1zM31 45h1v2h-1zM51 45h1v2h-1zM56 45h1v2h-1zM15 43h2v2h-2zM28 43h1v2h-1zM31 43h1v2h-1zM47 43h1v2h-1zM56 43h1v2h-1zM90 43h2v2h-2zM26 41h1v2h-1zM75 41h1v2h-1zM86 41h2v2h-2zM0 1h1v2h-1z"/>
<path fill="#6700a8" d="M17 47h1v1h-1zM23 47h1v1h-1zM44 47h1v1h-1zM0 45h1v2h-1zM17 45h1v2h-1zM35 45h1v2h-1zM52 45h1v2h-1zM55 45h1v2h-1zM30 43h1v2h-1zM49 43h1v2h-1zM52 43h1v2h-1zM55 43h1v2h-1zM63 43h1v2h-1zM93 43h2v2h-2zM73 41h2v2h-2zM79 41h2v2h-2zM83 41h1v2h-1zM92 41h1v2h-1zM15 3h1v2h-1z"/>
<path fill="#6f00a8" d="M6 47h1v1h-1zM47 47h1v1h-1zM53 47h1v1h-1zM55 47h1v1h-1zM63 47h1v1h-1zM27 45h1v2h-1zM43 45h1v2h-1zM49 45h1v2h-1zM63 45h1v2h-1zM2 43h1v2h-1zM24 41h2v2h-2zM78 41h1v2h-1zM81 41h2v2h-2zM88 41h1v2h-1zM74 9h1v2h-1zM84 7h1v2h-1zM75 1h1v2h-1z"/>
<path fill="#7701a8" d="M0 47h1v1h-1zM14 47h1v1h-1zM19 47h1v1h-1zM42 47h1v1h-1zM59 47h1v1h-1zM90 47h1v1h-1zM44 45h1v2h-1zM14 43h1v2h-1zM23 43h1v2h-1zM32 43h1v2h-1zM35 43h1v2h-1zM42 43h1v2h-1zM53 43h1v2h-1zM23 41h1v2h-1zM30 41h1v2h-1zM34 41h1v2h-1zM85 41h1v2h-1zM93 41h1v2h-1zM74 17h1v2h-1zM86 9h1v2h-1zM89 9h1v2h-1zM2 7h1v2h-1zM75 7h1v2h-1zM62 5h1v2h-1zM75 5h2v2h-2zM16 3h1v2h-1zM74 3h2v2h-2zM89 3h1v2h-1zM16 1h1v2h-1zM55 1h1v2h-1zM0 0h1v1h-1z"/>
<path fill="#8004a8" d="M32 47h2v1h-2zM46 47h1v1h-1zM49 47h1v1h-1zM56 47h1v1h-1zM62 47h1v1h-1zM4 45h1v2h-1zM21 45h1v2h-1zM32 45h1v2h-1zM48 45h1v2h-1zM62 45h1v2h-1zM17 43h1v2h-1zM21 43h1v2h-1zM44 43h1v2h-1zM57 43h1v2h-1zM15 41h1v2h-1zM28 41h1v2h-1zM54 41h1v2h-1zM56 41h1v2h-1zM91 41h1v2h-1zM0 9h1v2h-1zM23 9h1v2h-1zM31 9h1v2h-1zM49 9h1v2h-1zM0 7h1v2h-1zM54 7h1v2h-1zM81 7h1v2h-1zM83 7h1v2h-1zM16 5h1v2h-1zM24 5h1v2h-1zM49 5h1v2h-1zM55 5h2v2h-2zM74 5h1v2h-1zM0 3h1v2h-1zM2 3h1v2h-1zM14 3h1v2h-1zM56 3h1v2h-1zM73 3h1v2h-1zM81 3h4v2h-4zM2 1h1v2h-1zM15 1h1v2h-1z"/>
<path fill="#8707a6" d="M21 47h2v1h-2zM57 47h1v1h-1zM65 47h1v1h-1zM20 45h1v2h-1zM22 45h1v2h-1zM33 45h1v2h-1zM61 45h1v2h-1zM3 43h2v2h-2zM27 43h1v2h-1zM34 43h1v2h-1zM43 43h1v2h-1zM51 43h1v2h-1zM0 41h2v2h-2zM5 41h1v2h-1zM16 41h1v2h-1zM35 41h2v2h-2zM53 41h1v2h-1zM75 17h1v2h-1zM74 15h1v2h-1zM0 11h1v2h-1zM55 9h1v2h-1zM79 9h1v2h-1zM5 7h1v2h-1zM15 7h1v2h-1zM24 7h1v2h-1zM35 7h1v2h-1zM62 7h1v2h-1zM73 7h1v2h-1zM91 7h1v2h-1zM0 5h1v2h-1zM3 5h1v2h-1zM73 5h1v2h-1zM78 5h1v2h-1zM82 5h2v2h-2zM6 3h1v2h-1zM17 3h1v2h-1zM23 3h2v2h-2zM48 3h2v2h-2zM54 3h1v2h-1zM76 3h1v2h-1zM79 3h1v2h-1zM86 3h1v2h-1zM29 1h1v2h-1zM48 1h1v2h-1zM76 1h1v2h-1zM86 1h1v2h-1zM88 1h1v2h-1z"/>
<path fill="#8f0da4" d="M4 47h1v1h-1zM20 47h1v1h-1zM3 45h1v2h-1zM41 45h2v2h-2zM46 45h1v2h-1zM57 45h1v2h-1zM59 45h1v2h-1zM64 45h1v2h-1zM0 43h1v2h-1zM6 43h1v2h-1zM41 43h1v2h-1zM50 43h1v2h-1zM62 43h1v2h-1zM65 43h1v2h-1zM31 41h1v2h-1zM48 41h1v2h-1zM78 21h1v2h-1zM24 19h1v2h-1zM74 19h1v2h-1zM0 13h1v2h-1zM56 13h1v2h-1zM78 13h1v2h-1zM50 11h1v2h-1zM1 9h1v2h-1zM30 9h1v2h-1zM50 9h1v2h-1zM54 9h1v2h-1zM62 9h1v2h-1zM75 9h1v2h-1zM83 9h2v2h-2zM7 7h1v2h-1zM16 7h1v2h-1zM29 7h1v2h-1zM48 7h1v2h-1zM55 7h1v2h-1zM76 7h1v2h-1zM79 7h1v2h-1zM1 5h2v2h-2zM5 5h1v2h-1zM23 5h1v2h-1zM35 5h1v2h-1zM54 5h1v2h-1zM80 5h1v2h-1zM86 5h1v2h-1zM90 5h1v2h-1zM7 3h1v2h-1zM29 3h1v2h-1zM31 3h1v2h-1zM62 3h1v2h-1zM85 3h1v2h-1zM1 1h1v2h-1zM7 1h1v2h-1zM14 1h1v2h-1zM50 1h1v2h-1zM54 1h1v2h-1zM77 1h2v2h-2zM83 1h1v2h-1zM85 1h1v2h-1zM89 1h1v2h-1zM91 1h1v2h-1z"/>
<path fill="#9613a1" d="M50 47h1v1h-1zM58 47h1v1h-1zM61 47h1v1h-1zM6 45h1v2h-1zM19 45h1v2h-1zM45 45h1v2h-1zM50 45h1v2h-1zM9 43h1v2h-1zM61 43h1v2h-1zM2 41h1v2h-1zM6 41h1v2h-1zM89 41h2v2h-2zM94 41h1v2h-1zM74 25h1v2h-1zM74 21h1v2h-1zM83 19h1v2h-1zM36 17h1v2h-1zM78 17h1v2h-1zM83 17h1v2h-1zM55 15h1v2h-1zM76 15h1v2h-1zM83 15h1v2h-1zM89 15h1v2h-1zM1 13h1v2h-1zM25 13h1v2h-1zM76 13h1v2h-1zM79 13h1v2h-1zM13 11h1v2h-1zM15 11h2v2h-2zM75 11h1v2h-1zM84 11h1v2h-1zM4 9h1v2h-1zM16 9h1v2h-1zM26 9h1v2h-1zM48 9h1v2h-1zM53 9h1v2h-1zM56 9h1v2h-1zM73 9h1v2h-1zM78 9h1v2h-1zM94 9h2v2h-2zM31 7h1v2h-1zM36 7h2v2h-2zM44 7h1v2h-1zM50 7h1v2h-1zM53 7h1v2h-1zM56 7h1v2h-1zM78 7h1v2h-1zM90 7h1v2h-1zM6 5h1v2h-1zM27 5h1v2h-1zM37 5h1v2h-1zM42 5h2v2h-2zM51 5h1v2h-1zM53 5h1v2h-1zM61 5h1v2h-1zM77 5h1v2h-1zM84 5h1v2h-1zM89 5h1v2h-1zM1 3h1v2h-1zM30 3h1v2h-1zM37 3h1v2h-1zM50 3h1v2h-1zM55 3h1v2h-1zM57 3h1v2h-1zM77 3h2v2h-2zM87 3h1v2h-1zM90 3h1v2h-1zM23 1h1v2h-1zM26 1h1v2h-1zM49 1h1v2h-1zM56 1h1v2h-1zM62 1h1v2h-1zM90 1h1v2h-1zM95 1h1v2h-1zM6 0h1v1h-1zM37 0h1v1h-1zM49 0h1v1h-1zM53 0h1v1h-1zM80 0h1v1h-1zM85 0h1v1h-1z"/>
<path fill="#9e199d" d="M9 47h1v1h-1zM13 47h1v1h-1zM8 43h1v2h-1zM19 43h1v2h-1zM46 43h1v2h-1zM59 43h1v2h-1zM14 41h1v2h-1zM17 41h1v2h-1zM20 41h1v2h-1zM29 41h1v2h-1zM33 41h1v2h-1zM44 41h1v2h-1zM46 41h2v2h-2zM52 41h1v2h-1zM55 41h1v2h-1zM74 23h1v2h-1zM77 21h1v2h-1zM36 19h1v2h-1zM48 19h1v2h-1zM73 19h1v2h-1zM79 19h2v2h-2zM1 17h2v2h-2zM50 17h1v2h-1zM76 17h2v2h-2zM3 15h1v2h-1zM30 15h1v2h-1zM50 15h1v2h-1zM77 15h1v2h-1zM79 15h1v2h-1zM84 15h3v2h-3zM55 13h1v2h-1zM74 13h1v2h-1zM77 13h1v2h-1zM84 13h1v2h-1zM94 13h1v2h-1zM30 11h1v2h-1zM73 11h2v2h-2zM76 11h1v2h-1zM80 11h1v2h-1zM82 11h1v2h-1zM85 11h1v2h-1zM3 9h1v2h-1zM6 9h1v2h-1zM14 9h2v2h-2zM24 9h1v2h-1zM37 9h1v2h-1zM64 9h1v2h-1zM71 9h1v2h-1zM76 9h2v2h-2zM80 9h2v2h-2zM85 9h1v2h-1zM91 9h1v2h-1zM1 7h1v2h-1zM6 7h1v2h-1zM14 7h1v2h-1zM23 7h1v2h-1zM34 7h1v2h-1zM42 7h1v2h-1zM49 7h1v2h-1zM51 7h1v2h-1zM57 7h1v2h-1zM77 7h1v2h-1zM80 7h1v2h-1zM82 7h1v2h-1zM85 7h2v2h-2zM88 7h2v2h-2zM4 5h1v2h-1zM14 5h1v2h-1zM17 5h1v2h-1zM26 5h1v2h-1zM29 5h1v2h-1zM32 5h2v2h-2zM36 5h1v2h-1zM48 5h1v2h-1zM50 5h1v2h-1zM52 5h1v2h-1zM60 5h1v2h-1zM79 5h1v2h-1zM85 5h1v2h-1zM87 5h1v2h-1zM91 5h1v2h-1zM13 3h1v2h-1zM33 3h2v2h-2zM36 3h1v2h-1zM42 3h1v2h-1zM52 3h1v2h-1zM91 3h1v2h-1zM94 3h2v2h-2zM3 1h1v2h-1zM28 1h1v2h-1zM33 1h3v2h-3zM37 1h1v2h-1zM44 1h1v2h-1zM51 1h1v2h-1zM73 1h2v2h-2zM81 1h2v2h-2zM84 1h1v2h-1zM92 1h1v2h-1zM1 0h2v1h-2zM16 0h1v1h-1zM23 0h2v1h-2zM51 0h1v1h-1zM55 0h2v1h-2zM74 0h2v1h-2z"/>
<path fill="#a51f99" d="M8 45h1v2h-1zM58 45h1v2h-1zM65 45h1v2h-1zM18 43h1v2h-1zM20 43h1v2h-1zM33 43h1v2h-1zM60 43h1v2h-1zM19 41h1v2h-1zM27 41h1v2h-1zM62 41h2v2h-2zM84 25h1v2h-1zM29 21h1v2h-1zM82 21h1v2h-1zM25 19h2v2h-2zM50 19h1v2h-1zM75 19h1v2h-1zM77 19h2v2h-2zM89 19h1v2h-1zM17 17h1v2h-1zM26 17h1v2h-1zM48 17h1v2h-1zM56 17h1v2h-1zM61 17h1v2h-1zM79 17h1v2h-1zM84 17h1v2h-1zM87 17h1v2h-1zM73 15h1v2h-1zM75 15h1v2h-1zM78 15h1v2h-1zM13 13h1v2h-1zM24 13h1v2h-1zM48 13h1v2h-1zM57 13h1v2h-1zM73 13h1v2h-1zM75 13h1v2h-1zM86 13h1v2h-1zM14 11h1v2h-1zM24 11h1v2h-1zM31 11h1v2h-1zM51 11h1v2h-1zM56 11h1v2h-1zM83 11h1v2h-1zM87 11h1v2h-1zM2 9h1v2h-1zM5 9h1v2h-1zM7 9h1v2h-1zM17 9h1v2h-1zM27 9h1v2h-1zM35 9h2v2h-2zM44 9h1v2h-1zM51 9h1v2h-1zM57 9h2v2h-2zM82 9h1v2h-1zM88 9h1v2h-1zM3 7h2v2h-2zM13 7h1v2h-1zM26 7h1v2h-1zM28 7h1v2h-1zM87 7h1v2h-1zM92 7h1v2h-1zM7 5h1v2h-1zM12 5h2v2h-2zM22 5h1v2h-1zM81 5h1v2h-1zM93 5h1v2h-1zM3 3h2v2h-2zM12 3h1v2h-1zM25 3h2v2h-2zM51 3h1v2h-1zM53 3h1v2h-1zM59 3h1v2h-1zM64 3h1v2h-1zM92 3h2v2h-2zM5 1h2v2h-2zM13 1h1v2h-1zM17 1h1v2h-1zM22 1h1v2h-1zM24 1h1v2h-1zM43 1h1v2h-1zM53 1h1v2h-1zM64 1h1v2h-1zM79 1h1v2h-1zM93 1h2v2h-2zM7 0h1v1h-1zM48 0h1v1h-1zM50 0h1v1h-1zM54 0h1v1h-1zM77 0h2v1h-2zM86 0h1v1h-1z"/>
<path fill="#ac2694" d="M8 47h1v1h-1zM18 47h1v1h-1zM41 47h1v1h-1zM67 47h1v1h-1zM72 47h1v1h-1zM13 45h1v2h-1zM60 45h1v2h-1zM71 45h1v2h-1zM22 43h1v2h-1zM4 41h1v2h-1zM32 41h1v2h-1zM49 41h1v2h-1zM26 37h1v2h-1zM26 27h1v2h-1zM73 27h3v2h-3zM75 25h1v2h-1zM16 21h1v2h-1zM75 21h1v2h-1zM85 21h1v2h-1zM92 21h1v2h-1zM0 19h1v2h-1zM31 19h1v2h-1zM55 19h1v2h-1zM84 19h1v2h-1zM86 19h1v2h-1zM6 17h1v2h-1zM13 17h1v2h-1zM24 17h1v2h-1zM73 17h1v2h-1zM94 17h1v2h-1zM2 15h1v2h-1zM6 15h1v2h-1zM15 15h2v2h-2zM23 15h2v2h-2zM35 15h1v2h-1zM51 15h1v2h-1zM62 15h1v2h-1zM92 15h1v2h-1zM7 13h1v2h-1zM23 13h1v2h-1zM26 13h1v2h-1zM50 13h1v2h-1zM63 13h1v2h-1zM71 13h1v2h-1zM82 13h2v2h-2zM89 13h2v2h-2zM1 11h2v2h-2zM6 11h1v2h-1zM22 11h1v2h-1zM25 11h2v2h-2zM33 11h1v2h-1zM36 11h1v2h-1zM44 11h1v2h-1zM52 11h1v2h-1zM54 11h1v2h-1zM57 11h2v2h-2zM60 11h1v2h-1zM77 11h3v2h-3zM81 11h1v2h-1zM86 11h1v2h-1zM88 11h2v2h-2zM93 11h1v2h-1zM13 9h1v2h-1zM29 9h1v2h-1zM33 9h1v2h-1zM43 9h1v2h-1zM52 9h1v2h-1zM87 9h1v2h-1zM90 9h1v2h-1zM92 9h1v2h-1zM17 7h1v2h-1zM25 7h1v2h-1zM30 7h1v2h-1zM33 7h1v2h-1zM43 7h1v2h-1zM52 7h1v2h-1zM68 7h1v2h-1zM72 7h1v2h-1zM74 7h1v2h-1zM93 7h2v2h-2zM15 5h1v2h-1zM28 5h1v2h-1zM31 5h1v2h-1zM44 5h1v2h-1zM47 5h1v2h-1zM57 5h1v2h-1zM71 5h2v2h-2zM94 5h1v2h-1zM5 3h1v2h-1zM35 3h1v2h-1zM38 3h1v2h-1zM43 3h2v2h-2zM60 3h1v2h-1zM63 3h1v2h-1zM72 3h1v2h-1zM80 3h1v2h-1zM25 1h1v2h-1zM30 1h1v2h-1zM38 1h1v2h-1zM42 1h1v2h-1zM47 1h1v2h-1zM57 1h4v2h-4zM71 1h2v2h-2zM4 0h2v1h-2zM13 0h3v1h-3zM17 0h1v1h-1zM25 0h2v1h-2zM29 0h1v1h-1zM76 0h1v1h-1zM79 0h1v1h-1zM81 0h1v1h-1zM83 0h1v1h-1zM91 0h1v1h-1z"/>
<path fill="#b22b8f" d="M12 47h1v1h-1zM45 47h1v1h-1zM60 47h1v1h-1zM64 47h1v1h-1zM12 45h1v2h-1zM13 43h1v2h-1zM38 43h1v2h-1zM45 43h1v2h-1zM71 43h1v2h-1zM42 41h1v2h-1zM51 41h1v2h-1zM73 39h1v2h-1zM15 35h1v2h-1zM85 33h1v2h-1zM74 31h1v2h-1zM86 31h1v2h-1zM74 29h1v2h-1zM77 29h1v2h-1zM76 27h1v2h-1zM83 27h1v2h-1zM88 27h1v2h-1zM82 25h1v2h-1zM88 25h1v2h-1zM3 21h1v2h-1zM23 21h1v2h-1zM55 21h3v2h-3zM73 21h1v2h-1zM88 21h1v2h-1zM4 19h1v2h-1zM6 19h1v2h-1zM16 19h1v2h-1zM22 19h1v2h-1zM30 19h1v2h-1zM43 19h1v2h-1zM52 19h1v2h-1zM54 19h1v2h-1zM56 19h1v2h-1zM82 19h1v2h-1zM87 19h1v2h-1zM90 19h1v2h-1zM92 19h1v2h-1zM0 17h1v2h-1zM8 17h1v2h-1zM16 17h1v2h-1zM25 17h1v2h-1zM30 17h1v2h-1zM42 17h2v2h-2zM51 17h1v2h-1zM82 17h1v2h-1zM93 17h1v2h-1zM0 15h2v2h-2zM4 15h1v2h-1zM13 15h1v2h-1zM17 15h1v2h-1zM25 15h2v2h-2zM42 15h1v2h-1zM49 15h1v2h-1zM57 15h1v2h-1zM71 15h1v2h-1zM80 15h1v2h-1zM82 15h1v2h-1zM87 15h1v2h-1zM91 15h1v2h-1zM94 15h1v2h-1zM2 13h2v2h-2zM6 13h1v2h-1zM16 13h2v2h-2zM30 13h1v2h-1zM36 13h1v2h-1zM49 13h1v2h-1zM60 13h1v2h-1zM62 13h1v2h-1zM80 13h1v2h-1zM87 13h1v2h-1zM3 11h2v2h-2zM23 11h1v2h-1zM29 11h1v2h-1zM37 11h1v2h-1zM43 11h1v2h-1zM48 11h1v2h-1zM55 11h1v2h-1zM62 11h2v2h-2zM12 9h1v2h-1zM22 9h1v2h-1zM25 9h1v2h-1zM32 9h1v2h-1zM34 9h1v2h-1zM42 9h1v2h-1zM47 9h1v2h-1zM61 9h1v2h-1zM63 9h1v2h-1zM8 7h1v2h-1zM12 7h1v2h-1zM22 7h1v2h-1zM47 7h1v2h-1zM59 7h1v2h-1zM61 7h1v2h-1zM70 7h2v2h-2zM30 5h1v2h-1zM34 5h1v2h-1zM45 5h1v2h-1zM92 5h1v2h-1zM27 3h2v2h-2zM32 3h1v2h-1zM47 3h1v2h-1zM58 3h1v2h-1zM88 3h1v2h-1zM4 1h1v2h-1zM8 1h1v2h-1zM12 1h1v2h-1zM31 1h1v2h-1zM45 1h1v2h-1zM52 1h1v2h-1zM80 1h1v2h-1zM87 1h1v2h-1zM30 0h1v1h-1zM32 0h1v1h-1zM52 0h1v1h-1zM57 0h1v1h-1zM62 0h1v1h-1zM82 0h1v1h-1zM84 0h1v1h-1zM88 0h2v1h-2zM94 0h1v1h-1z"/>
<path fill="#b7318a" d="M38 47h1v1h-1zM71 47h1v1h-1zM58 43h1v2h-1zM64 43h1v2h-1zM72 43h1v2h-1zM21 41h1v2h-1zM43 41h1v2h-1zM50 41h1v2h-1zM26 39h1v2h-1zM15 37h1v2h-1zM25 37h1v2h-1zM82 37h1v2h-1zM85 37h2v2h-2zM5 35h1v2h-1zM79 35h1v2h-1zM86 35h1v2h-1zM15 33h1v2h-1zM26 33h1v2h-1zM34 31h1v2h-1zM78 31h1v2h-1zM82 31h1v2h-1zM51 29h1v2h-1zM76 29h1v2h-1zM85 29h1v2h-1zM81 27h1v2h-1zM2 25h1v2h-1zM76 25h1v2h-1zM4 21h1v2h-1zM25 21h1v2h-1zM50 21h1v2h-1zM62 21h1v2h-1zM79 21h2v2h-2zM87 21h1v2h-1zM1 19h3v2h-3zM5 19h1v2h-1zM13 19h1v2h-1zM15 19h1v2h-1zM17 19h1v2h-1zM29 19h1v2h-1zM49 19h1v2h-1zM57 19h1v2h-1zM76 19h1v2h-1zM85 19h1v2h-1zM94 19h1v2h-1zM3 17h3v2h-3zM15 17h1v2h-1zM29 17h1v2h-1zM31 17h1v2h-1zM35 17h1v2h-1zM49 17h1v2h-1zM80 17h2v2h-2zM86 17h1v2h-1zM7 15h1v2h-1zM31 15h2v2h-2zM36 15h1v2h-1zM52 15h1v2h-1zM54 15h1v2h-1zM56 15h1v2h-1zM70 15h1v2h-1zM81 15h1v2h-1zM88 15h1v2h-1zM90 15h1v2h-1zM14 13h2v2h-2zM22 13h1v2h-1zM31 13h2v2h-2zM34 13h2v2h-2zM42 13h1v2h-1zM51 13h1v2h-1zM61 13h1v2h-1zM85 13h1v2h-1zM91 13h3v2h-3zM95 13h1v2h-1zM5 11h1v2h-1zM12 11h1v2h-1zM17 11h1v2h-1zM35 11h1v2h-1zM49 11h1v2h-1zM53 11h1v2h-1zM59 11h1v2h-1zM70 11h1v2h-1zM90 11h3v2h-3zM94 11h2v2h-2zM59 9h2v2h-2zM72 9h1v2h-1zM93 9h1v2h-1zM32 7h1v2h-1zM63 7h2v2h-2zM95 7h1v2h-1zM8 5h1v2h-1zM25 5h1v2h-1zM58 5h1v2h-1zM63 5h3v2h-3zM70 5h1v2h-1zM88 5h1v2h-1zM95 5h1v2h-1zM8 3h1v2h-1zM70 3h1v2h-1zM27 1h1v2h-1zM32 1h1v2h-1zM36 1h1v2h-1zM69 1h1v2h-1zM3 0h1v1h-1zM8 0h1v1h-1zM31 0h1v1h-1zM33 0h2v1h-2zM42 0h3v1h-3zM73 0h1v1h-1zM87 0h1v1h-1zM90 0h1v1h-1zM95 0h1v1h-1z"/>
<path fill="#be3885" d="M7 47h1v1h-1zM39 47h1v1h-1zM7 45h1v2h-1zM9 45h2v2h-2zM18 45h1v2h-1zM40 45h1v2h-1zM72 45h1v2h-1zM12 43h1v2h-1zM69 43h1v2h-1zM18 41h1v2h-1zM57 41h1v2h-1zM59 41h1v2h-1zM65 41h1v2h-1zM25 39h1v2h-1zM75 39h1v2h-1zM85 39h1v2h-1zM76 35h1v2h-1zM87 35h1v2h-1zM25 33h1v2h-1zM36 33h1v2h-1zM42 33h1v2h-1zM82 33h1v2h-1zM3 31h1v2h-1zM6 31h1v2h-1zM77 31h1v2h-1zM5 29h1v2h-1zM26 29h1v2h-1zM31 29h1v2h-1zM75 29h1v2h-1zM78 29h1v2h-1zM94 29h1v2h-1zM78 27h2v2h-2zM86 27h1v2h-1zM16 25h1v2h-1zM30 25h1v2h-1zM54 25h1v2h-1zM80 25h1v2h-1zM83 25h1v2h-1zM93 25h1v2h-1zM2 23h1v2h-1zM2 21h1v2h-1zM14 21h2v2h-2zM31 21h1v2h-1zM34 21h1v2h-1zM48 21h2v2h-2zM76 21h1v2h-1zM81 21h1v2h-1zM83 21h2v2h-2zM86 21h1v2h-1zM89 21h1v2h-1zM91 21h1v2h-1zM94 21h1v2h-1zM8 19h1v2h-1zM12 19h1v2h-1zM35 19h1v2h-1zM42 19h1v2h-1zM53 19h1v2h-1zM64 19h1v2h-1zM70 19h1v2h-1zM93 19h1v2h-1zM12 17h1v2h-1zM22 17h2v2h-2zM34 17h1v2h-1zM52 17h2v2h-2zM55 17h1v2h-1zM58 17h2v2h-2zM62 17h1v2h-1zM64 17h1v2h-1zM89 17h1v2h-1zM92 17h1v2h-1zM12 15h1v2h-1zM22 15h1v2h-1zM28 15h2v2h-2zM60 15h2v2h-2zM72 15h1v2h-1zM95 15h1v2h-1zM4 13h1v2h-1zM33 13h1v2h-1zM37 13h1v2h-1zM43 13h1v2h-1zM52 13h1v2h-1zM59 13h1v2h-1zM81 13h1v2h-1zM8 11h1v2h-1zM32 11h1v2h-1zM47 11h1v2h-1zM64 11h1v2h-1zM72 11h1v2h-1zM8 9h1v2h-1zM28 9h1v2h-1zM38 9h1v2h-1zM9 7h1v2h-1zM38 7h1v2h-1zM41 7h1v2h-1zM58 7h1v2h-1zM60 7h1v2h-1zM21 5h1v2h-1zM38 5h1v2h-1zM59 5h1v2h-1zM68 5h2v2h-2zM9 3h1v2h-1zM22 3h1v2h-1zM45 3h1v2h-1zM61 3h1v2h-1zM71 3h1v2h-1zM61 1h1v2h-1zM63 1h1v2h-1zM35 0h1v1h-1zM38 0h1v1h-1zM58 0h1v1h-1zM72 0h1v1h-1zM92 0h2v1h-2z"/>
<path fill="#c33d80" d="M11 47h1v1h-1zM66 47h1v1h-1zM69 47h1v1h-1zM95 47h1v1h-1zM38 45h1v2h-1zM67 45h1v2h-1zM7 43h1v2h-1zM40 43h1v2h-1zM67 43h1v2h-1zM3 41h1v2h-1zM41 41h1v2h-1zM45 41h1v2h-1zM61 41h1v2h-1zM64 41h1v2h-1zM71 41h2v2h-2zM14 39h2v2h-2zM34 39h1v2h-1zM44 39h1v2h-1zM77 39h2v2h-2zM82 39h1v2h-1zM86 39h1v2h-1zM3 37h1v2h-1zM16 37h1v2h-1zM73 37h1v2h-1zM84 37h1v2h-1zM25 35h2v2h-2zM78 35h1v2h-1zM80 35h1v2h-1zM83 35h1v2h-1zM24 33h1v2h-1zM32 33h1v2h-1zM34 33h1v2h-1zM73 33h1v2h-1zM83 33h1v2h-1zM91 33h1v2h-1zM93 33h1v2h-1zM1 31h1v2h-1zM15 31h1v2h-1zM17 31h1v2h-1zM26 31h1v2h-1zM36 31h1v2h-1zM57 31h1v2h-1zM81 31h1v2h-1zM93 31h1v2h-1zM23 29h1v2h-1zM25 29h1v2h-1zM56 29h1v2h-1zM79 29h1v2h-1zM81 29h1v2h-1zM88 29h1v2h-1zM92 29h1v2h-1zM5 27h2v2h-2zM15 27h1v2h-1zM25 27h1v2h-1zM29 27h1v2h-1zM31 27h1v2h-1zM42 27h1v2h-1zM77 27h1v2h-1zM80 27h1v2h-1zM84 27h2v2h-2zM26 25h1v2h-1zM31 25h1v2h-1zM33 25h1v2h-1zM42 25h1v2h-1zM44 25h1v2h-1zM51 25h1v2h-1zM73 25h1v2h-1zM78 25h2v2h-2zM87 25h1v2h-1zM89 25h1v2h-1zM94 25h1v2h-1zM6 23h1v2h-1zM77 23h1v2h-1zM83 23h1v2h-1zM85 23h2v2h-2zM0 21h2v2h-2zM5 21h2v2h-2zM26 21h1v2h-1zM30 21h1v2h-1zM43 21h2v2h-2zM51 21h1v2h-1zM63 21h1v2h-1zM28 19h1v2h-1zM34 19h1v2h-1zM62 19h1v2h-1zM81 19h1v2h-1zM91 19h1v2h-1zM7 17h1v2h-1zM14 17h1v2h-1zM32 17h1v2h-1zM37 17h1v2h-1zM44 17h1v2h-1zM71 17h1v2h-1zM85 17h1v2h-1zM88 17h1v2h-1zM91 17h1v2h-1zM8 15h1v2h-1zM14 15h1v2h-1zM37 15h1v2h-1zM43 15h2v2h-2zM48 15h1v2h-1zM59 15h1v2h-1zM63 15h1v2h-1zM93 15h1v2h-1zM96 15h1v2h-1zM5 13h1v2h-1zM8 13h1v2h-1zM27 13h1v2h-1zM29 13h1v2h-1zM53 13h2v2h-2zM64 13h1v2h-1zM88 13h1v2h-1zM7 11h1v2h-1zM34 11h1v2h-1zM42 11h1v2h-1zM61 11h1v2h-1zM9 9h1v2h-1zM68 9h1v2h-1zM70 9h1v2h-1zM45 7h1v2h-1zM65 7h1v2h-1zM20 5h1v2h-1zM96 5h1v2h-1zM19 3h1v2h-1zM69 3h1v2h-1zM46 1h1v2h-1zM70 1h1v2h-1zM12 0h1v1h-1zM36 0h1v1h-1zM47 0h1v1h-1zM63 0h2v1h-2zM70 0h1v1h-1z"/>
<path fill="#c9447a" d="M40 47h1v1h-1zM39 45h1v2h-1zM10 43h1v2h-1zM68 43h1v2h-1zM70 43h1v2h-1zM9 41h1v2h-1zM22 41h1v2h-1zM58 41h1v2h-1zM60 41h1v2h-1zM36 39h1v2h-1zM56 39h1v2h-1zM79 39h1v2h-1zM83 39h1v2h-1zM93 39h1v2h-1zM6 37h1v2h-1zM24 37h1v2h-1zM34 37h1v2h-1zM36 37h1v2h-1zM77 37h2v2h-2zM80 37h1v2h-1zM83 37h1v2h-1zM87 37h2v2h-2zM35 35h2v2h-2zM44 35h1v2h-1zM75 35h1v2h-1zM88 35h1v2h-1zM94 35h1v2h-1zM2 33h1v2h-1zM5 33h1v2h-1zM16 33h1v2h-1zM35 33h1v2h-1zM44 33h1v2h-1zM50 33h1v2h-1zM74 33h1v2h-1zM76 33h3v2h-3zM80 33h1v2h-1zM86 33h1v2h-1zM0 31h1v2h-1zM5 31h1v2h-1zM24 31h2v2h-2zM31 31h2v2h-2zM43 31h1v2h-1zM73 31h1v2h-1zM75 31h1v2h-1zM79 31h1v2h-1zM84 31h1v2h-1zM35 29h1v2h-1zM62 29h1v2h-1zM82 29h2v2h-2zM86 29h2v2h-2zM93 29h1v2h-1zM1 27h1v2h-1zM4 27h1v2h-1zM24 27h1v2h-1zM30 27h1v2h-1zM49 27h1v2h-1zM54 27h1v2h-1zM62 27h1v2h-1zM89 27h1v2h-1zM93 27h1v2h-1zM3 25h1v2h-1zM15 25h1v2h-1zM23 25h1v2h-1zM34 25h1v2h-1zM56 25h1v2h-1zM77 25h1v2h-1zM81 25h1v2h-1zM90 25h1v2h-1zM92 25h1v2h-1zM55 23h1v2h-1zM84 23h1v2h-1zM88 23h1v2h-1zM93 23h1v2h-1zM17 21h1v2h-1zM24 21h1v2h-1zM36 21h2v2h-2zM53 21h2v2h-2zM90 21h1v2h-1zM14 19h1v2h-1zM23 19h1v2h-1zM32 19h1v2h-1zM51 19h1v2h-1zM61 19h1v2h-1zM63 19h1v2h-1zM71 19h1v2h-1zM88 19h1v2h-1zM95 19h1v2h-1zM19 17h1v2h-1zM28 17h1v2h-1zM33 17h1v2h-1zM57 17h1v2h-1zM63 17h1v2h-1zM70 17h1v2h-1zM72 17h1v2h-1zM90 17h1v2h-1zM95 17h1v2h-1zM21 15h1v2h-1zM34 15h1v2h-1zM53 15h1v2h-1zM64 15h1v2h-1zM21 13h1v2h-1zM44 13h1v2h-1zM65 13h1v2h-1zM69 13h1v2h-1zM72 13h1v2h-1zM96 13h1v2h-1zM18 11h1v2h-1zM20 11h2v2h-2zM28 11h1v2h-1zM38 11h1v2h-1zM69 11h1v2h-1zM71 11h1v2h-1zM96 11h1v2h-1zM19 9h1v2h-1zM46 9h1v2h-1zM27 7h1v2h-1zM69 7h1v2h-1zM19 5h1v2h-1zM20 3h2v2h-2zM65 3h1v2h-1zM68 3h1v2h-1zM96 3h1v2h-1zM27 0h1v1h-1zM59 0h1v1h-1zM61 0h1v1h-1zM69 0h1v1h-1z"/>
<path fill="#cd4a76" d="M10 47h1v1h-1zM68 47h1v1h-1zM96 47h1v1h-1zM11 45h1v2h-1zM66 45h1v2h-1zM68 45h2v2h-2zM95 45h1v2h-1zM39 43h1v2h-1zM13 41h1v2h-1zM0 39h2v2h-2zM4 39h1v2h-1zM6 39h1v2h-1zM23 39h2v2h-2zM30 39h2v2h-2zM35 39h1v2h-1zM42 39h1v2h-1zM49 39h1v2h-1zM52 39h1v2h-1zM80 39h1v2h-1zM84 39h1v2h-1zM91 39h1v2h-1zM4 37h2v2h-2zM17 37h1v2h-1zM29 37h1v2h-1zM32 37h1v2h-1zM35 37h1v2h-1zM53 37h1v2h-1zM74 37h2v2h-2zM81 37h1v2h-1zM92 37h1v2h-1zM2 35h2v2h-2zM24 35h1v2h-1zM33 35h1v2h-1zM42 35h1v2h-1zM73 35h2v2h-2zM77 35h1v2h-1zM84 35h2v2h-2zM6 33h1v2h-1zM17 33h1v2h-1zM48 33h1v2h-1zM56 33h1v2h-1zM81 33h1v2h-1zM92 33h1v2h-1zM14 31h1v2h-1zM30 31h1v2h-1zM42 31h1v2h-1zM76 31h1v2h-1zM80 31h1v2h-1zM83 31h1v2h-1zM94 31h1v2h-1zM2 29h3v2h-3zM6 29h1v2h-1zM16 29h1v2h-1zM36 29h1v2h-1zM53 29h1v2h-1zM73 29h1v2h-1zM80 29h1v2h-1zM91 29h1v2h-1zM2 27h1v2h-1zM14 27h1v2h-1zM23 27h1v2h-1zM33 27h2v2h-2zM57 27h1v2h-1zM82 27h1v2h-1zM87 27h1v2h-1zM91 27h1v2h-1zM5 25h1v2h-1zM14 25h1v2h-1zM24 25h2v2h-2zM35 25h1v2h-1zM43 25h1v2h-1zM62 25h1v2h-1zM85 25h2v2h-2zM14 23h2v2h-2zM26 23h1v2h-1zM31 23h1v2h-1zM48 23h1v2h-1zM56 23h1v2h-1zM75 23h1v2h-1zM79 23h1v2h-1zM82 23h1v2h-1zM87 23h1v2h-1zM22 21h1v2h-1zM32 21h1v2h-1zM64 21h1v2h-1zM72 21h1v2h-1zM58 19h1v2h-1zM65 19h1v2h-1zM72 19h1v2h-1zM20 17h1v2h-1zM54 17h1v2h-1zM96 17h1v2h-1zM5 15h1v2h-1zM10 15h1v2h-1zM18 15h2v2h-2zM27 15h1v2h-1zM33 15h1v2h-1zM58 15h1v2h-1zM12 13h1v2h-1zM20 13h1v2h-1zM45 13h1v2h-1zM47 13h1v2h-1zM70 13h1v2h-1zM46 11h1v2h-1zM68 11h1v2h-1zM20 9h1v2h-1zM41 9h1v2h-1zM45 9h1v2h-1zM65 9h1v2h-1zM69 9h1v2h-1zM96 9h1v2h-1zM18 7h1v2h-1zM18 5h1v2h-1zM46 5h1v2h-1zM18 3h1v2h-1zM9 1h1v2h-1zM18 1h2v2h-2zM66 1h3v2h-3zM22 0h1v1h-1zM28 0h1v1h-1zM60 0h1v1h-1zM65 0h1v1h-1zM71 0h1v1h-1z"/>
<path fill="#d35171" d="M70 45h1v2h-1zM98 45h1v2h-1zM66 43h1v2h-1zM16 39h2v2h-2zM29 39h1v2h-1zM32 39h1v2h-1zM48 39h1v2h-1zM50 39h1v2h-1zM53 39h1v2h-1zM57 39h1v2h-1zM81 39h1v2h-1zM87 39h2v2h-2zM92 39h1v2h-1zM94 39h1v2h-1zM0 37h1v2h-1zM31 37h1v2h-1zM33 37h1v2h-1zM44 37h1v2h-1zM49 37h3v2h-3zM63 37h1v2h-1zM76 37h1v2h-1zM91 37h1v2h-1zM0 35h1v2h-1zM6 35h1v2h-1zM14 35h1v2h-1zM34 35h1v2h-1zM50 35h1v2h-1zM81 35h1v2h-1zM89 35h1v2h-1zM92 35h1v2h-1zM1 33h1v2h-1zM3 33h2v2h-2zM57 33h1v2h-1zM63 33h1v2h-1zM75 33h1v2h-1zM79 33h1v2h-1zM87 33h2v2h-2zM94 33h1v2h-1zM16 31h1v2h-1zM23 31h1v2h-1zM33 31h1v2h-1zM35 31h1v2h-1zM44 31h1v2h-1zM48 31h2v2h-2zM55 31h2v2h-2zM62 31h1v2h-1zM30 29h1v2h-1zM33 29h2v2h-2zM42 29h1v2h-1zM44 29h1v2h-1zM54 29h1v2h-1zM63 29h1v2h-1zM89 29h1v2h-1zM0 27h1v2h-1zM16 27h1v2h-1zM35 27h1v2h-1zM47 27h1v2h-1zM51 27h1v2h-1zM55 27h2v2h-2zM90 27h1v2h-1zM92 27h1v2h-1zM94 27h1v2h-1zM0 25h1v2h-1zM4 25h1v2h-1zM17 25h1v2h-1zM27 25h1v2h-1zM29 25h1v2h-1zM52 25h2v2h-2zM23 23h1v2h-1zM29 23h1v2h-1zM35 23h1v2h-1zM52 23h1v2h-1zM73 23h1v2h-1zM76 23h1v2h-1zM80 23h1v2h-1zM94 23h1v2h-1zM13 21h1v2h-1zM28 21h1v2h-1zM33 21h1v2h-1zM42 21h1v2h-1zM47 21h1v2h-1zM52 21h1v2h-1zM61 21h1v2h-1zM93 21h1v2h-1zM95 21h1v2h-1zM7 19h1v2h-1zM18 19h1v2h-1zM11 17h1v2h-1zM27 17h1v2h-1zM47 17h1v2h-1zM60 17h1v2h-1zM69 17h1v2h-1zM20 15h1v2h-1zM38 15h1v2h-1zM65 15h1v2h-1zM69 15h1v2h-1zM28 13h1v2h-1zM41 13h1v2h-1zM19 11h1v2h-1zM65 11h1v2h-1zM10 9h1v2h-1zM21 9h1v2h-1zM46 7h1v2h-1zM66 7h1v2h-1zM96 7h1v2h-1zM41 5h1v2h-1zM67 5h1v2h-1zM40 3h1v2h-1zM46 3h1v2h-1zM20 1h2v2h-2zM96 1h1v2h-1zM18 0h1v1h-1zM20 0h1v1h-1zM40 0h2v1h-2z"/>
<path fill="#d7566c" d="M37 47h1v1h-1zM97 47h2v1h-2zM11 43h1v2h-1zM95 43h2v2h-2zM98 43h1v2h-1zM8 41h1v2h-1zM11 41h1v2h-1zM39 41h1v2h-1zM69 41h1v2h-1zM63 39h1v2h-1zM74 39h1v2h-1zM90 39h1v2h-1zM1 37h1v2h-1zM30 37h1v2h-1zM42 37h1v2h-1zM52 37h1v2h-1zM55 37h1v2h-1zM79 37h1v2h-1zM93 37h2v2h-2zM16 35h2v2h-2zM23 35h1v2h-1zM29 35h1v2h-1zM32 35h1v2h-1zM43 35h1v2h-1zM52 35h1v2h-1zM55 35h2v2h-2zM63 35h1v2h-1zM82 35h1v2h-1zM91 35h1v2h-1zM14 33h1v2h-1zM23 33h1v2h-1zM29 33h2v2h-2zM33 33h1v2h-1zM52 33h1v2h-1zM55 33h1v2h-1zM84 33h1v2h-1zM2 31h1v2h-1zM4 31h1v2h-1zM29 31h1v2h-1zM52 31h1v2h-1zM54 31h1v2h-1zM85 31h1v2h-1zM88 31h2v2h-2zM91 31h1v2h-1zM1 29h1v2h-1zM14 29h2v2h-2zM24 29h1v2h-1zM29 29h1v2h-1zM32 29h1v2h-1zM52 29h1v2h-1zM55 29h1v2h-1zM57 29h1v2h-1zM72 29h1v2h-1zM28 27h1v2h-1zM36 27h1v2h-1zM43 27h2v2h-2zM52 27h2v2h-2zM72 27h1v2h-1zM6 25h1v2h-1zM36 25h1v2h-1zM49 25h2v2h-2zM91 25h1v2h-1zM1 23h1v2h-1zM3 23h2v2h-2zM30 23h1v2h-1zM33 23h2v2h-2zM43 23h1v2h-1zM49 23h1v2h-1zM51 23h1v2h-1zM62 23h1v2h-1zM78 23h1v2h-1zM91 23h1v2h-1zM7 21h1v2h-1zM12 21h1v2h-1zM18 21h1v2h-1zM27 21h1v2h-1zM59 21h1v2h-1zM21 19h1v2h-1zM27 19h1v2h-1zM37 19h1v2h-1zM44 19h1v2h-1zM47 19h1v2h-1zM59 19h2v2h-2zM69 19h1v2h-1zM96 19h1v2h-1zM9 17h1v2h-1zM18 17h1v2h-1zM21 17h1v2h-1zM45 17h1v2h-1zM65 17h1v2h-1zM11 15h1v2h-1zM41 15h1v2h-1zM19 13h1v2h-1zM40 13h1v2h-1zM58 13h1v2h-1zM10 11h1v2h-1zM27 11h1v2h-1zM41 11h1v2h-1zM45 11h1v2h-1zM18 9h1v2h-1zM97 9h1v2h-1zM19 7h2v2h-2zM10 5h1v2h-1zM39 5h2v2h-2zM10 3h1v2h-1zM67 3h1v2h-1zM19 0h1v1h-1zM45 0h2v1h-2z"/>
<path fill="#dc5d67" d="M70 47h1v1h-1zM37 43h1v2h-1zM5 39h1v2h-1zM51 39h1v2h-1zM89 39h1v2h-1zM2 37h1v2h-1zM14 37h1v2h-1zM43 37h1v2h-1zM56 37h1v2h-1zM89 37h2v2h-2zM30 35h1v2h-1zM51 35h1v2h-1zM57 35h1v2h-1zM62 35h1v2h-1zM0 33h1v2h-1zM13 33h1v2h-1zM49 33h1v2h-1zM51 33h1v2h-1zM72 33h1v2h-1zM89 33h2v2h-2zM47 31h1v2h-1zM51 31h1v2h-1zM53 31h1v2h-1zM92 31h1v2h-1zM0 29h1v2h-1zM28 29h1v2h-1zM45 29h1v2h-1zM48 29h1v2h-1zM50 29h1v2h-1zM84 29h1v2h-1zM3 27h1v2h-1zM17 27h1v2h-1zM32 27h1v2h-1zM48 27h1v2h-1zM50 27h1v2h-1zM69 27h1v2h-1zM1 25h1v2h-1zM13 25h1v2h-1zM28 25h1v2h-1zM32 25h1v2h-1zM48 25h1v2h-1zM55 25h1v2h-1zM57 25h1v2h-1zM64 25h1v2h-1zM72 25h1v2h-1zM95 25h1v2h-1zM0 23h1v2h-1zM5 23h1v2h-1zM16 23h2v2h-2zM36 23h1v2h-1zM44 23h1v2h-1zM50 23h1v2h-1zM54 23h1v2h-1zM57 23h1v2h-1zM81 23h1v2h-1zM8 21h1v2h-1zM35 21h1v2h-1zM45 21h1v2h-1zM65 21h1v2h-1zM70 21h2v2h-2zM9 19h1v2h-1zM33 19h1v2h-1zM38 19h1v2h-1zM41 17h1v2h-1zM9 15h1v2h-1zM45 15h3v2h-3zM68 15h1v2h-1zM9 13h1v2h-1zM18 13h1v2h-1zM46 13h1v2h-1zM39 11h1v2h-1zM39 9h2v2h-2zM66 9h2v2h-2zM10 7h1v2h-1zM21 7h1v2h-1zM39 7h1v2h-1zM9 5h1v2h-1zM98 5h1v2h-1zM41 3h1v2h-1zM98 3h1v2h-1zM10 1h2v2h-2zM39 1h2v2h-2zM10 0h2v1h-2zM21 0h1v1h-1zM96 0h1v1h-1z"/>
<path fill="#e06363" d="M96 45h2v2h-2zM10 41h1v2h-1zM12 41h1v2h-1zM40 41h1v2h-1zM2 39h2v2h-2zM43 39h1v2h-1zM23 37h1v2h-1zM54 37h1v2h-1zM22 35h1v2h-1zM27 35h1v2h-1zM49 35h1v2h-1zM53 35h2v2h-2zM90 35h1v2h-1zM93 35h1v2h-1zM31 33h1v2h-1zM43 33h1v2h-1zM53 33h1v2h-1zM50 31h1v2h-1zM63 31h1v2h-1zM87 31h1v2h-1zM90 31h1v2h-1zM95 31h1v2h-1zM17 29h1v2h-1zM43 29h1v2h-1zM47 29h1v2h-1zM58 29h1v2h-1zM90 29h1v2h-1zM8 27h1v2h-1zM22 27h1v2h-1zM61 27h1v2h-1zM63 27h1v2h-1zM8 25h1v2h-1zM18 25h1v2h-1zM47 25h1v2h-1zM61 25h1v2h-1zM24 23h2v2h-2zM42 23h1v2h-1zM53 23h1v2h-1zM64 23h1v2h-1zM92 23h1v2h-1zM20 21h1v2h-1zM11 19h1v2h-1zM45 19h1v2h-1zM10 17h1v2h-1zM46 17h1v2h-1zM68 17h1v2h-1zM66 15h1v2h-1zM10 13h1v2h-1zM38 13h1v2h-1zM9 11h1v2h-1zM66 11h2v2h-2zM98 11h1v2h-1zM97 7h2v2h-2zM66 5h1v2h-1zM39 3h1v2h-1zM66 3h1v2h-1zM41 1h1v2h-1zM65 1h1v2h-1zM9 0h1v1h-1zM66 0h1v1h-1zM68 0h1v1h-1z"/>
<path fill="#e4695e" d="M37 45h1v2h-1zM97 43h1v2h-1zM7 41h1v2h-1zM38 41h1v2h-1zM67 41h1v2h-1zM28 39h1v2h-1zM54 39h2v2h-2zM76 39h1v2h-1zM48 37h1v2h-1zM1 35h1v2h-1zM4 35h1v2h-1zM31 35h1v2h-1zM27 31h2v2h-2zM61 31h1v2h-1zM22 29h1v2h-1zM49 29h1v2h-1zM11 27h1v2h-1zM41 27h1v2h-1zM95 27h1v2h-1zM41 25h1v2h-1zM45 25h1v2h-1zM63 25h1v2h-1zM65 25h1v2h-1zM28 23h1v2h-1zM58 23h1v2h-1zM90 23h1v2h-1zM21 21h1v2h-1zM58 21h1v2h-1zM60 21h1v2h-1zM96 21h1v2h-1zM19 19h2v2h-2zM39 19h1v2h-1zM41 19h1v2h-1zM40 15h1v2h-1zM39 13h1v2h-1zM67 13h1v2h-1zM97 11h1v2h-1zM97 5h1v2h-1zM11 3h1v2h-1zM97 1h1v2h-1zM98 0h1v1h-1z"/>
<path fill="#e87059" d="M37 41h1v2h-1zM66 41h1v2h-1zM68 41h1v2h-1zM62 39h1v2h-1zM57 37h1v2h-1zM62 37h1v2h-1zM18 35h1v2h-1zM48 35h1v2h-1zM22 33h1v2h-1zM54 33h1v2h-1zM62 33h1v2h-1zM71 33h1v2h-1zM95 33h1v2h-1zM8 31h1v2h-1zM13 31h1v2h-1zM22 31h1v2h-1zM27 29h1v2h-1zM41 29h1v2h-1zM64 29h2v2h-2zM95 29h1v2h-1zM13 27h1v2h-1zM27 27h1v2h-1zM37 27h1v2h-1zM45 27h1v2h-1zM58 27h1v2h-1zM22 25h1v2h-1zM37 25h1v2h-1zM46 25h1v2h-1zM59 25h1v2h-1zM32 23h1v2h-1zM41 23h1v2h-1zM47 23h1v2h-1zM59 23h1v2h-1zM61 23h1v2h-1zM72 23h1v2h-1zM89 23h1v2h-1zM95 23h1v2h-1zM39 21h1v2h-1zM68 21h1v2h-1zM10 19h1v2h-1zM46 19h1v2h-1zM68 19h1v2h-1zM38 17h1v2h-1zM67 17h1v2h-1zM98 17h1v2h-1zM11 13h1v2h-1zM11 11h1v2h-1zM40 11h1v2h-1zM98 9h1v2h-1zM97 3h1v2h-1zM98 1h1v2h-1zM39 0h1v1h-1z"/>
<path fill="#eb7655" d="M95 41h3v2h-3zM27 39h1v2h-1zM72 39h1v2h-1zM72 37h1v2h-1zM27 33h2v2h-2zM47 33h1v2h-1zM64 33h2v2h-2zM7 31h1v2h-1zM19 31h2v2h-2zM58 31h1v2h-1zM64 31h1v2h-1zM70 31h1v2h-1zM72 31h1v2h-1zM96 31h1v2h-1zM8 29h1v2h-1zM18 29h1v2h-1zM38 27h1v2h-1zM60 27h1v2h-1zM65 27h1v2h-1zM68 27h1v2h-1zM70 27h2v2h-2zM7 25h1v2h-1zM69 25h3v2h-3zM8 23h1v2h-1zM12 23h2v2h-2zM63 23h1v2h-1zM70 23h1v2h-1zM38 21h1v2h-1zM67 19h1v2h-1zM66 17h1v2h-1zM39 15h1v2h-1zM98 15h1v2h-1zM66 13h1v2h-1zM68 13h1v2h-1zM11 9h1v2h-1zM11 7h1v2h-1zM40 7h1v2h-1zM67 7h1v2h-1zM11 5h1v2h-1zM67 0h1v1h-1z"/>
<path fill="#ef7e50" d="M70 41h1v2h-1zM98 41h1v2h-1zM33 39h1v2h-1zM21 37h1v2h-1zM27 37h2v2h-2zM47 35h1v2h-1zM20 33h1v2h-1zM12 31h1v2h-1zM18 31h1v2h-1zM21 31h1v2h-1zM7 29h1v2h-1zM9 29h1v2h-1zM13 29h1v2h-1zM59 29h2v2h-2zM68 29h1v2h-1zM70 29h1v2h-1zM9 27h1v2h-1zM12 27h1v2h-1zM19 27h2v2h-2zM46 27h1v2h-1zM64 27h1v2h-1zM9 25h1v2h-1zM19 25h1v2h-1zM58 25h1v2h-1zM60 25h1v2h-1zM68 25h1v2h-1zM11 23h1v2h-1zM60 23h1v2h-1zM65 23h1v2h-1zM9 21h1v2h-1zM41 21h1v2h-1zM40 19h1v2h-1zM39 17h1v2h-1zM67 15h1v2h-1zM98 13h1v2h-1zM97 0h1v1h-1z"/>
<path fill="#f2844b" d="M20 39h1v2h-1zM47 39h1v2h-1zM58 39h1v2h-1zM64 39h1v2h-1zM20 37h1v2h-1zM47 37h1v2h-1zM64 37h2v2h-2zM95 37h1v2h-1zM13 35h1v2h-1zM65 35h1v2h-1zM7 33h1v2h-1zM12 33h1v2h-1zM21 33h1v2h-1zM61 33h1v2h-1zM59 31h1v2h-1zM65 31h1v2h-1zM68 31h2v2h-2zM71 31h1v2h-1zM10 29h1v2h-1zM37 29h1v2h-1zM71 29h1v2h-1zM7 27h1v2h-1zM21 27h1v2h-1zM59 27h1v2h-1zM10 25h1v2h-1zM20 25h1v2h-1zM7 23h1v2h-1zM27 23h1v2h-1zM45 23h1v2h-1zM69 23h1v2h-1zM19 21h1v2h-1zM46 21h1v2h-1zM69 21h1v2h-1zM66 19h1v2h-1zM97 17h1v2h-1zM97 15h1v2h-1z"/>
<path fill="#f58c46" d="M21 39h2v2h-2zM59 39h1v2h-1zM95 39h1v2h-1zM13 37h1v2h-1zM59 37h1v2h-1zM20 35h2v2h-2zM28 35h1v2h-1zM58 35h1v2h-1zM64 35h1v2h-1zM70 35h3v2h-3zM95 35h1v2h-1zM10 33h1v2h-1zM18 33h1v2h-1zM45 33h1v2h-1zM58 33h1v2h-1zM41 31h1v2h-1zM60 31h1v2h-1zM11 29h2v2h-2zM19 29h1v2h-1zM46 29h1v2h-1zM61 29h1v2h-1zM69 29h1v2h-1zM18 27h1v2h-1zM21 25h1v2h-1zM39 25h1v2h-1zM18 23h1v2h-1zM20 23h1v2h-1zM22 23h1v2h-1zM38 23h1v2h-1zM68 23h1v2h-1zM71 23h1v2h-1zM10 21h2v2h-2zM98 19h1v2h-1zM97 13h1v2h-1z"/>
<path fill="#f79342" d="M7 39h1v2h-1zM13 39h1v2h-1zM18 39h1v2h-1zM60 39h2v2h-2zM65 39h1v2h-1zM7 37h1v2h-1zM22 37h1v2h-1zM58 37h1v2h-1zM8 35h1v2h-1zM12 35h1v2h-1zM19 35h1v2h-1zM59 35h2v2h-2zM41 33h1v2h-1zM60 33h1v2h-1zM70 33h1v2h-1zM96 33h1v2h-1zM20 29h1v2h-1zM38 29h1v2h-1zM40 29h1v2h-1zM10 27h1v2h-1zM11 25h2v2h-2zM67 25h1v2h-1zM9 23h1v2h-1zM19 23h1v2h-1zM46 23h1v2h-1zM97 19h1v2h-1zM40 17h1v2h-1z"/>
<path fill="#fa9b3d" d="M69 39h1v2h-1zM8 37h1v2h-1zM18 37h2v2h-2zM61 37h1v2h-1zM71 37h1v2h-1zM37 35h1v2h-1zM45 35h1v2h-1zM61 35h1v2h-1zM8 33h1v2h-1zM19 33h1v2h-1zM37 33h2v2h-2zM69 33h1v2h-1zM9 31h2v2h-2zM37 31h1v2h-1zM39 31h1v2h-1zM45 31h1v2h-1zM66 31h1v2h-1zM67 27h1v2h-1zM96 27h1v2h-1zM38 25h1v2h-1zM96 25h1v2h-1zM21 23h1v2h-1zM37 23h1v2h-1zM40 23h1v2h-1zM67 21h1v2h-1z"/>
<path fill="#fba238" d="M12 39h1v2h-1zM19 39h1v2h-1zM96 39h1v2h-1zM37 37h1v2h-1zM60 37h1v2h-1zM69 37h1v2h-1zM7 35h1v2h-1zM69 35h1v2h-1zM59 33h1v2h-1zM46 31h1v2h-1zM39 29h1v2h-1zM67 29h1v2h-1zM96 29h1v2h-1zM39 27h2v2h-2zM66 27h1v2h-1zM40 25h1v2h-1zM66 25h1v2h-1zM67 23h1v2h-1z"/>
<path fill="#fca934" d="M8 39h1v2h-1zM70 39h2v2h-2zM12 37h1v2h-1zM41 35h1v2h-1zM68 33h1v2h-1zM67 31h1v2h-1zM98 31h1v2h-1zM21 29h1v2h-1zM40 21h1v2h-1zM97 21h1v2h-1z"/>
<path fill="#fdb22f" d="M37 39h1v2h-1zM68 37h1v2h-1zM70 37h1v2h-1zM39 33h1v2h-1zM11 31h1v2h-1zM97 31h1v2h-1zM98 27h1v2h-1zM98 25h1v2h-1zM10 23h1v2h-1zM39 23h1v2h-1zM96 23h1v2h-1zM98 21h1v2h-1z"/>
<path fill="#feba2c" d="M68 39h1v2h-1zM96 35h1v2h-1zM11 33h1v2h-1zM40 33h1v2h-1zM38 31h1v2h-1zM40 31h1v2h-1zM97 29h1v2h-1zM97 27h1v2h-1zM66 21h1v2h-1z"/>
<path fill="#fdc328" d="M10 39h1v2h-1zM45 37h1v2h-1zM96 37h1v2h-1zM9 35h1v2h-1zM11 35h1v2h-1zM38 35h1v2h-1zM40 35h1v2h-1zM68 35h1v2h-1zM9 33h1v2h-1zM46 33h1v2h-1zM66 33h2v2h-2zM66 29h1v2h-1zM97 25h1v2h-1z"/>
<path fill="#fdcb26" d="M9 39h1v2h-1zM11 39h1v2h-1zM38 39h1v2h-1zM41 39h1v2h-1zM10 37h1v2h-1zM38 37h1v2h-1zM41 37h1v2h-1zM67 37h1v2h-1zM39 35h1v2h-1zM66 35h2v2h-2zM97 33h1v2h-1zM98 29h1v2h-1zM98 23h1v2h-1z"/>
<path fill="#fbd524" d="M66 23h1v2h-1zM97 23h1v2h-1z"/>
<path fill="#f9dd25" d="M39 39h1v2h-1zM46 39h1v2h-1zM66 37h1v2h-1zM46 35h1v2h-1z"/>
<path fill="#f6e826" d="M45 39h1v2h-1zM67 39h1v2h-1zM9 37h1v2h-1zM46 37h1v2h-1zM97 37h2v2h-2zM10 35h1v2h-1zM98 33h1v2h-1z"/>
<path fill="#f3f027" d="M66 39h1v2h-1zM98 39h1v2h-1zM11 37h1v2h-1zM39 37h1v2h-1zM98 35h1v2h-1z"/>
<path fill="#f0f921" d="M40 39h1v2h-1zM97 39h1v2h-1zM40 37h1v2h-1zM97 35h1v2h-1z"/>
</g>
<line x1="82.84" y1="619.20" x2="82.84" y2="844.50" stroke="#808080" stroke-opacity="0.6" stroke-width="1.25"/>
<text x="0.00" y="0.00" font-size="17.50" textLength="65.57" lengthAdjust="spacingAndGlyphs" fill="#444" transform="translate(88.04 617.50) rotate(-90)">Pinched</text>
<line x1="110.81" y1="619.20" x2="110.81" y2="844.50" stroke="#808080" stroke-opacity="0.6" stroke-width="1.25"/>
<text x="0.00" y="0.00" font-size="17.50" textLength="75.85" lengthAdjust="spacingAndGlyphs" fill="#444" transform="translate(116.01 617.50) rotate(-90)">Released</text>
<line x1="133.59" y1="619.20" x2="133.59" y2="844.50" stroke="#808080" stroke-opacity="0.6" stroke-width="1.25"/>
<text x="0.00" y="0.00" font-size="17.50" textLength="23.75" lengthAdjust="spacingAndGlyphs" fill="#444" transform="translate(138.79 617.50) rotate(-90)">Hit</text>
<line x1="208.82" y1="619.20" x2="208.82" y2="844.50" stroke="#808080" stroke-opacity="0.6" stroke-width="1.25"/>
<text x="0.00" y="0.00" font-size="17.50" textLength="65.57" lengthAdjust="spacingAndGlyphs" fill="#444" transform="translate(214.02 617.50) rotate(-90)">Pinched</text>
<line x1="238.84" y1="619.20" x2="238.84" y2="844.50" stroke="#808080" stroke-opacity="0.6" stroke-width="1.25"/>
<text x="0.00" y="0.00" font-size="17.50" textLength="75.85" lengthAdjust="spacingAndGlyphs" fill="#444" transform="translate(244.04 617.50) rotate(-90)">Released</text>
<line x1="258.29" y1="619.20" x2="258.29" y2="844.50" stroke="#808080" stroke-opacity="0.6" stroke-width="1.25"/>
<text x="0.00" y="0.00" font-size="17.50" textLength="23.75" lengthAdjust="spacingAndGlyphs" fill="#444" transform="translate(263.49 617.50) rotate(-90)">Hit</text>
<line x1="331.42" y1="619.20" x2="331.42" y2="844.50" stroke="#808080" stroke-opacity="0.6" stroke-width="1.25"/>
<text x="0.00" y="0.00" font-size="17.50" textLength="65.57" lengthAdjust="spacingAndGlyphs" fill="#444" transform="translate(336.62 617.50) rotate(-90)">Pinched</text>
<line x1="366.10" y1="619.20" x2="366.10" y2="844.50" stroke="#808080" stroke-opacity="0.6" stroke-width="1.25"/>
<text x="0.00" y="0.00" font-size="17.50" textLength="75.85" lengthAdjust="spacingAndGlyphs" fill="#444" transform="translate(371.30 617.50) rotate(-90)">Released</text>
<line x1="388.93" y1="619.20" x2="388.93" y2="844.50" stroke="#808080" stroke-opacity="0.6" stroke-width="1.25"/>
<text x="0.00" y="0.00" font-size="17.50" textLength="23.75" lengthAdjust="spacingAndGlyphs" fill="#444" transform="translate(394.13 617.50) rotate(-90)">Hit</text>
<line x1="466.59" y1="619.20" x2="466.59" y2="844.50" stroke="#808080" stroke-opacity="0.6" stroke-width="1.25"/>
<text x="0.00" y="0.00" font-size="17.50" textLength="65.57" lengthAdjust="spacingAndGlyphs" fill="#444" transform="translate(471.79 617.50) rotate(-90)">Pinched</text>
<line x1="496.92" y1="619.20" x2="496.92" y2="844.50" stroke="#808080" stroke-opacity="0.6" stroke-width="1.25"/>
<text x="0.00" y="0.00" font-size="17.50" textLength="75.85" lengthAdjust="spacingAndGlyphs" fill="#444" transform="translate(502.12 617.50) rotate(-90)">Released</text>
<path d="M66.54 619.20V844.50H510.60" fill="none" stroke="#000" stroke-width="1.11" stroke-linecap="square"/>
<rect x="515.40" y="619.20" width="11.30" height="225.30" fill="url(#pl)"/>
<rect x="515.40" y="619.20" width="11.30" height="225.30" fill="none" stroke="#000" stroke-width="1.11"/>
<path d="M61.68 844.50h4.86M61.68 806.95h4.86M61.68 769.40h4.86M61.68 731.85h4.86M61.68 694.30h4.86M61.68 656.75h4.86M61.68 619.20h4.86M66.54 844.50v4.86M155.35 844.50v4.86M244.16 844.50v4.86M332.98 844.50v4.86M421.79 844.50v4.86M510.60 844.50v4.86M526.70 815.76h4.86M526.70 784.01h4.86M526.70 752.25h4.86M526.70 720.50h4.86M526.70 688.74h4.86M526.70 656.99h4.86M526.70 625.23h4.86" stroke="#000" stroke-width="1.11"/>
<text x="65.84" y="502.90" font-size="20.42" textLength="111.08" lengthAdjust="spacingAndGlyphs" fill="#000">Condition 2</text>
<text x="65.84" y="525.90" font-size="16.04" textLength="190.80" lengthAdjust="spacingAndGlyphs" fill="#000">D = 2.5m, G = 9.81 m²/s</text>
<g transform="translate(667.890 619.200) scale(4.43545 4.69375)" shape-rendering="crispEdges">
<path fill="#1b068d" d="M56 47h1v1h-1z"/>
<path fill="#310597" d="M58 47h1v1h-1zM89 47h1v1h-1zM85 45h1v2h-1z"/>
<path fill="#3a049a" d="M80 47h1v1h-1zM90 47h1v1h-1zM36 45h1v2h-1zM56 45h3v2h-3zM5 43h1v2h-1zM57 43h1v2h-1z"/>
<path fill="#44039e" d="M6 47h1v1h-1zM88 47h1v1h-1zM60 45h1v2h-1zM89 45h1v2h-1z"/>
<path fill="#4c02a1" d="M5 47h1v1h-1zM27 47h1v1h-1zM57 47h1v1h-1zM59 47h1v1h-1zM58 43h1v2h-1zM90 43h1v2h-1z"/>
<path fill="#5601a4" d="M0 47h1v1h-1zM4 47h1v1h-1zM16 47h1v1h-1zM30 47h1v1h-1zM36 47h1v1h-1zM53 47h1v1h-1zM60 47h1v1h-1zM78 47h1v1h-1zM93 47h1v1h-1zM5 45h1v2h-1zM59 45h1v2h-1zM80 45h1v2h-1zM90 45h1v2h-1zM95 45h1v2h-1zM26 43h1v2h-1zM56 43h1v2h-1zM59 43h1v2h-1zM88 43h2v2h-2z"/>
<path fill="#5e01a6" d="M14 47h1v1h-1zM26 47h1v1h-1zM32 47h1v1h-1zM46 47h1v1h-1zM95 47h1v1h-1zM0 45h1v2h-1zM6 45h1v2h-1zM30 45h1v2h-1zM38 45h1v2h-1zM55 45h1v2h-1zM67 45h1v2h-1zM82 45h1v2h-1zM88 45h1v2h-1zM93 45h1v2h-1zM27 43h1v2h-1zM85 43h1v2h-1z"/>
<path fill="#6700a8" d="M3 47h1v1h-1zM21 47h1v1h-1zM25 47h1v1h-1zM29 47h1v1h-1zM37 47h1v1h-1zM55 47h1v1h-1zM79 47h1v1h-1zM82 47h1v1h-1zM86 47h1v1h-1zM17 45h1v2h-1zM26 45h1v2h-1zM37 45h1v2h-1zM46 45h2v2h-2zM6 43h1v2h-1zM30 43h1v2h-1zM33 43h1v2h-1zM36 43h1v2h-1zM55 43h1v2h-1zM80 43h1v2h-1zM58 41h1v2h-1zM60 41h1v2h-1zM90 41h1v2h-1zM80 9h1v2h-1zM58 7h1v2h-1z"/>
<path fill="#6f00a8" d="M8 47h1v1h-1zM17 47h1v1h-1zM35 47h1v1h-1zM47 47h1v1h-1zM85 47h1v1h-1zM3 45h1v2h-1zM15 45h1v2h-1zM27 45h1v2h-1zM35 45h1v2h-1zM53 45h1v2h-1zM61 45h1v2h-1zM83 45h1v2h-1zM0 43h1v2h-1zM7 43h1v2h-1zM16 43h1v2h-1zM34 43h1v2h-1zM46 43h1v2h-1zM60 43h1v2h-1zM82 43h2v2h-2zM80 7h1v2h-1zM60 5h1v2h-1zM55 1h1v2h-1z"/>
<path fill="#7701a8" d="M19 47h1v1h-1zM31 47h1v1h-1zM34 47h1v1h-1zM38 47h1v1h-1zM44 47h1v1h-1zM51 47h2v1h-2zM66 47h1v1h-1zM68 47h1v1h-1zM84 47h1v1h-1zM91 47h1v1h-1zM14 45h1v2h-1zM31 45h1v2h-1zM33 45h1v2h-1zM79 45h1v2h-1zM91 45h1v2h-1zM3 43h1v2h-1zM14 43h1v2h-1zM35 43h1v2h-1zM37 43h1v2h-1zM53 43h1v2h-1zM93 43h1v2h-1zM5 41h1v2h-1zM36 41h1v2h-1zM56 41h2v2h-2zM59 41h1v2h-1zM82 41h1v2h-1zM88 41h2v2h-2zM36 9h1v2h-1zM93 7h1v2h-1zM55 5h1v2h-1zM57 5h2v2h-2zM44 3h1v2h-1zM57 3h2v2h-2zM57 1h2v2h-2z"/>
<path fill="#8004a8" d="M18 47h1v1h-1zM23 47h1v1h-1zM33 47h1v1h-1zM45 47h1v1h-1zM49 47h1v1h-1zM61 47h1v1h-1zM74 47h1v1h-1zM77 47h1v1h-1zM83 47h1v1h-1zM87 47h1v1h-1zM4 45h1v2h-1zM7 45h1v2h-1zM18 45h1v2h-1zM20 45h1v2h-1zM34 45h1v2h-1zM51 45h2v2h-2zM54 45h1v2h-1zM68 45h1v2h-1zM78 45h1v2h-1zM96 45h1v2h-1zM21 43h1v2h-1zM31 43h1v2h-1zM47 43h1v2h-1zM51 43h1v2h-1zM67 43h1v2h-1zM81 43h1v2h-1zM86 43h1v2h-1zM95 43h1v2h-1zM55 41h1v2h-1zM26 9h1v2h-1zM56 9h1v2h-1zM16 7h1v2h-1zM34 7h1v2h-1zM37 7h1v2h-1zM55 7h1v2h-1zM59 7h2v2h-2zM79 7h1v2h-1zM81 7h1v2h-1zM91 7h1v2h-1zM34 5h1v2h-1zM44 5h1v2h-1zM51 5h1v2h-1zM56 5h1v2h-1zM96 5h1v2h-1zM25 3h1v2h-1zM55 3h2v2h-2zM59 3h2v2h-2zM0 1h1v2h-1zM89 1h1v2h-1z"/>
<path fill="#8707a6" d="M7 47h1v1h-1zM22 47h1v1h-1zM54 47h1v1h-1zM63 47h3v1h-3zM81 47h1v1h-1zM92 47h1v1h-1zM96 47h1v1h-1zM2 45h1v2h-1zM16 45h1v2h-1zM22 45h2v2h-2zM32 45h1v2h-1zM44 45h2v2h-2zM48 45h2v2h-2zM62 45h1v2h-1zM64 45h1v2h-1zM81 45h1v2h-1zM84 45h1v2h-1zM94 45h1v2h-1zM2 43h1v2h-1zM8 43h1v2h-1zM17 43h1v2h-1zM32 43h1v2h-1zM61 43h2v2h-2zM79 43h1v2h-1zM91 43h1v2h-1zM3 41h1v2h-1zM6 41h1v2h-1zM30 41h1v2h-1zM53 41h1v2h-1zM73 41h1v2h-1zM78 41h1v2h-1zM80 41h1v2h-1zM85 41h1v2h-1zM55 19h1v2h-1zM59 19h1v2h-1zM55 17h1v2h-1zM59 17h1v2h-1zM52 13h1v2h-1zM56 11h1v2h-1zM14 9h1v2h-1zM16 9h1v2h-1zM57 9h2v2h-2zM90 9h1v2h-1zM97 9h1v2h-1zM26 7h1v2h-1zM36 7h1v2h-1zM38 7h1v2h-1zM73 7h1v2h-1zM96 7h1v2h-1zM16 5h1v2h-1zM91 5h1v2h-1zM93 5h1v2h-1zM5 3h1v2h-1zM36 3h1v2h-1zM61 3h1v2h-1zM80 3h1v2h-1zM96 3h1v2h-1zM37 1h1v2h-1zM60 1h1v2h-1zM66 1h1v2h-1zM80 1h1v2h-1zM91 1h1v2h-1zM93 1h1v2h-1zM96 1h1v2h-1zM80 0h1v1h-1z"/>
<path fill="#8f0da4" d="M15 47h1v1h-1zM20 47h1v1h-1zM28 47h1v1h-1zM43 47h1v1h-1zM76 47h1v1h-1zM8 45h1v2h-1zM19 45h1v2h-1zM21 45h1v2h-1zM66 45h1v2h-1zM75 45h1v2h-1zM86 45h1v2h-1zM92 45h1v2h-1zM15 43h1v2h-1zM18 43h1v2h-1zM25 43h1v2h-1zM28 43h2v2h-2zM49 43h1v2h-1zM65 43h2v2h-2zM73 43h2v2h-2zM97 43h1v2h-1zM0 41h1v2h-1zM14 41h1v2h-1zM16 41h1v2h-1zM26 41h1v2h-1zM35 41h1v2h-1zM83 41h1v2h-1zM92 41h1v2h-1zM60 21h1v2h-1zM56 19h3v2h-3zM37 17h1v2h-1zM56 17h1v2h-1zM34 15h1v2h-1zM55 15h1v2h-1zM58 15h1v2h-1zM57 13h1v2h-1zM44 11h1v2h-1zM55 11h1v2h-1zM57 11h1v2h-1zM7 9h1v2h-1zM37 9h2v2h-2zM46 9h1v2h-1zM71 9h1v2h-1zM86 9h1v2h-1zM96 9h1v2h-1zM98 9h1v2h-1zM8 7h1v2h-1zM21 7h1v2h-1zM27 7h1v2h-1zM31 7h1v2h-1zM57 7h1v2h-1zM64 7h1v2h-1zM71 7h1v2h-1zM86 7h1v2h-1zM97 7h1v2h-1zM5 5h2v2h-2zM14 5h1v2h-1zM26 5h1v2h-1zM36 5h1v2h-1zM38 5h1v2h-1zM46 5h1v2h-1zM54 5h1v2h-1zM72 5h2v2h-2zM78 5h1v2h-1zM80 5h1v2h-1zM87 5h1v2h-1zM89 5h1v2h-1zM98 5h1v2h-1zM7 3h1v2h-1zM14 3h1v2h-1zM26 3h1v2h-1zM75 3h1v2h-1zM79 3h1v2h-1zM90 3h1v2h-1zM95 3h1v2h-1zM26 1h1v2h-1zM28 1h1v2h-1zM31 1h1v2h-1zM44 1h1v2h-1zM56 1h1v2h-1zM59 1h1v2h-1zM77 1h1v2h-1zM86 1h1v2h-1zM98 1h1v2h-1zM14 0h1v1h-1zM60 0h1v1h-1zM86 0h1v1h-1z"/>
<path fill="#9613a1" d="M1 47h1v1h-1zM24 47h1v1h-1zM50 47h1v1h-1zM62 47h1v1h-1zM67 47h1v1h-1zM75 47h1v1h-1zM94 47h1v1h-1zM97 47h1v1h-1zM1 45h1v2h-1zM28 45h1v2h-1zM63 45h1v2h-1zM74 45h1v2h-1zM87 45h1v2h-1zM97 45h1v2h-1zM4 43h1v2h-1zM19 43h1v2h-1zM24 43h1v2h-1zM45 43h1v2h-1zM63 43h2v2h-2zM76 43h3v2h-3zM92 43h1v2h-1zM4 41h1v2h-1zM17 41h1v2h-1zM27 41h1v2h-1zM33 41h1v2h-1zM37 41h1v2h-1zM46 41h1v2h-1zM81 41h1v2h-1zM91 41h1v2h-1zM14 17h1v2h-1zM5 15h1v2h-1zM56 15h1v2h-1zM80 15h1v2h-1zM34 13h1v2h-1zM55 13h2v2h-2zM58 13h1v2h-1zM58 11h3v2h-3zM79 11h1v2h-1zM97 11h1v2h-1zM24 9h1v2h-1zM44 9h2v2h-2zM55 9h1v2h-1zM59 9h2v2h-2zM79 9h1v2h-1zM85 9h1v2h-1zM87 9h1v2h-1zM89 9h1v2h-1zM23 7h1v2h-1zM25 7h1v2h-1zM29 7h1v2h-1zM45 7h1v2h-1zM54 7h1v2h-1zM63 7h1v2h-1zM65 7h1v2h-1zM78 7h1v2h-1zM89 7h2v2h-2zM98 7h1v2h-1zM3 5h1v2h-1zM8 5h1v2h-1zM28 5h1v2h-1zM30 5h1v2h-1zM35 5h1v2h-1zM59 5h1v2h-1zM66 5h1v2h-1zM79 5h1v2h-1zM29 3h1v2h-1zM52 3h1v2h-1zM67 3h1v2h-1zM73 3h1v2h-1zM84 3h3v2h-3zM91 3h1v2h-1zM93 3h1v2h-1zM97 3h2v2h-2zM5 1h1v2h-1zM14 1h1v2h-1zM16 1h1v2h-1zM36 1h1v2h-1zM45 1h2v2h-2zM52 1h1v2h-1zM54 1h1v2h-1zM67 1h1v2h-1zM73 1h1v2h-1zM85 1h1v2h-1zM87 1h1v2h-1zM90 1h1v2h-1zM16 0h1v1h-1zM56 0h1v1h-1z"/>
<path fill="#9e199d" d="M2 47h1v1h-1zM42 47h1v1h-1zM48 47h1v1h-1zM73 47h1v1h-1zM98 47h1v1h-1zM29 45h1v2h-1zM41 45h1v2h-1zM73 45h1v2h-1zM76 45h2v2h-2zM1 43h1v2h-1zM38 43h1v2h-1zM41 43h1v2h-1zM43 43h2v2h-2zM48 43h1v2h-1zM50 43h1v2h-1zM52 43h1v2h-1zM75 43h1v2h-1zM87 43h1v2h-1zM96 43h1v2h-1zM98 43h1v2h-1zM68 41h1v2h-1zM93 41h1v2h-1zM96 41h1v2h-1zM57 21h1v2h-1zM59 21h1v2h-1zM14 19h1v2h-1zM44 17h1v2h-1zM52 17h1v2h-1zM57 17h2v2h-2zM90 17h1v2h-1zM59 15h2v2h-2zM35 13h1v2h-1zM60 13h1v2h-1zM26 11h1v2h-1zM37 11h1v2h-1zM63 11h1v2h-1zM89 11h2v2h-2zM0 9h1v2h-1zM5 9h1v2h-1zM8 9h1v2h-1zM27 9h2v2h-2zM34 9h1v2h-1zM53 9h2v2h-2zM66 9h1v2h-1zM78 9h1v2h-1zM81 9h1v2h-1zM7 7h1v2h-1zM24 7h1v2h-1zM44 7h1v2h-1zM46 7h1v2h-1zM51 7h1v2h-1zM56 7h1v2h-1zM76 7h2v2h-2zM82 7h1v2h-1zM87 7h1v2h-1zM92 7h1v2h-1zM95 7h1v2h-1zM27 5h1v2h-1zM37 5h1v2h-1zM52 5h2v2h-2zM82 5h1v2h-1zM90 5h1v2h-1zM94 5h1v2h-1zM3 3h1v2h-1zM8 3h1v2h-1zM15 3h2v2h-2zM32 3h1v2h-1zM38 3h1v2h-1zM63 3h2v2h-2zM71 3h1v2h-1zM81 3h1v2h-1zM83 3h1v2h-1zM88 3h2v2h-2zM94 3h1v2h-1zM6 1h1v2h-1zM8 1h1v2h-1zM15 1h1v2h-1zM23 1h1v2h-1zM25 1h1v2h-1zM29 1h1v2h-1zM65 1h1v2h-1zM82 1h1v2h-1zM94 1h1v2h-1zM97 1h1v2h-1zM5 0h1v1h-1zM7 0h1v1h-1zM34 0h1v1h-1zM55 0h1v1h-1zM72 0h1v1h-1zM84 0h1v1h-1zM88 0h2v1h-2z"/>
<path fill="#a51f99" d="M69 47h1v1h-1zM71 47h1v1h-1zM24 45h2v2h-2zM43 45h1v2h-1zM50 45h1v2h-1zM65 45h1v2h-1zM71 45h1v2h-1zM22 43h1v2h-1zM71 43h1v2h-1zM84 43h1v2h-1zM1 41h1v2h-1zM18 41h2v2h-2zM22 41h1v2h-1zM32 41h1v2h-1zM86 41h1v2h-1zM95 41h1v2h-1zM57 25h2v2h-2zM55 21h2v2h-2zM81 21h1v2h-1zM16 19h1v2h-1zM34 19h1v2h-1zM45 19h1v2h-1zM52 19h1v2h-1zM34 17h1v2h-1zM81 17h1v2h-1zM89 17h1v2h-1zM93 17h1v2h-1zM97 17h1v2h-1zM33 15h1v2h-1zM36 15h1v2h-1zM54 15h1v2h-1zM57 15h1v2h-1zM79 15h1v2h-1zM90 15h1v2h-1zM92 15h1v2h-1zM14 13h1v2h-1zM36 13h1v2h-1zM44 13h1v2h-1zM59 13h1v2h-1zM80 13h1v2h-1zM5 11h1v2h-1zM14 11h1v2h-1zM16 11h1v2h-1zM24 11h1v2h-1zM34 11h1v2h-1zM36 11h1v2h-1zM52 11h1v2h-1zM22 9h1v2h-1zM29 9h2v2h-2zM35 9h1v2h-1zM61 9h1v2h-1zM65 9h1v2h-1zM72 9h1v2h-1zM74 9h1v2h-1zM76 9h1v2h-1zM82 9h2v2h-2zM91 9h3v2h-3zM95 9h1v2h-1zM3 7h1v2h-1zM6 7h1v2h-1zM14 7h1v2h-1zM17 7h1v2h-1zM35 7h1v2h-1zM53 7h1v2h-1zM62 7h1v2h-1zM66 7h2v2h-2zM72 7h1v2h-1zM75 7h1v2h-1zM84 7h1v2h-1zM88 7h1v2h-1zM7 5h1v2h-1zM17 5h1v2h-1zM21 5h1v2h-1zM31 5h1v2h-1zM33 5h1v2h-1zM63 5h1v2h-1zM71 5h1v2h-1zM74 5h1v2h-1zM76 5h2v2h-2zM81 5h1v2h-1zM86 5h1v2h-1zM92 5h1v2h-1zM0 3h1v2h-1zM21 3h1v2h-1zM24 3h1v2h-1zM27 3h1v2h-1zM31 3h1v2h-1zM34 3h2v2h-2zM45 3h1v2h-1zM54 3h1v2h-1zM65 3h2v2h-2zM72 3h1v2h-1zM77 3h2v2h-2zM82 3h1v2h-1zM22 1h1v2h-1zM24 1h1v2h-1zM27 1h1v2h-1zM30 1h1v2h-1zM32 1h1v2h-1zM35 1h1v2h-1zM38 1h1v2h-1zM47 1h1v2h-1zM53 1h1v2h-1zM61 1h1v2h-1zM63 1h1v2h-1zM76 1h1v2h-1zM79 1h1v2h-1zM95 1h1v2h-1zM25 0h1v1h-1zM31 0h1v1h-1zM35 0h3v1h-3zM44 0h1v1h-1zM53 0h1v1h-1zM57 0h1v1h-1zM92 0h1v1h-1zM98 0h1v1h-1z"/>
<path fill="#ac2694" d="M13 47h1v1h-1zM72 47h1v1h-1zM98 45h1v2h-1zM20 43h1v2h-1zM23 43h1v2h-1zM40 43h1v2h-1zM54 43h1v2h-1zM8 41h1v2h-1zM15 41h1v2h-1zM21 41h1v2h-1zM25 41h1v2h-1zM28 41h1v2h-1zM31 41h1v2h-1zM38 41h1v2h-1zM61 41h1v2h-1zM63 41h1v2h-1zM65 41h3v2h-3zM94 41h1v2h-1zM97 41h1v2h-1zM57 33h1v2h-1zM80 31h1v2h-1zM36 21h1v2h-1zM58 21h1v2h-1zM80 21h1v2h-1zM90 21h1v2h-1zM36 19h2v2h-2zM79 19h1v2h-1zM81 19h1v2h-1zM90 19h1v2h-1zM26 17h1v2h-1zM28 17h1v2h-1zM36 17h1v2h-1zM60 17h1v2h-1zM80 17h1v2h-1zM91 17h1v2h-1zM7 15h1v2h-1zM15 15h1v2h-1zM28 15h1v2h-1zM37 15h1v2h-1zM52 15h1v2h-1zM75 15h1v2h-1zM91 15h1v2h-1zM94 15h1v2h-1zM5 13h1v2h-1zM16 13h1v2h-1zM33 13h1v2h-1zM38 13h1v2h-1zM45 13h1v2h-1zM61 13h1v2h-1zM63 13h1v2h-1zM75 13h1v2h-1zM81 13h1v2h-1zM89 13h2v2h-2zM93 13h1v2h-1zM4 11h1v2h-1zM15 11h1v2h-1zM28 11h2v2h-2zM33 11h1v2h-1zM35 11h1v2h-1zM38 11h1v2h-1zM51 11h1v2h-1zM61 11h1v2h-1zM64 11h2v2h-2zM72 11h2v2h-2zM80 11h1v2h-1zM87 11h1v2h-1zM3 9h2v2h-2zM15 9h1v2h-1zM51 9h2v2h-2zM63 9h1v2h-1zM77 9h1v2h-1zM88 9h1v2h-1zM1 7h1v2h-1zM15 7h1v2h-1zM28 7h1v2h-1zM33 7h1v2h-1zM61 7h1v2h-1zM74 7h1v2h-1zM85 7h1v2h-1zM94 7h1v2h-1zM15 5h1v2h-1zM23 5h1v2h-1zM45 5h1v2h-1zM61 5h1v2h-1zM67 5h1v2h-1zM83 5h1v2h-1zM97 5h1v2h-1zM17 3h1v2h-1zM23 3h1v2h-1zM28 3h1v2h-1zM30 3h1v2h-1zM33 3h1v2h-1zM37 3h1v2h-1zM51 3h1v2h-1zM76 3h1v2h-1zM87 3h1v2h-1zM92 3h1v2h-1zM3 1h1v2h-1zM7 1h1v2h-1zM20 1h2v2h-2zM34 1h1v2h-1zM51 1h1v2h-1zM62 1h1v2h-1zM78 1h1v2h-1zM83 1h1v2h-1zM88 1h1v2h-1zM92 1h1v2h-1zM8 0h1v1h-1zM26 0h1v1h-1zM28 0h1v1h-1zM38 0h1v1h-1zM54 0h1v1h-1zM58 0h1v1h-1zM66 0h1v1h-1zM73 0h1v1h-1zM76 0h1v1h-1zM78 0h2v1h-2zM81 0h1v1h-1zM94 0h1v1h-1zM96 0h1v1h-1z"/>
<path fill="#b22b8f" d="M40 47h2v1h-2zM13 45h1v2h-1zM72 45h1v2h-1zM68 43h1v2h-1zM72 43h1v2h-1zM94 43h1v2h-1zM23 41h1v2h-1zM34 41h1v2h-1zM45 41h1v2h-1zM47 41h2v2h-2zM62 41h1v2h-1zM74 41h3v2h-3zM79 41h1v2h-1zM84 41h1v2h-1zM87 41h1v2h-1zM56 39h1v2h-1zM58 39h2v2h-2zM59 35h1v2h-1zM59 29h1v2h-1zM57 27h1v2h-1zM44 19h1v2h-1zM80 19h1v2h-1zM85 19h1v2h-1zM97 19h1v2h-1zM4 17h1v2h-1zM24 17h1v2h-1zM31 17h2v2h-2zM45 17h1v2h-1zM51 17h1v2h-1zM54 17h1v2h-1zM63 17h1v2h-1zM72 17h1v2h-1zM84 17h2v2h-2zM14 15h1v2h-1zM32 15h1v2h-1zM38 15h1v2h-1zM64 15h1v2h-1zM83 15h1v2h-1zM89 15h1v2h-1zM93 15h1v2h-1zM25 13h1v2h-1zM32 13h1v2h-1zM37 13h1v2h-1zM73 13h1v2h-1zM95 13h1v2h-1zM2 11h2v2h-2zM7 11h2v2h-2zM31 11h2v2h-2zM43 11h1v2h-1zM46 11h1v2h-1zM54 11h1v2h-1zM67 11h1v2h-1zM81 11h2v2h-2zM85 11h2v2h-2zM94 11h3v2h-3zM98 11h1v2h-1zM1 9h1v2h-1zM23 9h1v2h-1zM64 9h1v2h-1zM67 9h1v2h-1zM94 9h1v2h-1zM5 7h1v2h-1zM30 7h1v2h-1zM32 7h1v2h-1zM70 7h1v2h-1zM22 5h1v2h-1zM24 5h2v2h-2zM29 5h1v2h-1zM62 5h1v2h-1zM65 5h1v2h-1zM75 5h1v2h-1zM84 5h2v2h-2zM88 5h1v2h-1zM4 3h1v2h-1zM22 3h1v2h-1zM74 3h1v2h-1zM4 1h1v2h-1zM33 1h1v2h-1zM48 1h1v2h-1zM64 1h1v2h-1zM84 1h1v2h-1zM24 0h1v1h-1zM27 0h1v1h-1zM46 0h1v1h-1zM52 0h1v1h-1zM59 0h1v1h-1zM65 0h1v1h-1zM82 0h1v1h-1zM85 0h1v1h-1zM90 0h2v1h-2zM95 0h1v1h-1zM97 0h1v1h-1z"/>
<path fill="#b7318a" d="M9 45h1v2h-1zM40 45h1v2h-1zM42 45h1v2h-1zM70 45h1v2h-1zM13 43h1v2h-1zM42 43h1v2h-1zM20 41h1v2h-1zM29 41h1v2h-1zM49 41h1v2h-1zM51 41h1v2h-1zM54 41h1v2h-1zM64 41h1v2h-1zM77 41h1v2h-1zM59 37h1v2h-1zM56 33h1v2h-1zM55 29h1v2h-1zM58 27h1v2h-1zM60 27h1v2h-1zM14 21h2v2h-2zM34 21h1v2h-1zM51 21h1v2h-1zM54 21h1v2h-1zM89 21h1v2h-1zM15 19h1v2h-1zM32 19h2v2h-2zM35 19h1v2h-1zM38 19h1v2h-1zM60 19h2v2h-2zM67 19h1v2h-1zM84 19h1v2h-1zM92 19h1v2h-1zM98 19h1v2h-1zM5 17h1v2h-1zM7 17h1v2h-1zM15 17h2v2h-2zM21 17h1v2h-1zM29 17h1v2h-1zM48 17h1v2h-1zM53 17h1v2h-1zM78 17h1v2h-1zM3 15h1v2h-1zM16 15h1v2h-1zM31 15h1v2h-1zM35 15h1v2h-1zM44 15h2v2h-2zM51 15h1v2h-1zM53 15h1v2h-1zM65 15h1v2h-1zM71 15h2v2h-2zM78 15h1v2h-1zM87 15h1v2h-1zM97 15h1v2h-1zM15 13h1v2h-1zM22 13h1v2h-1zM26 13h1v2h-1zM29 13h1v2h-1zM47 13h1v2h-1zM54 13h1v2h-1zM66 13h1v2h-1zM79 13h1v2h-1zM83 13h1v2h-1zM85 13h1v2h-1zM88 13h1v2h-1zM92 13h1v2h-1zM96 13h1v2h-1zM98 13h1v2h-1zM0 11h1v2h-1zM21 11h1v2h-1zM23 11h1v2h-1zM27 11h1v2h-1zM30 11h1v2h-1zM66 11h1v2h-1zM74 11h1v2h-1zM83 11h2v2h-2zM92 11h2v2h-2zM17 9h1v2h-1zM20 9h2v2h-2zM25 9h1v2h-1zM31 9h1v2h-1zM33 9h1v2h-1zM48 9h1v2h-1zM75 9h1v2h-1zM2 7h1v2h-1zM4 7h1v2h-1zM20 7h1v2h-1zM22 7h1v2h-1zM50 7h1v2h-1zM52 7h1v2h-1zM83 7h1v2h-1zM0 5h2v2h-2zM4 5h1v2h-1zM13 5h1v2h-1zM20 5h1v2h-1zM47 5h2v2h-2zM64 5h1v2h-1zM95 5h1v2h-1zM20 3h1v2h-1zM46 3h1v2h-1zM53 3h1v2h-1zM2 1h1v2h-1zM17 1h1v2h-1zM72 1h1v2h-1zM74 1h2v2h-2zM81 1h1v2h-1zM3 0h1v1h-1zM6 0h1v1h-1zM22 0h1v1h-1zM29 0h2v1h-2zM45 0h1v1h-1zM63 0h1v1h-1zM67 0h1v1h-1zM74 0h1v1h-1zM83 0h1v1h-1zM87 0h1v1h-1zM93 0h1v1h-1z"/>
<path fill="#be3885" d="M11 43h1v2h-1zM69 43h1v2h-1zM7 41h1v2h-1zM42 41h3v2h-3zM50 41h1v2h-1zM52 41h1v2h-1zM98 41h1v2h-1zM57 39h1v2h-1zM56 37h1v2h-1zM58 37h1v2h-1zM58 35h1v2h-1zM60 35h1v2h-1zM80 33h1v2h-1zM14 31h1v2h-1zM58 31h2v2h-2zM57 29h1v2h-1zM14 27h1v2h-1zM34 27h1v2h-1zM55 27h1v2h-1zM15 25h1v2h-1zM55 25h1v2h-1zM60 25h1v2h-1zM90 25h1v2h-1zM5 21h1v2h-1zM16 21h1v2h-1zM33 21h1v2h-1zM37 21h1v2h-1zM44 21h1v2h-1zM92 21h2v2h-2zM3 19h1v2h-1zM5 19h2v2h-2zM21 19h1v2h-1zM28 19h1v2h-1zM30 19h1v2h-1zM51 19h1v2h-1zM63 19h1v2h-1zM72 19h1v2h-1zM78 19h1v2h-1zM87 19h1v2h-1zM3 17h1v2h-1zM27 17h1v2h-1zM46 17h1v2h-1zM65 17h3v2h-3zM74 17h1v2h-1zM79 17h1v2h-1zM82 17h2v2h-2zM94 17h1v2h-1zM8 15h1v2h-1zM22 15h1v2h-1zM24 15h1v2h-1zM26 15h2v2h-2zM29 15h1v2h-1zM46 15h1v2h-1zM67 15h1v2h-1zM82 15h1v2h-1zM84 15h1v2h-1zM88 15h1v2h-1zM95 15h2v2h-2zM98 15h1v2h-1zM0 13h1v2h-1zM3 13h2v2h-2zM8 13h1v2h-1zM24 13h1v2h-1zM27 13h1v2h-1zM30 13h1v2h-1zM48 13h1v2h-1zM51 13h1v2h-1zM62 13h1v2h-1zM64 13h1v2h-1zM67 13h1v2h-1zM87 13h1v2h-1zM91 13h1v2h-1zM94 13h1v2h-1zM97 13h1v2h-1zM12 11h1v2h-1zM17 11h1v2h-1zM25 11h1v2h-1zM45 11h1v2h-1zM53 11h1v2h-1zM62 11h1v2h-1zM77 11h2v2h-2zM91 11h1v2h-1zM6 9h1v2h-1zM47 9h1v2h-1zM73 9h1v2h-1zM84 9h1v2h-1zM0 7h1v2h-1zM12 7h1v2h-1zM41 7h1v2h-1zM68 7h1v2h-1zM18 5h1v2h-1zM1 3h2v2h-2zM43 3h1v2h-1zM48 3h1v2h-1zM70 3h1v2h-1zM18 1h1v2h-1zM71 1h1v2h-1zM0 0h1v1h-1zM4 0h1v1h-1zM15 0h1v1h-1zM21 0h1v1h-1zM61 0h1v1h-1zM71 0h1v1h-1zM77 0h1v1h-1z"/>
<path fill="#c33d80" d="M39 47h1v1h-1zM39 45h1v2h-1zM39 43h1v2h-1zM2 41h1v2h-1zM24 41h1v2h-1zM55 39h1v2h-1zM80 39h1v2h-1zM55 37h1v2h-1zM56 35h1v2h-1zM80 35h1v2h-1zM58 33h2v2h-2zM55 31h1v2h-1zM15 29h1v2h-1zM36 29h1v2h-1zM56 29h1v2h-1zM58 29h1v2h-1zM60 29h1v2h-1zM80 29h1v2h-1zM45 27h1v2h-1zM56 27h1v2h-1zM59 27h1v2h-1zM6 25h1v2h-1zM14 25h1v2h-1zM98 25h1v2h-1zM57 23h1v2h-1zM80 23h1v2h-1zM4 21h1v2h-1zM7 21h1v2h-1zM26 21h1v2h-1zM45 21h1v2h-1zM52 21h1v2h-1zM78 21h1v2h-1zM97 21h2v2h-2zM1 19h1v2h-1zM25 19h2v2h-2zM54 19h1v2h-1zM73 19h1v2h-1zM88 19h2v2h-2zM91 19h1v2h-1zM94 19h1v2h-1zM1 17h2v2h-2zM6 17h1v2h-1zM17 17h1v2h-1zM30 17h1v2h-1zM33 17h1v2h-1zM35 17h1v2h-1zM38 17h1v2h-1zM43 17h1v2h-1zM71 17h1v2h-1zM73 17h1v2h-1zM86 17h2v2h-2zM92 17h1v2h-1zM0 15h3v2h-3zM4 15h1v2h-1zM30 15h1v2h-1zM47 15h1v2h-1zM63 15h1v2h-1zM66 15h1v2h-1zM73 15h2v2h-2zM77 15h1v2h-1zM81 15h1v2h-1zM86 15h1v2h-1zM2 13h1v2h-1zM6 13h2v2h-2zM28 13h1v2h-1zM53 13h1v2h-1zM71 13h2v2h-2zM74 13h1v2h-1zM78 13h1v2h-1zM82 13h1v2h-1zM84 13h1v2h-1zM86 13h1v2h-1zM1 11h1v2h-1zM6 11h1v2h-1zM22 11h1v2h-1zM70 11h2v2h-2zM88 11h1v2h-1zM2 9h1v2h-1zM32 9h1v2h-1zM41 9h2v2h-2zM62 9h1v2h-1zM70 9h1v2h-1zM19 7h1v2h-1zM39 7h1v2h-1zM11 5h1v2h-1zM32 5h1v2h-1zM68 5h1v2h-1zM70 5h1v2h-1zM6 3h1v2h-1zM18 3h1v2h-1zM47 3h1v2h-1zM1 1h1v2h-1zM12 1h2v2h-2zM43 1h1v2h-1zM1 0h1v1h-1zM17 0h1v1h-1zM48 0h1v1h-1zM51 0h1v1h-1zM64 0h1v1h-1zM75 0h1v1h-1z"/>
<path fill="#c9447a" d="M9 47h1v1h-1zM12 47h1v1h-1zM70 47h1v1h-1zM11 45h2v2h-2zM69 45h1v2h-1zM70 43h1v2h-1zM71 41h1v2h-1zM6 37h1v2h-1zM6 35h1v2h-1zM36 35h1v2h-1zM6 33h1v2h-1zM56 31h1v2h-1zM5 29h2v2h-2zM16 29h1v2h-1zM53 29h1v2h-1zM98 29h1v2h-1zM15 27h1v2h-1zM36 27h1v2h-1zM80 27h1v2h-1zM90 27h1v2h-1zM5 25h1v2h-1zM13 25h1v2h-1zM53 25h1v2h-1zM59 25h1v2h-1zM36 23h1v2h-1zM55 23h1v2h-1zM58 23h1v2h-1zM60 23h1v2h-1zM90 23h1v2h-1zM32 21h1v2h-1zM35 21h1v2h-1zM66 21h1v2h-1zM79 21h1v2h-1zM86 21h3v2h-3zM95 21h2v2h-2zM0 19h1v2h-1zM2 19h1v2h-1zM7 19h1v2h-1zM23 19h1v2h-1zM29 19h1v2h-1zM43 19h1v2h-1zM46 19h1v2h-1zM65 19h1v2h-1zM74 19h2v2h-2zM86 19h1v2h-1zM93 19h1v2h-1zM22 17h1v2h-1zM42 17h1v2h-1zM47 17h1v2h-1zM61 17h1v2h-1zM64 17h1v2h-1zM75 17h1v2h-1zM98 17h1v2h-1zM17 15h1v2h-1zM21 15h1v2h-1zM23 15h1v2h-1zM25 15h1v2h-1zM48 15h1v2h-1zM61 15h1v2h-1zM70 15h1v2h-1zM76 15h1v2h-1zM1 13h1v2h-1zM13 13h1v2h-1zM20 13h2v2h-2zM42 13h1v2h-1zM46 13h1v2h-1zM50 13h1v2h-1zM65 13h1v2h-1zM13 11h1v2h-1zM18 11h1v2h-1zM48 11h1v2h-1zM75 11h1v2h-1zM11 9h2v2h-2zM18 9h2v2h-2zM11 7h1v2h-1zM13 7h1v2h-1zM18 7h1v2h-1zM48 7h1v2h-1zM2 5h1v2h-1zM19 5h1v2h-1zM19 3h1v2h-1zM39 3h1v2h-1zM50 3h1v2h-1zM62 3h1v2h-1zM11 1h1v2h-1zM19 1h1v2h-1zM42 1h1v2h-1zM68 1h1v2h-1zM2 0h1v1h-1zM13 0h1v1h-1zM23 0h1v1h-1zM32 0h2v1h-2zM42 0h1v1h-1zM62 0h1v1h-1z"/>
<path fill="#cd4a76" d="M9 43h1v2h-1zM12 43h1v2h-1zM13 41h1v2h-1zM40 41h1v2h-1zM4 39h2v2h-2zM16 39h1v2h-1zM60 39h1v2h-1zM5 37h1v2h-1zM36 37h1v2h-1zM57 37h1v2h-1zM60 37h1v2h-1zM80 37h1v2h-1zM16 35h1v2h-1zM24 35h1v2h-1zM38 35h1v2h-1zM55 35h1v2h-1zM5 33h1v2h-1zM26 31h1v2h-1zM67 31h1v2h-1zM82 31h1v2h-1zM3 29h1v2h-1zM33 29h1v2h-1zM37 29h1v2h-1zM74 29h1v2h-1zM93 29h1v2h-1zM7 27h1v2h-1zM35 27h1v2h-1zM84 27h1v2h-1zM98 27h1v2h-1zM16 25h1v2h-1zM36 25h1v2h-1zM56 25h1v2h-1zM80 25h1v2h-1zM5 23h1v2h-1zM59 23h1v2h-1zM8 21h1v2h-1zM23 21h1v2h-1zM25 21h1v2h-1zM27 21h1v2h-1zM29 21h1v2h-1zM38 21h1v2h-1zM46 21h1v2h-1zM62 21h1v2h-1zM65 21h1v2h-1zM75 21h1v2h-1zM8 19h1v2h-1zM53 19h1v2h-1zM66 19h1v2h-1zM71 19h1v2h-1zM76 19h2v2h-2zM83 19h1v2h-1zM0 17h1v2h-1zM8 17h1v2h-1zM20 17h1v2h-1zM23 17h1v2h-1zM25 17h1v2h-1zM76 17h1v2h-1zM88 17h1v2h-1zM96 17h1v2h-1zM6 15h1v2h-1zM19 15h2v2h-2zM41 15h2v2h-2zM69 15h1v2h-1zM11 13h2v2h-2zM18 13h1v2h-1zM23 13h1v2h-1zM43 13h1v2h-1zM76 13h2v2h-2zM20 11h1v2h-1zM42 11h1v2h-1zM50 11h1v2h-1zM68 11h1v2h-1zM76 11h1v2h-1zM40 9h1v2h-1zM43 9h1v2h-1zM50 9h1v2h-1zM69 9h1v2h-1zM42 7h1v2h-1zM47 7h1v2h-1zM40 5h3v2h-3zM50 5h1v2h-1zM13 3h1v2h-1zM41 3h2v2h-2zM68 3h2v2h-2zM41 1h1v2h-1zM69 1h1v2h-1zM18 0h1v1h-1z"/>
<path fill="#d35171" d="M11 47h1v1h-1zM41 41h1v2h-1zM53 39h1v2h-1zM81 39h1v2h-1zM84 39h1v2h-1zM37 37h1v2h-1zM57 35h1v2h-1zM81 35h2v2h-2zM8 33h1v2h-1zM28 33h1v2h-1zM44 33h1v2h-1zM53 33h1v2h-1zM55 33h1v2h-1zM60 33h1v2h-1zM84 33h1v2h-1zM88 33h1v2h-1zM93 33h1v2h-1zM4 31h1v2h-1zM6 31h2v2h-2zM16 31h1v2h-1zM34 31h1v2h-1zM37 31h1v2h-1zM45 31h1v2h-1zM54 31h1v2h-1zM57 31h1v2h-1zM60 31h1v2h-1zM90 31h1v2h-1zM98 31h1v2h-1zM14 29h1v2h-1zM43 29h1v2h-1zM51 29h1v2h-1zM90 29h1v2h-1zM5 27h1v2h-1zM33 27h1v2h-1zM44 27h1v2h-1zM51 27h1v2h-1zM88 27h1v2h-1zM0 25h1v2h-1zM33 25h1v2h-1zM35 25h1v2h-1zM44 25h1v2h-1zM66 25h1v2h-1zM95 25h1v2h-1zM97 25h1v2h-1zM33 23h1v2h-1zM54 23h1v2h-1zM98 23h1v2h-1zM0 21h1v2h-1zM3 21h1v2h-1zM6 21h1v2h-1zM47 21h1v2h-1zM53 21h1v2h-1zM61 21h1v2h-1zM63 21h1v2h-1zM67 21h1v2h-1zM73 21h1v2h-1zM82 21h4v2h-4zM22 19h1v2h-1zM24 19h1v2h-1zM27 19h1v2h-1zM31 19h1v2h-1zM42 19h1v2h-1zM47 19h2v2h-2zM64 19h1v2h-1zM82 19h1v2h-1zM95 19h1v2h-1zM12 17h1v2h-1zM18 17h1v2h-1zM41 17h1v2h-1zM49 17h2v2h-2zM62 17h1v2h-1zM77 17h1v2h-1zM95 17h1v2h-1zM11 15h2v2h-2zM18 15h1v2h-1zM85 15h1v2h-1zM31 13h1v2h-1zM41 13h1v2h-1zM49 13h1v2h-1zM70 13h1v2h-1zM13 9h1v2h-1zM49 9h1v2h-1zM40 7h1v2h-1zM12 5h1v2h-1zM43 5h1v2h-1zM49 5h1v2h-1zM11 3h2v2h-2zM49 3h1v2h-1zM70 1h1v2h-1zM12 0h1v1h-1zM43 0h1v1h-1zM47 0h1v1h-1zM49 0h1v1h-1zM68 0h1v1h-1zM70 0h1v1h-1z"/>
<path fill="#d7566c" d="M10 43h1v2h-1zM11 41h1v2h-1zM70 41h1v2h-1zM6 39h1v2h-1zM35 39h1v2h-1zM66 39h1v2h-1zM15 37h1v2h-1zM44 37h1v2h-1zM14 35h1v2h-1zM31 35h1v2h-1zM53 35h1v2h-1zM31 33h1v2h-1zM34 33h1v2h-1zM54 33h1v2h-1zM98 33h1v2h-1zM0 31h1v2h-1zM5 31h1v2h-1zM15 31h1v2h-1zM22 31h1v2h-1zM25 31h1v2h-1zM35 31h1v2h-1zM49 31h1v2h-1zM78 31h1v2h-1zM81 31h1v2h-1zM88 31h1v2h-1zM97 31h1v2h-1zM0 29h1v2h-1zM27 29h1v2h-1zM35 29h1v2h-1zM54 29h1v2h-1zM66 29h1v2h-1zM73 29h1v2h-1zM84 29h1v2h-1zM97 29h1v2h-1zM38 27h1v2h-1zM47 27h1v2h-1zM65 27h1v2h-1zM73 27h1v2h-1zM93 27h1v2h-1zM95 27h1v2h-1zM46 25h1v2h-1zM54 25h1v2h-1zM72 25h1v2h-1zM81 25h1v2h-1zM89 25h1v2h-1zM15 23h1v2h-1zM66 23h1v2h-1zM86 23h1v2h-1zM30 21h1v2h-1zM43 21h1v2h-1zM71 21h2v2h-2zM74 21h1v2h-1zM4 19h1v2h-1zM18 19h1v2h-1zM62 19h1v2h-1zM96 19h1v2h-1zM13 17h1v2h-1zM70 17h1v2h-1zM43 15h1v2h-1zM49 15h2v2h-2zM17 13h1v2h-1zM39 13h1v2h-1zM68 13h1v2h-1zM40 11h2v2h-2zM49 11h1v2h-1zM69 11h1v2h-1zM68 9h1v2h-1zM43 7h1v2h-1zM39 5h1v2h-1zM69 5h1v2h-1zM39 1h2v2h-2zM50 1h1v2h-1zM20 0h1v1h-1z"/>
<path fill="#dc5d67" d="M10 47h1v1h-1zM72 41h1v2h-1zM14 39h1v2h-1zM26 39h1v2h-1zM28 39h1v2h-1zM32 39h1v2h-1zM44 39h2v2h-2zM90 39h1v2h-1zM97 39h2v2h-2zM16 37h1v2h-1zM34 37h1v2h-1zM52 37h1v2h-1zM65 37h2v2h-2zM81 37h1v2h-1zM95 37h1v2h-1zM97 37h1v2h-1zM4 35h1v2h-1zM15 35h1v2h-1zM22 35h1v2h-1zM37 35h1v2h-1zM44 35h2v2h-2zM54 35h1v2h-1zM73 35h1v2h-1zM75 35h1v2h-1zM90 35h1v2h-1zM3 33h1v2h-1zM16 33h1v2h-1zM23 33h2v2h-2zM36 33h2v2h-2zM72 33h1v2h-1zM77 33h1v2h-1zM95 33h1v2h-1zM2 31h1v2h-1zM27 31h2v2h-2zM32 31h1v2h-1zM38 31h1v2h-1zM43 31h1v2h-1zM61 31h1v2h-1zM64 31h1v2h-1zM66 31h1v2h-1zM83 31h1v2h-1zM87 31h1v2h-1zM89 31h1v2h-1zM93 31h1v2h-1zM95 31h1v2h-1zM7 29h1v2h-1zM47 29h1v2h-1zM65 29h1v2h-1zM77 29h1v2h-1zM81 29h1v2h-1zM83 29h1v2h-1zM85 29h1v2h-1zM88 29h1v2h-1zM1 27h1v2h-1zM3 27h1v2h-1zM6 27h1v2h-1zM16 27h1v2h-1zM25 27h1v2h-1zM32 27h1v2h-1zM53 27h1v2h-1zM81 27h1v2h-1zM86 27h1v2h-1zM96 27h1v2h-1zM27 25h1v2h-1zM51 25h1v2h-1zM61 25h1v2h-1zM63 25h1v2h-1zM73 25h2v2h-2zM78 25h1v2h-1zM83 25h1v2h-1zM94 25h1v2h-1zM14 23h1v2h-1zM34 23h1v2h-1zM56 23h1v2h-1zM97 23h1v2h-1zM2 21h1v2h-1zM13 21h1v2h-1zM22 21h1v2h-1zM28 21h1v2h-1zM31 21h1v2h-1zM42 21h1v2h-1zM48 21h1v2h-1zM64 21h1v2h-1zM70 21h1v2h-1zM91 21h1v2h-1zM17 19h1v2h-1zM69 19h2v2h-2zM11 17h1v2h-1zM69 17h1v2h-1zM13 15h1v2h-1zM62 15h1v2h-1zM69 13h1v2h-1zM11 11h1v2h-1zM19 11h1v2h-1zM39 11h1v2h-1zM47 11h1v2h-1zM39 9h1v2h-1zM49 7h1v2h-1zM69 7h1v2h-1zM9 3h1v2h-1zM49 1h1v2h-1z"/>
<path fill="#e06363" d="M39 41h1v2h-1zM3 39h1v2h-1zM25 39h1v2h-1zM36 39h1v2h-1zM38 39h1v2h-1zM73 39h1v2h-1zM4 37h1v2h-1zM14 37h1v2h-1zM27 37h1v2h-1zM32 37h2v2h-2zM35 37h1v2h-1zM83 37h1v2h-1zM87 37h2v2h-2zM98 37h1v2h-1zM34 35h2v2h-2zM66 35h1v2h-1zM78 35h2v2h-2zM95 35h1v2h-1zM97 35h1v2h-1zM0 33h1v2h-1zM2 33h1v2h-1zM7 33h1v2h-1zM14 33h2v2h-2zM29 33h1v2h-1zM32 33h2v2h-2zM35 33h1v2h-1zM38 33h1v2h-1zM64 33h1v2h-1zM66 33h2v2h-2zM73 33h1v2h-1zM75 33h1v2h-1zM79 33h1v2h-1zM81 33h1v2h-1zM94 33h1v2h-1zM17 31h1v2h-1zM33 31h1v2h-1zM36 31h1v2h-1zM44 31h1v2h-1zM46 31h1v2h-1zM73 31h1v2h-1zM75 31h1v2h-1zM77 31h1v2h-1zM84 31h2v2h-2zM91 31h2v2h-2zM96 31h1v2h-1zM32 29h1v2h-1zM34 29h1v2h-1zM44 29h1v2h-1zM67 29h1v2h-1zM72 29h1v2h-1zM78 29h1v2h-1zM82 29h1v2h-1zM87 29h1v2h-1zM92 29h1v2h-1zM95 29h1v2h-1zM27 27h1v2h-1zM30 27h1v2h-1zM43 27h1v2h-1zM46 27h1v2h-1zM49 27h1v2h-1zM62 27h1v2h-1zM66 27h1v2h-1zM71 27h1v2h-1zM83 27h1v2h-1zM3 25h2v2h-2zM31 25h1v2h-1zM34 25h1v2h-1zM37 25h1v2h-1zM43 25h1v2h-1zM45 25h1v2h-1zM62 25h1v2h-1zM71 25h1v2h-1zM82 25h1v2h-1zM87 25h1v2h-1zM93 25h1v2h-1zM96 25h1v2h-1zM3 23h1v2h-1zM16 23h2v2h-2zM25 23h1v2h-1zM35 23h1v2h-1zM38 23h1v2h-1zM45 23h1v2h-1zM51 23h1v2h-1zM67 23h1v2h-1zM79 23h1v2h-1zM81 23h1v2h-1zM91 23h1v2h-1zM95 23h1v2h-1zM1 21h1v2h-1zM21 21h1v2h-1zM24 21h1v2h-1zM76 21h2v2h-2zM94 21h1v2h-1zM12 19h2v2h-2zM20 19h1v2h-1zM39 15h1v2h-1zM68 15h1v2h-1zM19 13h1v2h-1zM40 13h1v2h-1zM40 3h1v2h-1zM50 0h1v1h-1z"/>
<path fill="#e4695e" d="M9 41h1v2h-1zM12 41h1v2h-1zM15 39h1v2h-1zM22 39h1v2h-1zM24 39h1v2h-1zM27 39h1v2h-1zM34 39h1v2h-1zM54 39h1v2h-1zM61 39h1v2h-1zM92 39h1v2h-1zM95 39h1v2h-1zM7 37h1v2h-1zM24 37h1v2h-1zM26 37h1v2h-1zM28 37h1v2h-1zM45 37h2v2h-2zM53 37h1v2h-1zM62 37h1v2h-1zM64 37h1v2h-1zM82 37h1v2h-1zM2 35h2v2h-2zM26 35h2v2h-2zM29 35h1v2h-1zM32 35h2v2h-2zM52 35h1v2h-1zM76 35h1v2h-1zM84 35h3v2h-3zM93 35h1v2h-1zM4 33h1v2h-1zM22 33h1v2h-1zM25 33h2v2h-2zM30 33h1v2h-1zM45 33h2v2h-2zM62 33h1v2h-1zM65 33h1v2h-1zM82 33h1v2h-1zM90 33h1v2h-1zM92 33h1v2h-1zM97 33h1v2h-1zM24 31h1v2h-1zM62 31h1v2h-1zM74 31h1v2h-1zM76 31h1v2h-1zM1 29h1v2h-1zM4 29h1v2h-1zM8 29h1v2h-1zM13 29h1v2h-1zM17 29h1v2h-1zM25 29h2v2h-2zM28 29h2v2h-2zM38 29h1v2h-1zM45 29h1v2h-1zM62 29h1v2h-1zM71 29h1v2h-1zM86 29h1v2h-1zM4 27h1v2h-1zM23 27h1v2h-1zM31 27h1v2h-1zM48 27h1v2h-1zM54 27h1v2h-1zM63 27h1v2h-1zM67 27h1v2h-1zM74 27h1v2h-1zM77 27h1v2h-1zM79 27h1v2h-1zM85 27h1v2h-1zM87 27h1v2h-1zM89 27h1v2h-1zM94 27h1v2h-1zM97 27h1v2h-1zM7 25h1v2h-1zM22 25h1v2h-1zM24 25h1v2h-1zM29 25h1v2h-1zM32 25h1v2h-1zM38 25h1v2h-1zM48 25h1v2h-1zM65 25h1v2h-1zM79 25h1v2h-1zM85 25h1v2h-1zM91 25h2v2h-2zM7 23h1v2h-1zM27 23h1v2h-1zM32 23h1v2h-1zM37 23h1v2h-1zM46 23h2v2h-2zM74 23h1v2h-1zM11 21h2v2h-2zM17 21h2v2h-2zM19 17h1v2h-1zM40 17h1v2h-1zM68 17h1v2h-1zM9 7h1v2h-1zM10 5h1v2h-1zM10 1h1v2h-1zM11 0h1v1h-1zM40 0h2v1h-2zM69 0h1v1h-1z"/>
<path fill="#e87059" d="M10 45h1v2h-1zM69 41h1v2h-1zM7 39h1v2h-1zM29 39h1v2h-1zM31 39h1v2h-1zM33 39h1v2h-1zM37 39h1v2h-1zM52 39h1v2h-1zM63 39h2v2h-2zM85 39h1v2h-1zM93 39h1v2h-1zM17 37h1v2h-1zM25 37h1v2h-1zM38 37h1v2h-1zM54 37h1v2h-1zM73 37h1v2h-1zM75 37h1v2h-1zM78 37h2v2h-2zM90 37h1v2h-1zM93 37h1v2h-1zM96 37h1v2h-1zM0 35h1v2h-1zM5 35h1v2h-1zM28 35h1v2h-1zM43 35h1v2h-1zM46 35h1v2h-1zM65 35h1v2h-1zM74 35h1v2h-1zM77 35h1v2h-1zM88 35h1v2h-1zM92 35h1v2h-1zM98 35h1v2h-1zM17 33h1v2h-1zM27 33h1v2h-1zM43 33h1v2h-1zM47 33h1v2h-1zM61 33h1v2h-1zM63 33h1v2h-1zM74 33h1v2h-1zM78 33h1v2h-1zM83 33h1v2h-1zM96 33h1v2h-1zM1 31h1v2h-1zM3 31h1v2h-1zM8 31h1v2h-1zM18 31h1v2h-1zM20 31h1v2h-1zM29 31h2v2h-2zM42 31h1v2h-1zM47 31h1v2h-1zM51 31h1v2h-1zM65 31h1v2h-1zM79 31h1v2h-1zM94 31h1v2h-1zM2 29h1v2h-1zM20 29h1v2h-1zM23 29h1v2h-1zM30 29h2v2h-2zM48 29h1v2h-1zM63 29h1v2h-1zM89 29h1v2h-1zM91 29h1v2h-1zM2 27h1v2h-1zM8 27h1v2h-1zM13 27h1v2h-1zM24 27h1v2h-1zM26 27h1v2h-1zM29 27h1v2h-1zM37 27h1v2h-1zM41 27h1v2h-1zM72 27h1v2h-1zM76 27h1v2h-1zM82 27h1v2h-1zM91 27h2v2h-2zM1 25h1v2h-1zM25 25h1v2h-1zM52 25h1v2h-1zM64 25h1v2h-1zM67 25h1v2h-1zM84 25h1v2h-1zM86 25h1v2h-1zM88 25h1v2h-1zM4 23h1v2h-1zM6 23h1v2h-1zM26 23h1v2h-1zM30 23h1v2h-1zM44 23h1v2h-1zM62 23h1v2h-1zM85 23h1v2h-1zM88 23h1v2h-1zM19 21h2v2h-2zM49 21h2v2h-2zM69 21h1v2h-1zM11 19h1v2h-1zM39 19h1v2h-1zM49 19h1v2h-1zM68 19h1v2h-1zM39 17h1v2h-1zM9 11h1v2h-1zM9 5h1v2h-1zM39 0h1v1h-1z"/>
<path fill="#eb7655" d="M0 39h1v2h-1zM21 39h1v2h-1zM30 39h1v2h-1zM46 39h1v2h-1zM51 39h1v2h-1zM67 39h1v2h-1zM74 39h1v2h-1zM79 39h1v2h-1zM86 39h1v2h-1zM88 39h2v2h-2zM94 39h1v2h-1zM2 37h2v2h-2zM8 37h1v2h-1zM29 37h3v2h-3zM74 37h1v2h-1zM77 37h1v2h-1zM84 37h1v2h-1zM17 35h1v2h-1zM21 35h1v2h-1zM25 35h1v2h-1zM48 35h1v2h-1zM51 35h1v2h-1zM64 35h1v2h-1zM67 35h1v2h-1zM83 35h1v2h-1zM91 35h1v2h-1zM94 35h1v2h-1zM96 35h1v2h-1zM49 33h1v2h-1zM51 33h2v2h-2zM76 33h1v2h-1zM85 33h1v2h-1zM91 33h1v2h-1zM21 31h1v2h-1zM31 31h1v2h-1zM48 31h1v2h-1zM52 31h2v2h-2zM63 31h1v2h-1zM72 31h1v2h-1zM86 31h1v2h-1zM22 29h1v2h-1zM46 29h1v2h-1zM49 29h1v2h-1zM52 29h1v2h-1zM61 29h1v2h-1zM64 29h1v2h-1zM76 29h1v2h-1zM96 29h1v2h-1zM0 27h1v2h-1zM12 27h1v2h-1zM18 27h1v2h-1zM20 27h1v2h-1zM22 27h1v2h-1zM42 27h1v2h-1zM50 27h1v2h-1zM52 27h1v2h-1zM64 27h1v2h-1zM78 27h1v2h-1zM2 25h1v2h-1zM8 25h1v2h-1zM20 25h1v2h-1zM26 25h1v2h-1zM0 23h1v2h-1zM2 23h1v2h-1zM8 23h1v2h-1zM43 23h1v2h-1zM48 23h1v2h-1zM52 23h2v2h-2zM63 23h1v2h-1zM71 23h1v2h-1zM77 23h1v2h-1zM82 23h1v2h-1zM87 23h1v2h-1zM89 23h1v2h-1zM93 23h1v2h-1zM41 21h1v2h-1zM19 19h1v2h-1zM41 19h1v2h-1zM50 19h1v2h-1zM40 15h1v2h-1zM10 11h1v2h-1zM10 9h1v2h-1zM10 3h1v2h-1zM19 0h1v1h-1z"/>
<path fill="#ef7e50" d="M2 39h1v2h-1zM18 39h1v2h-1zM43 39h1v2h-1zM77 39h2v2h-2zM82 39h1v2h-1zM96 39h1v2h-1zM0 37h1v2h-1zM50 37h1v2h-1zM61 37h1v2h-1zM67 37h1v2h-1zM86 37h1v2h-1zM89 37h1v2h-1zM20 35h1v2h-1zM23 35h1v2h-1zM61 35h1v2h-1zM63 35h1v2h-1zM20 33h2v2h-2zM86 33h2v2h-2zM89 33h1v2h-1zM41 29h1v2h-1zM79 29h1v2h-1zM11 27h1v2h-1zM17 27h1v2h-1zM28 27h1v2h-1zM40 27h1v2h-1zM18 25h1v2h-1zM23 25h1v2h-1zM30 25h1v2h-1zM42 25h1v2h-1zM47 25h1v2h-1zM68 25h3v2h-3zM75 25h2v2h-2zM11 23h2v2h-2zM22 23h1v2h-1zM28 23h2v2h-2zM31 23h1v2h-1zM61 23h1v2h-1zM65 23h1v2h-1zM70 23h1v2h-1zM75 23h2v2h-2zM92 23h1v2h-1zM94 23h1v2h-1zM96 23h1v2h-1zM9 9h1v2h-1zM10 7h1v2h-1zM9 1h1v2h-1z"/>
<path fill="#f2844b" d="M10 41h1v2h-1zM17 39h1v2h-1zM20 39h1v2h-1zM47 39h2v2h-2zM62 39h1v2h-1zM65 39h1v2h-1zM75 39h2v2h-2zM87 39h1v2h-1zM91 39h1v2h-1zM22 37h2v2h-2zM42 37h2v2h-2zM76 37h1v2h-1zM85 37h1v2h-1zM91 37h2v2h-2zM7 35h1v2h-1zM42 35h1v2h-1zM49 35h2v2h-2zM62 35h1v2h-1zM89 35h1v2h-1zM42 33h1v2h-1zM11 31h1v2h-1zM23 31h1v2h-1zM68 31h1v2h-1zM71 31h1v2h-1zM18 29h2v2h-2zM21 29h1v2h-1zM24 29h1v2h-1zM50 29h1v2h-1zM75 29h1v2h-1zM94 29h1v2h-1zM61 27h1v2h-1zM70 27h1v2h-1zM75 27h1v2h-1zM12 25h1v2h-1zM19 25h1v2h-1zM28 25h1v2h-1zM40 25h1v2h-1zM50 25h1v2h-1zM77 25h1v2h-1zM19 23h1v2h-1zM23 23h2v2h-2zM41 23h1v2h-1zM68 23h1v2h-1zM72 23h2v2h-2zM78 23h1v2h-1zM83 23h2v2h-2zM40 21h1v2h-1zM68 21h1v2h-1zM40 19h1v2h-1zM9 17h1v2h-1zM10 15h1v2h-1zM9 13h1v2h-1zM10 0h1v1h-1z"/>
<path fill="#f58c46" d="M8 39h1v2h-1zM23 39h1v2h-1zM42 39h1v2h-1zM49 39h1v2h-1zM72 39h1v2h-1zM83 39h1v2h-1zM18 37h1v2h-1zM47 37h2v2h-2zM51 37h1v2h-1zM63 37h1v2h-1zM94 37h1v2h-1zM1 35h1v2h-1zM8 35h1v2h-1zM18 35h1v2h-1zM47 35h1v2h-1zM87 35h1v2h-1zM18 33h2v2h-2zM48 33h1v2h-1zM68 33h1v2h-1zM19 31h1v2h-1zM40 31h1v2h-1zM42 29h1v2h-1zM21 27h1v2h-1zM68 27h2v2h-2zM11 25h1v2h-1zM17 25h1v2h-1zM21 25h1v2h-1zM41 25h1v2h-1zM49 25h1v2h-1zM13 23h1v2h-1zM42 23h1v2h-1zM49 23h2v2h-2zM39 21h1v2h-1zM10 13h1v2h-1zM9 0h1v1h-1z"/>
<path fill="#f79342" d="M1 39h1v2h-1zM50 39h1v2h-1zM1 37h1v2h-1zM20 37h2v2h-2zM30 35h1v2h-1zM50 33h1v2h-1zM12 31h2v2h-2zM41 31h1v2h-1zM50 31h1v2h-1zM69 31h2v2h-2zM40 29h1v2h-1zM68 29h1v2h-1zM19 27h1v2h-1zM1 23h1v2h-1zM18 23h1v2h-1zM20 23h1v2h-1zM9 19h1v2h-1zM9 15h1v2h-1z"/>
<path fill="#fa9b3d" d="M72 37h1v2h-1zM68 35h1v2h-1zM72 35h1v2h-1zM1 33h1v2h-1zM39 33h1v2h-1zM39 31h1v2h-1zM21 23h1v2h-1zM40 23h1v2h-1zM10 19h1v2h-1z"/>
<path fill="#fba238" d="M40 39h1v2h-1zM49 37h1v2h-1zM13 33h1v2h-1zM41 33h1v2h-1zM11 29h1v2h-1zM70 29h1v2h-1zM64 23h1v2h-1zM69 23h1v2h-1zM10 17h1v2h-1z"/>
<path fill="#fca934" d="M12 35h1v2h-1zM19 35h1v2h-1zM40 35h1v2h-1zM11 33h1v2h-1zM71 33h1v2h-1zM10 31h1v2h-1zM12 29h1v2h-1zM39 27h1v2h-1zM39 25h1v2h-1zM39 23h1v2h-1z"/>
<path fill="#fdb22f" d="M71 39h1v2h-1zM13 37h1v2h-1zM19 37h1v2h-1zM41 37h1v2h-1zM70 37h2v2h-2zM13 35h1v2h-1zM71 35h1v2h-1zM12 33h1v2h-1zM40 33h1v2h-1zM39 29h1v2h-1zM9 27h1v2h-1zM10 25h1v2h-1z"/>
<path fill="#feba2c" d="M13 39h1v2h-1zM41 39h1v2h-1zM40 37h1v2h-1zM39 35h1v2h-1zM69 33h2v2h-2zM9 31h1v2h-1zM69 29h1v2h-1zM9 21h1v2h-1z"/>
<path fill="#fdc328" d="M11 39h1v2h-1zM19 39h1v2h-1zM69 39h1v2h-1zM41 35h1v2h-1zM70 35h1v2h-1zM10 33h1v2h-1zM9 25h1v2h-1zM9 23h2v2h-2zM10 21h1v2h-1z"/>
<path fill="#fdcb26" d="M11 35h1v2h-1zM69 35h1v2h-1zM9 33h1v2h-1z"/>
<path fill="#fbd524" d="M12 39h1v2h-1zM39 39h1v2h-1zM68 39h1v2h-1zM70 39h1v2h-1zM39 37h1v2h-1zM68 37h2v2h-2zM9 29h2v2h-2zM10 27h1v2h-1z"/>
<path fill="#f9dd25" d="M11 37h2v2h-2zM9 35h1v2h-1z"/>
<path fill="#f0f921" d="M9 39h2v2h-2zM9 37h2v2h-2zM10 35h1v2h-1z"/>
</g>
<line x1="682.59" y1="619.20" x2="682.59" y2="844.50" stroke="#808080" stroke-opacity="0.6" stroke-width="1.25"/>
<text x="0.00" y="0.00" font-size="17.50" textLength="65.57" lengthAdjust="spacingAndGlyphs" fill="#444" transform="translate(687.79 617.50) rotate(-90)">Pinched</text>
<line x1="713.10" y1="619.20" x2="713.10" y2="844.50" stroke="#808080" stroke-opacity="0.6" stroke-width="1.25"/>
<text x="0.00" y="0.00" font-size="17.50" textLength="75.85" lengthAdjust="spacingAndGlyphs" fill="#444" transform="translate(718.30 617.50) rotate(-90)">Released</text>
<line x1="736.41" y1="619.20" x2="736.41" y2="844.50" stroke="#808080" stroke-opacity="0.6" stroke-width="1.25"/>
<text x="0.00" y="0.00" font-size="17.50" textLength="23.75" lengthAdjust="spacingAndGlyphs" fill="#444" transform="translate(741.61 617.50) rotate(-90)">Hit</text>
<line x1="809.59" y1="619.20" x2="809.59" y2="844.50" stroke="#808080" stroke-opacity="0.6" stroke-width="1.25"/>
<text x="0.00" y="0.00" font-size="17.50" textLength="65.57" lengthAdjust="spacingAndGlyphs" fill="#444" transform="translate(814.79 617.50) rotate(-90)">Pinched</text>
<line x1="842.68" y1="619.20" x2="842.68" y2="844.50" stroke="#808080" stroke-opacity="0.6" stroke-width="1.25"/>
<text x="0.00" y="0.00" font-size="17.50" textLength="75.85" lengthAdjust="spacingAndGlyphs" fill="#444" transform="translate(847.88 617.50) rotate(-90)">Released</text>
<line x1="865.23" y1="619.20" x2="865.23" y2="844.50" stroke="#808080" stroke-opacity="0.6" stroke-width="1.25"/>
<text x="0.00" y="0.00" font-size="17.50" textLength="23.75" lengthAdjust="spacingAndGlyphs" fill="#444" transform="translate(870.43 617.50) rotate(-90)">Hit</text>
<line x1="938.28" y1="619.20" x2="938.28" y2="844.50" stroke="#808080" stroke-opacity="0.6" stroke-width="1.25"/>
<text x="0.00" y="0.00" font-size="17.50" textLength="65.57" lengthAdjust="spacingAndGlyphs" fill="#444" transform="translate(943.48 617.50) rotate(-90)">Pinched</text>
<line x1="972.39" y1="619.20" x2="972.39" y2="844.50" stroke="#808080" stroke-opacity="0.6" stroke-width="1.25"/>
<text x="0.00" y="0.00" font-size="17.50" textLength="75.85" lengthAdjust="spacingAndGlyphs" fill="#444" transform="translate(977.59 617.50) rotate(-90)">Released</text>
<line x1="1033.75" y1="619.20" x2="1033.75" y2="844.50" stroke="#808080" stroke-opacity="0.6" stroke-width="1.25"/>
<text x="0.00" y="0.00" font-size="17.50" textLength="23.75" lengthAdjust="spacingAndGlyphs" fill="#444" transform="translate(1038.95 617.50) rotate(-90)">Hit</text>
<line x1="1099.48" y1="619.20" x2="1099.48" y2="844.50" stroke="#808080" stroke-opacity="0.6" stroke-width="1.25"/>
<text x="0.00" y="0.00" font-size="17.50" textLength="65.57" lengthAdjust="spacingAndGlyphs" fill="#444" transform="translate(1104.68 617.50) rotate(-90)">Pinched</text>
<path d="M665.54 619.20V844.50H1109.60" fill="none" stroke="#000" stroke-width="1.11" stroke-linecap="square"/>
<rect x="1115.50" y="619.20" width="11.30" height="225.30" fill="url(#pl)"/>
<rect x="1115.50" y="619.20" width="11.30" height="225.30" fill="none" stroke="#000" stroke-width="1.11"/>
<path d="M660.68 844.50h4.86M660.68 806.95h4.86M660.68 769.40h4.86M660.68 731.85h4.86M660.68 694.30h4.86M660.68 656.75h4.86M660.68 619.20h4.86M665.54 844.50v4.86M754.35 844.50v4.86M843.16 844.50v4.86M931.98 844.50v4.86M1020.79 844.50v4.86M1109.60 844.50v4.86M1126.80 824.87h4.86M1126.80 791.59h4.86M1126.80 758.31h4.86M1126.80 725.03h4.86M1126.80 691.75h4.86M1126.80 658.47h4.86M1126.80 625.19h4.86" stroke="#000" stroke-width="1.11"/>
<text x="664.84" y="502.90" font-size="20.42" textLength="111.08" lengthAdjust="spacingAndGlyphs" fill="#000">Condition 4</text>
<text x="664.84" y="525.90" font-size="16.04" textLength="190.80" lengthAdjust="spacingAndGlyphs" fill="#000">D = 2.5m, G = 3.73 m²/s</text>
<g transform="translate(1266.890 619.200) scale(4.44556 4.69375)" shape-rendering="crispEdges">
<path fill="#0d0887" d="M62 45h1v2h-1z"/>
<path fill="#1b068d" d="M92 47h1v1h-1zM59 45h1v2h-1zM91 43h1v2h-1z"/>
<path fill="#260591" d="M88 47h1v1h-1zM92 43h1v2h-1z"/>
<path fill="#310597" d="M2 47h1v1h-1zM64 47h1v1h-1zM84 47h1v1h-1zM90 45h1v2h-1z"/>
<path fill="#3a049a" d="M59 47h1v1h-1zM62 47h1v1h-1zM70 47h1v1h-1zM83 47h1v1h-1zM90 47h1v1h-1zM94 47h1v1h-1zM96 47h1v1h-1zM9 45h1v2h-1zM58 45h1v2h-1zM60 45h1v2h-1zM63 45h1v2h-1zM87 45h1v2h-1zM91 45h1v2h-1zM98 45h1v2h-1zM60 43h1v2h-1z"/>
<path fill="#44039e" d="M58 47h1v1h-1zM60 47h1v1h-1zM86 47h1v1h-1zM91 47h1v1h-1zM98 47h1v1h-1zM64 45h1v2h-1zM62 43h2v2h-2zM70 43h1v2h-1zM86 43h1v2h-1zM88 43h1v2h-1zM90 43h1v2h-1z"/>
<path fill="#4c02a1" d="M61 47h1v1h-1zM63 47h1v1h-1zM85 47h1v1h-1zM89 47h1v1h-1zM57 45h1v2h-1zM85 45h1v2h-1zM88 45h1v2h-1zM92 45h1v2h-1zM57 43h3v2h-3zM59 3h1v2h-1z"/>
<path fill="#5601a4" d="M37 47h1v1h-1zM57 47h1v1h-1zM66 47h1v1h-1zM69 47h1v1h-1zM87 47h1v1h-1zM10 45h1v2h-1zM36 45h1v2h-1zM61 45h1v2h-1zM67 45h1v2h-1zM94 45h1v2h-1zM2 43h1v2h-1zM33 43h1v2h-1zM61 43h1v2h-1zM84 43h2v2h-2zM93 43h1v2h-1zM98 43h1v2h-1zM60 41h1v2h-1zM63 41h1v2h-1zM91 41h1v2h-1zM60 5h1v2h-1zM60 3h3v2h-3z"/>
<path fill="#5e01a6" d="M10 47h1v1h-1zM33 47h1v1h-1zM36 47h1v1h-1zM39 47h1v1h-1zM54 47h1v1h-1zM26 45h1v2h-1zM84 45h1v2h-1zM96 45h1v2h-1zM37 43h2v2h-2zM82 43h1v2h-1zM89 43h1v2h-1zM94 43h1v2h-1zM96 43h1v2h-1zM59 41h1v2h-1zM59 7h1v2h-1zM58 1h1v2h-1zM62 1h1v2h-1zM63 0h1v1h-1z"/>
<path fill="#6700a8" d="M9 47h1v1h-1zM35 47h1v1h-1zM38 47h1v1h-1zM40 47h1v1h-1zM67 47h1v1h-1zM1 45h2v2h-2zM5 45h1v2h-1zM38 45h1v2h-1zM69 45h2v2h-2zM82 45h2v2h-2zM86 45h1v2h-1zM53 43h1v2h-1zM64 43h1v2h-1zM66 43h2v2h-2zM79 43h1v2h-1zM37 41h1v2h-1zM94 41h1v2h-1zM63 9h1v2h-1zM58 7h1v2h-1zM61 7h2v2h-2zM80 7h1v2h-1zM96 7h1v2h-1zM53 5h1v2h-1zM61 5h1v2h-1zM87 5h1v2h-1zM58 3h1v2h-1zM61 1h1v2h-1zM89 1h1v2h-1z"/>
<path fill="#6f00a8" d="M3 47h1v1h-1zM24 47h1v1h-1zM53 47h1v1h-1zM55 47h1v1h-1zM80 47h1v1h-1zM82 47h1v1h-1zM95 47h1v1h-1zM3 45h1v2h-1zM6 45h2v2h-2zM27 45h1v2h-1zM33 45h1v2h-1zM39 45h1v2h-1zM54 45h1v2h-1zM68 45h1v2h-1zM79 45h1v2h-1zM89 45h1v2h-1zM1 43h1v2h-1zM7 43h1v2h-1zM83 43h1v2h-1zM87 43h1v2h-1zM33 41h1v2h-1zM58 41h1v2h-1zM86 41h2v2h-2zM92 41h1v2h-1zM98 41h1v2h-1zM62 9h1v2h-1zM85 9h1v2h-1zM96 9h1v2h-1zM57 7h1v2h-1zM64 7h1v2h-1zM66 7h1v2h-1zM2 5h1v2h-1zM57 5h2v2h-2zM62 5h2v2h-2zM63 3h1v2h-1zM84 3h1v2h-1zM86 3h1v2h-1zM93 3h1v2h-1zM96 3h1v2h-1zM63 1h1v2h-1zM70 1h1v2h-1zM92 1h1v2h-1zM96 1h1v2h-1zM61 0h1v1h-1zM87 0h1v1h-1z"/>
<path fill="#7701a8" d="M1 47h1v1h-1zM26 47h2v1h-2zM68 47h1v1h-1zM93 47h1v1h-1zM8 45h1v2h-1zM32 45h1v2h-1zM40 45h1v2h-1zM51 45h1v2h-1zM66 45h1v2h-1zM93 45h1v2h-1zM4 43h1v2h-1zM26 43h1v2h-1zM36 43h1v2h-1zM39 43h1v2h-1zM52 43h1v2h-1zM68 43h2v2h-2zM2 41h1v2h-1zM62 41h1v2h-1zM83 41h1v2h-1zM90 41h1v2h-1zM96 41h1v2h-1zM58 19h1v2h-1zM60 17h1v2h-1zM87 11h1v2h-1zM59 9h1v2h-1zM86 9h1v2h-1zM88 9h1v2h-1zM53 7h1v2h-1zM60 7h1v2h-1zM67 7h1v2h-1zM69 7h1v2h-1zM87 7h1v2h-1zM93 7h1v2h-1zM59 5h1v2h-1zM64 5h1v2h-1zM66 5h2v2h-2zM69 5h1v2h-1zM80 5h1v2h-1zM82 5h1v2h-1zM84 5h1v2h-1zM86 5h1v2h-1zM89 5h1v2h-1zM97 5h2v2h-2zM65 3h1v2h-1zM83 3h1v2h-1zM85 3h1v2h-1zM88 3h3v2h-3zM94 3h1v2h-1zM97 3h1v2h-1zM0 1h1v2h-1zM7 1h1v2h-1zM35 1h1v2h-1zM53 1h1v2h-1zM57 1h1v2h-1zM67 1h1v2h-1zM71 1h1v2h-1zM84 1h1v2h-1zM87 1h1v2h-1zM91 1h1v2h-1zM93 1h1v2h-1zM62 0h1v1h-1zM93 0h1v1h-1zM96 0h1v1h-1z"/>
<path fill="#8004a8" d="M0 47h1v1h-1zM4 47h1v1h-1zM25 47h1v1h-1zM32 47h1v1h-1zM49 47h1v1h-1zM52 47h1v1h-1zM65 47h1v1h-1zM78 47h1v1h-1zM81 47h1v1h-1zM0 45h1v2h-1zM35 45h1v2h-1zM37 45h1v2h-1zM65 45h1v2h-1zM0 43h1v2h-1zM6 43h1v2h-1zM8 43h3v2h-3zM22 43h1v2h-1zM28 43h1v2h-1zM32 43h1v2h-1zM35 43h1v2h-1zM40 43h1v2h-1zM10 41h1v2h-1zM57 41h1v2h-1zM84 41h2v2h-2zM88 41h1v2h-1zM0 9h1v2h-1zM60 9h1v2h-1zM84 9h1v2h-1zM87 9h1v2h-1zM90 9h1v2h-1zM98 9h1v2h-1zM9 7h1v2h-1zM49 7h1v2h-1zM63 7h1v2h-1zM85 7h1v2h-1zM94 7h1v2h-1zM97 7h2v2h-2zM65 5h1v2h-1zM90 5h1v2h-1zM92 5h2v2h-2zM95 5h1v2h-1zM8 3h1v2h-1zM64 3h1v2h-1zM66 3h1v2h-1zM69 3h1v2h-1zM80 3h1v2h-1zM98 3h1v2h-1zM65 1h1v2h-1zM69 1h1v2h-1zM83 1h1v2h-1zM90 1h1v2h-1zM95 1h1v2h-1zM98 1h1v2h-1zM60 0h1v1h-1zM69 0h1v1h-1z"/>
<path fill="#8707a6" d="M7 47h2v1h-2zM20 47h1v1h-1zM22 47h1v1h-1zM31 47h1v1h-1zM71 47h1v1h-1zM79 47h1v1h-1zM97 47h1v1h-1zM12 45h1v2h-1zM17 45h1v2h-1zM22 45h1v2h-1zM52 45h1v2h-1zM78 45h1v2h-1zM3 43h1v2h-1zM17 43h1v2h-1zM27 43h1v2h-1zM34 43h1v2h-1zM41 43h1v2h-1zM54 43h1v2h-1zM80 43h1v2h-1zM95 43h1v2h-1zM70 41h1v2h-1zM63 19h1v2h-1zM98 19h1v2h-1zM62 17h1v2h-1zM90 17h1v2h-1zM62 13h1v2h-1zM59 11h1v2h-1zM62 11h2v2h-2zM82 11h1v2h-1zM91 11h1v2h-1zM53 9h1v2h-1zM57 9h2v2h-2zM61 9h1v2h-1zM64 9h2v2h-2zM67 9h1v2h-1zM69 9h1v2h-1zM77 9h1v2h-1zM82 9h1v2h-1zM93 9h1v2h-1zM2 7h1v2h-1zM4 7h1v2h-1zM8 7h1v2h-1zM27 7h1v2h-1zM35 7h1v2h-1zM68 7h1v2h-1zM70 7h1v2h-1zM79 7h1v2h-1zM83 7h2v2h-2zM86 7h1v2h-1zM90 7h1v2h-1zM95 7h1v2h-1zM36 5h1v2h-1zM68 5h1v2h-1zM70 5h1v2h-1zM79 5h1v2h-1zM85 5h1v2h-1zM91 5h1v2h-1zM94 5h1v2h-1zM1 3h1v2h-1zM35 3h1v2h-1zM67 3h1v2h-1zM71 3h1v2h-1zM77 3h2v2h-2zM87 3h1v2h-1zM91 3h1v2h-1zM95 3h1v2h-1zM26 1h1v2h-1zM33 1h1v2h-1zM37 1h1v2h-1zM49 1h1v2h-1zM59 1h2v2h-2zM64 1h1v2h-1zM66 1h1v2h-1zM68 1h1v2h-1zM80 1h2v2h-2zM26 0h1v1h-1zM58 0h2v1h-2zM64 0h1v1h-1zM86 0h1v1h-1zM91 0h1v1h-1z"/>
<path fill="#8f0da4" d="M6 47h1v1h-1zM21 47h1v1h-1zM50 47h1v1h-1zM56 47h1v1h-1zM4 45h1v2h-1zM18 45h1v2h-1zM20 45h1v2h-1zM29 45h1v2h-1zM31 45h1v2h-1zM34 45h1v2h-1zM49 45h1v2h-1zM80 45h1v2h-1zM95 45h1v2h-1zM97 45h1v2h-1zM15 43h1v2h-1zM24 43h1v2h-1zM29 43h1v2h-1zM55 43h1v2h-1zM65 43h1v2h-1zM81 43h1v2h-1zM1 41h1v2h-1zM38 41h1v2h-1zM61 41h1v2h-1zM64 41h1v2h-1zM82 41h1v2h-1zM58 17h1v2h-1zM67 17h1v2h-1zM57 15h1v2h-1zM62 15h1v2h-1zM93 15h1v2h-1zM61 13h1v2h-1zM83 13h1v2h-1zM86 13h1v2h-1zM58 11h1v2h-1zM61 11h1v2h-1zM89 11h1v2h-1zM4 9h1v2h-1zM89 9h1v2h-1zM91 9h2v2h-2zM0 7h1v2h-1zM7 7h1v2h-1zM37 7h1v2h-1zM54 7h2v2h-2zM65 7h1v2h-1zM81 7h1v2h-1zM89 7h1v2h-1zM26 5h1v2h-1zM49 5h1v2h-1zM71 5h1v2h-1zM77 5h1v2h-1zM83 5h1v2h-1zM0 3h1v2h-1zM37 3h1v2h-1zM48 3h1v2h-1zM53 3h1v2h-1zM56 3h2v2h-2zM79 3h1v2h-1zM81 3h1v2h-1zM92 3h1v2h-1zM47 1h1v2h-1zM51 1h2v2h-2zM56 1h1v2h-1zM77 1h2v2h-2zM82 1h1v2h-1zM85 1h2v2h-2zM88 1h1v2h-1zM94 1h1v2h-1zM56 0h2v1h-2zM80 0h1v1h-1zM83 0h1v1h-1z"/>
<path fill="#9613a1" d="M5 47h1v1h-1zM18 47h1v1h-1zM34 47h1v1h-1zM48 47h1v1h-1zM51 47h1v1h-1zM24 45h1v2h-1zM41 45h1v2h-1zM48 45h1v2h-1zM53 45h1v2h-1zM55 45h1v2h-1zM81 45h1v2h-1zM25 43h1v2h-1zM31 43h1v2h-1zM71 43h1v2h-1zM97 43h1v2h-1zM3 41h1v2h-1zM9 41h1v2h-1zM67 41h1v2h-1zM69 41h1v2h-1zM61 19h2v2h-2zM57 17h1v2h-1zM59 17h1v2h-1zM84 17h1v2h-1zM86 17h1v2h-1zM59 15h3v2h-3zM79 15h1v2h-1zM81 15h1v2h-1zM83 15h2v2h-2zM90 15h1v2h-1zM92 15h1v2h-1zM0 13h1v2h-1zM90 13h1v2h-1zM93 13h1v2h-1zM96 13h1v2h-1zM1 11h1v2h-1zM9 11h1v2h-1zM57 11h1v2h-1zM60 11h1v2h-1zM80 11h2v2h-2zM84 11h1v2h-1zM98 11h1v2h-1zM7 9h2v2h-2zM26 9h1v2h-1zM54 9h2v2h-2zM66 9h1v2h-1zM71 9h1v2h-1zM79 9h1v2h-1zM94 9h1v2h-1zM26 7h1v2h-1zM47 7h1v2h-1zM52 7h1v2h-1zM56 7h1v2h-1zM77 7h1v2h-1zM91 7h1v2h-1zM0 5h2v2h-2zM4 5h1v2h-1zM6 5h1v2h-1zM55 5h1v2h-1zM88 5h1v2h-1zM96 5h1v2h-1zM2 3h1v2h-1zM26 3h2v2h-2zM49 3h1v2h-1zM52 3h1v2h-1zM54 3h1v2h-1zM68 3h1v2h-1zM82 3h1v2h-1zM6 1h1v2h-1zM23 1h1v2h-1zM25 1h1v2h-1zM97 1h1v2h-1zM1 0h1v1h-1zM49 0h1v1h-1zM53 0h1v1h-1zM67 0h1v1h-1zM70 0h1v1h-1zM89 0h2v1h-2zM97 0h2v1h-2z"/>
<path fill="#9e199d" d="M12 47h2v1h-2zM17 47h1v1h-1zM23 47h1v1h-1zM29 47h2v1h-2zM41 47h1v1h-1zM21 45h1v2h-1zM28 45h1v2h-1zM30 45h1v2h-1zM5 43h1v2h-1zM18 43h1v2h-1zM50 43h2v2h-2zM78 43h1v2h-1zM26 41h1v2h-1zM32 41h1v2h-1zM36 41h1v2h-1zM39 41h1v2h-1zM53 41h1v2h-1zM66 41h1v2h-1zM78 41h1v2h-1zM93 41h1v2h-1zM60 19h1v2h-1zM89 19h1v2h-1zM96 19h1v2h-1zM6 17h1v2h-1zM61 17h1v2h-1zM63 17h1v2h-1zM82 17h1v2h-1zM88 17h1v2h-1zM96 17h3v2h-3zM0 15h1v2h-1zM32 15h1v2h-1zM87 15h1v2h-1zM7 13h1v2h-1zM58 13h1v2h-1zM60 13h1v2h-1zM89 13h1v2h-1zM92 13h1v2h-1zM98 13h1v2h-1zM51 11h1v2h-1zM68 11h1v2h-1zM79 11h1v2h-1zM85 11h2v2h-2zM88 11h1v2h-1zM97 11h1v2h-1zM6 9h1v2h-1zM10 9h1v2h-1zM27 9h1v2h-1zM35 9h1v2h-1zM47 9h1v2h-1zM56 9h1v2h-1zM70 9h1v2h-1zM80 9h1v2h-1zM83 9h1v2h-1zM1 7h1v2h-1zM3 7h1v2h-1zM30 7h1v2h-1zM46 7h1v2h-1zM82 7h1v2h-1zM88 7h1v2h-1zM92 7h1v2h-1zM3 5h1v2h-1zM7 5h1v2h-1zM10 5h1v2h-1zM15 5h1v2h-1zM23 5h1v2h-1zM32 5h1v2h-1zM37 5h1v2h-1zM46 5h1v2h-1zM48 5h1v2h-1zM50 5h1v2h-1zM54 5h1v2h-1zM78 5h1v2h-1zM81 5h1v2h-1zM3 3h1v2h-1zM6 3h1v2h-1zM34 3h1v2h-1zM38 3h1v2h-1zM55 3h1v2h-1zM70 3h1v2h-1zM2 1h1v2h-1zM5 1h1v2h-1zM8 1h1v2h-1zM10 1h1v2h-1zM31 1h2v2h-2zM38 1h2v2h-2zM46 1h1v2h-1zM0 0h1v1h-1zM2 0h1v1h-1zM36 0h1v1h-1zM52 0h1v1h-1zM71 0h1v1h-1zM95 0h1v1h-1z"/>
<path fill="#a51f99" d="M15 47h1v1h-1zM28 47h1v1h-1zM13 45h1v2h-1zM23 45h1v2h-1zM50 45h1v2h-1zM56 45h1v2h-1zM19 43h1v2h-1zM21 43h1v2h-1zM30 43h1v2h-1zM47 43h1v2h-1zM56 43h1v2h-1zM5 41h1v2h-1zM24 41h1v2h-1zM79 41h1v2h-1zM89 41h1v2h-1zM97 41h1v2h-1zM59 21h1v2h-1zM63 21h1v2h-1zM81 21h1v2h-1zM90 21h1v2h-1zM10 19h1v2h-1zM69 19h1v2h-1zM77 19h1v2h-1zM83 19h1v2h-1zM86 19h1v2h-1zM88 19h1v2h-1zM90 19h2v2h-2zM97 19h1v2h-1zM56 17h1v2h-1zM92 17h2v2h-2zM10 15h1v2h-1zM51 15h1v2h-1zM58 15h1v2h-1zM63 15h1v2h-1zM67 15h1v2h-1zM69 15h1v2h-1zM82 15h1v2h-1zM85 15h2v2h-2zM88 15h2v2h-2zM91 15h1v2h-1zM97 15h2v2h-2zM1 13h1v2h-1zM6 13h1v2h-1zM34 13h1v2h-1zM52 13h1v2h-1zM54 13h1v2h-1zM79 13h1v2h-1zM84 13h1v2h-1zM8 11h1v2h-1zM25 11h2v2h-2zM34 11h1v2h-1zM64 11h1v2h-1zM78 11h1v2h-1zM92 11h1v2h-1zM2 9h1v2h-1zM30 9h1v2h-1zM37 9h2v2h-2zM44 9h1v2h-1zM49 9h1v2h-1zM52 9h1v2h-1zM78 9h1v2h-1zM95 9h1v2h-1zM10 7h1v2h-1zM33 7h2v2h-2zM36 7h1v2h-1zM38 7h2v2h-2zM50 7h1v2h-1zM71 7h1v2h-1zM76 7h1v2h-1zM78 7h1v2h-1zM8 5h1v2h-1zM30 5h2v2h-2zM33 5h1v2h-1zM35 5h1v2h-1zM39 5h1v2h-1zM51 5h2v2h-2zM4 3h1v2h-1zM10 3h1v2h-1zM46 3h1v2h-1zM50 3h2v2h-2zM1 1h1v2h-1zM45 1h1v2h-1zM48 1h1v2h-1zM54 1h2v2h-2zM4 0h1v1h-1zM46 0h1v1h-1zM54 0h1v1h-1zM68 0h1v1h-1zM77 0h1v1h-1zM84 0h1v1h-1zM92 0h1v1h-1zM94 0h1v1h-1z"/>
<path fill="#ac2694" d="M11 47h1v1h-1zM15 45h1v2h-1zM19 45h1v2h-1zM25 45h1v2h-1zM47 45h1v2h-1zM13 43h1v2h-1zM23 43h1v2h-1zM0 41h1v2h-1zM8 41h1v2h-1zM28 41h1v2h-1zM35 41h1v2h-1zM40 41h2v2h-2zM50 41h1v2h-1zM65 41h1v2h-1zM80 41h1v2h-1zM95 41h1v2h-1zM60 21h1v2h-1zM83 21h1v2h-1zM87 21h1v2h-1zM92 21h1v2h-1zM9 19h1v2h-1zM34 19h1v2h-1zM79 19h1v2h-1zM85 19h1v2h-1zM94 19h1v2h-1zM53 17h1v2h-1zM70 17h1v2h-1zM79 17h1v2h-1zM85 17h1v2h-1zM95 17h1v2h-1zM1 15h1v2h-1zM9 15h1v2h-1zM25 15h2v2h-2zM34 15h1v2h-1zM47 15h1v2h-1zM53 15h1v2h-1zM56 15h1v2h-1zM77 15h1v2h-1zM94 15h1v2h-1zM51 13h1v2h-1zM53 13h1v2h-1zM59 13h1v2h-1zM63 13h1v2h-1zM69 13h1v2h-1zM81 13h1v2h-1zM0 11h1v2h-1zM2 11h1v2h-1zM7 11h1v2h-1zM36 11h1v2h-1zM50 11h1v2h-1zM53 11h3v2h-3zM65 11h1v2h-1zM67 11h1v2h-1zM71 11h1v2h-1zM77 11h1v2h-1zM83 11h1v2h-1zM90 11h1v2h-1zM93 11h2v2h-2zM96 11h1v2h-1zM1 9h1v2h-1zM3 9h1v2h-1zM33 9h1v2h-1zM36 9h1v2h-1zM46 9h1v2h-1zM50 9h1v2h-1zM68 9h1v2h-1zM76 9h1v2h-1zM81 9h1v2h-1zM97 9h1v2h-1zM5 7h2v2h-2zM22 7h1v2h-1zM31 7h2v2h-2zM51 7h1v2h-1zM5 5h1v2h-1zM16 5h1v2h-1zM22 5h1v2h-1zM27 5h1v2h-1zM34 5h1v2h-1zM38 5h1v2h-1zM47 5h1v2h-1zM56 5h1v2h-1zM72 5h1v2h-1zM7 3h1v2h-1zM9 3h1v2h-1zM23 3h1v2h-1zM25 3h1v2h-1zM30 3h2v2h-2zM42 3h1v2h-1zM44 3h1v2h-1zM3 1h1v2h-1zM9 1h1v2h-1zM16 1h1v2h-1zM34 1h1v2h-1zM79 1h1v2h-1zM7 0h1v1h-1zM10 0h1v1h-1zM38 0h1v1h-1zM48 0h1v1h-1zM79 0h1v1h-1zM81 0h2v1h-2zM85 0h1v1h-1zM88 0h1v1h-1z"/>
<path fill="#b22b8f" d="M46 47h2v1h-2zM77 47h1v1h-1zM11 45h1v2h-1zM46 45h1v2h-1zM71 45h1v2h-1zM20 43h1v2h-1zM48 43h2v2h-2zM4 41h1v2h-1zM7 41h1v2h-1zM13 41h1v2h-1zM17 41h1v2h-1zM22 41h1v2h-1zM27 41h1v2h-1zM29 41h2v2h-2zM49 41h1v2h-1zM51 41h1v2h-1zM54 41h1v2h-1zM56 41h1v2h-1zM87 29h1v2h-1zM8 27h1v2h-1zM63 27h1v2h-1zM85 27h1v2h-1zM87 27h1v2h-1zM57 21h2v2h-2zM61 21h1v2h-1zM69 21h1v2h-1zM79 21h1v2h-1zM91 21h1v2h-1zM93 21h1v2h-1zM35 19h1v2h-1zM51 19h1v2h-1zM57 19h1v2h-1zM82 19h1v2h-1zM92 19h1v2h-1zM8 17h3v2h-3zM35 17h2v2h-2zM51 17h2v2h-2zM64 17h3v2h-3zM68 17h2v2h-2zM77 17h1v2h-1zM83 17h1v2h-1zM87 17h1v2h-1zM89 17h1v2h-1zM5 15h1v2h-1zM33 15h1v2h-1zM38 15h1v2h-1zM52 15h1v2h-1zM64 15h2v2h-2zM76 15h1v2h-1zM78 15h1v2h-1zM96 15h1v2h-1zM5 13h1v2h-1zM8 13h2v2h-2zM25 13h1v2h-1zM27 13h1v2h-1zM32 13h1v2h-1zM36 13h1v2h-1zM48 13h1v2h-1zM65 13h1v2h-1zM67 13h2v2h-2zM78 13h1v2h-1zM80 13h1v2h-1zM82 13h1v2h-1zM88 13h1v2h-1zM94 13h2v2h-2zM27 11h1v2h-1zM46 11h1v2h-1zM52 11h1v2h-1zM56 11h1v2h-1zM66 11h1v2h-1zM69 11h2v2h-2zM5 9h1v2h-1zM9 9h1v2h-1zM17 9h1v2h-1zM25 9h1v2h-1zM29 9h1v2h-1zM32 9h1v2h-1zM34 9h1v2h-1zM39 9h1v2h-1zM48 9h1v2h-1zM15 7h1v2h-1zM45 7h1v2h-1zM48 7h1v2h-1zM76 5h1v2h-1zM12 3h1v2h-1zM22 3h1v2h-1zM33 3h1v2h-1zM36 3h1v2h-1zM45 3h1v2h-1zM76 3h1v2h-1zM27 1h1v2h-1zM30 1h1v2h-1zM36 1h1v2h-1zM50 1h1v2h-1zM76 1h1v2h-1zM5 0h1v1h-1zM22 0h1v1h-1zM27 0h1v1h-1zM33 0h1v1h-1zM37 0h1v1h-1zM55 0h1v1h-1zM65 0h1v1h-1z"/>
<path fill="#b7318a" d="M19 47h1v1h-1zM76 47h1v1h-1zM46 43h1v2h-1zM15 41h1v2h-1zM23 41h1v2h-1zM31 41h1v2h-1zM34 41h1v2h-1zM52 41h1v2h-1zM55 41h1v2h-1zM68 41h1v2h-1zM81 41h1v2h-1zM63 29h1v2h-1zM84 29h1v2h-1zM84 27h1v2h-1zM89 27h1v2h-1zM64 25h1v2h-1zM51 21h1v2h-1zM56 21h1v2h-1zM62 21h1v2h-1zM84 21h1v2h-1zM89 21h1v2h-1zM97 21h1v2h-1zM5 19h3v2h-3zM26 19h1v2h-1zM32 19h1v2h-1zM36 19h1v2h-1zM39 19h1v2h-1zM52 19h1v2h-1zM66 19h1v2h-1zM71 19h1v2h-1zM80 19h1v2h-1zM87 19h1v2h-1zM93 19h1v2h-1zM1 17h1v2h-1zM7 17h1v2h-1zM25 17h1v2h-1zM34 17h1v2h-1zM78 17h1v2h-1zM80 17h2v2h-2zM91 17h1v2h-1zM94 17h1v2h-1zM8 15h1v2h-1zM48 15h1v2h-1zM66 15h1v2h-1zM68 15h1v2h-1zM70 15h1v2h-1zM80 15h1v2h-1zM26 13h1v2h-1zM37 13h1v2h-1zM50 13h1v2h-1zM55 13h1v2h-1zM66 13h1v2h-1zM85 13h1v2h-1zM87 13h1v2h-1zM91 13h1v2h-1zM97 13h1v2h-1zM10 11h1v2h-1zM16 11h1v2h-1zM31 11h2v2h-2zM35 11h1v2h-1zM39 11h1v2h-1zM18 9h1v2h-1zM23 9h1v2h-1zM31 9h1v2h-1zM51 9h1v2h-1zM16 7h1v2h-1zM23 7h1v2h-1zM25 7h1v2h-1zM40 7h1v2h-1zM9 5h1v2h-1zM25 5h1v2h-1zM29 5h1v2h-1zM73 5h1v2h-1zM15 3h3v2h-3zM28 3h2v2h-2zM39 3h1v2h-1zM47 3h1v2h-1zM74 3h1v2h-1zM4 1h1v2h-1zM18 1h1v2h-1zM42 1h1v2h-1zM73 1h1v2h-1zM9 0h1v1h-1zM16 0h1v1h-1zM23 0h1v1h-1zM34 0h2v1h-2zM39 0h1v1h-1zM47 0h1v1h-1zM51 0h1v1h-1zM66 0h1v1h-1z"/>
<path fill="#be3885" d="M45 45h1v2h-1zM77 45h1v2h-1zM6 41h1v2h-1zM18 41h1v2h-1zM71 41h1v2h-1zM57 35h2v2h-2zM86 33h1v2h-1zM89 33h1v2h-1zM57 31h1v2h-1zM57 29h2v2h-2zM89 29h1v2h-1zM59 27h1v2h-1zM64 27h1v2h-1zM86 27h1v2h-1zM91 27h1v2h-1zM96 27h1v2h-1zM8 25h1v2h-1zM52 25h1v2h-1zM63 25h1v2h-1zM7 21h1v2h-1zM10 21h1v2h-1zM25 21h2v2h-2zM32 21h1v2h-1zM53 21h1v2h-1zM77 21h1v2h-1zM80 21h1v2h-1zM85 21h2v2h-2zM88 21h1v2h-1zM27 19h1v2h-1zM33 19h1v2h-1zM38 19h1v2h-1zM55 19h2v2h-2zM59 19h1v2h-1zM64 19h1v2h-1zM68 19h1v2h-1zM70 19h1v2h-1zM84 19h1v2h-1zM2 17h2v2h-2zM5 17h1v2h-1zM27 17h1v2h-1zM30 17h1v2h-1zM46 17h3v2h-3zM55 17h1v2h-1zM71 17h1v2h-1zM76 17h1v2h-1zM2 15h1v2h-1zM27 15h1v2h-1zM39 15h1v2h-1zM50 15h1v2h-1zM54 15h1v2h-1zM95 15h1v2h-1zM4 13h1v2h-1zM31 13h1v2h-1zM33 13h1v2h-1zM38 13h2v2h-2zM47 13h1v2h-1zM56 13h2v2h-2zM64 13h1v2h-1zM70 13h1v2h-1zM4 11h1v2h-1zM38 11h1v2h-1zM49 11h1v2h-1zM75 11h1v2h-1zM95 11h1v2h-1zM19 9h1v2h-1zM42 7h1v2h-1zM44 7h1v2h-1zM17 5h1v2h-1zM28 5h1v2h-1zM44 5h1v2h-1zM5 3h1v2h-1zM15 1h1v2h-1zM19 1h1v2h-1zM29 1h1v2h-1zM44 1h1v2h-1zM6 0h1v1h-1zM8 0h1v1h-1zM25 0h1v1h-1zM30 0h1v1h-1zM32 0h1v1h-1zM50 0h1v1h-1zM78 0h1v1h-1z"/>
<path fill="#c33d80" d="M43 47h1v1h-1zM16 45h1v2h-1zM12 43h1v2h-1zM43 43h1v2h-1zM76 43h2v2h-2zM12 41h1v2h-1zM19 41h1v2h-1zM25 41h1v2h-1zM58 39h1v2h-1zM61 39h1v2h-1zM7 29h1v2h-1zM36 29h1v2h-1zM52 29h1v2h-1zM64 29h1v2h-1zM92 29h1v2h-1zM96 29h1v2h-1zM52 27h1v2h-1zM68 27h1v2h-1zM88 27h1v2h-1zM26 25h1v2h-1zM58 25h1v2h-1zM61 25h1v2h-1zM84 25h2v2h-2zM87 25h3v2h-3zM96 25h1v2h-1zM63 23h1v2h-1zM84 23h1v2h-1zM89 23h1v2h-1zM4 21h1v2h-1zM8 21h2v2h-2zM36 21h1v2h-1zM38 21h1v2h-1zM64 21h1v2h-1zM68 21h1v2h-1zM96 21h1v2h-1zM98 21h1v2h-1zM1 19h1v2h-1zM8 19h1v2h-1zM47 19h2v2h-2zM78 19h1v2h-1zM0 17h1v2h-1zM23 17h1v2h-1zM33 17h1v2h-1zM4 15h1v2h-1zM7 15h1v2h-1zM16 15h1v2h-1zM22 15h1v2h-1zM36 15h2v2h-2zM2 13h2v2h-2zM10 13h1v2h-1zM16 13h1v2h-1zM23 13h1v2h-1zM30 13h1v2h-1zM35 13h1v2h-1zM77 13h1v2h-1zM3 11h1v2h-1zM5 11h2v2h-2zM29 11h2v2h-2zM37 11h1v2h-1zM72 11h1v2h-1zM76 11h1v2h-1zM16 9h1v2h-1zM28 9h1v2h-1zM40 9h2v2h-2zM72 9h1v2h-1zM11 7h1v2h-1zM17 7h2v2h-2zM28 7h1v2h-1zM73 7h1v2h-1zM19 5h1v2h-1zM40 5h1v2h-1zM42 5h1v2h-1zM45 5h1v2h-1zM13 3h1v2h-1zM32 3h1v2h-1zM73 3h1v2h-1zM75 3h1v2h-1zM11 1h1v2h-1zM17 1h1v2h-1zM22 1h1v2h-1zM28 1h1v2h-1zM41 1h1v2h-1zM75 1h1v2h-1zM15 0h1v1h-1zM31 0h1v1h-1z"/>
<path fill="#c9447a" d="M14 47h1v1h-1zM74 47h1v1h-1zM43 45h1v2h-1zM20 41h1v2h-1zM47 41h2v2h-2zM62 39h1v2h-1zM85 39h2v2h-2zM96 39h1v2h-1zM89 37h1v2h-1zM92 37h1v2h-1zM7 35h1v2h-1zM63 35h1v2h-1zM92 35h1v2h-1zM98 35h1v2h-1zM52 33h1v2h-1zM62 33h1v2h-1zM65 33h1v2h-1zM83 33h1v2h-1zM3 31h1v2h-1zM5 31h1v2h-1zM47 31h1v2h-1zM60 31h1v2h-1zM63 31h1v2h-1zM65 31h1v2h-1zM93 31h1v2h-1zM38 29h1v2h-1zM49 29h1v2h-1zM53 29h1v2h-1zM59 29h1v2h-1zM68 29h1v2h-1zM80 29h1v2h-1zM86 29h1v2h-1zM91 29h1v2h-1zM93 29h1v2h-1zM10 27h1v2h-1zM26 27h1v2h-1zM35 27h1v2h-1zM38 27h1v2h-1zM61 27h1v2h-1zM90 27h1v2h-1zM92 27h1v2h-1zM25 25h1v2h-1zM33 25h1v2h-1zM36 25h1v2h-1zM38 25h1v2h-1zM57 25h1v2h-1zM59 25h1v2h-1zM62 25h1v2h-1zM68 25h2v2h-2zM81 25h1v2h-1zM92 25h1v2h-1zM97 25h1v2h-1zM8 23h1v2h-1zM26 23h1v2h-1zM60 23h1v2h-1zM86 23h1v2h-1zM0 21h2v2h-2zM3 21h1v2h-1zM6 21h1v2h-1zM37 21h1v2h-1zM52 21h1v2h-1zM65 21h1v2h-1zM70 21h1v2h-1zM82 21h1v2h-1zM0 19h1v2h-1zM17 19h1v2h-1zM25 19h1v2h-1zM37 19h1v2h-1zM40 19h1v2h-1zM49 19h1v2h-1zM53 19h1v2h-1zM65 19h1v2h-1zM67 19h1v2h-1zM76 19h1v2h-1zM4 17h1v2h-1zM17 17h1v2h-1zM26 17h1v2h-1zM32 17h1v2h-1zM39 17h2v2h-2zM50 17h1v2h-1zM3 15h1v2h-1zM6 15h1v2h-1zM40 15h1v2h-1zM55 15h1v2h-1zM71 15h1v2h-1zM40 13h1v2h-1zM71 13h1v2h-1zM15 11h1v2h-1zM21 11h1v2h-1zM47 11h2v2h-2zM11 9h1v2h-1zM22 9h1v2h-1zM45 9h1v2h-1zM73 9h1v2h-1zM75 9h1v2h-1zM12 7h1v2h-1zM19 7h1v2h-1zM72 7h1v2h-1zM75 7h1v2h-1zM12 5h1v2h-1zM18 5h1v2h-1zM72 3h1v2h-1zM40 1h1v2h-1zM3 0h1v1h-1zM29 0h1v1h-1zM44 0h2v1h-2z"/>
<path fill="#cd4a76" d="M16 47h1v1h-1zM42 47h1v1h-1zM72 47h1v1h-1zM76 45h1v2h-1zM11 43h1v2h-1zM16 43h1v2h-1zM74 43h1v2h-1zM77 41h1v2h-1zM10 39h1v2h-1zM53 39h1v2h-1zM65 39h1v2h-1zM69 39h1v2h-1zM84 39h1v2h-1zM89 39h1v2h-1zM9 37h1v2h-1zM58 37h1v2h-1zM61 37h4v2h-4zM68 37h2v2h-2zM90 37h1v2h-1zM97 37h1v2h-1zM9 35h1v2h-1zM61 35h1v2h-1zM68 35h1v2h-1zM86 35h1v2h-1zM89 35h1v2h-1zM91 35h1v2h-1zM96 35h1v2h-1zM1 33h1v2h-1zM53 33h1v2h-1zM57 33h1v2h-1zM61 33h1v2h-1zM68 33h1v2h-1zM85 33h1v2h-1zM87 33h1v2h-1zM93 33h1v2h-1zM98 33h1v2h-1zM34 31h1v2h-1zM49 31h1v2h-1zM59 31h1v2h-1zM61 31h2v2h-2zM64 31h1v2h-1zM66 31h2v2h-2zM84 31h1v2h-1zM86 31h1v2h-1zM91 31h2v2h-2zM98 31h1v2h-1zM8 29h1v2h-1zM61 29h1v2h-1zM88 29h1v2h-1zM90 29h1v2h-1zM36 27h1v2h-1zM39 27h1v2h-1zM57 27h2v2h-2zM60 27h1v2h-1zM65 27h1v2h-1zM67 27h1v2h-1zM81 27h1v2h-1zM93 27h1v2h-1zM97 27h1v2h-1zM5 25h1v2h-1zM7 25h1v2h-1zM9 25h1v2h-1zM49 25h1v2h-1zM60 25h1v2h-1zM65 25h1v2h-1zM90 25h1v2h-1zM93 25h1v2h-1zM59 23h1v2h-1zM91 23h2v2h-2zM2 21h1v2h-1zM5 21h1v2h-1zM29 21h1v2h-1zM46 21h1v2h-1zM54 21h1v2h-1zM66 21h2v2h-2zM94 21h1v2h-1zM2 19h1v2h-1zM30 19h2v2h-2zM46 19h1v2h-1zM81 19h1v2h-1zM16 17h1v2h-1zM22 17h1v2h-1zM31 17h1v2h-1zM37 17h1v2h-1zM54 17h1v2h-1zM21 15h1v2h-1zM29 15h1v2h-1zM31 15h1v2h-1zM45 15h2v2h-2zM72 15h1v2h-1zM11 13h1v2h-1zM21 13h1v2h-1zM17 11h1v2h-1zM22 11h3v2h-3zM44 11h1v2h-1zM15 9h1v2h-1zM42 9h1v2h-1zM21 7h1v2h-1zM29 7h1v2h-1zM41 7h1v2h-1zM11 5h1v2h-1zM18 3h2v2h-2zM40 3h1v2h-1zM12 1h1v2h-1zM14 1h1v2h-1zM21 1h1v2h-1zM74 1h1v2h-1zM17 0h1v1h-1zM75 0h2v1h-2z"/>
<path fill="#d35171" d="M44 47h2v1h-2zM73 47h1v1h-1zM42 45h1v2h-1zM44 45h1v2h-1zM73 45h1v2h-1zM42 43h1v2h-1zM45 43h1v2h-1zM21 41h1v2h-1zM1 39h1v2h-1zM64 39h1v2h-1zM68 39h1v2h-1zM87 39h1v2h-1zM91 39h1v2h-1zM3 37h1v2h-1zM60 37h1v2h-1zM67 37h1v2h-1zM84 37h1v2h-1zM86 37h2v2h-2zM91 37h1v2h-1zM93 37h1v2h-1zM96 37h1v2h-1zM1 35h1v2h-1zM52 35h1v2h-1zM64 35h2v2h-2zM80 35h1v2h-1zM83 35h1v2h-1zM87 35h1v2h-1zM7 33h1v2h-1zM10 33h1v2h-1zM58 33h1v2h-1zM60 33h1v2h-1zM63 33h1v2h-1zM90 33h1v2h-1zM92 33h1v2h-1zM6 31h1v2h-1zM35 31h1v2h-1zM38 31h1v2h-1zM40 31h1v2h-1zM52 31h2v2h-2zM58 31h1v2h-1zM68 31h1v2h-1zM70 31h1v2h-1zM85 31h1v2h-1zM89 31h2v2h-2zM97 31h1v2h-1zM1 29h1v2h-1zM9 29h2v2h-2zM25 29h2v2h-2zM47 29h1v2h-1zM54 29h1v2h-1zM62 29h1v2h-1zM65 29h1v2h-1zM77 29h1v2h-1zM83 29h1v2h-1zM7 27h1v2h-1zM9 27h1v2h-1zM25 27h1v2h-1zM83 27h1v2h-1zM98 27h1v2h-1zM2 25h1v2h-1zM4 25h1v2h-1zM6 25h1v2h-1zM53 25h1v2h-1zM56 25h1v2h-1zM80 25h1v2h-1zM83 25h1v2h-1zM91 25h1v2h-1zM98 25h1v2h-1zM10 23h1v2h-1zM35 23h1v2h-1zM39 23h1v2h-1zM57 23h1v2h-1zM62 23h1v2h-1zM64 23h1v2h-1zM83 23h1v2h-1zM88 23h1v2h-1zM96 23h1v2h-1zM27 21h1v2h-1zM33 21h3v2h-3zM48 21h2v2h-2zM55 21h1v2h-1zM78 21h1v2h-1zM3 19h2v2h-2zM50 19h1v2h-1zM54 19h1v2h-1zM72 19h1v2h-1zM95 19h1v2h-1zM12 17h1v2h-1zM15 17h1v2h-1zM24 17h1v2h-1zM41 17h1v2h-1zM49 17h1v2h-1zM11 15h1v2h-1zM41 15h1v2h-1zM49 15h1v2h-1zM75 15h1v2h-1zM15 13h1v2h-1zM18 13h1v2h-1zM22 13h1v2h-1zM49 13h1v2h-1zM72 13h1v2h-1zM76 13h1v2h-1zM11 11h1v2h-1zM33 11h1v2h-1zM40 11h1v2h-1zM12 9h1v2h-1zM20 9h1v2h-1zM24 9h1v2h-1zM74 9h1v2h-1zM13 7h2v2h-2zM74 7h1v2h-1zM41 5h1v2h-1zM75 5h1v2h-1zM11 3h1v2h-1zM20 3h1v2h-1zM41 3h1v2h-1zM24 1h1v2h-1zM43 1h1v2h-1zM72 1h1v2h-1zM11 0h1v1h-1zM73 0h1v1h-1z"/>
<path fill="#d7566c" d="M72 45h1v2h-1zM74 45h1v2h-1zM5 39h1v2h-1zM57 39h1v2h-1zM63 39h1v2h-1zM70 39h1v2h-1zM83 39h1v2h-1zM88 39h1v2h-1zM4 37h1v2h-1zM10 37h1v2h-1zM38 37h1v2h-1zM52 37h2v2h-2zM57 37h1v2h-1zM70 37h1v2h-1zM85 37h1v2h-1zM88 37h1v2h-1zM98 37h1v2h-1zM26 35h1v2h-1zM31 35h1v2h-1zM49 35h1v2h-1zM60 35h1v2h-1zM88 35h1v2h-1zM90 35h1v2h-1zM26 33h1v2h-1zM59 33h1v2h-1zM64 33h1v2h-1zM84 33h1v2h-1zM91 33h1v2h-1zM94 33h1v2h-1zM96 33h1v2h-1zM7 31h1v2h-1zM9 31h2v2h-2zM25 31h1v2h-1zM36 31h1v2h-1zM69 31h1v2h-1zM82 31h1v2h-1zM88 31h1v2h-1zM96 31h1v2h-1zM2 29h1v2h-1zM27 29h1v2h-1zM37 29h1v2h-1zM70 29h1v2h-1zM81 29h1v2h-1zM94 29h1v2h-1zM98 29h1v2h-1zM0 27h2v2h-2zM6 27h1v2h-1zM47 27h1v2h-1zM54 27h1v2h-1zM69 27h1v2h-1zM94 27h1v2h-1zM10 25h1v2h-1zM29 25h1v2h-1zM35 25h1v2h-1zM39 25h1v2h-1zM47 25h1v2h-1zM66 25h1v2h-1zM86 25h1v2h-1zM47 23h2v2h-2zM52 23h1v2h-1zM58 23h1v2h-1zM61 23h1v2h-1zM93 23h1v2h-1zM97 23h1v2h-1zM50 21h1v2h-1zM71 21h1v2h-1zM95 21h1v2h-1zM16 19h1v2h-1zM22 19h3v2h-3zM28 17h1v2h-1zM38 17h1v2h-1zM44 17h2v2h-2zM17 15h1v2h-1zM30 15h1v2h-1zM35 15h1v2h-1zM12 13h1v2h-1zM24 13h1v2h-1zM28 13h2v2h-2zM41 13h1v2h-1zM46 13h1v2h-1zM19 11h2v2h-2zM28 11h1v2h-1zM41 11h1v2h-1zM45 11h1v2h-1zM14 9h1v2h-1zM21 9h1v2h-1zM20 7h1v2h-1zM43 7h1v2h-1zM13 5h1v2h-1zM21 5h1v2h-1zM24 5h1v2h-1zM74 5h1v2h-1zM43 3h1v2h-1zM13 1h1v2h-1zM20 1h1v2h-1zM12 0h1v1h-1zM28 0h1v1h-1zM40 0h1v1h-1zM74 0h1v1h-1z"/>
<path fill="#dc5d67" d="M14 45h1v2h-1zM75 45h1v2h-1zM72 43h2v2h-2zM11 41h1v2h-1zM16 41h1v2h-1zM42 41h2v2h-2zM46 41h1v2h-1zM4 39h1v2h-1zM9 39h1v2h-1zM47 39h1v2h-1zM49 39h1v2h-1zM54 39h1v2h-1zM59 39h1v2h-1zM93 39h1v2h-1zM97 39h2v2h-2zM0 37h2v2h-2zM5 37h1v2h-1zM7 37h1v2h-1zM35 37h3v2h-3zM3 35h3v2h-3zM10 35h1v2h-1zM40 35h1v2h-1zM59 35h1v2h-1zM62 35h1v2h-1zM66 35h2v2h-2zM70 35h1v2h-1zM77 35h1v2h-1zM85 35h1v2h-1zM93 35h1v2h-1zM97 35h1v2h-1zM0 33h1v2h-1zM3 33h1v2h-1zM5 33h1v2h-1zM25 33h1v2h-1zM34 33h1v2h-1zM37 33h1v2h-1zM56 33h1v2h-1zM67 33h1v2h-1zM69 33h1v2h-1zM0 31h3v2h-3zM4 31h1v2h-1zM17 31h1v2h-1zM26 31h2v2h-2zM33 31h1v2h-1zM80 31h1v2h-1zM83 31h1v2h-1zM87 31h1v2h-1zM94 31h1v2h-1zM0 29h1v2h-1zM3 29h1v2h-1zM5 29h1v2h-1zM35 29h1v2h-1zM39 29h2v2h-2zM51 29h1v2h-1zM66 29h2v2h-2zM69 29h1v2h-1zM97 29h1v2h-1zM2 27h1v2h-1zM29 27h2v2h-2zM32 27h2v2h-2zM62 27h1v2h-1zM66 27h1v2h-1zM76 27h2v2h-2zM80 27h1v2h-1zM16 25h1v2h-1zM37 25h1v2h-1zM40 25h1v2h-1zM46 25h1v2h-1zM54 25h1v2h-1zM70 25h1v2h-1zM77 25h1v2h-1zM0 23h2v2h-2zM6 23h2v2h-2zM29 23h1v2h-1zM36 23h1v2h-1zM38 23h1v2h-1zM66 23h2v2h-2zM70 23h1v2h-1zM80 23h1v2h-1zM87 23h1v2h-1zM94 23h1v2h-1zM98 23h1v2h-1zM15 21h2v2h-2zM24 21h1v2h-1zM39 21h2v2h-2zM76 21h1v2h-1zM12 19h1v2h-1zM29 19h1v2h-1zM19 17h2v2h-2zM29 17h1v2h-1zM15 15h1v2h-1zM18 15h1v2h-1zM20 15h1v2h-1zM23 15h1v2h-1zM28 15h1v2h-1zM44 15h1v2h-1zM20 13h1v2h-1zM75 13h1v2h-1zM18 11h1v2h-1zM42 11h2v2h-2zM43 9h1v2h-1zM24 7h1v2h-1zM43 5h1v2h-1zM14 3h1v2h-1zM24 3h1v2h-1zM14 0h1v1h-1zM19 0h1v1h-1zM41 0h2v1h-2z"/>
<path fill="#e06363" d="M75 47h1v1h-1zM14 43h1v2h-1zM75 43h1v2h-1zM73 41h2v2h-2zM27 39h1v2h-1zM52 39h1v2h-1zM67 39h1v2h-1zM92 39h1v2h-1zM6 37h1v2h-1zM59 37h1v2h-1zM66 37h1v2h-1zM78 37h1v2h-1zM83 37h1v2h-1zM36 35h2v2h-2zM53 35h2v2h-2zM69 35h1v2h-1zM84 35h1v2h-1zM4 33h1v2h-1zM9 33h1v2h-1zM32 33h1v2h-1zM38 33h1v2h-1zM48 33h1v2h-1zM54 33h1v2h-1zM70 33h1v2h-1zM97 33h1v2h-1zM8 31h1v2h-1zM24 31h1v2h-1zM39 31h1v2h-1zM41 31h1v2h-1zM50 31h1v2h-1zM54 31h1v2h-1zM77 31h1v2h-1zM81 31h1v2h-1zM6 29h1v2h-1zM24 29h1v2h-1zM34 29h1v2h-1zM46 29h1v2h-1zM55 29h1v2h-1zM60 29h1v2h-1zM85 29h1v2h-1zM3 27h1v2h-1zM5 27h1v2h-1zM23 27h1v2h-1zM37 27h1v2h-1zM40 27h1v2h-1zM51 27h1v2h-1zM70 27h1v2h-1zM1 25h1v2h-1zM3 25h1v2h-1zM24 25h1v2h-1zM31 25h2v2h-2zM34 25h1v2h-1zM41 25h1v2h-1zM48 25h1v2h-1zM51 25h1v2h-1zM94 25h1v2h-1zM9 23h1v2h-1zM16 23h1v2h-1zM25 23h1v2h-1zM46 23h1v2h-1zM51 23h1v2h-1zM53 23h1v2h-1zM55 23h1v2h-1zM65 23h1v2h-1zM68 23h2v2h-2zM81 23h2v2h-2zM85 23h1v2h-1zM90 23h1v2h-1zM17 21h1v2h-1zM22 21h2v2h-2zM30 21h2v2h-2zM47 21h1v2h-1zM11 19h1v2h-1zM18 19h1v2h-1zM21 19h1v2h-1zM42 19h1v2h-1zM45 19h1v2h-1zM75 19h1v2h-1zM11 17h1v2h-1zM18 17h1v2h-1zM21 17h1v2h-1zM42 17h1v2h-1zM14 15h1v2h-1zM24 15h1v2h-1zM42 15h1v2h-1zM17 13h1v2h-1zM44 13h2v2h-2zM74 11h1v2h-1zM13 9h1v2h-1zM20 5h1v2h-1zM21 0h1v1h-1zM24 0h1v1h-1zM72 0h1v1h-1z"/>
<path fill="#e4695e" d="M44 43h1v2h-1zM45 41h1v2h-1zM72 41h1v2h-1zM2 39h2v2h-2zM8 39h1v2h-1zM26 39h1v2h-1zM34 39h4v2h-4zM94 39h2v2h-2zM23 37h1v2h-1zM33 37h2v2h-2zM40 37h1v2h-1zM47 37h1v2h-1zM49 37h1v2h-1zM51 37h1v2h-1zM65 37h1v2h-1zM77 37h1v2h-1zM6 35h1v2h-1zM8 35h1v2h-1zM25 35h1v2h-1zM27 35h1v2h-1zM34 35h1v2h-1zM39 35h1v2h-1zM47 35h1v2h-1zM51 35h1v2h-1zM8 33h1v2h-1zM21 33h1v2h-1zM30 33h1v2h-1zM35 33h1v2h-1zM46 33h1v2h-1zM50 33h2v2h-2zM77 33h1v2h-1zM20 31h1v2h-1zM32 31h1v2h-1zM37 31h1v2h-1zM45 31h1v2h-1zM48 31h1v2h-1zM51 31h1v2h-1zM4 29h1v2h-1zM17 29h1v2h-1zM29 29h3v2h-3zM33 29h1v2h-1zM48 29h1v2h-1zM56 29h1v2h-1zM78 29h1v2h-1zM16 27h1v2h-1zM24 27h1v2h-1zM28 27h1v2h-1zM31 27h1v2h-1zM48 27h2v2h-2zM53 27h1v2h-1zM55 27h1v2h-1zM79 27h1v2h-1zM15 25h1v2h-1zM17 25h1v2h-1zM23 25h1v2h-1zM78 25h1v2h-1zM82 25h1v2h-1zM3 23h1v2h-1zM5 23h1v2h-1zM32 23h2v2h-2zM49 23h1v2h-1zM95 23h1v2h-1zM11 21h1v2h-1zM15 19h1v2h-1zM28 19h1v2h-1zM75 17h1v2h-1zM12 15h1v2h-1zM74 15h1v2h-1zM19 13h1v2h-1zM42 13h1v2h-1zM12 11h3v2h-3zM73 11h1v2h-1zM14 5h1v2h-1zM21 3h1v2h-1zM20 0h1v1h-1z"/>
<path fill="#e87059" d="M14 41h1v2h-1zM44 41h1v2h-1zM76 41h1v2h-1zM6 39h2v2h-2zM17 39h1v2h-1zM25 39h1v2h-1zM38 39h1v2h-1zM46 39h1v2h-1zM48 39h1v2h-1zM51 39h1v2h-1zM60 39h1v2h-1zM90 39h1v2h-1zM2 37h1v2h-1zM8 37h1v2h-1zM17 37h1v2h-1zM26 37h1v2h-1zM32 37h1v2h-1zM54 37h1v2h-1zM80 37h1v2h-1zM2 35h1v2h-1zM21 35h1v2h-1zM23 35h1v2h-1zM35 35h1v2h-1zM38 35h1v2h-1zM46 35h1v2h-1zM94 35h1v2h-1zM2 33h1v2h-1zM6 33h1v2h-1zM19 33h1v2h-1zM23 33h2v2h-2zM36 33h1v2h-1zM39 33h1v2h-1zM47 33h1v2h-1zM49 33h1v2h-1zM55 33h1v2h-1zM66 33h1v2h-1zM79 33h2v2h-2zM88 33h1v2h-1zM11 31h1v2h-1zM21 31h1v2h-1zM28 31h2v2h-2zM46 31h1v2h-1zM71 31h1v2h-1zM16 29h1v2h-1zM82 29h1v2h-1zM4 27h1v2h-1zM27 27h1v2h-1zM41 27h1v2h-1zM78 27h1v2h-1zM82 27h1v2h-1zM95 27h1v2h-1zM11 25h2v2h-2zM27 25h1v2h-1zM67 25h1v2h-1zM95 25h1v2h-1zM2 23h1v2h-1zM22 23h1v2h-1zM37 23h1v2h-1zM56 23h1v2h-1zM76 23h2v2h-2zM79 23h1v2h-1zM28 21h1v2h-1zM19 19h1v2h-1zM41 19h1v2h-1zM72 17h1v2h-1zM19 15h1v2h-1zM13 13h1v2h-1zM73 13h1v2h-1zM18 0h1v1h-1z"/>
<path fill="#eb7655" d="M0 39h1v2h-1zM21 39h1v2h-1zM30 39h1v2h-1zM32 39h1v2h-1zM77 39h1v2h-1zM21 37h1v2h-1zM31 37h1v2h-1zM46 37h1v2h-1zM94 37h1v2h-1zM0 35h1v2h-1zM24 35h1v2h-1zM32 35h1v2h-1zM48 35h1v2h-1zM50 35h1v2h-1zM12 33h1v2h-1zM17 33h1v2h-1zM27 33h2v2h-2zM31 33h1v2h-1zM33 33h1v2h-1zM12 31h1v2h-1zM16 31h1v2h-1zM30 31h2v2h-2zM55 31h2v2h-2zM76 31h1v2h-1zM78 31h1v2h-1zM22 29h1v2h-1zM28 29h1v2h-1zM32 29h1v2h-1zM41 29h1v2h-1zM50 29h1v2h-1zM95 29h1v2h-1zM34 27h1v2h-1zM46 27h1v2h-1zM56 27h1v2h-1zM45 25h1v2h-1zM50 25h1v2h-1zM55 25h1v2h-1zM79 25h1v2h-1zM17 23h1v2h-1zM27 23h1v2h-1zM30 23h1v2h-1zM34 23h1v2h-1zM12 21h1v2h-1zM45 21h1v2h-1zM14 19h1v2h-1zM20 19h1v2h-1zM44 19h1v2h-1zM13 15h1v2h-1zM14 13h1v2h-1zM74 13h1v2h-1zM13 0h1v1h-1zM43 0h1v1h-1z"/>
<path fill="#ef7e50" d="M18 39h1v2h-1zM24 39h1v2h-1zM31 39h1v2h-1zM66 39h1v2h-1zM80 39h2v2h-2zM22 37h1v2h-1zM24 37h1v2h-1zM39 37h1v2h-1zM48 37h1v2h-1zM17 35h1v2h-1zM40 33h2v2h-2zM82 33h1v2h-1zM23 31h1v2h-1zM95 31h1v2h-1zM11 29h2v2h-2zM45 29h1v2h-1zM12 27h1v2h-1zM15 27h1v2h-1zM17 27h1v2h-1zM22 27h1v2h-1zM42 27h1v2h-1zM71 27h1v2h-1zM0 25h1v2h-1zM19 25h1v2h-1zM30 25h1v2h-1zM76 25h1v2h-1zM4 23h1v2h-1zM12 23h1v2h-1zM15 23h1v2h-1zM23 23h1v2h-1zM31 23h1v2h-1zM54 23h1v2h-1zM78 23h1v2h-1zM20 21h1v2h-1zM41 21h2v2h-2zM72 21h1v2h-1zM74 17h1v2h-1zM43 13h1v2h-1z"/>
<path fill="#f2844b" d="M75 41h1v2h-1zM20 39h1v2h-1zM23 39h1v2h-1zM39 39h2v2h-2zM50 39h1v2h-1zM79 39h1v2h-1zM82 39h1v2h-1zM18 37h1v2h-1zM25 37h1v2h-1zM27 37h1v2h-1zM50 37h1v2h-1zM56 37h1v2h-1zM79 37h1v2h-1zM82 37h1v2h-1zM30 35h1v2h-1zM33 35h1v2h-1zM56 35h1v2h-1zM79 35h1v2h-1zM81 35h1v2h-1zM20 33h1v2h-1zM22 33h1v2h-1zM75 33h1v2h-1zM18 31h1v2h-1zM22 31h1v2h-1zM75 31h1v2h-1zM79 31h1v2h-1zM15 29h1v2h-1zM18 29h1v2h-1zM23 29h1v2h-1zM76 29h1v2h-1zM79 29h1v2h-1zM18 27h1v2h-1zM50 27h1v2h-1zM72 27h1v2h-1zM18 25h1v2h-1zM20 25h3v2h-3zM42 25h1v2h-1zM71 25h1v2h-1zM40 23h2v2h-2zM50 23h1v2h-1zM71 23h1v2h-1zM18 21h2v2h-2zM21 21h1v2h-1zM75 21h1v2h-1zM14 17h1v2h-1zM73 15h1v2h-1z"/>
<path fill="#f58c46" d="M33 39h1v2h-1zM55 39h1v2h-1zM76 39h1v2h-1zM20 37h1v2h-1zM55 37h1v2h-1zM81 37h1v2h-1zM95 37h1v2h-1zM20 35h1v2h-1zM22 35h1v2h-1zM78 35h1v2h-1zM76 33h1v2h-1zM78 33h1v2h-1zM81 33h1v2h-1zM95 33h1v2h-1zM19 31h1v2h-1zM44 31h1v2h-1zM72 31h1v2h-1zM19 29h3v2h-3zM71 29h2v2h-2zM75 29h1v2h-1zM13 25h1v2h-1zM75 25h1v2h-1zM19 23h1v2h-1zM24 23h1v2h-1zM73 19h2v2h-2zM73 17h1v2h-1zM43 15h1v2h-1z"/>
<path fill="#f79342" d="M11 39h1v2h-1zM56 39h1v2h-1zM78 39h1v2h-1zM30 37h1v2h-1zM76 37h1v2h-1zM11 35h1v2h-1zM18 35h1v2h-1zM55 35h1v2h-1zM71 35h1v2h-1zM76 35h1v2h-1zM82 35h1v2h-1zM95 35h1v2h-1zM11 33h1v2h-1zM71 33h1v2h-1zM42 31h2v2h-2zM19 27h1v2h-1zM21 27h1v2h-1zM44 27h1v2h-1zM75 27h1v2h-1zM72 25h1v2h-1zM45 23h1v2h-1zM44 21h1v2h-1z"/>
<path fill="#fa9b3d" d="M22 39h1v2h-1zM29 39h1v2h-1zM41 39h1v2h-1zM45 39h1v2h-1zM11 37h1v2h-1zM19 37h1v2h-1zM71 37h1v2h-1zM12 35h1v2h-1zM19 35h1v2h-1zM28 35h2v2h-2zM18 33h1v2h-1zM29 33h1v2h-1zM44 33h2v2h-2zM15 31h1v2h-1zM11 27h1v2h-1zM45 27h1v2h-1zM28 25h1v2h-1zM44 25h1v2h-1zM18 23h1v2h-1zM42 23h1v2h-1z"/>
<path fill="#fba238" d="M28 39h1v2h-1zM71 39h1v2h-1zM12 37h1v2h-1zM29 37h1v2h-1zM42 37h1v2h-1zM41 35h1v2h-1zM14 33h1v2h-1zM16 33h1v2h-1zM74 31h1v2h-1zM13 27h1v2h-1zM20 23h1v2h-1zM44 23h1v2h-1zM72 23h1v2h-1zM73 21h1v2h-1zM43 19h1v2h-1zM13 17h1v2h-1zM43 17h1v2h-1z"/>
<path fill="#fca934" d="M16 39h1v2h-1zM19 39h1v2h-1zM28 37h1v2h-1zM16 35h1v2h-1zM75 35h1v2h-1zM42 29h1v2h-1zM14 27h1v2h-1zM20 27h1v2h-1zM43 27h1v2h-1zM11 23h1v2h-1zM13 23h1v2h-1zM21 23h1v2h-1zM28 23h1v2h-1zM43 23h1v2h-1zM75 23h1v2h-1zM13 21h2v2h-2zM13 19h1v2h-1z"/>
<path fill="#fdb22f" d="M16 37h1v2h-1zM45 35h1v2h-1zM72 35h1v2h-1zM15 33h1v2h-1zM42 33h1v2h-1zM72 33h1v2h-1zM13 31h1v2h-1zM73 29h1v2h-1zM73 27h1v2h-1zM43 25h1v2h-1zM74 25h1v2h-1zM14 23h1v2h-1zM74 23h1v2h-1z"/>
<path fill="#feba2c" d="M12 39h1v2h-1zM45 37h1v2h-1zM72 37h1v2h-1zM43 33h1v2h-1zM14 29h1v2h-1zM43 29h1v2h-1zM14 25h1v2h-1zM73 25h1v2h-1zM43 21h1v2h-1zM74 21h1v2h-1z"/>
<path fill="#fdc328" d="M15 39h1v2h-1zM42 39h1v2h-1zM72 39h1v2h-1zM15 37h1v2h-1zM41 37h1v2h-1zM14 35h2v2h-2zM42 35h1v2h-1zM44 35h1v2h-1zM13 33h1v2h-1zM73 31h1v2h-1zM13 29h1v2h-1zM44 29h1v2h-1zM73 23h1v2h-1z"/>
<path fill="#fdcb26" d="M44 39h1v2h-1zM75 39h1v2h-1zM44 37h1v2h-1zM75 37h1v2h-1zM73 33h1v2h-1zM14 31h1v2h-1zM74 29h1v2h-1z"/>
<path fill="#fbd524" d="M43 37h1v2h-1zM43 35h1v2h-1zM73 35h2v2h-2zM74 33h1v2h-1zM74 27h1v2h-1z"/>
<path fill="#f9dd25" d="M43 39h1v2h-1z"/>
<path fill="#f6e826" d="M74 39h1v2h-1zM13 35h1v2h-1z"/>
<path fill="#f3f027" d="M14 39h1v2h-1zM74 37h1v2h-1z"/>
<path fill="#f0f921" d="M13 39h1v2h-1zM73 39h1v2h-1zM13 37h2v2h-2zM73 37h1v2h-1z"/>
</g>
<line x1="1282.81" y1="619.20" x2="1282.81" y2="844.50" stroke="#808080" stroke-opacity="0.6" stroke-width="1.25"/>
<text x="0.00" y="0.00" font-size="17.50" textLength="65.57" lengthAdjust="spacingAndGlyphs" fill="#444" transform="translate(1288.01 617.50) rotate(-90)">Pinched</text>
<line x1="1323.09" y1="619.20" x2="1323.09" y2="844.50" stroke="#808080" stroke-opacity="0.6" stroke-width="1.25"/>
<text x="0.00" y="0.00" font-size="17.50" textLength="75.85" lengthAdjust="spacingAndGlyphs" fill="#444" transform="translate(1328.29 617.50) rotate(-90)">Released</text>
<line x1="1356.22" y1="619.20" x2="1356.22" y2="844.50" stroke="#808080" stroke-opacity="0.6" stroke-width="1.25"/>
<text x="0.00" y="0.00" font-size="17.50" textLength="23.75" lengthAdjust="spacingAndGlyphs" fill="#444" transform="translate(1361.42 617.50) rotate(-90)">Hit</text>
<line x1="1425.49" y1="619.20" x2="1425.49" y2="844.50" stroke="#808080" stroke-opacity="0.6" stroke-width="1.25"/>
<text x="0.00" y="0.00" font-size="17.50" textLength="65.57" lengthAdjust="spacingAndGlyphs" fill="#444" transform="translate(1430.69 617.50) rotate(-90)">Pinched</text>
<line x1="1458.31" y1="619.20" x2="1458.31" y2="844.50" stroke="#808080" stroke-opacity="0.6" stroke-width="1.25"/>
<text x="0.00" y="0.00" font-size="17.50" textLength="75.85" lengthAdjust="spacingAndGlyphs" fill="#444" transform="translate(1463.51 617.50) rotate(-90)">Released</text>
<line x1="1482.20" y1="619.20" x2="1482.20" y2="844.50" stroke="#808080" stroke-opacity="0.6" stroke-width="1.25"/>
<text x="0.00" y="0.00" font-size="17.50" textLength="23.75" lengthAdjust="spacingAndGlyphs" fill="#444" transform="translate(1487.40 617.50) rotate(-90)">Hit</text>
<line x1="1557.29" y1="619.20" x2="1557.29" y2="844.50" stroke="#808080" stroke-opacity="0.6" stroke-width="1.25"/>
<text x="0.00" y="0.00" font-size="17.50" textLength="65.57" lengthAdjust="spacingAndGlyphs" fill="#444" transform="translate(1562.49 617.50) rotate(-90)">Pinched</text>
<line x1="1591.48" y1="619.20" x2="1591.48" y2="844.50" stroke="#808080" stroke-opacity="0.6" stroke-width="1.25"/>
<text x="0.00" y="0.00" font-size="17.50" textLength="75.85" lengthAdjust="spacingAndGlyphs" fill="#444" transform="translate(1596.68 617.50) rotate(-90)">Released</text>
<line x1="1613.51" y1="619.20" x2="1613.51" y2="844.50" stroke="#808080" stroke-opacity="0.6" stroke-width="1.25"/>
<text x="0.00" y="0.00" font-size="17.50" textLength="23.75" lengthAdjust="spacingAndGlyphs" fill="#444" transform="translate(1618.71 617.50) rotate(-90)">Hit</text>
<line x1="1699.52" y1="619.20" x2="1699.52" y2="844.50" stroke="#808080" stroke-opacity="0.6" stroke-width="1.25"/>
<text x="0.00" y="0.00" font-size="17.50" textLength="65.57" lengthAdjust="spacingAndGlyphs" fill="#444" transform="translate(1704.72 617.50) rotate(-90)">Pinched</text>
<path d="M1265.54 619.20V844.50H1709.60" fill="none" stroke="#000" stroke-width="1.11" stroke-linecap="square"/>
<rect x="1714.40" y="619.20" width="11.30" height="225.30" fill="url(#pl)"/>
<rect x="1714.40" y="619.20" width="11.30" height="225.30" fill="none" stroke="#000" stroke-width="1.11"/>
<path d="M1260.68 844.50h4.86M1260.68 806.95h4.86M1260.68 769.40h4.86M1260.68 731.85h4.86M1260.68 694.30h4.86M1260.68 656.75h4.86M1260.68 619.20h4.86M1265.54 844.50v4.86M1354.35 844.50v4.86M1443.16 844.50v4.86M1531.98 844.50v4.86M1620.79 844.50v4.86M1709.60 844.50v4.86M1725.70 823.41h4.86M1725.70 791.45h4.86M1725.70 759.49h4.86M1725.70 727.54h4.86M1725.70 695.58h4.86M1725.70 663.62h4.86M1725.70 631.66h4.86" stroke="#000" stroke-width="1.11"/>
<text x="1264.84" y="502.90" font-size="20.42" textLength="111.08" lengthAdjust="spacingAndGlyphs" fill="#000">Condition 6</text>
<text x="1264.84" y="525.90" font-size="16.04" textLength="200.53" lengthAdjust="spacingAndGlyphs" fill="#000">D = 2.5m, G = 13.73 m²/s</text>
<text x="626.70" y="27.90" font-size="23.33" textLength="560.38" lengthAdjust="spacingAndGlyphs" fill="#000">EMG Time–Frequency (μV, averaged 8ch) for Sub1</text>
<text x="260.38" y="465.68" font-size="14.58" textLength="56.38" lengthAdjust="spacingAndGlyphs" fill="#000">Time (s)</text>
<text x="0.00" y="0.00" font-size="14.58" textLength="104.75" lengthAdjust="spacingAndGlyphs" fill="#000" transform="translate(20.69 365.12) rotate(-90)">Frequency (Hz)</text>
<text x="0.00" y="0.00" font-size="14.58" textLength="98.25" lengthAdjust="spacingAndGlyphs" fill="#000" transform="translate(581.43 361.87) rotate(-90)">Power [dB/Hz]</text>
<text x="62.17" y="446.12" font-size="14.58" textLength="8.75" lengthAdjust="spacingAndGlyphs" fill="#000">0</text>
<text x="150.98" y="446.12" font-size="14.58" textLength="8.75" lengthAdjust="spacingAndGlyphs" fill="#000">2</text>
<text x="239.79" y="446.12" font-size="14.58" textLength="8.75" lengthAdjust="spacingAndGlyphs" fill="#000">4</text>
<text x="328.54" y="446.12" font-size="14.58" textLength="8.88" lengthAdjust="spacingAndGlyphs" fill="#000">6</text>
<text x="417.35" y="446.12" font-size="14.58" textLength="8.88" lengthAdjust="spacingAndGlyphs" fill="#000">8</text>
<text x="501.79" y="446.12" font-size="14.58" textLength="17.62" lengthAdjust="spacingAndGlyphs" fill="#000">10</text>
<text x="48.07" y="430.90" font-size="14.58" textLength="8.75" lengthAdjust="spacingAndGlyphs" fill="#000">0</text>
<text x="39.32" y="393.35" font-size="14.58" textLength="17.50" lengthAdjust="spacingAndGlyphs" fill="#000">20</text>
<text x="39.32" y="355.80" font-size="14.58" textLength="17.50" lengthAdjust="spacingAndGlyphs" fill="#000">40</text>
<text x="39.19" y="318.25" font-size="14.58" textLength="17.62" lengthAdjust="spacingAndGlyphs" fill="#000">60</text>
<text x="39.19" y="280.70" font-size="14.58" textLength="17.62" lengthAdjust="spacingAndGlyphs" fill="#000">80</text>
<text x="30.44" y="243.15" font-size="14.58" textLength="26.38" lengthAdjust="spacingAndGlyphs" fill="#000">100</text>
<text x="30.44" y="205.60" font-size="14.58" textLength="26.38" lengthAdjust="spacingAndGlyphs" fill="#000">120</text>
<text x="536.42" y="410.07" font-size="14.58" textLength="29.25" lengthAdjust="spacingAndGlyphs" fill="#000">−60</text>
<text x="536.42" y="378.02" font-size="14.58" textLength="29.12" lengthAdjust="spacingAndGlyphs" fill="#000">−50</text>
<text x="536.42" y="345.97" font-size="14.58" textLength="29.12" lengthAdjust="spacingAndGlyphs" fill="#000">−40</text>
<text x="536.42" y="313.92" font-size="14.58" textLength="29.12" lengthAdjust="spacingAndGlyphs" fill="#000">−30</text>
<text x="536.42" y="281.88" font-size="14.58" textLength="29.12" lengthAdjust="spacingAndGlyphs" fill="#000">−20</text>
<text x="536.42" y="249.83" font-size="14.58" textLength="29.25" lengthAdjust="spacingAndGlyphs" fill="#000">−10</text>
<text x="536.42" y="217.78" font-size="14.58" textLength="8.75" lengthAdjust="spacingAndGlyphs" fill="#000">0</text>
<text x="859.38" y="465.68" font-size="14.58" textLength="56.38" lengthAdjust="spacingAndGlyphs" fill="#000">Time (s)</text>
<text x="0.00" y="0.00" font-size="14.58" textLength="104.75" lengthAdjust="spacingAndGlyphs" fill="#000" transform="translate(619.69 365.12) rotate(-90)">Frequency (Hz)</text>
<text x="0.00" y="0.00" font-size="14.58" textLength="98.25" lengthAdjust="spacingAndGlyphs" fill="#000" transform="translate(1181.53 361.87) rotate(-90)">Power [dB/Hz]</text>
<text x="661.16" y="446.12" font-size="14.58" textLength="8.75" lengthAdjust="spacingAndGlyphs" fill="#000">0</text>
<text x="749.98" y="446.12" font-size="14.58" textLength="8.75" lengthAdjust="spacingAndGlyphs" fill="#000">2</text>
<text x="838.79" y="446.12" font-size="14.58" textLength="8.75" lengthAdjust="spacingAndGlyphs" fill="#000">4</text>
<text x="927.54" y="446.12" font-size="14.58" textLength="8.88" lengthAdjust="spacingAndGlyphs" fill="#000">6</text>
<text x="1016.35" y="446.12" font-size="14.58" textLength="8.88" lengthAdjust="spacingAndGlyphs" fill="#000">8</text>
<text x="1100.79" y="446.12" font-size="14.58" textLength="17.62" lengthAdjust="spacingAndGlyphs" fill="#000">10</text>
<text x="647.07" y="430.90" font-size="14.58" textLength="8.75" lengthAdjust="spacingAndGlyphs" fill="#000">0</text>
<text x="638.32" y="393.35" font-size="14.58" textLength="17.50" lengthAdjust="spacingAndGlyphs" fill="#000">20</text>
<text x="638.32" y="355.80" font-size="14.58" textLength="17.50" lengthAdjust="spacingAndGlyphs" fill="#000">40</text>
<text x="638.19" y="318.25" font-size="14.58" textLength="17.62" lengthAdjust="spacingAndGlyphs" fill="#000">60</text>
<text x="638.19" y="280.70" font-size="14.58" textLength="17.62" lengthAdjust="spacingAndGlyphs" fill="#000">80</text>
<text x="629.44" y="243.15" font-size="14.58" textLength="26.38" lengthAdjust="spacingAndGlyphs" fill="#000">100</text>
<text x="629.44" y="205.60" font-size="14.58" textLength="26.38" lengthAdjust="spacingAndGlyphs" fill="#000">120</text>
<text x="1136.52" y="395.26" font-size="14.58" textLength="29.25" lengthAdjust="spacingAndGlyphs" fill="#000">−60</text>
<text x="1136.52" y="340.01" font-size="14.58" textLength="29.12" lengthAdjust="spacingAndGlyphs" fill="#000">−40</text>
<text x="1136.52" y="284.75" font-size="14.58" textLength="29.12" lengthAdjust="spacingAndGlyphs" fill="#000">−20</text>
<text x="1136.52" y="229.50" font-size="14.58" textLength="8.75" lengthAdjust="spacingAndGlyphs" fill="#000">0</text>
<text x="1459.38" y="465.68" font-size="14.58" textLength="56.38" lengthAdjust="spacingAndGlyphs" fill="#000">Time (s)</text>
<text x="0.00" y="0.00" font-size="14.58" textLength="104.75" lengthAdjust="spacingAndGlyphs" fill="#000" transform="translate(1219.69 365.12) rotate(-90)">Frequency (Hz)</text>
<text x="0.00" y="0.00" font-size="14.58" textLength="98.25" lengthAdjust="spacingAndGlyphs" fill="#000" transform="translate(1780.43 361.87) rotate(-90)">Power [dB/Hz]</text>
<text x="1261.16" y="446.12" font-size="14.58" textLength="8.75" lengthAdjust="spacingAndGlyphs" fill="#000">0</text>
<text x="1349.98" y="446.12" font-size="14.58" textLength="8.75" lengthAdjust="spacingAndGlyphs" fill="#000">2</text>
<text x="1438.79" y="446.12" font-size="14.58" textLength="8.75" lengthAdjust="spacingAndGlyphs" fill="#000">4</text>
<text x="1527.54" y="446.12" font-size="14.58" textLength="8.88" lengthAdjust="spacingAndGlyphs" fill="#000">6</text>
<text x="1616.35" y="446.12" font-size="14.58" textLength="8.88" lengthAdjust="spacingAndGlyphs" fill="#000">8</text>
<text x="1700.79" y="446.12" font-size="14.58" textLength="17.62" lengthAdjust="spacingAndGlyphs" fill="#000">10</text>
<text x="1247.07" y="430.90" font-size="14.58" textLength="8.75" lengthAdjust="spacingAndGlyphs" fill="#000">0</text>
<text x="1238.32" y="393.35" font-size="14.58" textLength="17.50" lengthAdjust="spacingAndGlyphs" fill="#000">20</text>
<text x="1238.32" y="355.80" font-size="14.58" textLength="17.50" lengthAdjust="spacingAndGlyphs" fill="#000">40</text>
<text x="1238.19" y="318.25" font-size="14.58" textLength="17.62" lengthAdjust="spacingAndGlyphs" fill="#000">60</text>
<text x="1238.19" y="280.70" font-size="14.58" textLength="17.62" lengthAdjust="spacingAndGlyphs" fill="#000">80</text>
<text x="1229.44" y="243.15" font-size="14.58" textLength="26.38" lengthAdjust="spacingAndGlyphs" fill="#000">100</text>
<text x="1229.44" y="205.60" font-size="14.58" textLength="26.38" lengthAdjust="spacingAndGlyphs" fill="#000">120</text>
<text x="1735.42" y="415.54" font-size="14.58" textLength="29.25" lengthAdjust="spacingAndGlyphs" fill="#000">−60</text>
<text x="1735.42" y="381.40" font-size="14.58" textLength="29.12" lengthAdjust="spacingAndGlyphs" fill="#000">−50</text>
<text x="1735.42" y="347.27" font-size="14.58" textLength="29.12" lengthAdjust="spacingAndGlyphs" fill="#000">−40</text>
<text x="1735.42" y="313.13" font-size="14.58" textLength="29.12" lengthAdjust="spacingAndGlyphs" fill="#000">−30</text>
<text x="1735.42" y="278.99" font-size="14.58" textLength="29.12" lengthAdjust="spacingAndGlyphs" fill="#000">−20</text>
<text x="1735.42" y="244.86" font-size="14.58" textLength="29.25" lengthAdjust="spacingAndGlyphs" fill="#000">−10</text>
<text x="1735.42" y="210.72" font-size="14.58" textLength="8.75" lengthAdjust="spacingAndGlyphs" fill="#000">0</text>
<text x="260.38" y="884.78" font-size="14.58" textLength="56.38" lengthAdjust="spacingAndGlyphs" fill="#000">Time (s)</text>
<text x="0.00" y="0.00" font-size="14.58" textLength="104.75" lengthAdjust="spacingAndGlyphs" fill="#000" transform="translate(20.69 784.23) rotate(-90)">Frequency (Hz)</text>
<text x="0.00" y="0.00" font-size="14.58" textLength="98.25" lengthAdjust="spacingAndGlyphs" fill="#000" transform="translate(581.43 780.98) rotate(-90)">Power [dB/Hz]</text>
<text x="62.17" y="865.22" font-size="14.58" textLength="8.75" lengthAdjust="spacingAndGlyphs" fill="#000">0</text>
<text x="150.98" y="865.22" font-size="14.58" textLength="8.75" lengthAdjust="spacingAndGlyphs" fill="#000">2</text>
<text x="239.79" y="865.22" font-size="14.58" textLength="8.75" lengthAdjust="spacingAndGlyphs" fill="#000">4</text>
<text x="328.54" y="865.22" font-size="14.58" textLength="8.88" lengthAdjust="spacingAndGlyphs" fill="#000">6</text>
<text x="417.35" y="865.22" font-size="14.58" textLength="8.88" lengthAdjust="spacingAndGlyphs" fill="#000">8</text>
<text x="501.79" y="865.22" font-size="14.58" textLength="17.62" lengthAdjust="spacingAndGlyphs" fill="#000">10</text>
<text x="48.07" y="850.00" font-size="14.58" textLength="8.75" lengthAdjust="spacingAndGlyphs" fill="#000">0</text>
<text x="39.32" y="812.45" font-size="14.58" textLength="17.50" lengthAdjust="spacingAndGlyphs" fill="#000">20</text>
<text x="39.32" y="774.90" font-size="14.58" textLength="17.50" lengthAdjust="spacingAndGlyphs" fill="#000">40</text>
<text x="39.19" y="737.35" font-size="14.58" textLength="17.62" lengthAdjust="spacingAndGlyphs" fill="#000">60</text>
<text x="39.19" y="699.80" font-size="14.58" textLength="17.62" lengthAdjust="spacingAndGlyphs" fill="#000">80</text>
<text x="30.44" y="662.25" font-size="14.58" textLength="26.38" lengthAdjust="spacingAndGlyphs" fill="#000">100</text>
<text x="30.44" y="624.70" font-size="14.58" textLength="26.38" lengthAdjust="spacingAndGlyphs" fill="#000">120</text>
<text x="536.42" y="821.26" font-size="14.58" textLength="29.25" lengthAdjust="spacingAndGlyphs" fill="#000">−60</text>
<text x="536.42" y="789.51" font-size="14.58" textLength="29.12" lengthAdjust="spacingAndGlyphs" fill="#000">−50</text>
<text x="536.42" y="757.75" font-size="14.58" textLength="29.12" lengthAdjust="spacingAndGlyphs" fill="#000">−40</text>
<text x="536.42" y="726.00" font-size="14.58" textLength="29.12" lengthAdjust="spacingAndGlyphs" fill="#000">−30</text>
<text x="536.42" y="694.24" font-size="14.58" textLength="29.12" lengthAdjust="spacingAndGlyphs" fill="#000">−20</text>
<text x="536.42" y="662.49" font-size="14.58" textLength="29.25" lengthAdjust="spacingAndGlyphs" fill="#000">−10</text>
<text x="536.42" y="630.73" font-size="14.58" textLength="8.75" lengthAdjust="spacingAndGlyphs" fill="#000">0</text>
<text x="859.38" y="884.78" font-size="14.58" textLength="56.38" lengthAdjust="spacingAndGlyphs" fill="#000">Time (s)</text>
<text x="0.00" y="0.00" font-size="14.58" textLength="104.75" lengthAdjust="spacingAndGlyphs" fill="#000" transform="translate(619.69 784.23) rotate(-90)">Frequency (Hz)</text>
<text x="0.00" y="0.00" font-size="14.58" textLength="98.25" lengthAdjust="spacingAndGlyphs" fill="#000" transform="translate(1181.53 780.98) rotate(-90)">Power [dB/Hz]</text>
<text x="661.16" y="865.22" font-size="14.58" textLength="8.75" lengthAdjust="spacingAndGlyphs" fill="#000">0</text>
<text x="749.98" y="865.22" font-size="14.58" textLength="8.75" lengthAdjust="spacingAndGlyphs" fill="#000">2</text>
<text x="838.79" y="865.22" font-size="14.58" textLength="8.75" lengthAdjust="spacingAndGlyphs" fill="#000">4</text>
<text x="927.54" y="865.22" font-size="14.58" textLength="8.88" lengthAdjust="spacingAndGlyphs" fill="#000">6</text>
<text x="1016.35" y="865.22" font-size="14.58" textLength="8.88" lengthAdjust="spacingAndGlyphs" fill="#000">8</text>
<text x="1100.79" y="865.22" font-size="14.58" textLength="17.62" lengthAdjust="spacingAndGlyphs" fill="#000">10</text>
<text x="647.07" y="850.00" font-size="14.58" textLength="8.75" lengthAdjust="spacingAndGlyphs" fill="#000">0</text>
<text x="638.32" y="812.45" font-size="14.58" textLength="17.50" lengthAdjust="spacingAndGlyphs" fill="#000">20</text>
<text x="638.32" y="774.90" font-size="14.58" textLength="17.50" lengthAdjust="spacingAndGlyphs" fill="#000">40</text>
<text x="638.19" y="737.35" font-size="14.58" textLength="17.62" lengthAdjust="spacingAndGlyphs" fill="#000">60</text>
<text x="638.19" y="699.80" font-size="14.58" textLength="17.62" lengthAdjust="spacingAndGlyphs" fill="#000">80</text>
<text x="629.44" y="662.25" font-size="14.58" textLength="26.38" lengthAdjust="spacingAndGlyphs" fill="#000">100</text>
<text x="629.44" y="624.70" font-size="14.58" textLength="26.38" lengthAdjust="spacingAndGlyphs" fill="#000">120</text>
<text x="1136.52" y="830.37" font-size="14.58" textLength="29.25" lengthAdjust="spacingAndGlyphs" fill="#000">−60</text>
<text x="1136.52" y="797.09" font-size="14.58" textLength="29.12" lengthAdjust="spacingAndGlyphs" fill="#000">−50</text>
<text x="1136.52" y="763.81" font-size="14.58" textLength="29.12" lengthAdjust="spacingAndGlyphs" fill="#000">−40</text>
<text x="1136.52" y="730.53" font-size="14.58" textLength="29.12" lengthAdjust="spacingAndGlyphs" fill="#000">−30</text>
<text x="1136.52" y="697.25" font-size="14.58" textLength="29.12" lengthAdjust="spacingAndGlyphs" fill="#000">−20</text>
<text x="1136.52" y="663.97" font-size="14.58" textLength="29.25" lengthAdjust="spacingAndGlyphs" fill="#000">−10</text>
<text x="1136.52" y="630.69" font-size="14.58" textLength="8.75" lengthAdjust="spacingAndGlyphs" fill="#000">0</text>
<text x="1459.38" y="884.78" font-size="14.58" textLength="56.38" lengthAdjust="spacingAndGlyphs" fill="#000">Time (s)</text>
<text x="0.00" y="0.00" font-size="14.58" textLength="104.75" lengthAdjust="spacingAndGlyphs" fill="#000" transform="translate(1219.69 784.23) rotate(-90)">Frequency (Hz)</text>
<text x="0.00" y="0.00" font-size="14.58" textLength="98.25" lengthAdjust="spacingAndGlyphs" fill="#000" transform="translate(1780.43 780.98) rotate(-90)">Power [dB/Hz]</text>
<text x="1261.16" y="865.22" font-size="14.58" textLength="8.75" lengthAdjust="spacingAndGlyphs" fill="#000">0</text>
<text x="1349.98" y="865.22" font-size="14.58" textLength="8.75" lengthAdjust="spacingAndGlyphs" fill="#000">2</text>
<text x="1438.79" y="865.22" font-size="14.58" textLength="8.75" lengthAdjust="spacingAndGlyphs" fill="#000">4</text>
<text x="1527.54" y="865.22" font-size="14.58" textLength="8.88" lengthAdjust="spacingAndGlyphs" fill="#000">6</text>
<text x="1616.35" y="865.22" font-size="14.58" textLength="8.88" lengthAdjust="spacingAndGlyphs" fill="#000">8</text>
<text x="1700.79" y="865.22" font-size="14.58" textLength="17.62" lengthAdjust="spacingAndGlyphs" fill="#000">10</text>
<text x="1247.07" y="850.00" font-size="14.58" textLength="8.75" lengthAdjust="spacingAndGlyphs" fill="#000">0</text>
<text x="1238.32" y="812.45" font-size="14.58" textLength="17.50" lengthAdjust="spacingAndGlyphs" fill="#000">20</text>
<text x="1238.32" y="774.90" font-size="14.58" textLength="17.50" lengthAdjust="spacingAndGlyphs" fill="#000">40</text>
<text x="1238.19" y="737.35" font-size="14.58" textLength="17.62" lengthAdjust="spacingAndGlyphs" fill="#000">60</text>
<text x="1238.19" y="699.80" font-size="14.58" textLength="17.62" lengthAdjust="spacingAndGlyphs" fill="#000">80</text>
<text x="1229.44" y="662.25" font-size="14.58" textLength="26.38" lengthAdjust="spacingAndGlyphs" fill="#000">100</text>
<text x="1229.44" y="624.70" font-size="14.58" textLength="26.38" lengthAdjust="spacingAndGlyphs" fill="#000">120</text>
<text x="1735.42" y="828.91" font-size="14.58" textLength="29.25" lengthAdjust="spacingAndGlyphs" fill="#000">−60</text>
<text x="1735.42" y="796.95" font-size="14.58" textLength="29.12" lengthAdjust="spacingAndGlyphs" fill="#000">−50</text>
<text x="1735.42" y="764.99" font-size="14.58" textLength="29.12" lengthAdjust="spacingAndGlyphs" fill="#000">−40</text>
<text x="1735.42" y="733.04" font-size="14.58" textLength="29.12" lengthAdjust="spacingAndGlyphs" fill="#000">−30</text>
<text x="1735.42" y="701.08" font-size="14.58" textLength="29.12" lengthAdjust="spacingAndGlyphs" fill="#000">−20</text>
<text x="1735.42" y="669.12" font-size="14.58" textLength="29.25" lengthAdjust="spacingAndGlyphs" fill="#000">−10</text>
<text x="1735.42" y="637.16" font-size="14.58" textLength="8.75" lengthAdjust="spacingAndGlyphs" fill="#000">0</text>
</svg>
</body></html>
